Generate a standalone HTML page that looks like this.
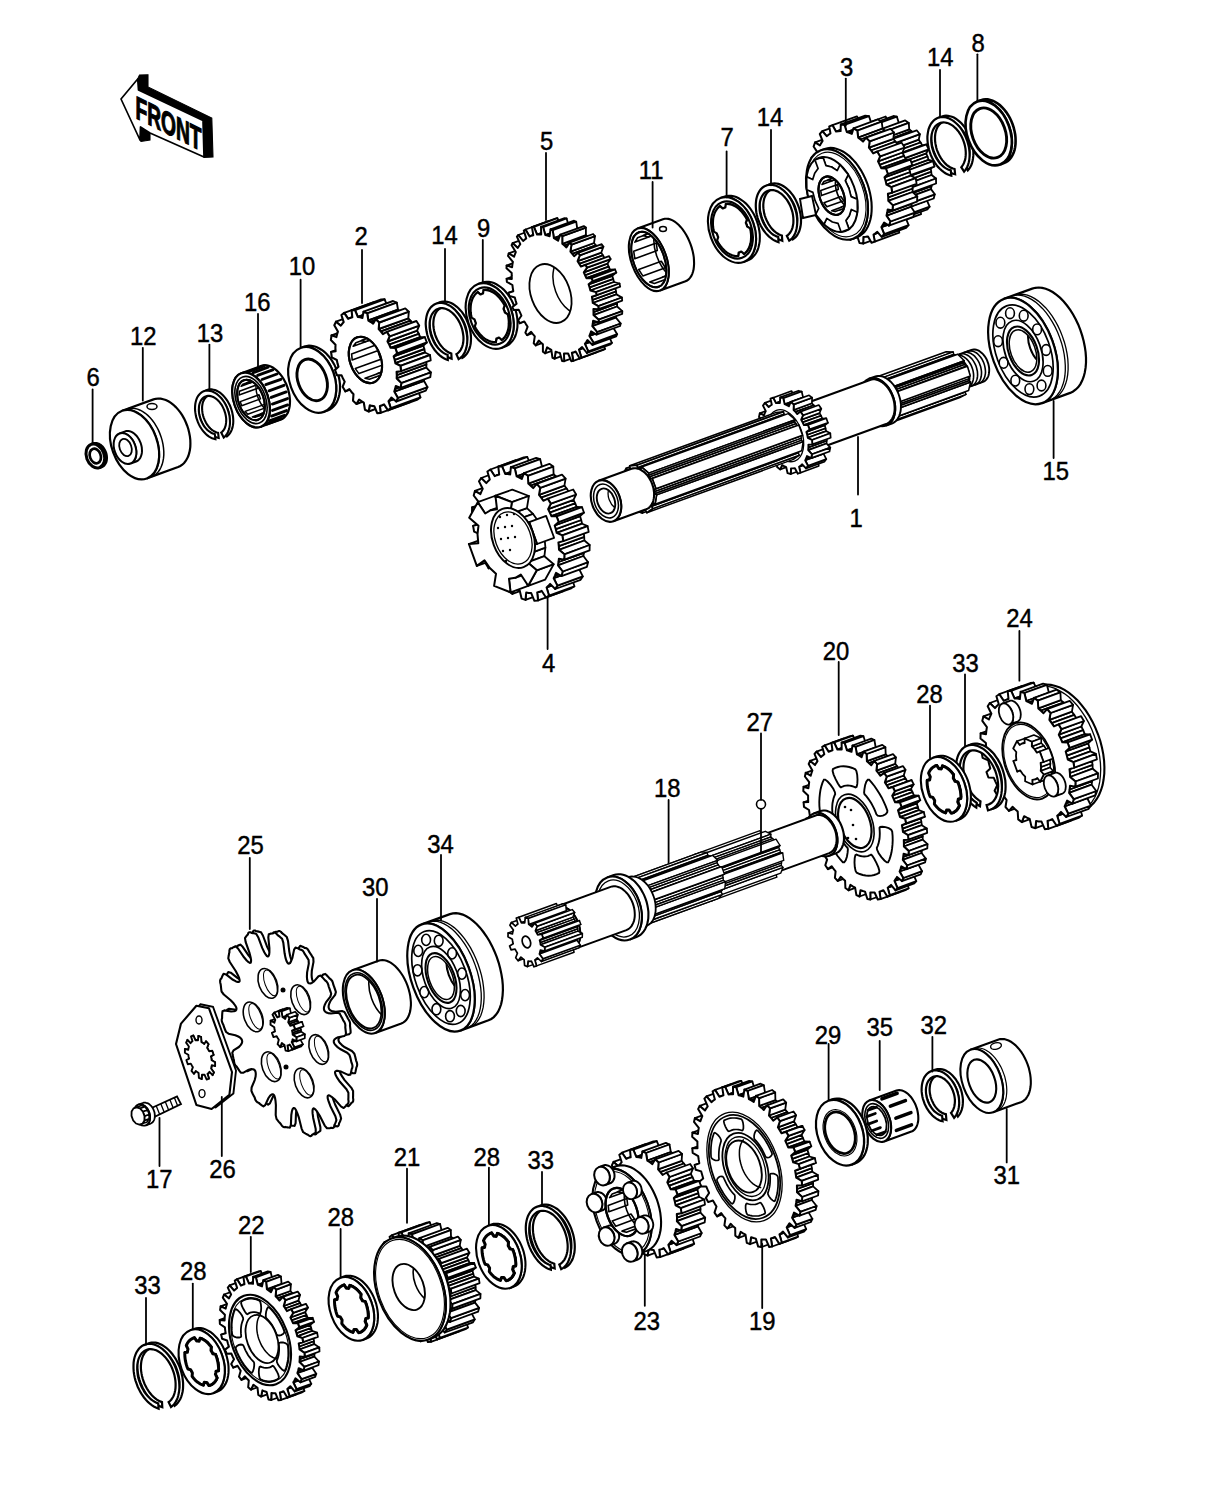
<!DOCTYPE html>
<html><head><meta charset="utf-8"><style>
html,body{margin:0;padding:0;background:#fff;}
svg{display:block;font-family:"Liberation Sans",sans-serif;}
</style></head><body>
<svg width="1224" height="1493" viewBox="0 0 1224 1493" stroke-linecap="round">
<polygon points="137.7,79 139.5,75 148,74.8 148,87 211.8,118 213,157 204,157.5 203,120.5 138.5,90" fill="#000" stroke="#000" stroke-width="1.1" />
<polygon points="140.5,127 150,133 150,140 141,141.5 140,140" fill="#000" stroke="#000" stroke-width="1.1" />
<polygon points="121,99 137.7,79 138.5,90 203,120.5 204,157 150,133 140.5,127 140,140" fill="#fff" stroke="#000" stroke-width="1.7" stroke-linejoin="round"/>
<text transform="translate(135.5,118) skewY(26.6) scale(0.6,1)" font-weight="bold" font-size="32" stroke="#000" stroke-width="1.2">FRONT</text>
<polygon points="91.1,444.4 93,443.8 93.9,443.5 94.8,443.4 95.8,443.4 96.7,443.5 97.7,443.8 98.7,444.2 99.6,444.7 100.5,445.3 101.4,446.1 102.3,446.9 103.1,447.8 103.8,448.9 104.4,450 105,451.1 105.5,452.3 105.9,453.5 106.2,454.8 106.4,456 106.5,457.3 106.5,458.5 106.4,459.7 106.2,460.8 105.9,461.9 105.5,462.9 105,463.8 104.4,464.6 103.8,465.4 103,466 102.2,466.5 101.4,466.9 99.5,467.6 100.4,467.2 101.1,466.7 101.9,466.1 102.5,465.3 103.1,464.5 103.6,463.6 104,462.6 104.3,461.5 104.5,460.3 104.6,459.2 104.6,457.9 104.5,456.7 104.3,455.4 104,454.2 103.6,453 103.1,451.8 102.6,450.6 101.9,449.5 101.2,448.5 100.4,447.6 99.6,446.8 98.7,446 97.7,445.4 96.8,444.9 95.8,444.5 94.8,444.2 93.9,444.1 92.9,444.1 92,444.2 91.1,444.4" fill="#fff" stroke="#000" stroke-width="3" />
<ellipse cx="95.3" cy="456" rx="8.9" ry="12.3" transform="rotate(-20 95.3 456)" fill="#fff" stroke="#000" stroke-width="3"/>
<ellipse cx="95.3" cy="456" rx="5.4" ry="7.5" transform="rotate(-20 95.3 456)" fill="#fff" stroke="#000" stroke-width="2.7"/>
<text transform="translate(93.2,385.6) scale(0.9,1)" text-anchor="middle" font-size="26.5" stroke="#000" stroke-width="0.45">6</text>
<line x1="92.6" y1="389.5" x2="92.6" y2="443.8" stroke="#000" stroke-width="1.8"/>
<polygon points="122.2,410.8 153.5,399.4 155.8,398.8 158.2,398.5 160.7,398.6 163.2,399.2 165.8,400 168.4,401.3 170.9,402.9 173.4,404.8 175.8,407.1 178.1,409.6 180.3,412.4 182.3,415.4 184.1,418.6 185.7,422 187.1,425.5 188.3,429 189.2,432.7 189.9,436.3 190.3,439.9 190.4,443.4 190.3,446.8 189.9,450.1 189.2,453.2 188.3,456 187.1,458.6 185.7,461 184.1,463 182.3,464.7 180.3,466 178.1,467 146.8,478.4 149,477.4 151,476.1 152.8,474.4 154.4,472.3 155.8,470 157,467.4 157.9,464.5 158.6,461.5 159,458.2 159.1,454.8 159,451.3 158.6,447.7 157.9,444 157,440.4 155.8,436.8 154.4,433.3 152.8,430 151,426.8 149,423.8 146.8,421 144.5,418.4 142.1,416.2 139.6,414.3 137.1,412.7 134.5,411.4 131.9,410.5 129.4,410 126.9,409.9 124.5,410.1 122.2,410.8" fill="#fff" stroke="#000" stroke-width="2.2" />
<ellipse cx="134.5" cy="444.6" rx="22.7" ry="36" transform="rotate(-20 134.5 444.6)" fill="#fff" stroke="#000" stroke-width="2.2"/>
<polyline points="127.6,408.8 130,408.3 132.5,408.2 135,408.5 137.6,409.1 140.2,410.2 142.8,411.6 145.3,413.3 147.8,415.4 150.2,417.8 152.5,420.5 154.6,423.4 156.5,426.5 158.3,429.9 159.8,433.4 161.1,436.9 162.2,440.6 163,444.3 163.5,447.9 163.8,451.5 163.8,455 163.5,458.4 162.9,461.6 162.1,464.6 161,467.3 159.7,469.8 158.1,472 156.3,473.8 154.4,475.3 152.2,476.4" fill="none" stroke="#000" stroke-width="1.5" />
<polygon points="119.5,433.5 125.2,431.4 126.2,431.1 127.3,431 128.5,431 129.7,431.2 130.9,431.6 132,432.2 133.2,432.9 134.4,433.7 135.4,434.7 136.5,435.8 137.5,437 138.4,438.4 139.2,439.8 139.9,441.3 140.6,442.8 141.1,444.4 141.5,446 141.8,447.7 141.9,449.3 142,450.8 141.9,452.4 141.7,453.8 141.3,455.2 140.9,456.5 140.3,457.7 139.7,458.7 138.9,459.6 138.1,460.4 137.1,461 136.1,461.5 130.5,463.5 131.5,463.1 132.4,462.5 133.3,461.7 134,460.8 134.7,459.7 135.3,458.5 135.7,457.3 136,455.9 136.2,454.4 136.3,452.9 136.3,451.3 136.1,449.7 135.8,448.1 135.4,446.5 134.9,444.9 134.3,443.3 133.6,441.8 132.7,440.4 131.8,439.1 130.9,437.9 129.8,436.7 128.7,435.8 127.6,434.9 126.4,434.2 125.2,433.7 124,433.3 122.9,433.1 121.7,433 120.6,433.2 119.5,433.5" fill="#fff" stroke="#000" stroke-width="2" />
<ellipse cx="125" cy="448.5" rx="10.6" ry="16" transform="rotate(-20 125 448.5)" fill="#fff" stroke="#000" stroke-width="2"/>
<ellipse cx="125.5" cy="447.5" rx="5.9" ry="9" transform="rotate(-20 125.5 447.5)" fill="#fff" stroke="#000" stroke-width="1.8"/>
<ellipse cx="152" cy="406.6" rx="5" ry="3" fill="#fff" stroke="#000" stroke-width="1.5"/>
<text transform="translate(143.3,344.6) scale(0.9,1)" text-anchor="middle" font-size="26.5" stroke="#000" stroke-width="0.45">12</text>
<line x1="142.8" y1="347.8" x2="142.8" y2="400.5" stroke="#000" stroke-width="1.8"/>
<polygon points="218.7,438 217,437.6 215.4,437 213.7,436.2 212,435.2 210.4,433.9 208.8,432.5 207.3,430.9 205.9,429.2 204.6,427.3 203.3,425.3 202.2,423.2 201.2,421 200.4,418.7 199.6,416.4 199.1,414.1 198.6,411.7 198.4,409.4 198.3,407.1 198.3,404.9 198.6,402.8 199,400.7 199.5,398.8 200.2,397 201,395.4 202,394 203.1,392.7 204.3,391.6 205.6,390.7 207,390.1 208.5,389.6 210.1,389.4 211.7,389.4 213.3,389.7 215,390.1 216.7,390.8 218.3,391.7 220,392.7 221.6,394 223.2,395.5 224.6,397.1 226,398.9 227.4,400.8 228.6,402.9 229.7,405 230.6,407.2 231.4,409.5 232.1,411.8 232.6,414.2 233,416.5 233.2,418.8 233.3,421.1 233.2,423.3 232.9,425.4 232.5,427.4 231.9,429.3 231.2,431 230.3,432.6 229.3,434 228.2,435.2 227,436.3 224.5,431.4 225.5,430.6 226.4,429.6 227.2,428.5 227.8,427.3 228.4,425.9 228.9,424.5 229.2,422.9 229.4,421.2 229.5,419.5 229.4,417.7 229.3,415.9 229,414.1 228.6,412.3 228,410.4 227.4,408.7 226.6,406.9 225.8,405.2 224.8,403.6 223.8,402.1 222.7,400.7 221.6,399.5 220.3,398.3 219.1,397.3 217.8,396.5 216.5,395.8 215.2,395.3 213.9,394.9 212.6,394.7 211.3,394.7 210.1,394.9 208.9,395.2 207.8,395.8 206.8,396.4 205.8,397.3 205,398.3 204.2,399.4 203.6,400.7 203,402.1 202.6,403.6 202.3,405.2 202.1,406.8 202.1,408.6 202.2,410.4 202.4,412.2 202.7,414 203.1,415.8 203.7,417.6 204.4,419.4 205.2,421.1 206,422.8 207,424.4 208.1,425.9 209.2,427.2 210.4,428.5 211.6,429.6 212.9,430.5 214.1,431.3 215.5,432 216.8,432.5 218.1,432.8" fill="#fff" stroke="#000" stroke-width="2.1" />
<polygon points="215.4,439.2 213.8,438.8 212.1,438.2 210.4,437.4 208.7,436.4 207.1,435.1 205.6,433.7 204,432.1 202.6,430.4 201.3,428.5 200,426.5 198.9,424.4 197.9,422.2 197.1,419.9 196.3,417.6 195.8,415.3 195.4,412.9 195.1,410.6 195,408.3 195.1,406.1 195.3,404 195.7,401.9 196.2,400 196.9,398.2 197.7,396.6 198.7,395.2 199.8,393.9 201,392.8 202.3,391.9 203.7,391.3 205.2,390.8 206.8,390.6 208.4,390.6 210,390.9 211.7,391.3 213.4,392 215,392.9 216.7,393.9 218.3,395.2 219.9,396.7 221.4,398.3 222.8,400.1 224.1,402 225.3,404.1 226.4,406.2 227.3,408.4 228.1,410.7 228.8,413 229.4,415.4 229.7,417.7 229.9,420 230,422.3 229.9,424.5 229.6,426.6 229.2,428.6 228.6,430.5 227.9,432.2 227,433.8 226,435.2 224.9,436.4 223.7,437.5 221.2,432.6 222.2,431.8 223.1,430.8 223.9,429.7 224.6,428.5 225.1,427.1 225.6,425.7 225.9,424.1 226.1,422.4 226.2,420.7 226.2,418.9 226,417.1 225.7,415.3 225.3,413.5 224.7,411.6 224.1,409.9 223.3,408.1 222.5,406.4 221.6,404.8 220.5,403.3 219.4,401.9 218.3,400.7 217,399.5 215.8,398.5 214.5,397.7 213.2,397 211.9,396.5 210.6,396.1 209.3,395.9 208,395.9 206.8,396.1 205.6,396.4 204.5,396.9 203.5,397.6 202.5,398.5 201.7,399.5 200.9,400.6 200.3,401.9 199.7,403.3 199.3,404.8 199,406.4 198.9,408 198.8,409.8 198.9,411.6 199.1,413.4 199.4,415.2 199.9,417 200.4,418.8 201.1,420.6 201.9,422.3 202.8,424 203.7,425.6 204.8,427.1 205.9,428.4 207.1,429.7 208.3,430.8 209.6,431.7 210.9,432.5 212.2,433.2 213.5,433.7 214.8,434" fill="#fff" stroke="#000" stroke-width="2.1" />
<text transform="translate(210,341.6) scale(0.9,1)" text-anchor="middle" font-size="26.5" stroke="#000" stroke-width="0.45">13</text>
<line x1="209.4" y1="344.6" x2="209.4" y2="390" stroke="#000" stroke-width="1.8"/>
<polygon points="241.3,373.2 261.5,365.9 263.2,365.4 265,365.2 266.9,365.4 268.8,365.8 270.8,366.5 272.8,367.5 274.7,368.8 276.6,370.4 278.5,372.2 280.2,374.2 281.9,376.4 283.5,378.8 284.9,381.4 286.2,384 287.3,386.8 288.2,389.6 288.9,392.5 289.5,395.4 289.8,398.2 290,401 289.9,403.7 289.7,406.2 289.2,408.6 288.5,410.9 287.7,412.9 286.6,414.7 285.4,416.3 284.1,417.6 282.6,418.7 281,419.4 260.7,426.8 262.4,426 263.9,425 265.2,423.7 266.4,422.1 267.5,420.3 268.3,418.2 269,416 269.5,413.6 269.7,411 269.8,408.3 269.6,405.6 269.3,402.7 268.7,399.8 268,397 267.1,394.2 266,391.4 264.7,388.7 263.3,386.2 261.7,383.8 260,381.5 258.3,379.5 256.4,377.7 254.5,376.2 252.6,374.9 250.6,373.9 248.6,373.2 246.7,372.7 244.8,372.6 243,372.8 241.3,373.2" fill="#fff" stroke="#000" stroke-width="2.2" />
<ellipse cx="251" cy="400" rx="17.1" ry="28.5" transform="rotate(-20 251 400)" fill="#fff" stroke="#000" stroke-width="2.2"/>
<line x1="248.6" y1="371.6" x2="263.6" y2="366.1" stroke="#000" stroke-width="2.9"/>
<line x1="253.1" y1="372.7" x2="268.1" y2="367.2" stroke="#000" stroke-width="2.9"/>
<line x1="257.6" y1="375.4" x2="272.7" y2="369.9" stroke="#000" stroke-width="2.9"/>
<line x1="262" y1="379.5" x2="277" y2="374" stroke="#000" stroke-width="2.9"/>
<line x1="265.8" y1="384.7" x2="280.9" y2="379.3" stroke="#000" stroke-width="2.9"/>
<line x1="269" y1="390.8" x2="284" y2="385.3" stroke="#000" stroke-width="2.9"/>
<line x1="271.2" y1="397.4" x2="286.2" y2="391.9" stroke="#000" stroke-width="2.9"/>
<line x1="272.4" y1="404.1" x2="287.5" y2="398.6" stroke="#000" stroke-width="2.9"/>
<line x1="272.5" y1="410.4" x2="287.6" y2="404.9" stroke="#000" stroke-width="2.9"/>
<line x1="271.5" y1="416.1" x2="286.5" y2="410.6" stroke="#000" stroke-width="2.9"/>
<line x1="269.4" y1="420.8" x2="284.5" y2="415.3" stroke="#000" stroke-width="2.9"/>
<line x1="266.5" y1="424.1" x2="281.5" y2="418.7" stroke="#000" stroke-width="2.9"/>
<ellipse cx="251" cy="400" rx="17.1" ry="28.5" transform="rotate(-20 251 400)" fill="#fff" stroke="#000" stroke-width="2.2"/>
<ellipse cx="251" cy="400" rx="14.7" ry="24.5" transform="rotate(-20 251 400)" fill="#fff" stroke="#000" stroke-width="1.6"/>
<ellipse cx="251" cy="400" rx="12.6" ry="21" transform="rotate(-20 251 400)" fill="#fff" stroke="#000" stroke-width="2"/>
<clipPath id="c1"><ellipse cx="251" cy="400" rx="12.6" ry="21" transform="rotate(-20 251 400)"/></clipPath>
<g clip-path="url(#c1)">
<polygon points="260.9,413.8 259,415.9 277.8,409.1 279.7,406.9" fill="#fff" stroke="#000" stroke-width="1.5" stroke-linejoin="round"/>
<polygon points="255.1,417.3 252.3,416.9 271.1,410.1 273.9,410.5" fill="#fff" stroke="#000" stroke-width="1.5" stroke-linejoin="round"/>
<polygon points="247.8,414.2 245.1,411.4 263.9,404.6 266.6,407.4" fill="#fff" stroke="#000" stroke-width="1.5" stroke-linejoin="round"/>
<polygon points="241.7,405.7 240.2,401.6 259,394.8 260.5,398.9" fill="#fff" stroke="#000" stroke-width="1.5" stroke-linejoin="round"/>
<polygon points="239.1,395 239.4,391.2 258.2,384.3 257.9,388.2" fill="#fff" stroke="#000" stroke-width="1.5" stroke-linejoin="round"/>
<polygon points="241.1,386.2 243,384.1 261.8,377.3 259.9,379.4" fill="#fff" stroke="#000" stroke-width="1.5" stroke-linejoin="round"/>
<polygon points="246.9,382.7 249.7,383.1 268.5,376.3 265.7,375.9" fill="#fff" stroke="#000" stroke-width="1.5" stroke-linejoin="round"/>
<ellipse cx="269.8" cy="393.2" rx="12.6" ry="21" transform="rotate(-20 269.8 393.2)" fill="none" stroke="#000" stroke-width="1.5"/>
</g>
<ellipse cx="251" cy="400" rx="12.6" ry="21" transform="rotate(-20 251 400)" fill="none" stroke="#000" stroke-width="2"/>
<text transform="translate(257.2,310.6) scale(0.9,1)" text-anchor="middle" font-size="26.5" stroke="#000" stroke-width="0.45">16</text>
<line x1="258" y1="314" x2="258" y2="368" stroke="#000" stroke-width="1.8"/>
<polygon points="300.6,348 304.3,346.6 306.6,346 309,345.7 311.4,345.8 313.9,346.2 316.4,347 318.9,348.2 321.4,349.7 323.8,351.4 326.2,353.5 328.4,355.9 330.5,358.5 332.4,361.4 334.2,364.4 335.7,367.6 337,370.9 338.1,374.2 339,377.7 339.6,381.1 340,384.5 340,387.9 339.9,391.1 339.4,394.2 338.7,397.1 337.8,399.9 336.6,402.4 335.2,404.6 333.5,406.5 331.7,408.2 329.7,409.5 327.6,410.5 323.8,411.8 326,410.9 328,409.6 329.8,407.9 331.4,406 332.8,403.7 334,401.2 335,398.5 335.7,395.6 336.1,392.5 336.3,389.2 336.2,385.9 335.8,382.5 335.2,379 334.4,375.6 333.3,372.2 332,368.9 330.4,365.8 328.7,362.7 326.7,359.9 324.6,357.3 322.4,354.9 320.1,352.8 317.7,351 315.2,349.5 312.7,348.4 310.2,347.6 307.7,347.1 305.2,347.1 302.8,347.3 300.6,348" fill="#fff" stroke="#000" stroke-width="2.2" />
<ellipse cx="312.2" cy="379.9" rx="22.4" ry="34" transform="rotate(-20 312.2 379.9)" fill="#fff" stroke="#000" stroke-width="2.2"/>
<ellipse cx="312.2" cy="379.9" rx="14.2" ry="21.5" transform="rotate(-20 312.2 379.9)" fill="#fff" stroke="#000" stroke-width="2.9"/>
<text transform="translate(302,275.4) scale(0.9,1)" text-anchor="middle" font-size="26.5" stroke="#000" stroke-width="0.45">10</text>
<line x1="300.6" y1="279.7" x2="300.6" y2="347" stroke="#000" stroke-width="1.8"/>
<polygon points="349.3,389.1 345.4,391.4 375,380.6 378.9,378.3" fill="#fff" stroke="#000" stroke-width="1.9" stroke-linejoin="round"/>
<polygon points="331.1,352 335.6,351.3 365.2,340.6 360.7,341.3" fill="#fff" stroke="#000" stroke-width="1.9" stroke-linejoin="round"/>
<polygon points="359.1,399.5 356.5,404 386.1,393.2 388.7,388.7" fill="#fff" stroke="#000" stroke-width="1.9" stroke-linejoin="round"/>
<polygon points="331.5,335.3 336.4,337.1 366,326.3 361.1,324.5" fill="#fff" stroke="#000" stroke-width="1.9" stroke-linejoin="round"/>
<polygon points="336,321.7 340.8,325.7 370.4,315 365.6,310.9" fill="#fff" stroke="#000" stroke-width="1.9" stroke-linejoin="round"/>
<polygon points="369.8,405.3 368.7,411.5 398.3,400.7 399.4,394.6" fill="#fff" stroke="#000" stroke-width="1.9" stroke-linejoin="round"/>
<polygon points="379.9,405.9 380.6,412.9 410.2,402.2 409.5,395.1" fill="#fff" stroke="#000" stroke-width="1.9" stroke-linejoin="round"/>
<polygon points="344.2,312.9 348.2,318.8 377.8,308 373.8,302.2" fill="#fff" stroke="#000" stroke-width="1.9" stroke-linejoin="round"/>
<polygon points="350.2,317.9 352.3,317.3 381.9,306.5 379.8,307.1" fill="#fff" stroke="#000" stroke-width="1.9" stroke-linejoin="round"/>
<polygon points="384,404.4 382,405.3 411.6,394.5 413.6,393.7" fill="#fff" stroke="#000" stroke-width="1.9" stroke-linejoin="round"/>
<polygon points="390.8,408.2 388,410.3 417.6,399.5 420.4,397.4" fill="#fff" stroke="#000" stroke-width="1.9" stroke-linejoin="round"/>
<polygon points="351.6,310.3 355,310 384.6,299.3 381.2,299.5" fill="#fff" stroke="#000" stroke-width="1.9" stroke-linejoin="round"/>
<polygon points="388.5,401.1 390.8,408.2 420.4,397.4 418.1,390.3" fill="#fff" stroke="#000" stroke-width="1.9" stroke-linejoin="round"/>
<polygon points="355,310 357.8,316.9 387.4,306.2 384.6,299.3" fill="#fff" stroke="#000" stroke-width="1.9" stroke-linejoin="round"/>
<polygon points="390,399.4 388.5,401.1 418.1,390.3 419.6,388.6" fill="#fff" stroke="#000" stroke-width="1.9" stroke-linejoin="round"/>
<polygon points="357.8,316.9 360.1,317.3 389.7,306.5 387.4,306.2" fill="#fff" stroke="#000" stroke-width="1.9" stroke-linejoin="round"/>
<polygon points="391.4,397.5 390,399.4 419.6,388.6 421,386.7" fill="#fff" stroke="#000" stroke-width="1.9" stroke-linejoin="round"/>
<polygon points="360.1,317.3 362.4,317.9 392,307.1 389.7,306.5" fill="#fff" stroke="#000" stroke-width="1.9" stroke-linejoin="round"/>
<polygon points="363.5,311.7 367.2,313.4 396.8,302.6 393.1,301" fill="#fff" stroke="#000" stroke-width="1.9" stroke-linejoin="round"/>
<polygon points="397.9,397.9 396.2,401.5 425.8,390.7 427.5,387.1" fill="#fff" stroke="#000" stroke-width="1.9" stroke-linejoin="round"/>
<polygon points="367.2,313.4 368.4,320.5 398,309.7 396.8,302.6" fill="#fff" stroke="#000" stroke-width="1.9" stroke-linejoin="round"/>
<polygon points="394.3,391.6 397.9,397.9 427.5,387.1 423.9,380.8" fill="#fff" stroke="#000" stroke-width="1.9" stroke-linejoin="round"/>
<polygon points="395.1,388.9 394.3,391.6 423.9,380.8 424.7,378.2" fill="#fff" stroke="#000" stroke-width="1.9" stroke-linejoin="round"/>
<polygon points="368.4,320.5 370.8,322 400.4,311.2 398,309.7" fill="#fff" stroke="#000" stroke-width="1.9" stroke-linejoin="round"/>
<polygon points="370.8,322 373.1,323.7 402.7,312.9 400.4,311.2" fill="#fff" stroke="#000" stroke-width="1.9" stroke-linejoin="round"/>
<polygon points="395.8,386.1 395.1,388.9 424.7,378.2 425.4,375.4" fill="#fff" stroke="#000" stroke-width="1.9" stroke-linejoin="round"/>
<polygon points="396.8,375.2 396.7,378.4 426.3,367.6 426.4,364.4" fill="#fff" stroke="#000" stroke-width="1.9" stroke-linejoin="round"/>
<polygon points="378.7,329 380.9,331.5 410.5,320.7 408.3,318.3" fill="#fff" stroke="#000" stroke-width="1.9" stroke-linejoin="round"/>
<polygon points="396.7,378.4 401.3,383.1 430.9,372.4 426.3,367.6" fill="#fff" stroke="#000" stroke-width="1.9" stroke-linejoin="round"/>
<polygon points="379.2,322.5 378.7,329 408.3,318.3 408.8,311.7" fill="#fff" stroke="#000" stroke-width="1.9" stroke-linejoin="round"/>
<polygon points="401.3,383.1 400.7,387.9 430.3,377.1 430.9,372.4" fill="#fff" stroke="#000" stroke-width="1.9" stroke-linejoin="round"/>
<polygon points="375.7,319.2 379.2,322.5 408.8,311.7 405.3,308.4" fill="#fff" stroke="#000" stroke-width="1.9" stroke-linejoin="round"/>
<polygon points="380.9,331.5 382.9,334.1 412.5,323.3 410.5,320.7" fill="#fff" stroke="#000" stroke-width="1.9" stroke-linejoin="round"/>
<polygon points="396.6,371.9 396.8,375.2 426.4,364.4 426.2,361.1" fill="#fff" stroke="#000" stroke-width="1.9" stroke-linejoin="round"/>
<polygon points="394.7,359.8 395.4,363.2 425,352.5 424.3,349" fill="#fff" stroke="#000" stroke-width="1.9" stroke-linejoin="round"/>
<polygon points="387.5,341.5 389.2,344.6 418.8,333.8 417.1,330.7" fill="#fff" stroke="#000" stroke-width="1.9" stroke-linejoin="round"/>
<polygon points="393.7,356.4 394.7,359.8 424.3,349 423.3,345.6" fill="#fff" stroke="#000" stroke-width="1.9" stroke-linejoin="round"/>
<polygon points="389.2,344.6 390.6,347.8 420.2,337.1 418.8,333.8" fill="#fff" stroke="#000" stroke-width="1.9" stroke-linejoin="round"/>
<polygon points="395.4,363.2 400.4,365.8 430,355 425,352.5" fill="#fff" stroke="#000" stroke-width="1.9" stroke-linejoin="round"/>
<polygon points="389.6,336.4 387.5,341.5 417.1,330.7 419.2,325.6" fill="#fff" stroke="#000" stroke-width="1.9" stroke-linejoin="round"/>
<polygon points="390.6,347.8 395.3,348 424.9,337.2 420.2,337.1" fill="#fff" stroke="#000" stroke-width="1.9" stroke-linejoin="round"/>
<polygon points="397.2,353.3 393.7,356.4 423.3,345.6 426.8,342.5" fill="#fff" stroke="#000" stroke-width="1.9" stroke-linejoin="round"/>
<polygon points="400.4,365.8 401.1,371.2 430.7,360.4 430,355" fill="#fff" stroke="#000" stroke-width="1.9" stroke-linejoin="round"/>
<polygon points="386.8,331.8 389.6,336.4 419.2,325.6 416.4,321" fill="#fff" stroke="#000" stroke-width="1.9" stroke-linejoin="round"/>
<polygon points="395.3,348 397.2,353.3 426.8,342.5 424.9,337.2" fill="#fff" stroke="#000" stroke-width="1.9" stroke-linejoin="round"/>
<polygon points="390.6,347.8 395.3,348 397.2,353.3 393.7,356.4 394.7,359.8 395.4,363.2 400.4,365.8 401.1,371.2 396.6,371.9 396.8,375.2 396.7,378.4 401.3,383.1 400.7,387.9 395.8,386.1 395.1,388.9 394.3,391.6 397.9,397.9 396.2,401.5 391.4,397.5 390,399.4 388.5,401.1 390.8,408.2 388,410.3 384,404.4 382,405.3 379.9,405.9 380.6,412.9 377.2,413.2 374.4,406.3 372.1,405.9 369.8,405.3 368.7,411.5 365,409.8 363.8,402.7 361.4,401.2 359.1,399.5 356.5,404 353,400.7 353.5,394.2 351.3,391.7 349.3,389.1 345.4,391.4 342.6,386.8 344.7,381.7 343,378.6 341.6,375.4 336.9,375.2 335,369.9 338.5,366.8 337.5,363.4 336.8,360 331.8,357.4 331.1,352 335.6,351.3 335.4,348 335.5,344.8 330.9,340.1 331.5,335.3 336.4,337.1 337.1,334.3 337.9,331.6 334.3,325.3 336,321.7 340.8,325.7 342.2,323.8 343.7,322.1 341.4,315 344.2,312.9 348.2,318.8 350.2,317.9 352.3,317.3 351.6,310.3 355,310 357.8,316.9 360.1,317.3 362.4,317.9 363.5,311.7 367.2,313.4 368.4,320.5 370.8,322 373.1,323.7 375.7,319.2 379.2,322.5 378.7,329 380.9,331.5 382.9,334.1 386.8,331.8 389.6,336.4 387.5,341.5 389.2,344.6" fill="#fff" stroke="#000" stroke-width="2.1" stroke-linejoin="round"/>
<ellipse cx="365.4" cy="359.9" rx="15.4" ry="24" transform="rotate(-20 365.4 359.9)" fill="#fff" stroke="#000" stroke-width="2.1"/>
<clipPath id="c2"><ellipse cx="365.4" cy="359.9" rx="15.4" ry="24" transform="rotate(-20 365.4 359.9)"/></clipPath>
<g clip-path="url(#c2)">
<polygon points="377.6,373.5 374.9,377.1 403.1,366.9 405.8,363.2" fill="#fff" stroke="#000" stroke-width="1.6" stroke-linejoin="round"/>
<polygon points="369.4,379.2 365,378.2 393.2,368 397.6,368.9" fill="#fff" stroke="#000" stroke-width="1.6" stroke-linejoin="round"/>
<polygon points="358.9,373.6 355.3,368.6 383.5,358.4 387.1,363.4" fill="#fff" stroke="#000" stroke-width="1.6" stroke-linejoin="round"/>
<polygon points="352.2,360 351.6,353.9 379.8,343.6 380.3,349.8" fill="#fff" stroke="#000" stroke-width="1.6" stroke-linejoin="round"/>
<polygon points="353.2,346.3 355.9,342.7 384.1,332.4 381.4,336.1" fill="#fff" stroke="#000" stroke-width="1.6" stroke-linejoin="round"/>
<polygon points="361.4,340.6 365.8,341.6 394,331.3 389.6,330.3" fill="#fff" stroke="#000" stroke-width="1.6" stroke-linejoin="round"/>
<ellipse cx="393.6" cy="349.6" rx="15.4" ry="24" transform="rotate(-20 393.6 349.6)" fill="none" stroke="#000" stroke-width="1.6"/>
</g>
<ellipse cx="365.4" cy="359.9" rx="15.4" ry="24" transform="rotate(-20 365.4 359.9)" fill="none" stroke="#000" stroke-width="2.1"/>
<text transform="translate(361.2,244.6) scale(0.9,1)" text-anchor="middle" font-size="26.5" stroke="#000" stroke-width="0.45">2</text>
<line x1="362" y1="250" x2="362" y2="303" stroke="#000" stroke-width="1.8"/>
<polygon points="451.6,358.6 449.6,357.9 447.6,356.9 445.7,355.7 443.8,354.2 441.9,352.5 440.1,350.7 438.5,348.6 436.9,346.4 435.4,344 434.1,341.5 432.9,338.9 431.9,336.2 431.1,333.5 430.4,330.7 429.9,328 429.6,325.2 429.5,322.5 429.6,319.9 429.8,317.4 430.3,315 430.9,312.7 431.7,310.6 432.7,308.7 433.8,307 435.1,305.5 436.5,304.2 438.1,303.1 439.7,302.4 441.5,301.8 443.3,301.5 445.2,301.5 447.1,301.8 449.1,302.3 451.1,303 453,304 455,305.3 456.9,306.8 458.7,308.5 460.5,310.4 462.2,312.4 463.7,314.7 465.2,317.1 466.5,319.6 467.6,322.2 468.6,324.9 469.5,327.6 470.1,330.3 470.6,333.1 470.9,335.8 471,338.5 470.9,341.1 470.7,343.6 470.2,346 469.6,348.3 468.7,350.4 467.8,352.3 466.6,354 465.3,355.5 463.9,356.8 462.3,357.8 460.1,352.8 461.4,351.9 462.6,350.9 463.6,349.7 464.6,348.3 465.4,346.7 466,345 466.5,343.2 466.9,341.2 467.1,339.2 467.2,337 467.1,334.8 466.9,332.6 466.5,330.4 466,328.1 465.3,325.9 464.5,323.7 463.5,321.6 462.4,319.5 461.3,317.6 460,315.7 458.6,314 457.2,312.5 455.7,311.1 454.1,309.9 452.5,308.9 450.9,308 449.3,307.4 447.7,307 446.1,306.8 444.6,306.8 443.1,307.1 441.6,307.5 440.3,308.2 439,309 437.9,310.1 436.8,311.3 435.9,312.7 435.1,314.3 434.5,316 433.9,317.8 433.6,319.8 433.4,321.8 433.3,324 433.4,326.2 433.7,328.4 434.1,330.7 434.6,332.9 435.3,335.1 436.1,337.3 437.1,339.5 438.2,341.5 439.3,343.4 440.6,345.3 442,346.9 443.4,348.5 445,349.9 446.5,351 448.1,352.1 449.7,352.9 451.3,353.5" fill="#fff" stroke="#000" stroke-width="2.2" />
<polygon points="447.8,360 445.8,359.3 443.9,358.3 441.9,357 440,355.6 438.2,353.9 436.4,352 434.7,350 433.1,347.7 431.7,345.4 430.4,342.9 429.2,340.3 428.2,337.6 427.3,334.8 426.7,332.1 426.2,329.3 425.9,326.6 425.7,323.9 425.8,321.3 426.1,318.8 426.5,316.4 427.1,314.1 427.9,312 428.9,310.1 430,308.4 431.3,306.8 432.7,305.6 434.3,304.5 435.9,303.7 437.7,303.2 439.5,302.9 441.4,302.9 443.4,303.1 445.3,303.6 447.3,304.4 449.3,305.4 451.2,306.7 453.1,308.1 455,309.8 456.7,311.7 458.4,313.8 460,316 461.4,318.4 462.7,320.9 463.9,323.5 464.9,326.2 465.7,329 466.4,331.7 466.9,334.5 467.2,337.2 467.3,339.9 467.2,342.5 466.9,345 466.4,347.4 465.8,349.7 465,351.7 464,353.7 462.9,355.4 461.6,356.9 460.1,358.1 458.6,359.1 456.4,354.1 457.6,353.3 458.8,352.3 459.9,351 460.8,349.6 461.6,348.1 462.3,346.4 462.8,344.5 463.2,342.6 463.4,340.5 463.5,338.4 463.4,336.2 463.1,334 462.7,331.7 462.2,329.5 461.5,327.2 460.7,325.1 459.8,322.9 458.7,320.9 457.5,318.9 456.2,317.1 454.9,315.4 453.4,313.9 451.9,312.5 450.4,311.3 448.8,310.2 447.2,309.4 445.5,308.8 443.9,308.4 442.4,308.2 440.8,308.2 439.3,308.4 437.9,308.9 436.5,309.5 435.3,310.4 434.1,311.4 433.1,312.7 432.1,314.1 431.3,315.6 430.7,317.3 430.2,319.2 429.8,321.2 429.6,323.2 429.6,325.4 429.6,327.6 429.9,329.8 430.3,332 430.8,334.3 431.5,336.5 432.4,338.7 433.3,340.8 434.4,342.9 435.6,344.8 436.9,346.6 438.2,348.3 439.7,349.8 441.2,351.2 442.8,352.4 444.3,353.4 446,354.2 447.6,354.8" fill="#fff" stroke="#000" stroke-width="2.2" />
<text transform="translate(444.5,244.2) scale(0.9,1)" text-anchor="middle" font-size="26.5" stroke="#000" stroke-width="0.45">14</text>
<line x1="445" y1="249" x2="445" y2="302" stroke="#000" stroke-width="1.8"/>
<polygon points="478.1,284.1 481.8,282.7 484.1,282.1 486.5,281.8 488.9,281.9 491.4,282.3 493.9,283.1 496.4,284.3 498.9,285.8 501.3,287.5 503.7,289.6 505.9,292 508,294.6 509.9,297.5 511.7,300.5 513.2,303.7 514.5,307 515.6,310.3 516.5,313.8 517.1,317.2 517.5,320.6 517.5,324 517.4,327.2 516.9,330.3 516.2,333.2 515.3,336 514.1,338.5 512.7,340.7 511,342.6 509.2,344.3 507.2,345.6 505.1,346.6 501.3,347.9 503.5,347 505.5,345.7 507.3,344 508.9,342.1 510.3,339.8 511.5,337.3 512.5,334.6 513.2,331.7 513.6,328.6 513.8,325.3 513.7,322 513.3,318.6 512.7,315.1 511.9,311.7 510.8,308.3 509.5,305 507.9,301.9 506.2,298.8 504.2,296 502.1,293.4 499.9,291 497.6,288.9 495.2,287.1 492.7,285.6 490.2,284.5 487.7,283.7 485.2,283.2 482.7,283.2 480.3,283.4 478.1,284.1" fill="#fff" stroke="#000" stroke-width="2.1" />
<ellipse cx="489.7" cy="316" rx="22.4" ry="34" transform="rotate(-20 489.7 316)" fill="#fff" stroke="#000" stroke-width="2.1"/>
<ellipse cx="489.7" cy="316" rx="19.5" ry="29.5" transform="rotate(-20 489.7 316)" fill="#fff" stroke="#000" stroke-width="2.1"/>
<polygon points="477.7,292.1 480.4,294.5 480.4,294.5 477.7,292.1" fill="#fff" stroke="#000" stroke-width="2" stroke-linejoin="round"/>
<polygon points="496.4,338.5 495.9,342 495.9,342 496.4,338.5" fill="#fff" stroke="#000" stroke-width="2" stroke-linejoin="round"/>
<polygon points="481.7,293.9 483,293.5 483,293.5 481.7,293.9" fill="#fff" stroke="#000" stroke-width="2" stroke-linejoin="round"/>
<polygon points="499,337.5 497.7,338.1 497.7,338.1 499,337.5" fill="#fff" stroke="#000" stroke-width="2" stroke-linejoin="round"/>
<polygon points="483.5,290 485.1,289.9 485.1,289.9 483.5,290" fill="#fff" stroke="#000" stroke-width="2" stroke-linejoin="round"/>
<polygon points="503,338.9 501.7,339.9 501.7,339.9 503,338.9" fill="#fff" stroke="#000" stroke-width="2" stroke-linejoin="round"/>
<polygon points="485.1,289.9 486.7,290.1 486.7,290.1 485.1,289.9" fill="#fff" stroke="#000" stroke-width="2" stroke-linejoin="round"/>
<polygon points="504.1,337.8 503,338.9 503,338.9 504.1,337.8" fill="#fff" stroke="#000" stroke-width="2" stroke-linejoin="round"/>
<polygon points="505.1,336.4 504.1,337.8 504.1,337.8 505.1,336.4" fill="#fff" stroke="#000" stroke-width="2" stroke-linejoin="round"/>
<polygon points="486.7,290.1 488.4,290.4 488.4,290.4 486.7,290.1" fill="#fff" stroke="#000" stroke-width="2" stroke-linejoin="round"/>
<polygon points="506.1,334.9 505.1,336.4 505.1,336.4 506.1,334.9" fill="#fff" stroke="#000" stroke-width="2" stroke-linejoin="round"/>
<polygon points="488.4,290.4 490.1,291 490.1,291 488.4,290.4" fill="#fff" stroke="#000" stroke-width="2" stroke-linejoin="round"/>
<polygon points="490.1,291 491.7,291.7 491.7,291.7 490.1,291" fill="#fff" stroke="#000" stroke-width="2" stroke-linejoin="round"/>
<polygon points="506.9,333.3 506.1,334.9 506.1,334.9 506.9,333.3" fill="#fff" stroke="#000" stroke-width="2" stroke-linejoin="round"/>
<polygon points="491.7,291.7 493.4,292.6 493.4,292.6 491.7,291.7" fill="#fff" stroke="#000" stroke-width="2" stroke-linejoin="round"/>
<polygon points="507.5,331.5 506.9,333.3 506.9,333.3 507.5,331.5" fill="#fff" stroke="#000" stroke-width="2" stroke-linejoin="round"/>
<polygon points="508.1,329.6 507.5,331.5 507.5,331.5 508.1,329.6" fill="#fff" stroke="#000" stroke-width="2" stroke-linejoin="round"/>
<polygon points="493.4,292.6 495,293.7 495,293.7 493.4,292.6" fill="#fff" stroke="#000" stroke-width="2" stroke-linejoin="round"/>
<polygon points="495,293.7 496.6,295 496.6,295 495,293.7" fill="#fff" stroke="#000" stroke-width="2" stroke-linejoin="round"/>
<polygon points="508.5,327.6 508.1,329.6 508.1,329.6 508.5,327.6" fill="#fff" stroke="#000" stroke-width="2" stroke-linejoin="round"/>
<polygon points="496.6,295 498.1,296.5 498.1,296.5 496.6,295" fill="#fff" stroke="#000" stroke-width="2" stroke-linejoin="round"/>
<polygon points="508.7,325.6 508.5,327.6 508.5,327.6 508.7,325.6" fill="#fff" stroke="#000" stroke-width="2" stroke-linejoin="round"/>
<polygon points="498.1,296.5 499.6,298 499.6,298 498.1,296.5" fill="#fff" stroke="#000" stroke-width="2" stroke-linejoin="round"/>
<polygon points="508.8,323.4 508.7,325.6 508.7,325.6 508.8,323.4" fill="#fff" stroke="#000" stroke-width="2" stroke-linejoin="round"/>
<polygon points="504.3,310.7 504.9,312.6 504.9,312.6 504.3,310.7" fill="#fff" stroke="#000" stroke-width="2" stroke-linejoin="round"/>
<polygon points="503.5,308.8 504.3,310.7 504.3,310.7 503.5,308.8" fill="#fff" stroke="#000" stroke-width="2" stroke-linejoin="round"/>
<polygon points="499.6,298 501,299.8 501,299.8 499.6,298" fill="#fff" stroke="#000" stroke-width="2" stroke-linejoin="round"/>
<polygon points="508.8,321.2 508.8,323.4 508.8,323.4 508.8,321.2" fill="#fff" stroke="#000" stroke-width="2" stroke-linejoin="round"/>
<polygon points="508.6,319 508.8,321.2 508.8,321.2 508.6,319" fill="#fff" stroke="#000" stroke-width="2" stroke-linejoin="round"/>
<polygon points="501,299.8 502.3,301.6 502.3,301.6 501,299.8" fill="#fff" stroke="#000" stroke-width="2" stroke-linejoin="round"/>
<polygon points="504.9,312.6 507.8,314.4 507.8,314.4 504.9,312.6" fill="#fff" stroke="#000" stroke-width="2" stroke-linejoin="round"/>
<polygon points="504.6,305.6 503.5,308.8 503.5,308.8 504.6,305.6" fill="#fff" stroke="#000" stroke-width="2" stroke-linejoin="round"/>
<polygon points="508.3,316.7 508.6,319 508.6,319 508.3,316.7" fill="#fff" stroke="#000" stroke-width="2" stroke-linejoin="round"/>
<polygon points="502.3,301.6 503.5,303.5 503.5,303.5 502.3,301.6" fill="#fff" stroke="#000" stroke-width="2" stroke-linejoin="round"/>
<polygon points="507.8,314.4 508.3,316.7 508.3,316.7 507.8,314.4" fill="#fff" stroke="#000" stroke-width="2" stroke-linejoin="round"/>
<polygon points="503.5,303.5 504.6,305.6 504.6,305.6 503.5,303.5" fill="#fff" stroke="#000" stroke-width="2" stroke-linejoin="round"/>
<polygon points="504.3,310.7 504.9,312.6 507.8,314.4 508.3,316.7 508.6,319 508.8,321.2 508.8,323.4 508.7,325.6 508.5,327.6 508.1,329.6 507.5,331.5 506.9,333.3 506.1,334.9 505.1,336.4 504.1,337.8 503,338.9 501.7,339.9 499,337.5 497.7,338.1 496.4,338.5 495.9,342 494.3,342.1 492.7,341.9 491,341.6 489.3,341 487.7,340.3 486,339.4 484.4,338.3 482.8,337 481.3,335.5 479.8,334 478.4,332.2 477.1,330.4 475.9,328.5 474.8,326.4 475.9,323.2 475.1,321.3 474.5,319.4 471.6,317.6 471.1,315.3 470.8,313 470.6,310.8 470.6,308.6 470.7,306.4 470.9,304.4 471.3,302.4 471.9,300.5 472.5,298.7 473.3,297.1 474.3,295.6 475.3,294.2 476.4,293.1 477.7,292.1 480.4,294.5 481.7,293.9 483,293.5 483.5,290 485.1,289.9 486.7,290.1 488.4,290.4 490.1,291 491.7,291.7 493.4,292.6 495,293.7 496.6,295 498.1,296.5 499.6,298 501,299.8 502.3,301.6 503.5,303.5 504.6,305.6 503.5,308.8" fill="#fff" stroke="#000" stroke-width="2.2" stroke-linejoin="round"/>
<text transform="translate(483.5,236.6) scale(0.9,1)" text-anchor="middle" font-size="26.5" stroke="#000" stroke-width="0.45">9</text>
<line x1="482.8" y1="240" x2="482.8" y2="282.8" stroke="#000" stroke-width="1.8"/>
<polygon points="508.6,292.8 513.3,291.2 536.9,282.6 532.2,284.2" fill="#fff" stroke="#000" stroke-width="1.8" stroke-linejoin="round"/>
<polygon points="524.3,321.4 519.7,323.2 543.2,314.6 547.9,312.8" fill="#fff" stroke="#000" stroke-width="1.8" stroke-linejoin="round"/>
<polygon points="531.1,331.8 527.1,335.2 550.7,326.6 554.7,323.2" fill="#fff" stroke="#000" stroke-width="1.8" stroke-linejoin="round"/>
<polygon points="506.6,278.8 511.8,278.9 535.4,270.3 530.2,270.2" fill="#fff" stroke="#000" stroke-width="1.8" stroke-linejoin="round"/>
<polygon points="506.6,265.5 512.1,267.2 535.7,258.6 530.2,256.9" fill="#fff" stroke="#000" stroke-width="1.8" stroke-linejoin="round"/>
<polygon points="538.8,340.6 535.7,345.4 559.3,336.8 562.4,332" fill="#fff" stroke="#000" stroke-width="1.8" stroke-linejoin="round"/>
<polygon points="508.7,253.4 514.1,256.7 537.7,248.1 532.2,244.8" fill="#fff" stroke="#000" stroke-width="1.8" stroke-linejoin="round"/>
<polygon points="547.1,347.3 545,353.3 568.6,344.7 570.7,338.7" fill="#fff" stroke="#000" stroke-width="1.8" stroke-linejoin="round"/>
<polygon points="512.6,243.1 517.8,247.9 541.4,239.3 536.2,234.5" fill="#fff" stroke="#000" stroke-width="1.8" stroke-linejoin="round"/>
<polygon points="555.6,351.7 554.7,358.7 578.3,350.1 579.2,343.1" fill="#fff" stroke="#000" stroke-width="1.8" stroke-linejoin="round"/>
<polygon points="564,353.6 564.2,361.2 587.8,352.6 587.6,345" fill="#fff" stroke="#000" stroke-width="1.8" stroke-linejoin="round"/>
<polygon points="518.3,235 523.1,241 546.7,232.4 541.9,226.4" fill="#fff" stroke="#000" stroke-width="1.8" stroke-linejoin="round"/>
<polygon points="525.5,229.5 529.6,236.5 553.2,227.9 549.1,220.9" fill="#fff" stroke="#000" stroke-width="1.8" stroke-linejoin="round"/>
<polygon points="571.9,352.8 573.3,360.8 596.9,352.2 595.5,344.3" fill="#fff" stroke="#000" stroke-width="1.8" stroke-linejoin="round"/>
<polygon points="531.4,235.7 533.3,235.2 556.8,226.6 555,227.2" fill="#fff" stroke="#000" stroke-width="1.8" stroke-linejoin="round"/>
<polygon points="575.6,351.5 573.8,352.3 597.4,343.7 599.2,342.9" fill="#fff" stroke="#000" stroke-width="1.8" stroke-linejoin="round"/>
<polygon points="531.9,227.2 533.9,226.8 557.4,218.2 555.5,218.6" fill="#fff" stroke="#000" stroke-width="1.8" stroke-linejoin="round"/>
<polygon points="581.4,357.5 579.7,358.5 603.3,349.9 605,348.9" fill="#fff" stroke="#000" stroke-width="1.8" stroke-linejoin="round"/>
<polygon points="533.9,226.8 537.1,234.5 560.7,225.9 557.4,218.2" fill="#fff" stroke="#000" stroke-width="1.8" stroke-linejoin="round"/>
<polygon points="579,349.6 581.4,357.5 605,348.9 602.6,341" fill="#fff" stroke="#000" stroke-width="1.8" stroke-linejoin="round"/>
<polygon points="537.1,234.5 539.1,234.4 562.7,225.8 560.7,225.9" fill="#fff" stroke="#000" stroke-width="1.8" stroke-linejoin="round"/>
<polygon points="580.6,348.3 579,349.6 602.6,341 604.2,339.8" fill="#fff" stroke="#000" stroke-width="1.8" stroke-linejoin="round"/>
<polygon points="539.1,234.4 541.2,234.4 564.8,225.8 562.7,225.8" fill="#fff" stroke="#000" stroke-width="1.8" stroke-linejoin="round"/>
<polygon points="582.1,347 580.6,348.3 604.2,339.8 605.7,338.4" fill="#fff" stroke="#000" stroke-width="1.8" stroke-linejoin="round"/>
<polygon points="588.3,351.4 586.9,353 610.5,344.4 611.9,342.8" fill="#fff" stroke="#000" stroke-width="1.8" stroke-linejoin="round"/>
<polygon points="541,226.8 543.1,227.1 566.6,218.5 564.6,218.2" fill="#fff" stroke="#000" stroke-width="1.8" stroke-linejoin="round"/>
<polygon points="584.9,343.8 588.3,351.4 611.9,342.8 608.5,335.2" fill="#fff" stroke="#000" stroke-width="1.8" stroke-linejoin="round"/>
<polygon points="543.1,227.1 545.3,235 568.9,226.5 566.6,218.5" fill="#fff" stroke="#000" stroke-width="1.8" stroke-linejoin="round"/>
<polygon points="545.3,235 547.4,235.6 571,227 568.9,226.5" fill="#fff" stroke="#000" stroke-width="1.8" stroke-linejoin="round"/>
<polygon points="586.2,342 584.9,343.8 608.5,335.2 609.8,333.5" fill="#fff" stroke="#000" stroke-width="1.8" stroke-linejoin="round"/>
<polygon points="547.4,235.6 549.6,236.3 573.2,227.7 571,227" fill="#fff" stroke="#000" stroke-width="1.8" stroke-linejoin="round"/>
<polygon points="587.4,340.1 586.2,342 609.8,333.5 611,331.5" fill="#fff" stroke="#000" stroke-width="1.8" stroke-linejoin="round"/>
<polygon points="550.5,229.3 552.7,230.2 576.2,221.7 574.1,220.7" fill="#fff" stroke="#000" stroke-width="1.8" stroke-linejoin="round"/>
<polygon points="593.6,342.8 592.6,344.9 616.2,336.3 617.2,334.2" fill="#fff" stroke="#000" stroke-width="1.8" stroke-linejoin="round"/>
<polygon points="552.7,230.2 553.9,238.2 577.4,229.6 576.2,221.7" fill="#fff" stroke="#000" stroke-width="1.8" stroke-linejoin="round"/>
<polygon points="589.4,335.9 593.6,342.8 617.2,334.2 613,327.3" fill="#fff" stroke="#000" stroke-width="1.8" stroke-linejoin="round"/>
<polygon points="553.9,238.2 556,239.4 579.6,230.8 577.4,229.6" fill="#fff" stroke="#000" stroke-width="1.8" stroke-linejoin="round"/>
<polygon points="590.3,333.7 589.4,335.9 613,327.3 613.9,325.1" fill="#fff" stroke="#000" stroke-width="1.8" stroke-linejoin="round"/>
<polygon points="556,239.4 558.1,240.7 581.7,232.1 579.6,230.8" fill="#fff" stroke="#000" stroke-width="1.8" stroke-linejoin="round"/>
<polygon points="591.1,331.3 590.3,333.7 613.9,325.1 614.7,322.7" fill="#fff" stroke="#000" stroke-width="1.8" stroke-linejoin="round"/>
<polygon points="562.3,243.8 564.4,245.6 588,237 585.9,235.2" fill="#fff" stroke="#000" stroke-width="1.8" stroke-linejoin="round"/>
<polygon points="592.8,323.5 592.3,326.2 615.9,317.6 616.4,314.9" fill="#fff" stroke="#000" stroke-width="1.8" stroke-linejoin="round"/>
<polygon points="562.3,236.2 562.3,243.8 585.9,235.2 585.9,227.6" fill="#fff" stroke="#000" stroke-width="1.8" stroke-linejoin="round"/>
<polygon points="592.3,326.2 597.2,332.1 620.7,323.5 615.9,317.6" fill="#fff" stroke="#000" stroke-width="1.8" stroke-linejoin="round"/>
<polygon points="560.2,234.7 562.3,236.2 585.9,227.6 583.8,226.1" fill="#fff" stroke="#000" stroke-width="1.8" stroke-linejoin="round"/>
<polygon points="597.2,332.1 596.5,334.6 620.1,326 620.7,323.5" fill="#fff" stroke="#000" stroke-width="1.8" stroke-linejoin="round"/>
<polygon points="564.4,245.6 566.4,247.4 590,238.9 588,237" fill="#fff" stroke="#000" stroke-width="1.8" stroke-linejoin="round"/>
<polygon points="593.1,320.8 592.8,323.5 616.4,314.9 616.7,312.2" fill="#fff" stroke="#000" stroke-width="1.8" stroke-linejoin="round"/>
<polygon points="570.4,251.6 572.3,253.9 595.9,245.3 594,243" fill="#fff" stroke="#000" stroke-width="1.8" stroke-linejoin="round"/>
<polygon points="593.5,312.1 593.5,315.1 617.1,306.5 617.1,303.5" fill="#fff" stroke="#000" stroke-width="1.8" stroke-linejoin="round"/>
<polygon points="572.3,253.9 574.1,256.2 597.7,247.6 595.9,245.3" fill="#fff" stroke="#000" stroke-width="1.8" stroke-linejoin="round"/>
<polygon points="593.4,309.1 593.5,312.1 617.1,303.5 617,300.5" fill="#fff" stroke="#000" stroke-width="1.8" stroke-linejoin="round"/>
<polygon points="593.5,315.1 598.7,319.7 622.3,311.1 617.1,306.5" fill="#fff" stroke="#000" stroke-width="1.8" stroke-linejoin="round"/>
<polygon points="571.5,244.7 570.4,251.6 594,243 595,236.1" fill="#fff" stroke="#000" stroke-width="1.8" stroke-linejoin="round"/>
<polygon points="598.7,319.7 598.6,322.5 622.2,313.9 622.3,311.1" fill="#fff" stroke="#000" stroke-width="1.8" stroke-linejoin="round"/>
<polygon points="569.5,242.6 571.5,244.7 595,236.1 593.1,234" fill="#fff" stroke="#000" stroke-width="1.8" stroke-linejoin="round"/>
<polygon points="577.6,261.2 579.3,263.9 602.9,255.3 601.2,252.7" fill="#fff" stroke="#000" stroke-width="1.8" stroke-linejoin="round"/>
<polygon points="592.4,299.9 592.8,303 616.4,294.4 616,291.3" fill="#fff" stroke="#000" stroke-width="1.8" stroke-linejoin="round"/>
<polygon points="591.9,296.8 592.4,299.9 616,291.3 615.4,288.2" fill="#fff" stroke="#000" stroke-width="1.8" stroke-linejoin="round"/>
<polygon points="579.3,263.9 580.9,266.6 604.5,258 602.9,255.3" fill="#fff" stroke="#000" stroke-width="1.8" stroke-linejoin="round"/>
<polygon points="592.8,303 598.3,306.1 621.9,297.5 616.4,294.4" fill="#fff" stroke="#000" stroke-width="1.8" stroke-linejoin="round"/>
<polygon points="579.8,255.3 577.6,261.2 601.2,252.7 603.4,246.7" fill="#fff" stroke="#000" stroke-width="1.8" stroke-linejoin="round"/>
<polygon points="589.6,287.4 590.4,290.5 614,282 613.2,278.9" fill="#fff" stroke="#000" stroke-width="1.8" stroke-linejoin="round"/>
<polygon points="583.8,272.3 585.1,275.3 608.7,266.7 607.4,263.7" fill="#fff" stroke="#000" stroke-width="1.8" stroke-linejoin="round"/>
<polygon points="588.6,284.3 589.6,287.4 613.2,278.9 612.2,275.8" fill="#fff" stroke="#000" stroke-width="1.8" stroke-linejoin="round"/>
<polygon points="585.1,275.3 586.4,278.2 610,269.7 608.7,266.7" fill="#fff" stroke="#000" stroke-width="1.8" stroke-linejoin="round"/>
<polygon points="598.3,306.1 598.6,309.2 622.2,300.6 621.9,297.5" fill="#fff" stroke="#000" stroke-width="1.8" stroke-linejoin="round"/>
<polygon points="578.1,252.8 579.8,255.3 603.4,246.7 601.7,244.2" fill="#fff" stroke="#000" stroke-width="1.8" stroke-linejoin="round"/>
<polygon points="590.4,290.5 595.9,292.1 619.5,283.5 614,282" fill="#fff" stroke="#000" stroke-width="1.8" stroke-linejoin="round"/>
<polygon points="587,267.7 583.8,272.3 607.4,263.7 610.6,259.1" fill="#fff" stroke="#000" stroke-width="1.8" stroke-linejoin="round"/>
<polygon points="586.4,278.2 591.6,278.1 615.1,269.5 610,269.7" fill="#fff" stroke="#000" stroke-width="1.8" stroke-linejoin="round"/>
<polygon points="592.7,281.1 588.6,284.3 612.2,275.8 616.3,272.6" fill="#fff" stroke="#000" stroke-width="1.8" stroke-linejoin="round"/>
<polygon points="595.9,292.1 596.6,295.2 620.2,286.6 619.5,283.5" fill="#fff" stroke="#000" stroke-width="1.8" stroke-linejoin="round"/>
<polygon points="585.5,264.8 587,267.7 610.6,259.1 609.1,256.2" fill="#fff" stroke="#000" stroke-width="1.8" stroke-linejoin="round"/>
<polygon points="591.6,278.1 592.7,281.1 616.3,272.6 615.1,269.5" fill="#fff" stroke="#000" stroke-width="1.8" stroke-linejoin="round"/>
<polygon points="586.4,278.2 591.6,278.1 592.7,281.1 588.6,284.3 589.6,287.4 590.4,290.5 595.9,292.1 596.6,295.2 591.9,296.8 592.4,299.9 592.8,303 598.3,306.1 598.6,309.2 593.4,309.1 593.5,312.1 593.5,315.1 598.7,319.7 598.6,322.5 593.1,320.8 592.8,323.5 592.3,326.2 597.2,332.1 596.5,334.6 591.1,331.3 590.3,333.7 589.4,335.9 593.6,342.8 592.6,344.9 587.4,340.1 586.2,342 584.9,343.8 588.3,351.4 586.9,353 582.1,347 580.6,348.3 579,349.6 581.4,357.5 579.7,358.5 575.6,351.5 573.8,352.3 571.9,352.8 573.3,360.8 571.3,361.2 568.1,353.5 566.1,353.6 564,353.6 564.2,361.2 562.1,360.9 559.9,353 557.8,352.4 555.6,351.7 554.7,358.7 552.5,357.8 551.3,349.8 549.2,348.6 547.1,347.3 545,353.3 542.9,351.8 542.9,344.2 540.8,342.4 538.8,340.6 535.7,345.4 533.7,343.3 534.8,336.4 532.9,334.1 531.1,331.8 527.1,335.2 525.4,332.7 527.6,326.8 525.9,324.1 524.3,321.4 519.7,323.2 518.2,320.3 521.4,315.7 520.1,312.7 518.8,309.8 513.6,309.9 512.5,306.9 516.6,303.7 515.6,300.6 514.8,297.5 509.3,295.9 508.6,292.8 513.3,291.2 512.8,288.1 512.4,285 506.9,281.9 506.6,278.8 511.8,278.9 511.7,275.9 511.7,272.9 506.5,268.3 506.6,265.5 512.1,267.2 512.4,264.5 512.9,261.8 508,255.9 508.7,253.4 514.1,256.7 514.9,254.3 515.8,252.1 511.6,245.2 512.6,243.1 517.8,247.9 519,246 520.3,244.2 516.9,236.6 518.3,235 523.1,241 524.6,239.7 526.2,238.4 523.8,230.5 525.5,229.5 529.6,236.5 531.4,235.7 533.3,235.2 531.9,227.2 533.9,226.8 537.1,234.5 539.1,234.4 541.2,234.4 541,226.8 543.1,227.1 545.3,235 547.4,235.6 549.6,236.3 550.5,229.3 552.7,230.2 553.9,238.2 556,239.4 558.1,240.7 560.2,234.7 562.3,236.2 562.3,243.8 564.4,245.6 566.4,247.4 569.5,242.6 571.5,244.7 570.4,251.6 572.3,253.9 574.1,256.2 578.1,252.8 579.8,255.3 577.6,261.2 579.3,263.9 580.9,266.6 585.5,264.8 587,267.7 583.8,272.3 585.1,275.3" fill="#fff" stroke="#000" stroke-width="2" stroke-linejoin="round"/>
<ellipse cx="550.5" cy="293.5" rx="19.5" ry="30.5" transform="rotate(-20 550.5 293.5)" fill="#fff" stroke="#000" stroke-width="1.8"/>
<clipPath id="c3"><ellipse cx="550.5" cy="293.5" rx="19.5" ry="30.5" transform="rotate(-20 550.5 293.5)"/></clipPath>
<g clip-path="url(#c3)">
<ellipse cx="574" cy="284.9" rx="19.5" ry="30.5" transform="rotate(-20 574 284.9)" fill="none" stroke="#000" stroke-width="1.5"/>
</g>
<text transform="translate(546.5,149.6) scale(0.9,1)" text-anchor="middle" font-size="26.5" stroke="#000" stroke-width="0.45">5</text>
<line x1="546" y1="153" x2="546" y2="220" stroke="#000" stroke-width="1.8"/>
<polygon points="637.5,228.5 662.9,219.3 664.7,218.8 666.5,218.7 668.5,218.9 670.5,219.5 672.6,220.4 674.7,221.7 676.8,223.2 678.8,225.1 680.8,227.2 682.8,229.6 684.6,232.2 686.3,235 687.9,238 689.3,241.1 690.6,244.3 691.7,247.6 692.6,250.9 693.3,254.2 693.8,257.4 694,260.6 694.1,263.7 693.9,266.6 693.6,269.3 693,271.8 692.2,274.1 691.2,276.2 690,277.9 688.6,279.4 687.1,280.5 685.5,281.3 660.1,290.5 661.7,289.7 663.3,288.6 664.6,287.1 665.8,285.4 666.8,283.4 667.6,281.1 668.2,278.5 668.6,275.8 668.7,272.9 668.7,269.8 668.4,266.6 667.9,263.4 667.2,260.1 666.3,256.8 665.2,253.5 664,250.3 662.5,247.2 660.9,244.2 659.2,241.4 657.4,238.8 655.5,236.4 653.5,234.3 651.4,232.5 649.3,230.9 647.2,229.7 645.2,228.7 643.1,228.2 641.2,227.9 639.3,228 637.5,228.5" fill="#fff" stroke="#000" stroke-width="2.1" />
<ellipse cx="648.8" cy="259.5" rx="17.5" ry="33" transform="rotate(-20 648.8 259.5)" fill="#fff" stroke="#000" stroke-width="2.1"/>
<ellipse cx="648.8" cy="259.5" rx="15.4" ry="29" transform="rotate(-20 648.8 259.5)" fill="#fff" stroke="#000" stroke-width="1.9"/>
<clipPath id="c4"><ellipse cx="648.8" cy="259.5" rx="15.4" ry="29" transform="rotate(-20 648.8 259.5)"/></clipPath>
<g clip-path="url(#c4)">
<polygon points="662.7,276.9 660.1,281.2 682.6,273 685.2,268.7" fill="#fff" stroke="#000" stroke-width="1.6" stroke-linejoin="round"/>
<polygon points="654.4,283.4 649.7,281.9 672.2,273.7 676.9,275.2" fill="#fff" stroke="#000" stroke-width="1.6" stroke-linejoin="round"/>
<polygon points="642.8,275.9 638.7,269.5 661.3,261.3 665.4,267.7" fill="#fff" stroke="#000" stroke-width="1.6" stroke-linejoin="round"/>
<polygon points="634.8,258.7 633.7,251.2 656.3,243 657.3,250.5" fill="#fff" stroke="#000" stroke-width="1.6" stroke-linejoin="round"/>
<polygon points="634.9,242.1 637.5,237.8 660.1,229.5 657.5,233.8" fill="#fff" stroke="#000" stroke-width="1.6" stroke-linejoin="round"/>
<polygon points="643.2,235.6 647.9,237.1 670.5,228.9 665.8,227.4" fill="#fff" stroke="#000" stroke-width="1.6" stroke-linejoin="round"/>
<ellipse cx="671.4" cy="251.3" rx="15.4" ry="29" transform="rotate(-20 671.4 251.3)" fill="none" stroke="#000" stroke-width="1.6"/>
</g>
<ellipse cx="648.8" cy="259.5" rx="15.4" ry="29" transform="rotate(-20 648.8 259.5)" fill="none" stroke="#000" stroke-width="1.9"/>
<ellipse cx="663" cy="229" rx="3.5" ry="2.5" fill="#fff" stroke="#000" stroke-width="1.4"/>
<text transform="translate(651.2,179.2) scale(0.9,1)" text-anchor="middle" font-size="26.5" stroke="#000" stroke-width="0.45">11</text>
<line x1="652.6" y1="182" x2="652.6" y2="227.6" stroke="#000" stroke-width="1.8"/>
<polygon points="720.4,198.1 724.1,196.7 726.4,196.1 728.8,195.8 731.2,195.9 733.7,196.3 736.2,197.1 738.7,198.3 741.2,199.8 743.6,201.5 746,203.6 748.2,206 750.3,208.6 752.2,211.5 754,214.5 755.5,217.7 756.8,221 757.9,224.3 758.8,227.8 759.4,231.2 759.8,234.6 759.8,238 759.7,241.2 759.2,244.3 758.5,247.2 757.6,250 756.4,252.5 755,254.7 753.3,256.6 751.5,258.3 749.5,259.6 747.4,260.6 743.6,261.9 745.8,261 747.8,259.7 749.6,258 751.2,256.1 752.6,253.8 753.8,251.3 754.8,248.6 755.5,245.7 755.9,242.6 756.1,239.3 756,236 755.6,232.6 755,229.1 754.2,225.7 753.1,222.3 751.8,219 750.2,215.9 748.5,212.8 746.5,210 744.4,207.4 742.2,205 739.9,202.9 737.5,201.1 735,199.6 732.5,198.5 730,197.7 727.5,197.2 725,197.2 722.6,197.4 720.4,198.1" fill="#fff" stroke="#000" stroke-width="2.1" />
<ellipse cx="732" cy="230" rx="22.4" ry="34" transform="rotate(-20 732 230)" fill="#fff" stroke="#000" stroke-width="2.1"/>
<ellipse cx="732" cy="230" rx="19.5" ry="29.5" transform="rotate(-20 732 230)" fill="#fff" stroke="#000" stroke-width="2.1"/>
<polygon points="720,206.1 722.7,208.5 722.7,208.5 720,206.1" fill="#fff" stroke="#000" stroke-width="2" stroke-linejoin="round"/>
<polygon points="738.7,252.5 738.2,256 738.2,256 738.7,252.5" fill="#fff" stroke="#000" stroke-width="2" stroke-linejoin="round"/>
<polygon points="724,207.9 725.3,207.5 725.3,207.5 724,207.9" fill="#fff" stroke="#000" stroke-width="2" stroke-linejoin="round"/>
<polygon points="741.3,251.5 740,252.1 740,252.1 741.3,251.5" fill="#fff" stroke="#000" stroke-width="2" stroke-linejoin="round"/>
<polygon points="725.8,204 727.4,203.9 727.4,203.9 725.8,204" fill="#fff" stroke="#000" stroke-width="2" stroke-linejoin="round"/>
<polygon points="745.3,252.9 744,253.9 744,253.9 745.3,252.9" fill="#fff" stroke="#000" stroke-width="2" stroke-linejoin="round"/>
<polygon points="727.4,203.9 729,204.1 729,204.1 727.4,203.9" fill="#fff" stroke="#000" stroke-width="2" stroke-linejoin="round"/>
<polygon points="746.4,251.8 745.3,252.9 745.3,252.9 746.4,251.8" fill="#fff" stroke="#000" stroke-width="2" stroke-linejoin="round"/>
<polygon points="747.4,250.4 746.4,251.8 746.4,251.8 747.4,250.4" fill="#fff" stroke="#000" stroke-width="2" stroke-linejoin="round"/>
<polygon points="729,204.1 730.7,204.4 730.7,204.4 729,204.1" fill="#fff" stroke="#000" stroke-width="2" stroke-linejoin="round"/>
<polygon points="748.4,248.9 747.4,250.4 747.4,250.4 748.4,248.9" fill="#fff" stroke="#000" stroke-width="2" stroke-linejoin="round"/>
<polygon points="730.7,204.4 732.4,205 732.4,205 730.7,204.4" fill="#fff" stroke="#000" stroke-width="2" stroke-linejoin="round"/>
<polygon points="732.4,205 734,205.7 734,205.7 732.4,205" fill="#fff" stroke="#000" stroke-width="2" stroke-linejoin="round"/>
<polygon points="749.2,247.3 748.4,248.9 748.4,248.9 749.2,247.3" fill="#fff" stroke="#000" stroke-width="2" stroke-linejoin="round"/>
<polygon points="734,205.7 735.7,206.6 735.7,206.6 734,205.7" fill="#fff" stroke="#000" stroke-width="2" stroke-linejoin="round"/>
<polygon points="749.8,245.5 749.2,247.3 749.2,247.3 749.8,245.5" fill="#fff" stroke="#000" stroke-width="2" stroke-linejoin="round"/>
<polygon points="750.4,243.6 749.8,245.5 749.8,245.5 750.4,243.6" fill="#fff" stroke="#000" stroke-width="2" stroke-linejoin="round"/>
<polygon points="735.7,206.6 737.3,207.7 737.3,207.7 735.7,206.6" fill="#fff" stroke="#000" stroke-width="2" stroke-linejoin="round"/>
<polygon points="737.3,207.7 738.9,209 738.9,209 737.3,207.7" fill="#fff" stroke="#000" stroke-width="2" stroke-linejoin="round"/>
<polygon points="750.8,241.6 750.4,243.6 750.4,243.6 750.8,241.6" fill="#fff" stroke="#000" stroke-width="2" stroke-linejoin="round"/>
<polygon points="738.9,209 740.4,210.5 740.4,210.5 738.9,209" fill="#fff" stroke="#000" stroke-width="2" stroke-linejoin="round"/>
<polygon points="751,239.6 750.8,241.6 750.8,241.6 751,239.6" fill="#fff" stroke="#000" stroke-width="2" stroke-linejoin="round"/>
<polygon points="740.4,210.5 741.9,212 741.9,212 740.4,210.5" fill="#fff" stroke="#000" stroke-width="2" stroke-linejoin="round"/>
<polygon points="751.1,237.4 751,239.6 751,239.6 751.1,237.4" fill="#fff" stroke="#000" stroke-width="2" stroke-linejoin="round"/>
<polygon points="746.6,224.7 747.2,226.6 747.2,226.6 746.6,224.7" fill="#fff" stroke="#000" stroke-width="2" stroke-linejoin="round"/>
<polygon points="745.8,222.8 746.6,224.7 746.6,224.7 745.8,222.8" fill="#fff" stroke="#000" stroke-width="2" stroke-linejoin="round"/>
<polygon points="741.9,212 743.3,213.8 743.3,213.8 741.9,212" fill="#fff" stroke="#000" stroke-width="2" stroke-linejoin="round"/>
<polygon points="751.1,235.2 751.1,237.4 751.1,237.4 751.1,235.2" fill="#fff" stroke="#000" stroke-width="2" stroke-linejoin="round"/>
<polygon points="750.9,233 751.1,235.2 751.1,235.2 750.9,233" fill="#fff" stroke="#000" stroke-width="2" stroke-linejoin="round"/>
<polygon points="743.3,213.8 744.6,215.6 744.6,215.6 743.3,213.8" fill="#fff" stroke="#000" stroke-width="2" stroke-linejoin="round"/>
<polygon points="747.2,226.6 750.1,228.4 750.1,228.4 747.2,226.6" fill="#fff" stroke="#000" stroke-width="2" stroke-linejoin="round"/>
<polygon points="746.9,219.6 745.8,222.8 745.8,222.8 746.9,219.6" fill="#fff" stroke="#000" stroke-width="2" stroke-linejoin="round"/>
<polygon points="750.6,230.7 750.9,233 750.9,233 750.6,230.7" fill="#fff" stroke="#000" stroke-width="2" stroke-linejoin="round"/>
<polygon points="744.6,215.6 745.8,217.5 745.8,217.5 744.6,215.6" fill="#fff" stroke="#000" stroke-width="2" stroke-linejoin="round"/>
<polygon points="750.1,228.4 750.6,230.7 750.6,230.7 750.1,228.4" fill="#fff" stroke="#000" stroke-width="2" stroke-linejoin="round"/>
<polygon points="745.8,217.5 746.9,219.6 746.9,219.6 745.8,217.5" fill="#fff" stroke="#000" stroke-width="2" stroke-linejoin="round"/>
<polygon points="746.6,224.7 747.2,226.6 750.1,228.4 750.6,230.7 750.9,233 751.1,235.2 751.1,237.4 751,239.6 750.8,241.6 750.4,243.6 749.8,245.5 749.2,247.3 748.4,248.9 747.4,250.4 746.4,251.8 745.3,252.9 744,253.9 741.3,251.5 740,252.1 738.7,252.5 738.2,256 736.6,256.1 735,255.9 733.3,255.6 731.6,255 730,254.3 728.3,253.4 726.7,252.3 725.1,251 723.6,249.5 722.1,248 720.7,246.2 719.4,244.4 718.2,242.5 717.1,240.4 718.2,237.2 717.4,235.3 716.8,233.4 713.9,231.6 713.4,229.3 713.1,227 712.9,224.8 712.9,222.6 713,220.4 713.2,218.4 713.6,216.4 714.2,214.5 714.8,212.7 715.6,211.1 716.6,209.6 717.6,208.2 718.7,207.1 720,206.1 722.7,208.5 724,207.9 725.3,207.5 725.8,204 727.4,203.9 729,204.1 730.7,204.4 732.4,205 734,205.7 735.7,206.6 737.3,207.7 738.9,209 740.4,210.5 741.9,212 743.3,213.8 744.6,215.6 745.8,217.5 746.9,219.6 745.8,222.8" fill="#fff" stroke="#000" stroke-width="2.2" stroke-linejoin="round"/>
<text transform="translate(727.2,146.4) scale(0.9,1)" text-anchor="middle" font-size="26.5" stroke="#000" stroke-width="0.45">7</text>
<line x1="726.6" y1="151.5" x2="726.6" y2="197.3" stroke="#000" stroke-width="1.8"/>
<polygon points="782.3,240.8 780.3,240.1 778.3,239.2 776.4,238.1 774.5,236.7 772.6,235.1 770.8,233.3 769.1,231.3 767.4,229.1 766,226.8 764.6,224.3 763.4,221.7 762.3,219.1 761.4,216.4 760.6,213.6 760.1,210.9 759.7,208.1 759.5,205.4 759.5,202.8 759.7,200.2 760.1,197.8 760.7,195.4 761.4,193.3 762.3,191.3 763.4,189.5 764.6,187.9 766,186.5 767.5,185.4 769.1,184.5 770.8,183.9 772.6,183.5 774.5,183.4 776.4,183.5 778.4,183.9 780.3,184.6 782.3,185.5 784.3,186.7 786.2,188.1 788.1,189.7 789.9,191.5 791.6,193.6 793.2,195.7 794.7,198.1 796,200.5 797.2,203.1 798.3,205.8 799.2,208.5 799.9,211.2 800.5,214 800.8,216.7 801,219.4 801,222.1 800.8,224.6 800.4,227.1 799.8,229.4 799.1,231.5 798.1,233.5 797.1,235.3 795.8,236.9 794.4,238.2 792.9,239.3 790.6,234.4 791.8,233.5 793,232.4 794,231.1 794.9,229.6 795.6,228 796.2,226.3 796.7,224.4 797,222.4 797.2,220.3 797.2,218.1 797.1,215.9 796.8,213.7 796.3,211.4 795.7,209.2 795,207 794.1,204.8 793.1,202.7 792,200.7 790.8,198.8 789.5,197 788.1,195.4 786.6,193.9 785.1,192.5 783.5,191.4 781.9,190.4 780.3,189.7 778.7,189.2 777.1,188.8 775.5,188.7 774,188.8 772.5,189.1 771.1,189.6 769.8,190.3 768.6,191.3 767.5,192.4 766.5,193.7 765.6,195.2 764.9,196.8 764.2,198.5 763.8,200.4 763.5,202.4 763.3,204.5 763.3,206.7 763.5,208.9 763.8,211.1 764.2,213.4 764.8,215.6 765.6,217.9 766.5,220 767.5,222.1 768.6,224.1 769.8,226 771.1,227.8 772.5,229.4 774,230.9 775.5,232.2 777.1,233.3 778.7,234.3 780.3,235 781.9,235.5" fill="#fff" stroke="#000" stroke-width="2.2" />
<polygon points="778.5,242.1 776.6,241.5 774.6,240.6 772.6,239.4 770.7,238 768.8,236.4 767,234.6 765.3,232.6 763.7,230.5 762.2,228.1 760.8,225.7 759.6,223.1 758.5,220.5 757.6,217.8 756.9,215 756.3,212.2 756,209.5 755.8,206.8 755.8,204.1 756,201.6 756.3,199.1 756.9,196.8 757.6,194.7 758.5,192.7 759.6,190.9 760.8,189.3 762.2,187.9 763.7,186.8 765.3,185.9 767,185.2 768.9,184.9 770.7,184.8 772.6,184.9 774.6,185.3 776.6,186 778.6,186.9 780.5,188.1 782.4,189.5 784.3,191.1 786.1,192.9 787.8,194.9 789.4,197.1 790.9,199.4 792.3,201.9 793.5,204.5 794.5,207.1 795.4,209.8 796.2,212.6 796.7,215.4 797.1,218.1 797.2,220.8 797.2,223.5 797,226 796.6,228.4 796.1,230.7 795.3,232.9 794.4,234.9 793.3,236.7 792.1,238.2 790.7,239.6 789.2,240.7 786.8,235.8 788.1,234.8 789.2,233.7 790.2,232.5 791.1,231 791.9,229.4 792.5,227.6 792.9,225.7 793.3,223.7 793.4,221.7 793.4,219.5 793.3,217.3 793,215.1 792.6,212.8 792,210.6 791.2,208.3 790.4,206.2 789.4,204.1 788.3,202.1 787.1,200.1 785.7,198.4 784.3,196.7 782.9,195.2 781.4,193.9 779.8,192.8 778.2,191.8 776.6,191.1 775,190.5 773.4,190.2 771.8,190.1 770.3,190.2 768.8,190.5 767.4,191 766.1,191.7 764.8,192.6 763.7,193.8 762.7,195.1 761.8,196.5 761.1,198.1 760.5,199.9 760,201.8 759.7,203.8 759.6,205.9 759.6,208.1 759.7,210.3 760,212.5 760.5,214.8 761.1,217 761.8,219.2 762.7,221.4 763.7,223.5 764.8,225.5 766,227.4 767.4,229.2 768.8,230.8 770.2,232.3 771.8,233.6 773.3,234.7 774.9,235.6 776.5,236.4 778.2,236.9" fill="#fff" stroke="#000" stroke-width="2.2" />
<text transform="translate(770,126.4) scale(0.9,1)" text-anchor="middle" font-size="26.5" stroke="#000" stroke-width="0.45">14</text>
<line x1="771" y1="130" x2="771" y2="185.3" stroke="#000" stroke-width="1.8"/>
<polygon points="842.2,157.4 846.5,157.8 871.9,148.6 867.5,148.2" fill="#fff" stroke="#000" stroke-width="1.8" stroke-linejoin="round"/>
<polygon points="864.6,207.6 861.5,210.7 886.9,201.4 890,198.4" fill="#fff" stroke="#000" stroke-width="1.8" stroke-linejoin="round"/>
<polygon points="874.8,215.7 873,220.6 898.4,211.3 900.2,206.4" fill="#fff" stroke="#000" stroke-width="1.8" stroke-linejoin="round"/>
<polygon points="844.6,142.5 849.1,145.1 874.5,135.9 870,133.3" fill="#fff" stroke="#000" stroke-width="1.8" stroke-linejoin="round"/>
<polygon points="850.9,131.5 855,136 880.4,126.8 876.2,122.3" fill="#fff" stroke="#000" stroke-width="1.8" stroke-linejoin="round"/>
<polygon points="885.1,218.8 884.9,225 910.2,215.7 910.5,209.6" fill="#fff" stroke="#000" stroke-width="1.8" stroke-linejoin="round"/>
<polygon points="860.2,125.8 863.4,131.6 888.8,122.4 885.6,116.5" fill="#fff" stroke="#000" stroke-width="1.8" stroke-linejoin="round"/>
<polygon points="894.4,216.7 895.7,223.3 921.1,214.1 919.8,207.5" fill="#fff" stroke="#000" stroke-width="1.8" stroke-linejoin="round"/>
<polygon points="863.4,131.6 865.6,131.4 890.9,122.1 888.8,122.4" fill="#fff" stroke="#000" stroke-width="1.8" stroke-linejoin="round"/>
<polygon points="896.2,215.6 894.4,216.7 919.8,207.5 921.6,206.4" fill="#fff" stroke="#000" stroke-width="1.8" stroke-linejoin="round"/>
<polygon points="865.6,131.4 867.7,131.4 893.1,122.1 890.9,122.1" fill="#fff" stroke="#000" stroke-width="1.8" stroke-linejoin="round"/>
<polygon points="897.9,214.2 896.2,215.6 921.6,206.4 923.3,205" fill="#fff" stroke="#000" stroke-width="1.8" stroke-linejoin="round"/>
<polygon points="868,125.3 871.5,126 896.9,116.7 893.4,116" fill="#fff" stroke="#000" stroke-width="1.8" stroke-linejoin="round"/>
<polygon points="904.3,215.9 902,218.7 927.4,209.5 929.6,206.7" fill="#fff" stroke="#000" stroke-width="1.8" stroke-linejoin="round"/>
<polygon points="901.6,209.6 904.3,215.9 929.6,206.7 926.9,200.4" fill="#fff" stroke="#000" stroke-width="1.8" stroke-linejoin="round"/>
<polygon points="871.5,126 873.5,132.5 898.9,123.3 896.9,116.7" fill="#fff" stroke="#000" stroke-width="1.8" stroke-linejoin="round"/>
<polygon points="902.7,207.5 901.6,209.6 926.9,200.4 928.1,198.2" fill="#fff" stroke="#000" stroke-width="1.8" stroke-linejoin="round"/>
<polygon points="873.5,132.5 875.8,133.4 901.2,124.2 898.9,123.3" fill="#fff" stroke="#000" stroke-width="1.8" stroke-linejoin="round"/>
<polygon points="875.8,133.4 878.1,134.6 903.5,125.3 901.2,124.2" fill="#fff" stroke="#000" stroke-width="1.8" stroke-linejoin="round"/>
<polygon points="903.8,205.1 902.7,207.5 928.1,198.2 929.1,195.9" fill="#fff" stroke="#000" stroke-width="1.8" stroke-linejoin="round"/>
<polygon points="879.9,129.7 883.4,132.1 908.8,122.9 905.2,120.4" fill="#fff" stroke="#000" stroke-width="1.8" stroke-linejoin="round"/>
<polygon points="909.4,203.6 908.3,207.7 933.7,198.5 934.8,194.3" fill="#fff" stroke="#000" stroke-width="1.8" stroke-linejoin="round"/>
<polygon points="883.9,138.5 886.1,140.5 911.5,131.2 909.2,129.3" fill="#fff" stroke="#000" stroke-width="1.8" stroke-linejoin="round"/>
<polygon points="906.1,195.4 905.6,198.4 931,189.1 931.5,186.2" fill="#fff" stroke="#000" stroke-width="1.8" stroke-linejoin="round"/>
<polygon points="905.6,198.4 909.4,203.6 934.8,194.3 931,189.1" fill="#fff" stroke="#000" stroke-width="1.8" stroke-linejoin="round"/>
<polygon points="883.4,132.1 883.9,138.5 909.2,129.3 908.8,122.9" fill="#fff" stroke="#000" stroke-width="1.8" stroke-linejoin="round"/>
<polygon points="886.1,140.5 888.2,142.6 913.6,133.4 911.5,131.2" fill="#fff" stroke="#000" stroke-width="1.8" stroke-linejoin="round"/>
<polygon points="906.3,192.4 906.1,195.4 931.5,186.2 931.7,183.2" fill="#fff" stroke="#000" stroke-width="1.8" stroke-linejoin="round"/>
<polygon points="905.9,181 906.2,184.3 931.6,175 931.2,171.7" fill="#fff" stroke="#000" stroke-width="1.8" stroke-linejoin="round"/>
<polygon points="893.4,148.9 895.2,151.7 920.6,142.5 918.7,139.7" fill="#fff" stroke="#000" stroke-width="1.8" stroke-linejoin="round"/>
<polygon points="905.3,177.6 905.9,181 931.2,171.7 930.7,168.4" fill="#fff" stroke="#000" stroke-width="1.8" stroke-linejoin="round"/>
<polygon points="895.2,151.7 897,154.6 922.3,145.4 920.6,142.5" fill="#fff" stroke="#000" stroke-width="1.8" stroke-linejoin="round"/>
<polygon points="906.2,184.3 910.6,187.8 936,178.5 931.6,175" fill="#fff" stroke="#000" stroke-width="1.8" stroke-linejoin="round"/>
<polygon points="894.5,143.4 893.4,148.9 918.7,139.7 919.9,134.2" fill="#fff" stroke="#000" stroke-width="1.8" stroke-linejoin="round"/>
<polygon points="910.6,187.8 910.7,192.8 936.1,183.5 936,178.5" fill="#fff" stroke="#000" stroke-width="1.8" stroke-linejoin="round"/>
<polygon points="891.3,139.5 894.5,143.4 919.9,134.2 916.7,130.3" fill="#fff" stroke="#000" stroke-width="1.8" stroke-linejoin="round"/>
<polygon points="900.8,162.5 902.1,165.8 927.5,156.5 926.2,153.3" fill="#fff" stroke="#000" stroke-width="1.8" stroke-linejoin="round"/>
<polygon points="902.1,165.8 903.2,169.1 928.6,159.8 927.5,156.5" fill="#fff" stroke="#000" stroke-width="1.8" stroke-linejoin="round"/>
<polygon points="897,154.6 901,153.7 926.4,144.5 922.3,145.4" fill="#fff" stroke="#000" stroke-width="1.8" stroke-linejoin="round"/>
<polygon points="909,175.7 905.3,177.6 930.7,168.4 934.4,166.5" fill="#fff" stroke="#000" stroke-width="1.8" stroke-linejoin="round"/>
<polygon points="903.2,169.1 907.7,170.5 933.1,161.2 928.6,159.8" fill="#fff" stroke="#000" stroke-width="1.8" stroke-linejoin="round"/>
<polygon points="903.4,158.6 900.8,162.5 926.2,153.3 928.7,149.3" fill="#fff" stroke="#000" stroke-width="1.8" stroke-linejoin="round"/>
<polygon points="907.7,170.5 909,175.7 934.4,166.5 933.1,161.2" fill="#fff" stroke="#000" stroke-width="1.8" stroke-linejoin="round"/>
<polygon points="901,153.7 903.4,158.6 928.7,149.3 926.4,144.5" fill="#fff" stroke="#000" stroke-width="1.8" stroke-linejoin="round"/>
<polygon points="903.2,169.1 907.7,170.5 909,175.7 905.3,177.6 905.9,181 906.2,184.3 910.6,187.8 910.7,192.8 906.3,192.4 906.1,195.4 905.6,198.4 909.4,203.6 908.3,207.7 903.8,205.1 902.7,207.5 901.6,209.6 904.3,215.9 902,218.7 897.9,214.2 896.2,215.6 894.4,216.7 895.7,223.3 892.7,224.5 889.4,218.6 887.3,218.8 885.1,218.8 884.9,225 881.3,224.3 879.4,217.7 877.1,216.8 874.8,215.7 873,220.6 869.4,218.1 869,211.7 866.8,209.7 864.6,207.6 861.5,210.7 858.4,206.8 859.5,201.3 857.6,198.5 855.9,195.6 851.9,196.5 849.5,191.7 852,187.7 850.8,184.4 849.7,181.1 845.2,179.7 843.9,174.5 847.5,172.6 847,169.3 846.6,165.9 842.2,162.4 842.2,157.4 846.5,157.8 846.8,154.8 847.2,151.9 843.4,146.6 844.6,142.5 849.1,145.1 850.1,142.7 851.3,140.6 848.6,134.3 850.9,131.5 855,136 856.7,134.6 858.4,133.5 857.1,126.9 860.2,125.8 863.4,131.6 865.6,131.4 867.7,131.4 868,125.3 871.5,126 873.5,132.5 875.8,133.4 878.1,134.6 879.9,129.7 883.4,132.1 883.9,138.5 886.1,140.5 888.2,142.6 891.3,139.5 894.5,143.4 893.4,148.9 895.2,151.7 897,154.6 901,153.7 903.4,158.6 900.8,162.5 902.1,165.8" fill="#fff" stroke="#000" stroke-width="2" stroke-linejoin="round"/>
<polygon points="811.8,175.3 816.1,174.2 840.5,165.3 836.2,166.4" fill="#fff" stroke="#000" stroke-width="1.8" stroke-linejoin="round"/>
<polygon points="830.8,214.6 826.8,216.5 851.2,207.6 855.3,205.7" fill="#fff" stroke="#000" stroke-width="1.8" stroke-linejoin="round"/>
<polygon points="841,226.4 838,230.4 862.4,221.5 865.4,217.6" fill="#fff" stroke="#000" stroke-width="1.8" stroke-linejoin="round"/>
<polygon points="811.5,157.5 816.3,158.6 840.7,149.7 835.9,148.6" fill="#fff" stroke="#000" stroke-width="1.8" stroke-linejoin="round"/>
<polygon points="815.1,142.3 819.9,145.5 844.3,136.6 839.5,133.4" fill="#fff" stroke="#000" stroke-width="1.8" stroke-linejoin="round"/>
<polygon points="852.2,234.1 850.5,239.7 875,230.8 876.6,225.2" fill="#fff" stroke="#000" stroke-width="1.8" stroke-linejoin="round"/>
<polygon points="822.3,131.2 826.7,136.2 851.1,127.3 846.8,122.3" fill="#fff" stroke="#000" stroke-width="1.8" stroke-linejoin="round"/>
<polygon points="863.4,236.9 863.2,243.6 887.7,234.7 887.8,228" fill="#fff" stroke="#000" stroke-width="1.8" stroke-linejoin="round"/>
<polygon points="832.5,125.2 836,131.5 860.4,122.6 856.9,116.3" fill="#fff" stroke="#000" stroke-width="1.8" stroke-linejoin="round"/>
<polygon points="873.5,234.5 874.8,241.6 899.3,232.7 897.9,225.6" fill="#fff" stroke="#000" stroke-width="1.8" stroke-linejoin="round"/>
<polygon points="836,131.5 838.3,131.2 862.7,122.3 860.4,122.6" fill="#fff" stroke="#000" stroke-width="1.8" stroke-linejoin="round"/>
<polygon points="875.4,233.3 873.5,234.5 897.9,225.6 899.9,224.4" fill="#fff" stroke="#000" stroke-width="1.8" stroke-linejoin="round"/>
<polygon points="877.3,231.8 875.4,233.3 899.9,224.4 901.7,222.9" fill="#fff" stroke="#000" stroke-width="1.8" stroke-linejoin="round"/>
<polygon points="838.3,131.2 840.6,131.1 865.1,122.2 862.7,122.3" fill="#fff" stroke="#000" stroke-width="1.8" stroke-linejoin="round"/>
<polygon points="840.8,124.4 844.5,125 869,116.1 865.2,115.6" fill="#fff" stroke="#000" stroke-width="1.8" stroke-linejoin="round"/>
<polygon points="884.2,234 881.7,236.8 906.1,227.9 908.6,225.1" fill="#fff" stroke="#000" stroke-width="1.8" stroke-linejoin="round"/>
<polygon points="844.5,125 846.8,132 871.3,123.1 869,116.1" fill="#fff" stroke="#000" stroke-width="1.8" stroke-linejoin="round"/>
<polygon points="881.4,227.1 884.2,234 908.6,225.1 905.9,218.3" fill="#fff" stroke="#000" stroke-width="1.8" stroke-linejoin="round"/>
<polygon points="846.8,132 849.3,132.8 873.7,123.9 871.3,123.1" fill="#fff" stroke="#000" stroke-width="1.8" stroke-linejoin="round"/>
<polygon points="882.8,224.9 881.4,227.1 905.9,218.3 907.3,216" fill="#fff" stroke="#000" stroke-width="1.8" stroke-linejoin="round"/>
<polygon points="884.1,222.5 882.8,224.9 907.3,216 908.5,213.6" fill="#fff" stroke="#000" stroke-width="1.8" stroke-linejoin="round"/>
<polygon points="849.3,132.8 851.8,133.9 876.3,125 873.7,123.9" fill="#fff" stroke="#000" stroke-width="1.8" stroke-linejoin="round"/>
<polygon points="853.5,128.3 857.3,130.6 881.7,121.7 877.9,119.4" fill="#fff" stroke="#000" stroke-width="1.8" stroke-linejoin="round"/>
<polygon points="890.4,221.5 888.9,225.7 913.3,216.8 914.8,212.6" fill="#fff" stroke="#000" stroke-width="1.8" stroke-linejoin="round"/>
<polygon points="857.3,130.6 858.2,137.6 882.6,128.7 881.7,121.7" fill="#fff" stroke="#000" stroke-width="1.8" stroke-linejoin="round"/>
<polygon points="886.5,215.6 890.4,221.5 914.8,212.6 911,206.7" fill="#fff" stroke="#000" stroke-width="1.8" stroke-linejoin="round"/>
<polygon points="858.2,137.6 860.6,139.5 885.1,130.6 882.6,128.7" fill="#fff" stroke="#000" stroke-width="1.8" stroke-linejoin="round"/>
<polygon points="887.2,212.6 886.5,215.6 911,206.7 911.7,203.7" fill="#fff" stroke="#000" stroke-width="1.8" stroke-linejoin="round"/>
<polygon points="887.7,209.4 887.2,212.6 911.7,203.7 912.2,200.5" fill="#fff" stroke="#000" stroke-width="1.8" stroke-linejoin="round"/>
<polygon points="860.6,139.5 863,141.6 887.5,132.7 885.1,130.6" fill="#fff" stroke="#000" stroke-width="1.8" stroke-linejoin="round"/>
<polygon points="868.9,147.7 871.1,150.5 895.5,141.6 893.3,138.8" fill="#fff" stroke="#000" stroke-width="1.8" stroke-linejoin="round"/>
<polygon points="888.2,197.4 888.3,200.9 912.7,192 912.6,188.5" fill="#fff" stroke="#000" stroke-width="1.8" stroke-linejoin="round"/>
<polygon points="869.6,141.4 868.9,147.7 893.3,138.8 894,132.5" fill="#fff" stroke="#000" stroke-width="1.8" stroke-linejoin="round"/>
<polygon points="888.3,200.9 892.9,205.4 917.3,196.5 912.7,192" fill="#fff" stroke="#000" stroke-width="1.8" stroke-linejoin="round"/>
<polygon points="887.9,193.8 888.2,197.4 912.6,188.5 912.3,184.9" fill="#fff" stroke="#000" stroke-width="1.8" stroke-linejoin="round"/>
<polygon points="871.1,150.5 873.2,153.4 897.6,144.5 895.5,141.6" fill="#fff" stroke="#000" stroke-width="1.8" stroke-linejoin="round"/>
<polygon points="866,137.6 869.6,141.4 894,132.5 890.5,128.8" fill="#fff" stroke="#000" stroke-width="1.8" stroke-linejoin="round"/>
<polygon points="892.9,205.4 892.5,210.5 917,201.6 917.3,196.5" fill="#fff" stroke="#000" stroke-width="1.8" stroke-linejoin="round"/>
<polygon points="878,161.4 879.7,164.8 904.1,155.9 902.4,152.5" fill="#fff" stroke="#000" stroke-width="1.8" stroke-linejoin="round"/>
<polygon points="885.6,180.9 886.4,184.6 910.9,175.7 910,172" fill="#fff" stroke="#000" stroke-width="1.8" stroke-linejoin="round"/>
<polygon points="879.7,164.8 881.2,168.2 905.7,159.3 904.1,155.9" fill="#fff" stroke="#000" stroke-width="1.8" stroke-linejoin="round"/>
<polygon points="884.5,177.3 885.6,180.9 910,172 909,168.4" fill="#fff" stroke="#000" stroke-width="1.8" stroke-linejoin="round"/>
<polygon points="880.1,156.4 878,161.4 902.4,152.5 904.6,147.5" fill="#fff" stroke="#000" stroke-width="1.8" stroke-linejoin="round"/>
<polygon points="886.4,184.6 891.3,187.1 915.7,178.2 910.9,175.7" fill="#fff" stroke="#000" stroke-width="1.8" stroke-linejoin="round"/>
<polygon points="881.2,168.2 885.9,168.5 910.4,159.7 905.7,159.3" fill="#fff" stroke="#000" stroke-width="1.8" stroke-linejoin="round"/>
<polygon points="887.9,174 884.5,177.3 909,168.4 912.3,165.1" fill="#fff" stroke="#000" stroke-width="1.8" stroke-linejoin="round"/>
<polygon points="877.2,151.5 880.1,156.4 904.6,147.5 901.6,142.6" fill="#fff" stroke="#000" stroke-width="1.8" stroke-linejoin="round"/>
<polygon points="891.3,187.1 892.2,192.7 916.6,183.8 915.7,178.2" fill="#fff" stroke="#000" stroke-width="1.8" stroke-linejoin="round"/>
<polygon points="885.9,168.5 887.9,174 912.3,165.1 910.4,159.7" fill="#fff" stroke="#000" stroke-width="1.8" stroke-linejoin="round"/>
<polygon points="881.2,168.2 885.9,168.5 887.9,174 884.5,177.3 885.6,180.9 886.4,184.6 891.3,187.1 892.2,192.7 887.9,193.8 888.2,197.4 888.3,200.9 892.9,205.4 892.5,210.5 887.7,209.4 887.2,212.6 886.5,215.6 890.4,221.5 888.9,225.7 884.1,222.5 882.8,224.9 881.4,227.1 884.2,234 881.7,236.8 877.3,231.8 875.4,233.3 873.5,234.5 874.8,241.6 871.5,242.8 868,236.5 865.7,236.8 863.4,236.9 863.2,243.6 859.5,243 857.2,236 854.7,235.2 852.2,234.1 850.5,239.7 846.7,237.4 845.8,230.4 843.4,228.5 841,226.4 838,230.4 834.4,226.6 835.1,220.3 832.9,217.5 830.8,214.6 826.8,216.5 823.9,211.6 826,206.6 824.3,203.2 822.8,199.8 818.1,199.5 816.1,194 819.5,190.7 818.4,187.1 817.6,183.4 812.7,180.9 811.8,175.3 816.1,174.2 815.8,170.6 815.7,167.1 811.1,162.6 811.5,157.5 816.3,158.6 816.8,155.4 817.5,152.4 813.6,146.5 815.1,142.3 819.9,145.5 821.2,143.1 822.6,140.9 819.8,134 822.3,131.2 826.7,136.2 828.6,134.7 830.5,133.5 829.2,126.4 832.5,125.2 836,131.5 838.3,131.2 840.6,131.1 840.8,124.4 844.5,125 846.8,132 849.3,132.8 851.8,133.9 853.5,128.3 857.3,130.6 858.2,137.6 860.6,139.5 863,141.6 866,137.6 869.6,141.4 868.9,147.7 871.1,150.5 873.2,153.4 877.2,151.5 880.1,156.4 878,161.4 879.7,164.8" fill="#fff" stroke="#000" stroke-width="2" stroke-linejoin="round"/>
<polygon points="820.9,150.3 824.7,149 827.5,148.2 830.5,147.9 833.7,148.1 836.9,148.9 840.1,150.1 843.3,151.7 846.5,153.9 849.7,156.4 852.7,159.4 855.7,162.7 858.4,166.4 861,170.3 863.3,174.5 865.4,178.9 867.3,183.5 868.8,188.2 870,192.9 870.9,197.6 871.5,202.3 871.7,206.9 871.6,211.3 871.2,215.5 870.4,219.5 869.3,223.2 867.9,226.6 866.2,229.6 864.2,232.2 862,234.3 859.5,236 856.8,237.3 853.1,238.7 855.8,237.4 858.2,235.7 860.5,233.5 862.5,230.9 864.2,227.9 865.6,224.6 866.7,220.9 867.4,216.9 867.9,212.7 868,208.2 867.7,203.7 867.2,199 866.3,194.2 865,189.5 863.5,184.9 861.7,180.3 859.6,175.9 857.2,171.7 854.7,167.7 851.9,164.1 849,160.7 845.9,157.8 842.8,155.2 839.6,153.1 836.3,151.4 833.1,150.2 829.9,149.5 826.8,149.3 823.8,149.6 820.9,150.3" fill="#fff" stroke="#000" stroke-width="2.1" />
<ellipse cx="837" cy="194.5" rx="28.2" ry="47" transform="rotate(-20 837 194.5)" fill="#fff" stroke="#000" stroke-width="2.1"/>
<ellipse cx="837" cy="194.5" rx="26.4" ry="44" transform="rotate(-20 837 194.5)" fill="none" stroke="#000" stroke-width="1.1"/>
<ellipse cx="832" cy="194.5" rx="23.4" ry="39" transform="rotate(-20 832 194.5)" fill="#fff" stroke="#000" stroke-width="2"/>
<polygon points="826.8,218.4 823.9,224.4 823.9,224.4 826.8,218.4" fill="#fff" stroke="#000" stroke-width="1.5" stroke-linejoin="round"/>
<polygon points="806.6,176.8 812.7,179.6 812.7,179.6 806.6,176.8" fill="#fff" stroke="#000" stroke-width="1.5" stroke-linejoin="round"/>
<polygon points="845.9,220.5 849.1,229.1 849.1,229.1 845.9,220.5" fill="#fff" stroke="#000" stroke-width="1.5" stroke-linejoin="round"/>
<polygon points="822.9,157 826,165.7 826,165.7 822.9,157" fill="#fff" stroke="#000" stroke-width="1.5" stroke-linejoin="round"/>
<polygon points="849.3,215.8 845.9,220.5 845.9,220.5 849.3,215.8" fill="#fff" stroke="#000" stroke-width="1.5" stroke-linejoin="round"/>
<polygon points="826,165.7 831.6,167 831.6,167 826,165.7" fill="#fff" stroke="#000" stroke-width="1.5" stroke-linejoin="round"/>
<polygon points="851.3,209.4 849.3,215.8 849.3,215.8 851.3,209.4" fill="#fff" stroke="#000" stroke-width="1.5" stroke-linejoin="round"/>
<polygon points="831.6,167 837.2,170.6 837.2,170.6 831.6,167" fill="#fff" stroke="#000" stroke-width="1.5" stroke-linejoin="round"/>
<polygon points="845.3,180.6 848.9,188.3 848.9,188.3 845.3,180.6" fill="#fff" stroke="#000" stroke-width="1.5" stroke-linejoin="round"/>
<polygon points="848.9,188.3 851.1,196.6 851.1,196.6 848.9,188.3" fill="#fff" stroke="#000" stroke-width="1.5" stroke-linejoin="round"/>
<polygon points="848.3,174.7 845.3,180.6 845.3,180.6 848.3,174.7" fill="#fff" stroke="#000" stroke-width="1.5" stroke-linejoin="round"/>
<polygon points="851.1,196.6 857.2,199.2 857.2,199.2 851.1,196.6" fill="#fff" stroke="#000" stroke-width="1.5" stroke-linejoin="round"/>
<polygon points="857.2,199.2 857.4,212.2 857.4,212.2 857.2,199.2" fill="#fff" stroke="#000" stroke-width="1.5" stroke-linejoin="round"/>
<polygon points="840.1,164.6 848.3,174.7 848.3,174.7 840.1,164.6" fill="#fff" stroke="#000" stroke-width="1.5" stroke-linejoin="round"/>
<polygon points="851.1,196.6 857.2,199.2 857.4,212.2 851.3,209.4 849.3,215.8 845.9,220.5 849.1,229.1 841.1,232 838,223.3 832.4,222 826.8,218.4 823.9,224.4 815.7,214.3 818.7,208.4 815.1,200.7 812.9,192.4 806.8,189.8 806.6,176.8 812.7,179.6 814.7,173.2 818.1,168.5 814.9,159.9 822.9,157 826,165.7 831.6,167 837.2,170.6 840.1,164.6 848.3,174.7 845.3,180.6 848.9,188.3" fill="#fff" stroke="#000" stroke-width="1.7" stroke-linejoin="round"/>
<ellipse cx="831.7" cy="195.7" rx="12" ry="20" transform="rotate(-20 831.7 195.7)" fill="#fff" stroke="#000" stroke-width="2.1"/>
<clipPath id="c5"><ellipse cx="831.7" cy="195.7" rx="12" ry="20" transform="rotate(-20 831.7 195.7)"/></clipPath>
<g clip-path="url(#c5)">
<polygon points="841.4,207 839.4,210 856.3,203.8 858.4,200.8" fill="#fff" stroke="#000" stroke-width="1.6" stroke-linejoin="round"/>
<polygon points="835.2,211.6 831.7,210.7 848.6,204.6 852.1,205.4" fill="#fff" stroke="#000" stroke-width="1.6" stroke-linejoin="round"/>
<polygon points="826.8,206.8 824,202.7 840.9,196.5 843.8,200.7" fill="#fff" stroke="#000" stroke-width="1.6" stroke-linejoin="round"/>
<polygon points="821.4,195.6 820.8,190.6 837.7,184.4 838.3,189.4" fill="#fff" stroke="#000" stroke-width="1.6" stroke-linejoin="round"/>
<polygon points="822,184.4 824,181.4 840.9,175.3 838.9,178.2" fill="#fff" stroke="#000" stroke-width="1.6" stroke-linejoin="round"/>
<polygon points="828.2,179.8 831.7,180.7 848.6,174.5 845.2,173.7" fill="#fff" stroke="#000" stroke-width="1.6" stroke-linejoin="round"/>
<ellipse cx="848.6" cy="189.5" rx="12" ry="20" transform="rotate(-20 848.6 189.5)" fill="none" stroke="#000" stroke-width="1.6"/>
</g>
<ellipse cx="831.7" cy="195.7" rx="12" ry="20" transform="rotate(-20 831.7 195.7)" fill="none" stroke="#000" stroke-width="2.1"/>
<polygon points="800,199 812,196 816,215 803,218" fill="#fff" stroke="#000" stroke-width="1.9" />
<text transform="translate(846.5,76.4) scale(0.9,1)" text-anchor="middle" font-size="26.5" stroke="#000" stroke-width="0.45">3</text>
<line x1="845.8" y1="78.6" x2="845.8" y2="125.8" stroke="#000" stroke-width="1.8"/>
<polygon points="955.1,174.2 953.1,173.7 951.1,172.9 949.2,171.8 947.3,170.6 945.4,169.1 943.6,167.4 941.8,165.5 940.1,163.4 938.6,161.2 937.2,158.8 935.9,156.4 934.7,153.8 933.7,151.1 932.8,148.4 932.1,145.7 931.6,143 931.3,140.2 931.2,137.6 931.2,135 931.4,132.4 931.8,130 932.4,127.7 933.1,125.6 934.1,123.6 935.1,121.9 936.3,120.3 937.7,118.9 939.2,117.8 940.8,116.9 942.5,116.3 944.3,115.9 946.1,115.7 948,115.8 949.9,116.2 951.9,116.8 953.9,117.6 955.8,118.7 957.7,120.1 959.6,121.6 961.4,123.3 963.1,125.3 964.8,127.4 966.3,129.6 967.7,132 969,134.5 970.1,137.1 971.1,139.8 971.9,142.5 972.5,145.2 973,148 973.3,150.7 973.4,153.4 973.3,155.9 973,158.4 972.6,160.8 972,163.1 971.2,165.2 970.2,167.1 969.1,168.8 967.8,170.3 965,165.8 966.1,164.5 967,163.1 967.8,161.5 968.4,159.8 968.9,158 969.3,156 969.5,154 969.6,151.9 969.5,149.7 969.2,147.5 968.9,145.2 968.3,143 967.7,140.8 966.9,138.6 966,136.4 964.9,134.4 963.8,132.4 962.5,130.6 961.2,128.9 959.8,127.3 958.3,125.8 956.7,124.6 955.2,123.5 953.6,122.6 952,121.9 950.4,121.4 948.8,121.1 947.2,121 945.7,121.1 944.2,121.5 942.8,122 941.5,122.7 940.3,123.7 939.2,124.8 938.2,126.1 937.3,127.5 936.6,129.1 936,130.9 935.5,132.7 935.2,134.7 935,136.8 935,138.9 935.1,141.1 935.4,143.4 935.8,145.6 936.3,147.8 937,150.1 937.9,152.2 938.8,154.3 939.9,156.4 941.1,158.3 942.3,160.1 943.7,161.8 945.1,163.4 946.6,164.8 948.2,166 949.7,167 951.3,167.9 953,168.5 954.6,169" fill="#fff" stroke="#000" stroke-width="2.2" />
<polygon points="951.3,175.6 949.3,175 947.4,174.2 945.4,173.2 943.5,171.9 941.6,170.4 939.8,168.7 938,166.9 936.4,164.8 934.8,162.6 933.4,160.2 932.1,157.7 930.9,155.2 929.9,152.5 929.1,149.8 928.4,147.1 927.9,144.3 927.6,141.6 927.4,138.9 927.4,136.3 927.7,133.8 928.1,131.4 928.6,129.1 929.4,127 930.3,125 931.4,123.2 932.6,121.7 933.9,120.3 935.4,119.2 937,118.3 938.7,117.6 940.5,117.2 942.3,117.1 944.2,117.2 946.2,117.5 948.1,118.1 950.1,119 952.1,120.1 954,121.4 955.8,123 957.7,124.7 959.4,126.6 961,128.7 962.5,131 963.9,133.4 965.2,135.9 966.3,138.5 967.3,141.2 968.1,143.9 968.8,146.6 969.2,149.3 969.5,152.1 969.6,154.7 969.5,157.3 969.3,159.8 968.8,162.2 968.2,164.4 967.4,166.5 966.5,168.4 965.3,170.2 964.1,171.7 961.3,167.2 962.3,165.9 963.2,164.5 964,162.9 964.6,161.2 965.2,159.4 965.5,157.4 965.7,155.4 965.8,153.2 965.7,151.1 965.5,148.8 965.1,146.6 964.6,144.4 963.9,142.1 963.1,139.9 962.2,137.8 961.2,135.8 960,133.8 958.8,131.9 957.4,130.2 956,128.6 954.5,127.2 953,125.9 951.4,124.9 949.8,124 948.2,123.3 946.6,122.8 945,122.5 943.5,122.4 941.9,122.5 940.5,122.8 939.1,123.4 937.8,124.1 936.6,125 935.5,126.1 934.5,127.4 933.6,128.9 932.8,130.5 932.2,132.2 931.7,134.1 931.4,136.1 931.2,138.2 931.2,140.3 931.3,142.5 931.6,144.7 932,147 932.6,149.2 933.3,151.4 934.1,153.6 935.1,155.7 936.1,157.7 937.3,159.7 938.6,161.5 939.9,163.2 941.4,164.7 942.9,166.1 944.4,167.3 946,168.4 947.6,169.2 949.2,169.9 950.8,170.3" fill="#fff" stroke="#000" stroke-width="2.2" />
<text transform="translate(940.2,66.4) scale(0.9,1)" text-anchor="middle" font-size="26.5" stroke="#000" stroke-width="0.45">14</text>
<line x1="940" y1="70" x2="940" y2="117" stroke="#000" stroke-width="1.8"/>
<polygon points="977.2,101.5 981,100.2 983.2,99.6 985.4,99.3 987.8,99.4 990.2,99.9 992.6,100.7 995,101.9 997.4,103.3 999.8,105.1 1002,107.2 1004.2,109.5 1006.2,112.1 1008.1,114.9 1009.8,117.9 1011.3,121 1012.6,124.3 1013.7,127.6 1014.5,131 1015.2,134.4 1015.5,137.7 1015.6,141 1015.5,144.2 1015.1,147.2 1014.5,150.1 1013.6,152.8 1012.5,155.2 1011.1,157.4 1009.6,159.3 1007.9,160.9 1006,162.2 1003.9,163.1 1000.2,164.5 1002.2,163.5 1004.1,162.3 1005.8,160.7 1007.4,158.8 1008.7,156.6 1009.8,154.2 1010.7,151.5 1011.3,148.6 1011.7,145.6 1011.9,142.4 1011.8,139.1 1011.4,135.8 1010.8,132.4 1009.9,129 1008.8,125.7 1007.5,122.4 1006,119.3 1004.3,116.3 1002.4,113.5 1000.4,110.9 998.3,108.6 996,106.5 993.7,104.7 991.3,103.2 988.9,102.1 986.4,101.3 984,100.8 981.7,100.7 979.4,100.9 977.2,101.5" fill="#fff" stroke="#000" stroke-width="2.6" />
<ellipse cx="988.7" cy="133" rx="21.4" ry="33.5" transform="rotate(-20 988.7 133)" fill="#fff" stroke="#000" stroke-width="2.6"/>
<ellipse cx="988.7" cy="133" rx="16.6" ry="26" transform="rotate(-20 988.7 133)" fill="#fff" stroke="#000" stroke-width="2.9"/>
<text transform="translate(978,52.1) scale(0.9,1)" text-anchor="middle" font-size="26.5" stroke="#000" stroke-width="0.45">8</text>
<line x1="977.4" y1="54.3" x2="977.4" y2="101.5" stroke="#000" stroke-width="1.8"/>
<polygon points="1004,298.8 1032.2,288.6 1035.4,287.8 1038.7,287.5 1042.2,287.9 1045.7,288.8 1049.4,290.3 1053,292.3 1056.6,294.9 1060.2,297.9 1063.7,301.5 1067,305.5 1070.2,309.8 1073.1,314.5 1075.8,319.5 1078.3,324.7 1080.4,330.1 1082.2,335.6 1083.7,341.2 1084.8,346.7 1085.6,352.2 1086,357.6 1086,362.8 1085.6,367.7 1084.8,372.4 1083.7,376.7 1082.2,380.6 1080.4,384.1 1078.3,387.1 1075.8,389.5 1073.1,391.5 1070.2,392.9 1042,403.2 1044.9,401.8 1047.6,399.8 1050.1,397.3 1052.2,394.3 1054,390.9 1055.5,386.9 1056.6,382.6 1057.4,378 1057.8,373.1 1057.8,367.9 1057.4,362.5 1056.6,357 1055.5,351.4 1054,345.9 1052.2,340.4 1050.1,335 1047.6,329.8 1044.9,324.8 1042,320.1 1038.8,315.7 1035.5,311.7 1032,308.2 1028.4,305.1 1024.8,302.6 1021.2,300.5 1017.5,299 1014,298.1 1010.5,297.8 1007.2,298 1004,298.8" fill="#fff" stroke="#000" stroke-width="2.2" />
<ellipse cx="1023" cy="351" rx="31.1" ry="55.5" transform="rotate(-20 1023 351)" fill="#fff" stroke="#000" stroke-width="2.2"/>
<polyline points="1014.2,295.4 1017.5,295 1021,295.3 1024.6,296.1 1028.2,297.6 1031.9,299.6 1035.6,302.1 1039.2,305.2 1042.7,308.7 1046.1,312.7 1049.3,317.1 1052.3,321.9 1055.1,326.9 1057.6,332.2 1059.7,337.6 1061.6,343.2 1063.1,348.8 1064.2,354.5 1064.9,360 1065.3,365.4 1065.3,370.7 1064.9,375.7 1064.1,380.3 1062.9,384.6 1061.4,388.6 1059.5,392 1057.3,395 1054.8,397.4 1052,399.3" fill="none" stroke="#000" stroke-width="1.3" />
<polyline points="1017,294.4 1020.3,294 1023.8,294.3 1027.4,295.1 1031.1,296.6 1034.8,298.6 1038.4,301.1 1042,304.2 1045.6,307.7 1048.9,311.7 1052.2,316.1 1055.1,320.8 1057.9,325.9 1060.4,331.2 1062.5,336.6 1064.4,342.2 1065.9,347.8 1067,353.4 1067.8,359 1068.1,364.4 1068.1,369.7 1067.7,374.6 1066.9,379.3 1065.7,383.6 1064.2,387.5 1062.3,391 1060.1,393.9 1057.6,396.4 1054.8,398.3" fill="none" stroke="#000" stroke-width="1.3" />
<ellipse cx="1023" cy="351" rx="26.9" ry="48" transform="rotate(-20 1023 351)" fill="#fff" stroke="#000" stroke-width="1.7"/>
<ellipse cx="1046.1" cy="350" rx="4.4" ry="5.4" fill="#fff" stroke="#000" stroke-width="1.6"/>
<ellipse cx="1047.7" cy="370.9" rx="4.4" ry="5.4" fill="#fff" stroke="#000" stroke-width="1.6"/>
<ellipse cx="1041.5" cy="385.5" rx="4.4" ry="5.4" fill="#fff" stroke="#000" stroke-width="1.6"/>
<ellipse cx="1029.4" cy="389.1" rx="4.4" ry="5.4" fill="#fff" stroke="#000" stroke-width="1.6"/>
<ellipse cx="1015.3" cy="380.6" rx="4.4" ry="5.4" fill="#fff" stroke="#000" stroke-width="1.6"/>
<ellipse cx="1003.6" cy="362.8" rx="4.4" ry="5.4" fill="#fff" stroke="#000" stroke-width="1.6"/>
<ellipse cx="998.1" cy="341.2" rx="4.4" ry="5.4" fill="#fff" stroke="#000" stroke-width="1.6"/>
<ellipse cx="1000.4" cy="322.7" rx="4.4" ry="5.4" fill="#fff" stroke="#000" stroke-width="1.6"/>
<ellipse cx="1010" cy="313.2" rx="4.4" ry="5.4" fill="#fff" stroke="#000" stroke-width="1.6"/>
<ellipse cx="1023.7" cy="315.7" rx="4.4" ry="5.4" fill="#fff" stroke="#000" stroke-width="1.6"/>
<ellipse cx="1037.1" cy="329.4" rx="4.4" ry="5.4" fill="#fff" stroke="#000" stroke-width="1.6"/>
<ellipse cx="1023" cy="351" rx="17.9" ry="32" transform="rotate(-20 1023 351)" fill="none" stroke="#000" stroke-width="1.7"/>
<ellipse cx="1023" cy="351" rx="14.3" ry="25.5" transform="rotate(-20 1023 351)" fill="#fff" stroke="#000" stroke-width="2.1"/>
<ellipse cx="1023" cy="351" rx="12.3" ry="22" transform="rotate(-20 1023 351)" fill="#fff" stroke="#000" stroke-width="1.5"/>
<clipPath id="c6"><ellipse cx="1023" cy="351" rx="12.3" ry="22" transform="rotate(-20 1023 351)"/></clipPath>
<g clip-path="url(#c6)">
<ellipse cx="1041.8" cy="344.2" rx="12.3" ry="22" transform="rotate(-20 1041.8 344.2)" fill="none" stroke="#000" stroke-width="2"/>
</g>
<text transform="translate(1055.7,480.3) scale(0.9,1)" text-anchor="middle" font-size="26.5" stroke="#000" stroke-width="0.45">15</text>
<line x1="1053.6" y1="401" x2="1053.6" y2="458" stroke="#000" stroke-width="1.8"/>
<polygon points="947.9,358.5 971.4,349.9 972.5,349.6 973.7,349.5 974.9,349.5 976.2,349.7 977.4,350.1 978.7,350.7 979.9,351.5 981.1,352.4 982.3,353.4 983.4,354.6 984.4,355.9 985.4,357.3 986.3,358.8 987.1,360.4 987.7,362.1 988.3,363.8 988.7,365.5 989,367.2 989.2,368.9 989.2,370.6 989.1,372.2 988.9,373.7 988.6,375.2 988.1,376.6 987.5,377.8 986.8,378.9 986,379.9 985.1,380.7 984.1,381.4 983,381.9 959.5,390.4 960.6,389.9 961.6,389.3 962.5,388.5 963.3,387.5 964,386.4 964.6,385.1 965.1,383.8 965.4,382.3 965.6,380.7 965.7,379.1 965.7,377.4 965.5,375.7 965.2,374 964.8,372.3 964.2,370.6 963.6,369 962.8,367.4 961.9,365.9 961,364.4 959.9,363.1 958.8,362 957.6,360.9 956.4,360 955.2,359.3 953.9,358.7 952.7,358.3 951.4,358.1 950.2,358 949,358.2 947.9,358.5" fill="#fff" stroke="#000" stroke-width="1.9" />
<ellipse cx="953.7" cy="374.5" rx="11.2" ry="17" transform="rotate(-20 953.7 374.5)" fill="#fff" stroke="#000" stroke-width="1.9"/>
<polyline points="951.8,357 953,356.7 954.1,356.6 955.4,356.6 956.6,356.9 957.9,357.3 959.1,357.8 960.4,358.6 961.6,359.5 962.7,360.5 963.9,361.7 964.9,363 965.9,364.4 966.7,365.9 967.5,367.5 968.2,369.2 968.7,370.9 969.2,372.6 969.5,374.3 969.6,376 969.7,377.7 969.6,379.3 969.4,380.9 969,382.3 968.5,383.7 967.9,384.9 967.2,386 966.4,387 965.5,387.8 964.5,388.5 963.4,389" fill="none" stroke="#000" stroke-width="1.6" />
<polyline points="955.8,355.6 956.9,355.3 958.1,355.2 959.3,355.2 960.6,355.4 961.8,355.8 963.1,356.4 964.3,357.1 965.5,358 966.7,359.1 967.8,360.3 968.8,361.6 969.8,363 970.7,364.5 971.5,366.1 972.1,367.7 972.7,369.4 973.1,371.1 973.4,372.9 973.6,374.6 973.6,376.2 973.5,377.9 973.3,379.4 973,380.9 972.5,382.2 971.9,383.5 971.2,384.6 970.4,385.6 969.5,386.4 968.5,387.1 967.4,387.6" fill="none" stroke="#000" stroke-width="1.6" />
<polyline points="959.7,354.2 960.8,353.9 962,353.7 963.3,353.8 964.5,354 965.8,354.4 967,355 968.3,355.7 969.5,356.6 970.6,357.6 971.8,358.8 972.8,360.1 973.8,361.6 974.6,363.1 975.4,364.7 976.1,366.3 976.6,368 977,369.7 977.4,371.4 977.5,373.1 977.6,374.8 977.5,376.4 977.3,378 976.9,379.4 976.4,380.8 975.8,382.1 975.1,383.2 974.3,384.2 973.4,385 972.4,385.6 971.3,386.1" fill="none" stroke="#000" stroke-width="1.6" />
<polyline points="963.7,352.7 964.8,352.4 966,352.3 967.2,352.3 968.4,352.6 969.7,353 971,353.5 972.2,354.3 973.4,355.2 974.6,356.2 975.7,357.4 976.7,358.7 977.7,360.1 978.6,361.6 979.4,363.2 980,364.9 980.6,366.6 981,368.3 981.3,370 981.5,371.7 981.5,373.4 981.4,375 981.2,376.5 980.8,378 980.4,379.4 979.8,380.6 979.1,381.7 978.3,382.7 977.4,383.5 976.4,384.2 975.3,384.7" fill="none" stroke="#000" stroke-width="1.6" />
<polyline points="967.6,351.3 968.7,351 969.9,350.8 971.1,350.9 972.4,351.1 973.7,351.5 974.9,352.1 976.2,352.8 977.4,353.7 978.5,354.8 979.6,356 980.7,357.3 981.7,358.7 982.5,360.2 983.3,361.8 984,363.4 984.5,365.1 984.9,366.8 985.2,368.6 985.4,370.3 985.5,371.9 985.4,373.6 985.1,375.1 984.8,376.6 984.3,377.9 983.7,379.2 983,380.3 982.2,381.3 981.3,382.1 980.3,382.8 979.2,383.2" fill="none" stroke="#000" stroke-width="1.6" />
<polygon points="875.1,414.1 873.8,415.3 944.2,389.6 945.6,388.5" fill="#fff" stroke="#000" stroke-width="1.5" stroke-linejoin="round"/>
<polygon points="866.4,390.7 868.2,391.2 938.7,365.5 936.9,365.1" fill="#fff" stroke="#000" stroke-width="1.5" stroke-linejoin="round"/>
<polygon points="885.3,420.7 885.1,423 955.5,397.4 955.8,395.1" fill="#fff" stroke="#000" stroke-width="1.5" stroke-linejoin="round"/>
<polygon points="872,379.3 873.4,381.2 943.9,355.5 942.4,353.6" fill="#fff" stroke="#000" stroke-width="1.5" stroke-linejoin="round"/>
<polygon points="895.5,420 889.4,423.2 959.9,397.5 966,394.4" fill="#fff" stroke="#000" stroke-width="1.5" stroke-linejoin="round"/>
<polygon points="875.7,377.3 882.8,377.6 953.2,351.9 946.2,351.7" fill="#fff" stroke="#000" stroke-width="1.5" stroke-linejoin="round"/>
<polygon points="894.5,417.6 895.5,420 966,394.4 965,392" fill="#fff" stroke="#000" stroke-width="1.5" stroke-linejoin="round"/>
<polygon points="895.5,416.4 894.5,417.6 965,392 966,390.7" fill="#fff" stroke="#000" stroke-width="1.5" stroke-linejoin="round"/>
<polygon points="896.4,414.9 895.5,416.4 966,390.7 966.9,389.3" fill="#fff" stroke="#000" stroke-width="1.5" stroke-linejoin="round"/>
<polygon points="882.8,377.6 883.2,380.1 953.7,354.4 953.2,351.9" fill="#fff" stroke="#000" stroke-width="1.5" stroke-linejoin="round"/>
<polygon points="883.2,380.1 884.8,380.8 955.3,355.1 953.7,354.4" fill="#fff" stroke="#000" stroke-width="1.5" stroke-linejoin="round"/>
<polygon points="884.8,380.8 886.4,381.7 956.9,356 955.3,355.1" fill="#fff" stroke="#000" stroke-width="1.5" stroke-linejoin="round"/>
<polygon points="900.2,407.7 898.1,416.2 968.6,390.5 970.6,382" fill="#fff" stroke="#000" stroke-width="1.5" stroke-linejoin="round"/>
<polygon points="898.4,404.2 898.4,406.3 968.9,380.7 968.9,378.6" fill="#fff" stroke="#000" stroke-width="1.5" stroke-linejoin="round"/>
<polygon points="887.2,379.8 893.8,386.4 964.3,360.8 957.7,354.2" fill="#fff" stroke="#000" stroke-width="1.5" stroke-linejoin="round"/>
<polygon points="898.4,406.3 900.2,407.7 970.6,382 968.9,380.7" fill="#fff" stroke="#000" stroke-width="1.5" stroke-linejoin="round"/>
<polygon points="898.2,402.1 898.4,404.2 968.9,378.6 968.7,376.4" fill="#fff" stroke="#000" stroke-width="1.5" stroke-linejoin="round"/>
<polygon points="893,388.3 894.2,390.2 964.7,364.5 963.5,362.7" fill="#fff" stroke="#000" stroke-width="1.5" stroke-linejoin="round"/>
<polygon points="894.2,390.2 895.2,392.2 965.7,366.5 964.7,364.5" fill="#fff" stroke="#000" stroke-width="1.5" stroke-linejoin="round"/>
<polygon points="893.8,386.4 893,388.3 963.5,362.7 964.3,360.8" fill="#fff" stroke="#000" stroke-width="1.5" stroke-linejoin="round"/>
<polygon points="895.2,392.2 896.9,391.8 967.4,366.2 965.7,366.5" fill="#fff" stroke="#000" stroke-width="1.5" stroke-linejoin="round"/>
<polygon points="896.9,391.8 899.9,401.7 970.3,376 967.4,366.2" fill="#fff" stroke="#000" stroke-width="1.5" stroke-linejoin="round"/>
<polygon points="895.2,392.2 896.9,391.8 899.9,401.7 898.2,402.1 898.4,404.2 898.4,406.3 900.2,407.7 898.1,416.2 896.4,414.9 895.5,416.4 894.5,417.6 895.5,420 889.4,423.2 888.4,420.8 886.9,420.9 885.3,420.7 885.1,423 877.8,419.4 878,417 876.5,415.7 875.1,414.1 873.8,415.3 868.7,406.5 870,405.3 869.3,403.2 868.7,401 866.9,400.5 866.4,390.7 868.2,391.2 868.6,389.2 869.1,387.5 867.6,385.5 872,379.3 873.4,381.2 874.7,380.4 876.1,379.8 875.7,377.3 882.8,377.6 883.2,380.1 884.8,380.8 886.4,381.7 887.2,379.8 893.8,386.4 893,388.3 894.2,390.2" fill="#fff" stroke="#000" stroke-width="1.7" stroke-linejoin="round"/>
<polygon points="869,378.7 874.7,376.6 876.3,376.2 878.1,376 879.9,376 881.7,376.3 883.6,376.9 885.4,377.8 887.2,378.9 889,380.2 890.7,381.7 892.4,383.5 893.9,385.4 895.3,387.5 896.6,389.7 897.7,392 898.7,394.5 899.5,396.9 900.2,399.5 900.6,402 900.9,404.5 900.9,407 900.8,409.3 900.5,411.6 899.9,413.8 899.2,415.8 898.4,417.6 897.3,419.3 896.1,420.7 894.8,421.9 893.3,422.9 891.8,423.6 886.1,425.6 887.7,424.9 889.2,424 890.5,422.8 891.7,421.3 892.7,419.7 893.6,417.8 894.3,415.8 894.8,413.7 895.1,411.4 895.3,409 895.2,406.6 895,404 894.5,401.5 893.9,399 893.1,396.5 892.1,394.1 891,391.8 889.7,389.5 888.3,387.4 886.7,385.5 885.1,383.8 883.4,382.2 881.6,380.9 879.8,379.8 877.9,379 876.1,378.4 874.2,378.1 872.4,378 870.7,378.2 869,378.7" fill="#fff" stroke="#000" stroke-width="1.9" />
<ellipse cx="877.6" cy="402.2" rx="16.5" ry="25" transform="rotate(-20 877.6 402.2)" fill="#fff" stroke="#000" stroke-width="1.9"/>
<polygon points="795.8,406.9 870,379.9 871.6,379.5 873.2,379.3 874.9,379.3 876.6,379.7 878.4,380.2 880.1,381 881.8,382 883.5,383.3 885.1,384.7 886.6,386.3 888.1,388.2 889.4,390.1 890.6,392.2 891.7,394.4 892.6,396.7 893.4,399 894,401.4 894.4,403.8 894.6,406.1 894.7,408.4 894.6,410.7 894.3,412.8 893.8,414.8 893.1,416.7 892.3,418.5 891.3,420 890.2,421.3 888.9,422.5 887.6,423.4 886.1,424.1 811.8,451.1 813.3,450.4 814.7,449.5 816,448.4 817.1,447 818.1,445.5 818.9,443.8 819.5,441.9 820,439.8 820.3,437.7 820.4,435.5 820.4,433.1 820.2,430.8 819.7,428.4 819.1,426 818.4,423.7 817.5,421.4 816.4,419.2 815.2,417.1 813.9,415.2 812.4,413.4 810.9,411.7 809.3,410.3 807.6,409 805.9,408 804.1,407.2 802.4,406.7 800.7,406.4 799,406.3 797.3,406.5 795.8,406.9" fill="#fff" stroke="#000" stroke-width="2.1" />
<ellipse cx="803.8" cy="429" rx="15.5" ry="23.5" transform="rotate(-20 803.8 429)" fill="#fff" stroke="#000" stroke-width="2.1"/>
<polygon points="773.6,457.3 770.5,459.7 788.8,453 792,450.6" fill="#fff" stroke="#000" stroke-width="1.7" stroke-linejoin="round"/>
<polygon points="758.5,426.9 762.5,426.7 780.8,420.1 776.9,420.2" fill="#fff" stroke="#000" stroke-width="1.7" stroke-linejoin="round"/>
<polygon points="782.1,465.1 780.2,469.4 798.6,462.7 800.4,458.4" fill="#fff" stroke="#000" stroke-width="1.7" stroke-linejoin="round"/>
<polygon points="759.8,413.2 764,415.3 782.3,408.7 778.1,406.5" fill="#fff" stroke="#000" stroke-width="1.7" stroke-linejoin="round"/>
<polygon points="764.9,402.9 768.7,407.1 787.1,400.4 783.2,396.3" fill="#fff" stroke="#000" stroke-width="1.7" stroke-linejoin="round"/>
<polygon points="791,468.4 790.8,474 809.1,467.3 809.4,461.7" fill="#fff" stroke="#000" stroke-width="1.7" stroke-linejoin="round"/>
<polygon points="773.2,397.7 776,403.1 794.3,396.5 791.5,391" fill="#fff" stroke="#000" stroke-width="1.7" stroke-linejoin="round"/>
<polygon points="799.1,466.7 800.5,472.7 818.8,466 817.5,460" fill="#fff" stroke="#000" stroke-width="1.7" stroke-linejoin="round"/>
<polygon points="776,403.1 777.9,402.9 796.3,396.3 794.3,396.5" fill="#fff" stroke="#000" stroke-width="1.7" stroke-linejoin="round"/>
<polygon points="800.8,465.6 799.1,466.7 817.5,460 819.1,458.9" fill="#fff" stroke="#000" stroke-width="1.7" stroke-linejoin="round"/>
<polygon points="802.2,464.3 800.8,465.6 819.1,458.9 820.6,457.6" fill="#fff" stroke="#000" stroke-width="1.7" stroke-linejoin="round"/>
<polygon points="777.9,402.9 779.9,403 798.3,396.3 796.3,396.3" fill="#fff" stroke="#000" stroke-width="1.7" stroke-linejoin="round"/>
<polygon points="780.2,397.4 783.3,398.2 801.7,391.5 798.5,390.7" fill="#fff" stroke="#000" stroke-width="1.7" stroke-linejoin="round"/>
<polygon points="808,465.8 806,468.4 824.4,461.7 826.3,459.1" fill="#fff" stroke="#000" stroke-width="1.7" stroke-linejoin="round"/>
<polygon points="783.3,398.2 784.7,404.2 803.1,397.5 801.7,391.5" fill="#fff" stroke="#000" stroke-width="1.7" stroke-linejoin="round"/>
<polygon points="805.2,460.3 808,465.8 826.3,459.1 823.5,453.6" fill="#fff" stroke="#000" stroke-width="1.7" stroke-linejoin="round"/>
<polygon points="784.7,404.2 786.8,405.1 805.1,398.4 803.1,397.5" fill="#fff" stroke="#000" stroke-width="1.7" stroke-linejoin="round"/>
<polygon points="806.2,458.2 805.2,460.3 823.5,453.6 824.5,451.6" fill="#fff" stroke="#000" stroke-width="1.7" stroke-linejoin="round"/>
<polygon points="786.8,405.1 788.9,406.3 807.2,399.6 805.1,398.4" fill="#fff" stroke="#000" stroke-width="1.7" stroke-linejoin="round"/>
<polygon points="807,456 806.2,458.2 824.5,451.6 825.3,449.3" fill="#fff" stroke="#000" stroke-width="1.7" stroke-linejoin="round"/>
<polygon points="808.4,447.4 808.2,450.1 826.5,443.5 826.7,440.8" fill="#fff" stroke="#000" stroke-width="1.7" stroke-linejoin="round"/>
<polygon points="793.6,410 795.5,411.9 813.8,405.3 811.9,403.3" fill="#fff" stroke="#000" stroke-width="1.7" stroke-linejoin="round"/>
<polygon points="793.8,404.4 793.6,410 811.9,403.3 812.1,397.7" fill="#fff" stroke="#000" stroke-width="1.7" stroke-linejoin="round"/>
<polygon points="808.2,450.1 812,454.3 830.3,447.6 826.5,443.5" fill="#fff" stroke="#000" stroke-width="1.7" stroke-linejoin="round"/>
<polygon points="812,454.3 811.2,458.1 829.5,451.5 830.3,447.6" fill="#fff" stroke="#000" stroke-width="1.7" stroke-linejoin="round"/>
<polygon points="790.7,401.9 793.8,404.4 812.1,397.7 809.1,395.3" fill="#fff" stroke="#000" stroke-width="1.7" stroke-linejoin="round"/>
<polygon points="808.4,444.6 808.4,447.4 826.7,440.8 826.8,438" fill="#fff" stroke="#000" stroke-width="1.7" stroke-linejoin="round"/>
<polygon points="795.5,411.9 797.3,414.1 815.6,407.4 813.8,405.3" fill="#fff" stroke="#000" stroke-width="1.7" stroke-linejoin="round"/>
<polygon points="807.2,434.8 807.8,437.8 826.1,431.1 825.5,428.2" fill="#fff" stroke="#000" stroke-width="1.7" stroke-linejoin="round"/>
<polygon points="801.2,419.7 802.6,422.4 821,415.7 819.5,413.1" fill="#fff" stroke="#000" stroke-width="1.7" stroke-linejoin="round"/>
<polygon points="802.6,422.4 803.9,425.1 822.3,418.5 821,415.7" fill="#fff" stroke="#000" stroke-width="1.7" stroke-linejoin="round"/>
<polygon points="806.4,431.9 807.2,434.8 825.5,428.2 824.7,425.2" fill="#fff" stroke="#000" stroke-width="1.7" stroke-linejoin="round"/>
<polygon points="807.8,437.8 812,440 830.3,433.3 826.1,431.1" fill="#fff" stroke="#000" stroke-width="1.7" stroke-linejoin="round"/>
<polygon points="803,415.3 801.2,419.7 819.5,413.1 821.3,408.7" fill="#fff" stroke="#000" stroke-width="1.7" stroke-linejoin="round"/>
<polygon points="803.9,425.1 807.9,425 826.3,418.3 822.3,418.5" fill="#fff" stroke="#000" stroke-width="1.7" stroke-linejoin="round"/>
<polygon points="809.6,429.4 806.4,431.9 824.7,425.2 827.9,422.8" fill="#fff" stroke="#000" stroke-width="1.7" stroke-linejoin="round"/>
<polygon points="812,440 812.4,444.4 830.7,437.8 830.3,433.3" fill="#fff" stroke="#000" stroke-width="1.7" stroke-linejoin="round"/>
<polygon points="800.5,411.6 803,415.3 821.3,408.7 818.8,405" fill="#fff" stroke="#000" stroke-width="1.7" stroke-linejoin="round"/>
<polygon points="807.9,425 809.6,429.4 827.9,422.8 826.3,418.3" fill="#fff" stroke="#000" stroke-width="1.7" stroke-linejoin="round"/>
<polygon points="803.9,425.1 807.9,425 809.6,429.4 806.4,431.9 807.2,434.8 807.8,437.8 812,440 812.4,444.4 808.4,444.6 808.4,447.4 808.2,450.1 812,454.3 811.2,458.1 807,456 806.2,458.2 805.2,460.3 808,465.8 806,468.4 802.2,464.3 800.8,465.6 799.1,466.7 800.5,472.7 797.8,473.7 794.9,468.2 793,468.4 791,468.4 790.8,474 787.6,473.2 786.2,467.2 784.1,466.2 782.1,465.1 780.2,469.4 777.1,467 777.4,461.4 775.5,459.4 773.6,457.3 770.5,459.7 767.9,456 769.8,451.6 768.3,449 767,446.2 763,446.4 761.4,441.9 764.6,439.5 763.8,436.5 763.2,433.6 759,431.4 758.5,426.9 762.5,426.7 762.6,423.9 762.8,421.2 759,417 759.8,413.2 764,415.3 764.8,413.1 765.8,411.1 763,405.6 764.9,402.9 768.7,407.1 770.2,405.7 771.8,404.7 770.5,398.7 773.2,397.7 776,403.1 777.9,402.9 779.9,403 780.2,397.4 783.3,398.2 784.7,404.2 786.8,405.1 788.9,406.3 790.7,401.9 793.8,404.4 793.6,410 795.5,411.9 797.3,414.1 800.5,411.6 803,415.3 801.2,419.7 802.6,422.4" fill="#fff" stroke="#000" stroke-width="1.9" stroke-linejoin="round"/>
<ellipse cx="785.5" cy="435.7" rx="16.7" ry="27" transform="rotate(-20 785.5 435.7)" fill="none" stroke="#000" stroke-width="1.3"/>
<polygon points="631.6,505.1 630.4,506.4 777,453 778.2,451.7" fill="#fff" stroke="#000" stroke-width="1.5" stroke-linejoin="round"/>
<polygon points="621.2,481.2 623,481.4 769.6,428.1 767.8,427.9" fill="#fff" stroke="#000" stroke-width="1.5" stroke-linejoin="round"/>
<polygon points="642.4,510.8 642.4,513.1 788.9,459.8 789,457.4" fill="#fff" stroke="#000" stroke-width="1.5" stroke-linejoin="round"/>
<polygon points="626.1,468.3 627.6,470.1 774.2,416.8 772.6,415" fill="#fff" stroke="#000" stroke-width="1.5" stroke-linejoin="round"/>
<polygon points="652.7,508.6 646.8,512.7 793.4,459.4 799.3,455.2" fill="#fff" stroke="#000" stroke-width="1.5" stroke-linejoin="round"/>
<polygon points="629.7,465.8 636.9,465.2 783.5,411.8 776.3,412.4" fill="#fff" stroke="#000" stroke-width="1.5" stroke-linejoin="round"/>
<polygon points="636.9,465.2 637.5,467.6 784.1,414.3 783.5,411.8" fill="#fff" stroke="#000" stroke-width="1.5" stroke-linejoin="round"/>
<polygon points="651.6,506.3 652.7,508.6 799.3,455.2 798.2,452.9" fill="#fff" stroke="#000" stroke-width="1.5" stroke-linejoin="round"/>
<polygon points="637.5,467.6 639.2,468.2 785.8,414.8 784.1,414.3" fill="#fff" stroke="#000" stroke-width="1.5" stroke-linejoin="round"/>
<polygon points="652.5,504.8 651.6,506.3 798.2,452.9 799.1,451.4" fill="#fff" stroke="#000" stroke-width="1.5" stroke-linejoin="round"/>
<polygon points="639.2,468.2 640.9,468.9 787.5,415.6 785.8,414.8" fill="#fff" stroke="#000" stroke-width="1.5" stroke-linejoin="round"/>
<polygon points="653.3,503.1 652.5,504.8 799.1,451.4 799.9,449.8" fill="#fff" stroke="#000" stroke-width="1.5" stroke-linejoin="round"/>
<polygon points="656.6,494.9 655.1,504.2 801.7,450.8 803.2,441.6" fill="#fff" stroke="#000" stroke-width="1.5" stroke-linejoin="round"/>
<polygon points="641.6,467 648.7,473.1 795.3,419.8 788.2,413.6" fill="#fff" stroke="#000" stroke-width="1.5" stroke-linejoin="round"/>
<polygon points="648.1,475.2 649.4,477 796,423.7 794.6,421.8" fill="#fff" stroke="#000" stroke-width="1.5" stroke-linejoin="round"/>
<polygon points="654.6,491.5 654.8,493.7 801.4,440.4 801.2,438.1" fill="#fff" stroke="#000" stroke-width="1.5" stroke-linejoin="round"/>
<polygon points="648.7,473.1 648.1,475.2 794.6,421.8 795.3,419.8" fill="#fff" stroke="#000" stroke-width="1.5" stroke-linejoin="round"/>
<polygon points="654.8,493.7 656.6,494.9 803.2,441.6 801.4,440.4" fill="#fff" stroke="#000" stroke-width="1.5" stroke-linejoin="round"/>
<polygon points="654.3,489.2 654.6,491.5 801.2,438.1 800.9,435.9" fill="#fff" stroke="#000" stroke-width="1.5" stroke-linejoin="round"/>
<polygon points="649.4,477 650.6,479 797.2,425.6 796,423.7" fill="#fff" stroke="#000" stroke-width="1.5" stroke-linejoin="round"/>
<polygon points="650.6,479 652.2,478.5 798.8,425.1 797.2,425.6" fill="#fff" stroke="#000" stroke-width="1.5" stroke-linejoin="round"/>
<polygon points="655.9,488.6 654.3,489.2 800.9,435.9 802.5,435.2" fill="#fff" stroke="#000" stroke-width="1.5" stroke-linejoin="round"/>
<polygon points="652.2,478.5 655.9,488.6 802.5,435.2 798.8,425.1" fill="#fff" stroke="#000" stroke-width="1.5" stroke-linejoin="round"/>
<polygon points="650.6,479 652.2,478.5 655.9,488.6 654.3,489.2 654.6,491.5 654.8,493.7 656.6,494.9 655.1,504.2 653.3,503.1 652.5,504.8 651.6,506.3 652.7,508.6 646.8,512.7 645.6,510.5 644,510.7 642.4,510.8 642.4,513.1 634.7,510.2 634.7,507.8 633.1,506.5 631.6,505.1 630.4,506.4 624.7,497.7 625.8,496.3 624.9,494.1 624.2,491.9 622.4,491.5 621.2,481.2 623,481.4 623.3,479.3 623.7,477.3 622.1,475.5 626.1,468.3 627.6,470.1 628.9,469.1 630.2,468.3 629.7,465.8 636.9,465.2 637.5,467.6 639.2,468.2 640.9,468.9 641.6,467 648.7,473.1 648.1,475.2 649.4,477" fill="#fff" stroke="#000" stroke-width="1.7" stroke-linejoin="round"/>
<polygon points="598.6,480.8 631.5,468.8 633,468.4 634.5,468.3 636,468.3 637.6,468.6 639.2,469.1 640.8,469.8 642.3,470.8 643.9,471.9 645.4,473.2 646.8,474.7 648.1,476.4 649.3,478.2 650.4,480.1 651.4,482.1 652.2,484.2 652.9,486.3 653.5,488.5 653.8,490.7 654.1,492.8 654.1,494.9 654,497 653.7,498.9 653.3,500.8 652.7,502.5 651.9,504.1 651,505.5 650,506.7 648.9,507.8 647.6,508.6 646.2,509.2 613.4,521.2 614.7,520.6 616,519.8 617.1,518.7 618.1,517.5 619,516.1 619.8,514.5 620.4,512.8 620.8,510.9 621.1,508.9 621.2,506.9 621.2,504.8 621,502.6 620.6,500.5 620,498.3 619.3,496.1 618.5,494.1 617.5,492.1 616.4,490.1 615.2,488.3 613.9,486.7 612.5,485.2 611,483.9 609.5,482.7 607.9,481.8 606.3,481.1 604.7,480.6 603.1,480.3 601.6,480.2 600.1,480.4 598.6,480.8" fill="#fff" stroke="#000" stroke-width="2.1" />
<ellipse cx="606" cy="501" rx="14.2" ry="21.5" transform="rotate(-20 606 501)" fill="#fff" stroke="#000" stroke-width="2.1"/>
<ellipse cx="606" cy="501" rx="11.6" ry="17.5" transform="rotate(-20 606 501)" fill="none" stroke="#000" stroke-width="1.5"/>
<ellipse cx="606" cy="501" rx="8.6" ry="13" transform="rotate(-20 606 501)" fill="#fff" stroke="#000" stroke-width="1.9"/>
<clipPath id="c7"><ellipse cx="606" cy="501" rx="8.6" ry="13" transform="rotate(-20 606 501)"/></clipPath>
<g clip-path="url(#c7)">
<ellipse cx="617.3" cy="496.9" rx="8.6" ry="13" transform="rotate(-20 617.3 496.9)" fill="none" stroke="#000" stroke-width="1.3"/>
</g>
<text transform="translate(856,526.6) scale(0.9,1)" text-anchor="middle" font-size="26.5" stroke="#000" stroke-width="0.45">1</text>
<line x1="858" y1="437" x2="858" y2="494.5" stroke="#000" stroke-width="1.8"/>
<polygon points="493.1,566.2 488.6,568.3 513.9,559.1 518.5,557" fill="#fff" stroke="#000" stroke-width="1.8" stroke-linejoin="round"/>
<polygon points="473.1,525.9 478,524.6 503.3,515.3 498.5,516.6" fill="#fff" stroke="#000" stroke-width="1.8" stroke-linejoin="round"/>
<polygon points="503.2,578.9 499.7,583.1 525.1,573.9 528.6,569.7" fill="#fff" stroke="#000" stroke-width="1.8" stroke-linejoin="round"/>
<polygon points="472.1,507.3 477.5,508.3 502.9,499.1 497.5,498.1" fill="#fff" stroke="#000" stroke-width="1.8" stroke-linejoin="round"/>
<polygon points="514.6,588 512.4,593.9 537.8,584.7 539.9,578.7" fill="#fff" stroke="#000" stroke-width="1.8" stroke-linejoin="round"/>
<polygon points="474.9,490.9 480.4,494.1 505.8,484.9 500.3,481.7" fill="#fff" stroke="#000" stroke-width="1.8" stroke-linejoin="round"/>
<polygon points="526.2,592.6 525.5,599.9 550.9,590.6 551.6,583.4" fill="#fff" stroke="#000" stroke-width="1.8" stroke-linejoin="round"/>
<polygon points="481.2,478 486.3,483.1 511.7,473.8 506.5,468.7" fill="#fff" stroke="#000" stroke-width="1.8" stroke-linejoin="round"/>
<polygon points="490.4,469.5 494.8,476.2 520.2,466.9 515.8,460.2" fill="#fff" stroke="#000" stroke-width="1.8" stroke-linejoin="round"/>
<polygon points="537.2,592.4 538.1,600.4 563.5,591.1 562.5,583.2" fill="#fff" stroke="#000" stroke-width="1.8" stroke-linejoin="round"/>
<polygon points="497,475.2 499.2,474.6 524.6,465.3 522.4,466" fill="#fff" stroke="#000" stroke-width="1.8" stroke-linejoin="round"/>
<polygon points="541.6,590.8 539.4,591.8 564.8,582.5 566.9,581.6" fill="#fff" stroke="#000" stroke-width="1.8" stroke-linejoin="round"/>
<polygon points="549,595.5 546,597.5 571.3,588.3 574.4,586.3" fill="#fff" stroke="#000" stroke-width="1.8" stroke-linejoin="round"/>
<polygon points="498.3,466.6 502,466.2 527.3,457 523.7,457.4" fill="#fff" stroke="#000" stroke-width="1.8" stroke-linejoin="round"/>
<polygon points="502,466.2 505.2,473.9 530.6,464.6 527.3,457" fill="#fff" stroke="#000" stroke-width="1.8" stroke-linejoin="round"/>
<polygon points="546.6,587.5 549,595.5 574.4,586.3 572,578.3" fill="#fff" stroke="#000" stroke-width="1.8" stroke-linejoin="round"/>
<polygon points="548.4,585.8 546.6,587.5 572,578.3 573.8,576.6" fill="#fff" stroke="#000" stroke-width="1.8" stroke-linejoin="round"/>
<polygon points="505.2,473.9 507.7,474 533.1,464.8 530.6,464.6" fill="#fff" stroke="#000" stroke-width="1.8" stroke-linejoin="round"/>
<polygon points="550.1,583.9 548.4,585.8 573.8,576.6 575.4,574.7" fill="#fff" stroke="#000" stroke-width="1.8" stroke-linejoin="round"/>
<polygon points="507.7,474 510.2,474.4 535.6,465.2 533.1,464.8" fill="#fff" stroke="#000" stroke-width="1.8" stroke-linejoin="round"/>
<polygon points="557.4,585.6 555.2,589 580.6,579.8 582.8,576.4" fill="#fff" stroke="#000" stroke-width="1.8" stroke-linejoin="round"/>
<polygon points="510.9,467.1 514.8,468.4 540.2,459.1 536.2,457.9" fill="#fff" stroke="#000" stroke-width="1.8" stroke-linejoin="round"/>
<polygon points="514.8,468.4 516.7,476.4 542.1,467.2 540.2,459.1" fill="#fff" stroke="#000" stroke-width="1.8" stroke-linejoin="round"/>
<polygon points="553.7,578.2 557.4,585.6 582.8,576.4 579.1,569" fill="#fff" stroke="#000" stroke-width="1.8" stroke-linejoin="round"/>
<polygon points="554.9,575.6 553.7,578.2 579.1,569 580.3,566.4" fill="#fff" stroke="#000" stroke-width="1.8" stroke-linejoin="round"/>
<polygon points="516.7,476.4 519.3,477.6 544.6,468.4 542.1,467.2" fill="#fff" stroke="#000" stroke-width="1.8" stroke-linejoin="round"/>
<polygon points="556,572.9 554.9,575.6 580.3,566.4 581.4,563.7" fill="#fff" stroke="#000" stroke-width="1.8" stroke-linejoin="round"/>
<polygon points="519.3,477.6 521.8,479 547.2,469.8 544.6,468.4" fill="#fff" stroke="#000" stroke-width="1.8" stroke-linejoin="round"/>
<polygon points="528.3,483.6 530.7,485.7 556.1,476.5 553.6,474.3" fill="#fff" stroke="#000" stroke-width="1.8" stroke-linejoin="round"/>
<polygon points="558.5,562 558,565.3 583.4,556 583.9,552.8" fill="#fff" stroke="#000" stroke-width="1.8" stroke-linejoin="round"/>
<polygon points="524,473.1 527.9,475.8 553.3,466.6 549.4,463.8" fill="#fff" stroke="#000" stroke-width="1.8" stroke-linejoin="round"/>
<polygon points="562.7,571.5 561.5,576.1 586.9,566.8 588.1,562.2" fill="#fff" stroke="#000" stroke-width="1.8" stroke-linejoin="round"/>
<polygon points="527.9,475.8 528.3,483.6 553.6,474.3 553.3,466.6" fill="#fff" stroke="#000" stroke-width="1.8" stroke-linejoin="round"/>
<polygon points="558,565.3 562.7,571.5 588.1,562.2 583.4,556" fill="#fff" stroke="#000" stroke-width="1.8" stroke-linejoin="round"/>
<polygon points="530.7,485.7 533.2,488.1 558.5,478.8 556.1,476.5" fill="#fff" stroke="#000" stroke-width="1.8" stroke-linejoin="round"/>
<polygon points="558.9,558.7 558.5,562 583.9,552.8 584.2,549.5" fill="#fff" stroke="#000" stroke-width="1.8" stroke-linejoin="round"/>
<polygon points="539,494.8 541.2,497.7 566.6,488.5 564.4,485.6" fill="#fff" stroke="#000" stroke-width="1.8" stroke-linejoin="round"/>
<polygon points="558.8,546.1 559,549.8 584.4,540.5 584.2,536.9" fill="#fff" stroke="#000" stroke-width="1.8" stroke-linejoin="round"/>
<polygon points="541.2,497.7 543.3,500.8 568.6,491.6 566.6,488.5" fill="#fff" stroke="#000" stroke-width="1.8" stroke-linejoin="round"/>
<polygon points="558.4,542.4 558.8,546.1 584.2,536.9 583.8,533.2" fill="#fff" stroke="#000" stroke-width="1.8" stroke-linejoin="round"/>
<polygon points="540.2,487.9 539,494.8 564.4,485.6 565.6,478.7" fill="#fff" stroke="#000" stroke-width="1.8" stroke-linejoin="round"/>
<polygon points="559,549.8 564.4,554.3 589.7,545 584.4,540.5" fill="#fff" stroke="#000" stroke-width="1.8" stroke-linejoin="round"/>
<polygon points="536.7,483.9 540.2,487.9 565.6,478.7 562,474.6" fill="#fff" stroke="#000" stroke-width="1.8" stroke-linejoin="round"/>
<polygon points="564.4,554.3 564.3,559.7 589.6,550.4 589.7,545" fill="#fff" stroke="#000" stroke-width="1.8" stroke-linejoin="round"/>
<polygon points="548.1,509.1 549.8,512.6 575.2,503.4 573.5,499.9" fill="#fff" stroke="#000" stroke-width="1.8" stroke-linejoin="round"/>
<polygon points="555.8,529.2 556.7,532.9 582.1,523.7 581.2,520" fill="#fff" stroke="#000" stroke-width="1.8" stroke-linejoin="round"/>
<polygon points="554.7,525.5 555.8,529.2 581.2,520 580.1,516.2" fill="#fff" stroke="#000" stroke-width="1.8" stroke-linejoin="round"/>
<polygon points="549.8,512.6 551.4,516.2 576.7,506.9 575.2,503.4" fill="#fff" stroke="#000" stroke-width="1.8" stroke-linejoin="round"/>
<polygon points="550.8,503.7 548.1,509.1 573.5,499.9 576.1,494.5" fill="#fff" stroke="#000" stroke-width="1.8" stroke-linejoin="round"/>
<polygon points="556.7,532.9 562.3,535.4 587.6,526.1 582.1,523.7" fill="#fff" stroke="#000" stroke-width="1.8" stroke-linejoin="round"/>
<polygon points="551.4,516.2 556.6,516.3 582,507.1 576.7,506.9" fill="#fff" stroke="#000" stroke-width="1.8" stroke-linejoin="round"/>
<polygon points="558.7,522 554.7,525.5 580.1,516.2 584,512.7" fill="#fff" stroke="#000" stroke-width="1.8" stroke-linejoin="round"/>
<polygon points="562.3,535.4 563.3,541.1 588.7,531.9 587.6,526.1" fill="#fff" stroke="#000" stroke-width="1.8" stroke-linejoin="round"/>
<polygon points="547.8,498.7 550.8,503.7 576.1,494.5 573.2,489.5" fill="#fff" stroke="#000" stroke-width="1.8" stroke-linejoin="round"/>
<polygon points="556.6,516.3 558.7,522 584,512.7 582,507.1" fill="#fff" stroke="#000" stroke-width="1.8" stroke-linejoin="round"/>
<polygon points="551.4,516.2 556.6,516.3 558.7,522 554.7,525.5 555.8,529.2 556.7,532.9 562.3,535.4 563.3,541.1 558.4,542.4 558.8,546.1 559,549.8 564.4,554.3 564.3,559.7 558.9,558.7 558.5,562 558,565.3 562.7,571.5 561.5,576.1 556,572.9 554.9,575.6 553.7,578.2 557.4,585.6 555.2,589 550.1,583.9 548.4,585.8 546.6,587.5 549,595.5 546,597.5 541.6,590.8 539.4,591.8 537.2,592.4 538.1,600.4 534.4,600.8 531.2,593.1 528.7,593 526.2,592.6 525.5,599.9 521.6,598.6 519.7,590.6 517.1,589.4 514.6,588 512.4,593.9 508.5,591.2 508.1,583.4 505.7,581.3 503.2,578.9 499.7,583.1 496.2,579.1 497.4,572.2 495.2,569.3 493.1,566.2 488.6,568.3 485.6,563.3 488.3,557.9 486.6,554.4 485,550.8 479.8,550.7 477.7,545 481.7,541.5 480.6,537.8 479.7,534.1 474.1,531.6 473.1,525.9 478,524.6 477.6,520.9 477.4,517.2 472,512.7 472.1,507.3 477.5,508.3 477.9,505 478.4,501.7 473.7,495.5 474.9,490.9 480.4,494.1 481.5,491.4 482.7,488.8 479,481.4 481.2,478 486.3,483.1 488,481.2 489.8,479.5 487.4,471.5 490.4,469.5 494.8,476.2 497,475.2 499.2,474.6 498.3,466.6 502,466.2 505.2,473.9 507.7,474 510.2,474.4 510.9,467.1 514.8,468.4 516.7,476.4 519.3,477.6 521.8,479 524,473.1 527.9,475.8 528.3,483.6 530.7,485.7 533.2,488.1 536.7,483.9 540.2,487.9 539,494.8 541.2,497.7 543.3,500.8 547.8,498.7 550.8,503.7 548.1,509.1 549.8,512.6" fill="#fff" stroke="#000" stroke-width="2" stroke-linejoin="round"/>
<polygon points="468.9,544 478.3,543.3 495.2,537.1 485.8,537.9" fill="#fff" stroke="#000" stroke-width="1.8" stroke-linejoin="round"/>
<polygon points="484.5,560.4 476.8,565.9 493.8,559.8 501.4,554.3" fill="#fff" stroke="#000" stroke-width="1.8" stroke-linejoin="round"/>
<polygon points="477.8,502.2 485.2,513.5 502.1,507.4 494.7,496" fill="#fff" stroke="#000" stroke-width="1.8" stroke-linejoin="round"/>
<polygon points="509,578.8 510.6,592.3 527.5,586.1 525.9,572.6" fill="#fff" stroke="#000" stroke-width="1.8" stroke-linejoin="round"/>
<polygon points="520.8,574.5 515.3,577.8 532.2,571.7 537.7,568.3" fill="#fff" stroke="#000" stroke-width="1.8" stroke-linejoin="round"/>
<polygon points="490.7,510.2 497,509.2 513.9,503.1 507.6,504" fill="#fff" stroke="#000" stroke-width="1.8" stroke-linejoin="round"/>
<polygon points="495.4,495.7 511.9,502.1 528.9,496 512.3,489.6" fill="#fff" stroke="#000" stroke-width="1.8" stroke-linejoin="round"/>
<polygon points="536.8,570.3 528.2,585.8 545.1,579.7 553.7,564.2" fill="#fff" stroke="#000" stroke-width="1.8" stroke-linejoin="round"/>
<polygon points="510,514.2 516.2,520 533.1,513.9 526.9,508.1" fill="#fff" stroke="#000" stroke-width="1.8" stroke-linejoin="round"/>
<polygon points="528.5,553.9 527.5,562.3 544.4,556.2 545.4,547.7" fill="#fff" stroke="#000" stroke-width="1.8" stroke-linejoin="round"/>
<polygon points="511.9,502.1 510,514.2 526.9,508.1 528.9,496" fill="#fff" stroke="#000" stroke-width="1.8" stroke-linejoin="round"/>
<polygon points="527.5,562.3 536.8,570.3 553.7,564.2 544.4,556.2" fill="#fff" stroke="#000" stroke-width="1.8" stroke-linejoin="round"/>
<polygon points="527.7,544.7 528.5,553.9 545.4,547.7 544.6,538.6" fill="#fff" stroke="#000" stroke-width="1.8" stroke-linejoin="round"/>
<polygon points="516.2,520 521.5,527.6 538.4,521.4 533.1,513.9" fill="#fff" stroke="#000" stroke-width="1.8" stroke-linejoin="round"/>
<polygon points="529.2,522.1 537.1,544 554.1,537.8 546.1,515.9" fill="#fff" stroke="#000" stroke-width="1.8" stroke-linejoin="round"/>
<polygon points="521.5,527.6 529.2,522.1 537.1,544 527.7,544.7 528.5,553.9 527.5,562.3 536.8,570.3 528.2,585.8 520.8,574.5 515.3,577.8 509,578.8 510.6,592.3 494.1,585.9 496,573.8 489.8,568 484.5,560.4 476.8,565.9 468.9,544 478.3,543.3 477.5,534.1 478.5,525.7 469.2,517.7 477.8,502.2 485.2,513.5 490.7,510.2 497,509.2 495.4,495.7 511.9,502.1 510,514.2 516.2,520" fill="#fff" stroke="#000" stroke-width="2" stroke-linejoin="round"/>
<ellipse cx="513" cy="538" rx="20.5" ry="31" transform="rotate(-20 513 538)" fill="#fff" stroke="#000" stroke-width="2"/>
<ellipse cx="513" cy="538" rx="17.8" ry="27" transform="rotate(-20 513 538)" fill="none" stroke="#000" stroke-width="1.3"/>
<circle cx="500" cy="517" r="1.2" fill="#000"/>
<circle cx="507" cy="515" r="1.2" fill="#000"/>
<circle cx="514" cy="514" r="1.2" fill="#000"/>
<circle cx="498" cy="528" r="1.2" fill="#000"/>
<circle cx="505" cy="527" r="1.2" fill="#000"/>
<circle cx="512" cy="526" r="1.2" fill="#000"/>
<circle cx="501" cy="539" r="1.2" fill="#000"/>
<circle cx="508" cy="538" r="1.2" fill="#000"/>
<circle cx="515" cy="537" r="1.2" fill="#000"/>
<circle cx="503" cy="551" r="1.2" fill="#000"/>
<circle cx="510" cy="550" r="1.2" fill="#000"/>
<circle cx="506" cy="561" r="1.2" fill="#000"/>
<text transform="translate(548.7,672.1) scale(0.9,1)" text-anchor="middle" font-size="26.5" stroke="#000" stroke-width="0.45">4</text>
<line x1="547.6" y1="596.7" x2="547.6" y2="649" stroke="#000" stroke-width="1.8"/>
<polygon points="1005.4,698 1038.3,686 1042.3,684.9 1046.5,684.5 1050.9,684.9 1055.4,685.9 1059.9,687.5 1064.5,689.9 1069,692.9 1073.4,696.5 1077.7,700.6 1081.8,705.3 1085.7,710.4 1089.3,716 1092.6,721.9 1095.5,728.1 1098.1,734.5 1100.3,741 1102,747.7 1103.3,754.3 1104.1,760.9 1104.4,767.3 1104.3,773.5 1103.6,779.5 1102.6,785.1 1101,790.2 1099,795 1096.6,799.2 1093.9,802.8 1090.7,805.9 1087.2,808.3 1083.5,810 1050.6,822 1054.3,820.3 1057.8,817.8 1061,814.8 1063.8,811.1 1066.2,806.9 1068.1,802.2 1069.7,797 1070.8,791.4 1071.4,785.5 1071.5,779.3 1071.2,772.9 1070.4,766.3 1069.1,759.6 1067.4,753 1065.2,746.5 1062.6,740 1059.7,733.9 1056.4,728 1052.8,722.4 1048.9,717.3 1044.8,712.6 1040.5,708.4 1036.1,704.8 1031.6,701.9 1027.1,699.5 1022.5,697.8 1018,696.8 1013.7,696.5 1009.4,696.9 1005.4,698" fill="#fff" stroke="#000" stroke-width="2.1" />
<polyline points="1041.4,686 1045.8,686.1 1050.4,686.9 1055,688.4 1059.7,690.7 1064.3,693.6 1068.9,697.1 1073.3,701.3 1077.6,706 1081.6,711.3 1085.3,716.9 1088.7,722.9 1091.7,729.3 1094.3,735.9 1096.5,742.6 1098.3,749.4 1099.6,756.2 1100.4,762.9 1100.7,769.5 1100.4,775.8 1099.7,781.9 1098.5,787.5 1096.8,792.7 1094.7,797.5 1092.1,801.6 1089.2,805.2 1085.8,808.1" fill="none" stroke="#000" stroke-width="1.3" />
<polygon points="1002,793.6 997.4,795.6 1020,787.4 1024.6,785.4" fill="#fff" stroke="#000" stroke-width="1.8" stroke-linejoin="round"/>
<polygon points="981.7,752.4 986.5,750.9 1009,742.7 1004.2,744.1" fill="#fff" stroke="#000" stroke-width="1.8" stroke-linejoin="round"/>
<polygon points="1012.5,806.8 1008.9,810.9 1031.4,802.7 1035,798.6" fill="#fff" stroke="#000" stroke-width="1.8" stroke-linejoin="round"/>
<polygon points="980.6,733.3 986,734.2 1008.6,725.9 1003.2,725.1" fill="#fff" stroke="#000" stroke-width="1.8" stroke-linejoin="round"/>
<polygon points="1024.1,816.2 1021.9,822.1 1044.5,813.9 1046.7,808" fill="#fff" stroke="#000" stroke-width="1.8" stroke-linejoin="round"/>
<polygon points="983.4,716.4 988.9,719.5 1011.5,711.3 1006,708.2" fill="#fff" stroke="#000" stroke-width="1.8" stroke-linejoin="round"/>
<polygon points="989.8,703 995,708.1 1017.6,699.8 1012.4,694.8" fill="#fff" stroke="#000" stroke-width="1.8" stroke-linejoin="round"/>
<polygon points="1036.1,821 1035.4,828.2 1058,820 1058.7,812.8" fill="#fff" stroke="#000" stroke-width="1.8" stroke-linejoin="round"/>
<polygon points="1047.5,820.9 1048.3,828.8 1070.9,820.6 1070,812.7" fill="#fff" stroke="#000" stroke-width="1.8" stroke-linejoin="round"/>
<polygon points="999.3,694.2 1003.8,700.9 1026.3,692.6 1021.9,686" fill="#fff" stroke="#000" stroke-width="1.8" stroke-linejoin="round"/>
<polygon points="1006.1,699.9 1008.5,699.1 1031.1,690.9 1028.7,691.7" fill="#fff" stroke="#000" stroke-width="1.8" stroke-linejoin="round"/>
<polygon points="1052.2,819.1 1049.9,820.1 1072.4,811.9 1074.8,810.9" fill="#fff" stroke="#000" stroke-width="1.8" stroke-linejoin="round"/>
<polygon points="1059.6,823.8 1056.7,825.8 1079.2,817.6 1082.1,815.6" fill="#fff" stroke="#000" stroke-width="1.8" stroke-linejoin="round"/>
<polygon points="1007.7,691.2 1011.2,690.8 1033.7,682.6 1030.2,683" fill="#fff" stroke="#000" stroke-width="1.8" stroke-linejoin="round"/>
<polygon points="1057.2,815.8 1059.6,823.8 1082.1,815.6 1079.8,807.6" fill="#fff" stroke="#000" stroke-width="1.8" stroke-linejoin="round"/>
<polygon points="1011.2,690.8 1014.5,698.4 1037.1,690.2 1033.7,682.6" fill="#fff" stroke="#000" stroke-width="1.8" stroke-linejoin="round"/>
<polygon points="1059.2,814 1057.2,815.8 1079.8,807.6 1081.7,805.8" fill="#fff" stroke="#000" stroke-width="1.8" stroke-linejoin="round"/>
<polygon points="1014.5,698.4 1017.2,698.6 1039.7,690.4 1037.1,690.2" fill="#fff" stroke="#000" stroke-width="1.8" stroke-linejoin="round"/>
<polygon points="1061,811.9 1059.2,814 1081.7,805.8 1083.5,803.7" fill="#fff" stroke="#000" stroke-width="1.8" stroke-linejoin="round"/>
<polygon points="1017.2,698.6 1019.9,699 1042.4,690.8 1039.7,690.4" fill="#fff" stroke="#000" stroke-width="1.8" stroke-linejoin="round"/>
<polygon points="1068.3,813.7 1066.2,817 1088.7,808.8 1090.9,805.5" fill="#fff" stroke="#000" stroke-width="1.8" stroke-linejoin="round"/>
<polygon points="1020.6,691.8 1024.4,693 1046.9,684.8 1043.1,683.6" fill="#fff" stroke="#000" stroke-width="1.8" stroke-linejoin="round"/>
<polygon points="1064.6,806.3 1068.3,813.7 1090.9,805.5 1087.2,798" fill="#fff" stroke="#000" stroke-width="1.8" stroke-linejoin="round"/>
<polygon points="1024.4,693 1026.3,701 1048.9,692.8 1046.9,684.8" fill="#fff" stroke="#000" stroke-width="1.8" stroke-linejoin="round"/>
<polygon points="1065.9,803.5 1064.6,806.3 1087.2,798 1088.5,795.3" fill="#fff" stroke="#000" stroke-width="1.8" stroke-linejoin="round"/>
<polygon points="1026.3,701 1029.1,702.3 1051.6,694.1 1048.9,692.8" fill="#fff" stroke="#000" stroke-width="1.8" stroke-linejoin="round"/>
<polygon points="1029.1,702.3 1031.9,703.8 1054.4,695.6 1051.6,694.1" fill="#fff" stroke="#000" stroke-width="1.8" stroke-linejoin="round"/>
<polygon points="1067.1,800.5 1065.9,803.5 1088.5,795.3 1089.6,792.3" fill="#fff" stroke="#000" stroke-width="1.8" stroke-linejoin="round"/>
<polygon points="1038.3,708.4 1040.9,710.7 1063.5,702.5 1060.8,700.2" fill="#fff" stroke="#000" stroke-width="1.8" stroke-linejoin="round"/>
<polygon points="1069.6,789.5 1069.1,792.9 1091.6,784.7 1092.2,781.2" fill="#fff" stroke="#000" stroke-width="1.8" stroke-linejoin="round"/>
<polygon points="1034.1,697.9 1037.8,700.6 1060.4,692.4 1056.6,689.7" fill="#fff" stroke="#000" stroke-width="1.8" stroke-linejoin="round"/>
<polygon points="1073.7,799.2 1072.6,803.6 1095.1,795.4 1096.3,791" fill="#fff" stroke="#000" stroke-width="1.8" stroke-linejoin="round"/>
<polygon points="1069.1,792.9 1073.7,799.2 1096.3,791 1091.6,784.7" fill="#fff" stroke="#000" stroke-width="1.8" stroke-linejoin="round"/>
<polygon points="1037.8,700.6 1038.3,708.4 1060.8,700.2 1060.4,692.4" fill="#fff" stroke="#000" stroke-width="1.8" stroke-linejoin="round"/>
<polygon points="1040.9,710.7 1043.5,713.2 1066.1,705 1063.5,702.5" fill="#fff" stroke="#000" stroke-width="1.8" stroke-linejoin="round"/>
<polygon points="1070,785.8 1069.6,789.5 1092.2,781.2 1092.5,777.6" fill="#fff" stroke="#000" stroke-width="1.8" stroke-linejoin="round"/>
<polygon points="1069.9,773 1070.1,777 1092.7,768.7 1092.5,764.8" fill="#fff" stroke="#000" stroke-width="1.8" stroke-linejoin="round"/>
<polygon points="1049.4,719.9 1051.7,723.1 1074.3,714.9 1071.9,711.7" fill="#fff" stroke="#000" stroke-width="1.8" stroke-linejoin="round"/>
<polygon points="1069.5,769.1 1069.9,773 1092.5,764.8 1092.1,760.9" fill="#fff" stroke="#000" stroke-width="1.8" stroke-linejoin="round"/>
<polygon points="1051.7,723.1 1054,726.4 1076.5,718.2 1074.3,714.9" fill="#fff" stroke="#000" stroke-width="1.8" stroke-linejoin="round"/>
<polygon points="1050.5,713 1049.4,719.9 1071.9,711.7 1073.1,704.8" fill="#fff" stroke="#000" stroke-width="1.8" stroke-linejoin="round"/>
<polygon points="1070.1,777 1075.5,781.5 1098,773.3 1092.7,768.7" fill="#fff" stroke="#000" stroke-width="1.8" stroke-linejoin="round"/>
<polygon points="1047.1,709.1 1050.5,713 1073.1,704.8 1069.7,700.9" fill="#fff" stroke="#000" stroke-width="1.8" stroke-linejoin="round"/>
<polygon points="1075.5,781.5 1075.4,786.7 1097.9,778.5 1098,773.3" fill="#fff" stroke="#000" stroke-width="1.8" stroke-linejoin="round"/>
<polygon points="1058.8,734.7 1060.6,738.4 1083.2,730.2 1081.3,726.5" fill="#fff" stroke="#000" stroke-width="1.8" stroke-linejoin="round"/>
<polygon points="1066.8,755.6 1067.8,759.6 1090.4,751.4 1089.4,747.4" fill="#fff" stroke="#000" stroke-width="1.8" stroke-linejoin="round"/>
<polygon points="1065.7,751.5 1066.8,755.6 1089.4,747.4 1088.2,743.3" fill="#fff" stroke="#000" stroke-width="1.8" stroke-linejoin="round"/>
<polygon points="1060.6,738.4 1062.3,742.3 1084.8,734.1 1083.2,730.2" fill="#fff" stroke="#000" stroke-width="1.8" stroke-linejoin="round"/>
<polygon points="1061.4,729.2 1058.8,734.7 1081.3,726.5 1083.9,721" fill="#fff" stroke="#000" stroke-width="1.8" stroke-linejoin="round"/>
<polygon points="1067.8,759.6 1073.4,762.1 1095.9,753.9 1090.4,751.4" fill="#fff" stroke="#000" stroke-width="1.8" stroke-linejoin="round"/>
<polygon points="1062.3,742.3 1067.6,742.5 1090.1,734.3 1084.8,734.1" fill="#fff" stroke="#000" stroke-width="1.8" stroke-linejoin="round"/>
<polygon points="1069.5,747.9 1065.7,751.5 1088.2,743.3 1092.1,739.7" fill="#fff" stroke="#000" stroke-width="1.8" stroke-linejoin="round"/>
<polygon points="1073.4,762.1 1074.3,767.6 1096.9,759.4 1095.9,753.9" fill="#fff" stroke="#000" stroke-width="1.8" stroke-linejoin="round"/>
<polygon points="1058.6,724.4 1061.4,729.2 1083.9,721 1081.1,716.2" fill="#fff" stroke="#000" stroke-width="1.8" stroke-linejoin="round"/>
<polygon points="1067.6,742.5 1069.5,747.9 1092.1,739.7 1090.1,734.3" fill="#fff" stroke="#000" stroke-width="1.8" stroke-linejoin="round"/>
<polygon points="1062.3,742.3 1067.6,742.5 1069.5,747.9 1065.7,751.5 1066.8,755.6 1067.8,759.6 1073.4,762.1 1074.3,767.6 1069.5,769.1 1069.9,773 1070.1,777 1075.5,781.5 1075.4,786.7 1070,785.8 1069.6,789.5 1069.1,792.9 1073.7,799.2 1072.6,803.6 1067.1,800.5 1065.9,803.5 1064.6,806.3 1068.3,813.7 1066.2,817 1061,811.9 1059.2,814 1057.2,815.8 1059.6,823.8 1056.7,825.8 1052.2,819.1 1049.9,820.1 1047.5,820.9 1048.3,828.8 1044.8,829.2 1041.5,821.6 1038.8,821.4 1036.1,821 1035.4,828.2 1031.6,827 1029.7,819 1026.9,817.7 1024.1,816.2 1021.9,822.1 1018.2,819.4 1017.7,811.6 1015.1,809.3 1012.5,806.8 1008.9,810.9 1005.5,807 1006.6,800.1 1004.3,796.9 1002,793.6 997.4,795.6 994.6,790.8 997.2,785.3 995.4,781.6 993.7,777.7 988.4,777.5 986.5,772.1 990.3,768.5 989.2,764.4 988.2,760.4 982.6,757.9 981.7,752.4 986.5,750.9 986.1,747 985.9,743 980.5,738.5 980.6,733.3 986,734.2 986.4,730.5 986.9,727.1 982.3,720.8 983.4,716.4 988.9,719.5 990.1,716.5 991.4,713.7 987.7,706.3 989.8,703 995,708.1 996.8,706 998.8,704.2 996.4,696.2 999.3,694.2 1003.8,700.9 1006.1,699.9 1008.5,699.1 1007.7,691.2 1011.2,690.8 1014.5,698.4 1017.2,698.6 1019.9,699 1020.6,691.8 1024.4,693 1026.3,701 1029.1,702.3 1031.9,703.8 1034.1,697.9 1037.8,700.6 1038.3,708.4 1040.9,710.7 1043.5,713.2 1047.1,709.1 1050.5,713 1049.4,719.9 1051.7,723.1 1054,726.4 1058.6,724.4 1061.4,729.2 1058.8,734.7 1060.6,738.4" fill="#fff" stroke="#000" stroke-width="2" stroke-linejoin="round"/>
<ellipse cx="1028.7" cy="761" rx="24" ry="40" transform="rotate(-20 1028.7 761)" fill="#fff" stroke="#000" stroke-width="1.9"/>
<ellipse cx="1028.7" cy="761" rx="22.8" ry="38" transform="rotate(-20 1028.7 761)" fill="none" stroke="#000" stroke-width="1.1"/>
<polygon points="1020.1,770.3 1017.3,771.6 1026.7,768.1 1029.5,766.9" fill="#fff" stroke="#000" stroke-width="1.6" stroke-linejoin="round"/>
<polygon points="1013.4,761 1016.4,760.2 1025.8,756.7 1022.8,757.6" fill="#fff" stroke="#000" stroke-width="1.6" stroke-linejoin="round"/>
<polygon points="1032.3,779.8 1032.5,784.5 1041.9,781.1 1041.7,776.4" fill="#fff" stroke="#000" stroke-width="1.6" stroke-linejoin="round"/>
<polygon points="1016.8,741.3 1019.7,745 1029.1,741.6 1026.2,737.9" fill="#fff" stroke="#000" stroke-width="1.6" stroke-linejoin="round"/>
<polygon points="1022,743.6 1024.7,743.2 1034.1,739.8 1031.4,740.2" fill="#fff" stroke="#000" stroke-width="1.6" stroke-linejoin="round"/>
<polygon points="1037.3,778 1035,779.4 1044.4,775.9 1046.7,774.5" fill="#fff" stroke="#000" stroke-width="1.6" stroke-linejoin="round"/>
<polygon points="1024.5,738.5 1031.9,741.8 1041.3,738.3 1033.9,735.1" fill="#fff" stroke="#000" stroke-width="1.6" stroke-linejoin="round"/>
<polygon points="1043.8,774.5 1040.2,781.7 1049.6,778.3 1053.2,771" fill="#fff" stroke="#000" stroke-width="1.6" stroke-linejoin="round"/>
<polygon points="1031.8,746.4 1034.5,749.2 1043.9,745.8 1041.2,743" fill="#fff" stroke="#000" stroke-width="1.6" stroke-linejoin="round"/>
<polygon points="1041,767.1 1040.7,771 1050.1,767.5 1050.4,763.6" fill="#fff" stroke="#000" stroke-width="1.6" stroke-linejoin="round"/>
<polygon points="1031.9,741.8 1031.8,746.4 1041.2,743 1041.3,738.3" fill="#fff" stroke="#000" stroke-width="1.6" stroke-linejoin="round"/>
<polygon points="1040.7,771 1043.8,774.5 1053.2,771 1050.1,767.5" fill="#fff" stroke="#000" stroke-width="1.6" stroke-linejoin="round"/>
<polygon points="1034.5,749.2 1036.9,752.7 1046.3,749.3 1043.9,745.8" fill="#fff" stroke="#000" stroke-width="1.6" stroke-linejoin="round"/>
<polygon points="1040.6,762.8 1041,767.1 1050.4,763.6 1050,759.4" fill="#fff" stroke="#000" stroke-width="1.6" stroke-linejoin="round"/>
<polygon points="1039.7,751.4 1043.6,762 1053,758.6 1049.1,748" fill="#fff" stroke="#000" stroke-width="1.6" stroke-linejoin="round"/>
<polygon points="1036.9,752.7 1039.7,751.4 1043.6,762 1040.6,762.8 1041,767.1 1040.7,771 1043.8,774.5 1040.2,781.7 1037.3,778 1035,779.4 1032.3,779.8 1032.5,784.5 1025.1,781.2 1025.2,776.6 1022.5,773.8 1020.1,770.3 1017.3,771.6 1013.4,761 1016.4,760.2 1016,755.9 1016.3,752 1013.2,748.5 1016.8,741.3 1019.7,745 1022,743.6 1024.7,743.2 1024.5,738.5 1031.9,741.8 1031.8,746.4 1034.5,749.2" fill="#fff" stroke="#000" stroke-width="1.8" stroke-linejoin="round"/>
<polygon points="1002.2,703.7 1009.8,700.9 1010.4,700.7 1011.1,700.7 1011.9,700.7 1012.6,700.9 1013.4,701.2 1014.1,701.6 1014.9,702.1 1015.6,702.7 1016.3,703.4 1017,704.1 1017.7,705 1018.3,705.9 1018.8,706.9 1019.3,707.9 1019.7,709 1020.1,710.1 1020.4,711.2 1020.6,712.3 1020.7,713.4 1020.8,714.5 1020.7,715.5 1020.6,716.5 1020.5,717.4 1020.2,718.3 1019.9,719.1 1019.5,719.8 1019,720.4 1018.5,720.9 1017.9,721.3 1017.3,721.6 1009.8,724.3 1010.4,724 1011,723.6 1011.5,723.1 1012,722.5 1012.4,721.8 1012.7,721 1012.9,720.2 1013.1,719.2 1013.2,718.2 1013.3,717.2 1013.2,716.1 1013.1,715 1012.8,713.9 1012.6,712.8 1012.2,711.7 1011.8,710.7 1011.3,709.6 1010.7,708.7 1010.1,707.7 1009.5,706.9 1008.8,706.1 1008.1,705.4 1007.4,704.8 1006.6,704.3 1005.8,703.9 1005.1,703.6 1004.3,703.5 1003.6,703.4 1002.9,703.5 1002.2,703.7" fill="#fff" stroke="#000" stroke-width="1.8" />
<ellipse cx="1006" cy="714" rx="6.6" ry="11" transform="rotate(-20 1006 714)" fill="#fff" stroke="#000" stroke-width="1.8"/>
<polygon points="1047.2,775.7 1054.8,772.9 1055.4,772.7 1056.1,772.7 1056.9,772.7 1057.6,772.9 1058.4,773.2 1059.1,773.6 1059.9,774.1 1060.6,774.7 1061.3,775.4 1062,776.1 1062.7,777 1063.3,777.9 1063.8,778.9 1064.3,779.9 1064.7,781 1065.1,782.1 1065.4,783.2 1065.6,784.3 1065.7,785.4 1065.8,786.5 1065.7,787.5 1065.6,788.5 1065.5,789.4 1065.2,790.3 1064.9,791.1 1064.5,791.8 1064,792.4 1063.5,792.9 1062.9,793.3 1062.3,793.6 1054.8,796.3 1055.4,796 1056,795.6 1056.5,795.1 1057,794.5 1057.4,793.8 1057.7,793 1057.9,792.2 1058.1,791.2 1058.2,790.2 1058.3,789.2 1058.2,788.1 1058.1,787 1057.8,785.9 1057.6,784.8 1057.2,783.7 1056.8,782.7 1056.3,781.6 1055.7,780.7 1055.1,779.7 1054.5,778.9 1053.8,778.1 1053.1,777.4 1052.4,776.8 1051.6,776.3 1050.8,775.9 1050.1,775.6 1049.3,775.5 1048.6,775.4 1047.9,775.5 1047.2,775.7" fill="#fff" stroke="#000" stroke-width="1.8" />
<ellipse cx="1051" cy="786" rx="6.6" ry="11" transform="rotate(-20 1051 786)" fill="#fff" stroke="#000" stroke-width="1.8"/>
<text transform="translate(1019.4,627) scale(0.9,1)" text-anchor="middle" font-size="26.5" stroke="#000" stroke-width="0.45">24</text>
<line x1="1019.4" y1="631" x2="1019.4" y2="680.7" stroke="#000" stroke-width="1.8"/>
<polygon points="980,806.2 977.8,804.8 975.7,803.1 973.7,801.1 971.7,799 969.8,796.6 968,794 966.4,791.3 964.9,788.5 963.6,785.5 962.5,782.4 961.5,779.3 960.7,776.2 960.2,773 959.8,769.9 959.7,766.9 959.8,763.9 960,761.1 960.5,758.4 961.2,755.8 962.1,753.5 963.2,751.3 964.5,749.4 965.9,747.7 967.5,746.3 969.2,745.2 971,744.4 973,743.8 975,743.6 977.1,743.7 979.3,744 981.5,744.7 983.7,745.6 985.9,746.8 988.1,748.3 990.2,750.1 992.2,752.1 994.2,754.3 996,756.8 997.8,759.4 999.3,762.1 1000.8,765 1002,768 1003.1,771.1 1004,774.2 1004.7,777.4 1005.3,780.5 1005.5,783.6 1005.6,786.6 1005.5,789.5 1005.2,792.4 1004.6,795 1003.9,797.5 1002.9,799.8 1001.8,801.9 1000.5,803.7 999,805.3 997.4,806.7 995.6,807.7 993.8,808.5 991.8,808.9 990.3,803.7 992,803.3 993.5,802.6 995,801.7 996.4,800.6 997.6,799.3 998.7,797.8 999.6,796 1000.4,794.1 1001.1,792 1001.5,789.8 1001.8,787.4 1001.9,784.9 1001.8,782.4 1001.6,779.8 1001.2,777.2 1000.6,774.6 999.8,771.9 998.9,769.4 997.8,766.8 996.6,764.4 995.3,762.1 993.9,759.9 992.3,757.9 990.7,756 989,754.3 987.2,752.9 985.4,751.6 983.5,750.6 981.7,749.8 979.8,749.2 978,748.9 976.3,748.9 974.5,749.1 972.9,749.6 971.4,750.3 969.9,751.2 968.6,752.4 967.4,753.8 966.3,755.4 965.4,757.2 964.7,759.1 964.1,761.3 963.7,763.5 963.5,765.9 963.4,768.4 963.5,771 963.8,773.6 964.3,776.2 964.9,778.8 965.7,781.4 966.7,784 967.8,786.5 969,788.9 970.4,791.2 971.9,793.3 973.4,795.3 975.1,797.1 976.8,798.7 978.6,800.2 980.5,801.4" fill="#fff" stroke="#000" stroke-width="2.2" />
<polygon points="976.3,807.6 974.1,806.1 972,804.4 969.9,802.5 967.9,800.3 966,798 964.3,795.4 962.6,792.7 961.2,789.8 959.8,786.8 958.7,783.8 957.7,780.7 957,777.5 956.4,774.4 956.1,771.3 955.9,768.2 956,765.3 956.3,762.4 956.8,759.7 957.5,757.2 958.4,754.8 959.4,752.7 960.7,750.8 962.1,749.1 963.7,747.7 965.4,746.6 967.3,745.8 969.2,745.2 971.3,745 973.4,745 975.5,745.4 977.7,746 979.9,747 982.1,748.2 984.3,749.7 986.4,751.5 988.5,753.5 990.4,755.7 992.3,758.1 994,760.7 995.6,763.5 997,766.4 998.3,769.4 999.4,772.5 1000.3,775.6 1001,778.7 1001.5,781.9 1001.8,784.9 1001.9,788 1001.7,790.9 1001.4,793.7 1000.9,796.4 1000.1,798.9 999.2,801.2 998,803.3 996.7,805.1 995.3,806.7 993.6,808 991.9,809.1 990,809.8 988,810.3 986.6,805 988.2,804.6 989.8,804 991.3,803.1 992.6,802 993.8,800.7 994.9,799.1 995.9,797.4 996.7,795.5 997.3,793.4 997.8,791.1 998,788.8 998.2,786.3 998.1,783.8 997.8,781.2 997.4,778.6 996.8,775.9 996.1,773.3 995.2,770.7 994.1,768.2 992.9,765.8 991.6,763.5 990.1,761.3 988.6,759.3 986.9,757.4 985.2,755.7 983.4,754.2 981.6,753 979.8,751.9 977.9,751.2 976.1,750.6 974.3,750.3 972.5,750.3 970.8,750.5 969.2,750.9 967.6,751.6 966.2,752.6 964.8,753.7 963.6,755.1 962.6,756.7 961.7,758.5 960.9,760.5 960.4,762.6 959.9,764.9 959.7,767.3 959.6,769.8 959.8,772.3 960.1,774.9 960.5,777.6 961.2,780.2 962,782.8 962.9,785.4 964,787.9 965.3,790.3 966.6,792.5 968.1,794.7 969.7,796.7 971.4,798.5 973.1,800.1 974.9,801.5 976.7,802.7" fill="#fff" stroke="#000" stroke-width="2.2" />
<text transform="translate(965.5,672) scale(0.9,1)" text-anchor="middle" font-size="26.5" stroke="#000" stroke-width="0.45">33</text>
<line x1="965" y1="674.5" x2="965" y2="746" stroke="#000" stroke-width="1.8"/>
<polygon points="932.5,757.9 936.3,756.6 938.5,756 940.7,755.7 943.1,755.8 945.5,756.3 947.9,757.1 950.3,758.3 952.7,759.7 955.1,761.5 957.3,763.6 959.5,765.9 961.5,768.5 963.4,771.3 965.1,774.3 966.6,777.4 967.9,780.7 969,784 969.8,787.4 970.5,790.8 970.8,794.1 970.9,797.4 970.8,800.6 970.4,803.6 969.8,806.5 968.9,809.2 967.8,811.6 966.4,813.8 964.9,815.7 963.2,817.3 961.3,818.6 959.2,819.5 955.5,820.9 957.5,819.9 959.4,818.7 961.1,817.1 962.7,815.2 964,813 965.1,810.6 966,807.9 966.6,805 967,802 967.2,798.8 967.1,795.5 966.7,792.2 966.1,788.8 965.2,785.4 964.1,782.1 962.8,778.8 961.3,775.7 959.6,772.7 957.7,769.9 955.7,767.3 953.6,765 951.3,762.9 949,761.1 946.6,759.6 944.2,758.5 941.7,757.7 939.3,757.2 937,757.1 934.7,757.3 932.5,757.9" fill="#fff" stroke="#000" stroke-width="2.1" />
<ellipse cx="944" cy="789.4" rx="21.4" ry="33.5" transform="rotate(-20 944 789.4)" fill="#fff" stroke="#000" stroke-width="2.1"/>
<polygon points="927.2,780.3 929.7,779.9 929.7,779.9 927.2,780.3" fill="#fff" stroke="#000" stroke-width="2.7" stroke-linejoin="round"/>
<polygon points="946.6,809.9 945.6,812.9 945.6,812.9 946.6,809.9" fill="#fff" stroke="#000" stroke-width="2.7" stroke-linejoin="round"/>
<polygon points="935.4,765.9 936.8,765.5 936.8,765.5 935.4,765.9" fill="#fff" stroke="#000" stroke-width="2.7" stroke-linejoin="round"/>
<polygon points="953.8,812.3 952.6,812.9 952.6,812.9 953.8,812.3" fill="#fff" stroke="#000" stroke-width="2.7" stroke-linejoin="round"/>
<polygon points="936.8,765.5 938.9,768.7 938.9,768.7 936.8,765.5" fill="#fff" stroke="#000" stroke-width="2.7" stroke-linejoin="round"/>
<polygon points="954.9,811.6 953.8,812.3 953.8,812.3 954.9,811.6" fill="#fff" stroke="#000" stroke-width="2.7" stroke-linejoin="round"/>
<polygon points="938.9,768.7 940.1,768.7 940.1,768.7 938.9,768.7" fill="#fff" stroke="#000" stroke-width="2.7" stroke-linejoin="round"/>
<polygon points="956,810.7 954.9,811.6 954.9,811.6 956,810.7" fill="#fff" stroke="#000" stroke-width="2.7" stroke-linejoin="round"/>
<polygon points="940.1,768.7 941.4,768.9 941.4,768.9 940.1,768.7" fill="#fff" stroke="#000" stroke-width="2.7" stroke-linejoin="round"/>
<polygon points="957,809.7 956,810.7 956,810.7 957,809.7" fill="#fff" stroke="#000" stroke-width="2.7" stroke-linejoin="round"/>
<polygon points="957.9,808.5 957,809.7 957,809.7 957.9,808.5" fill="#fff" stroke="#000" stroke-width="2.7" stroke-linejoin="round"/>
<polygon points="958.7,807.1 957.9,808.5 957.9,808.5 958.7,807.1" fill="#fff" stroke="#000" stroke-width="2.7" stroke-linejoin="round"/>
<polygon points="942.4,765.9 943.9,766.4 943.9,766.4 942.4,765.9" fill="#fff" stroke="#000" stroke-width="2.7" stroke-linejoin="round"/>
<polygon points="943.9,766.4 945.4,767.1 945.4,767.1 943.9,766.4" fill="#fff" stroke="#000" stroke-width="2.7" stroke-linejoin="round"/>
<polygon points="959.4,805.6 958.7,807.1 958.7,807.1 959.4,805.6" fill="#fff" stroke="#000" stroke-width="2.7" stroke-linejoin="round"/>
<polygon points="957.7,801.9 959.4,805.6 959.4,805.6 957.7,801.9" fill="#fff" stroke="#000" stroke-width="2.7" stroke-linejoin="round"/>
<polygon points="958.1,800.5 957.7,801.9 957.7,801.9 958.1,800.5" fill="#fff" stroke="#000" stroke-width="2.7" stroke-linejoin="round"/>
<polygon points="945.4,767.1 946.8,768 946.8,768 945.4,767.1" fill="#fff" stroke="#000" stroke-width="2.7" stroke-linejoin="round"/>
<polygon points="958.3,798.9 958.1,800.5 958.1,800.5 958.3,798.9" fill="#fff" stroke="#000" stroke-width="2.7" stroke-linejoin="round"/>
<polygon points="946.8,768 948.3,769 948.3,769 946.8,768" fill="#fff" stroke="#000" stroke-width="2.7" stroke-linejoin="round"/>
<polygon points="948.3,769 949.7,770.2 949.7,770.2 948.3,769" fill="#fff" stroke="#000" stroke-width="2.7" stroke-linejoin="round"/>
<polygon points="949.7,770.2 951,771.6 951,771.6 949.7,770.2" fill="#fff" stroke="#000" stroke-width="2.7" stroke-linejoin="round"/>
<polygon points="953.3,778.2 954.2,779.8 954.2,779.8 953.3,778.2" fill="#fff" stroke="#000" stroke-width="2.7" stroke-linejoin="round"/>
<polygon points="954.2,779.8 955.1,781.4 955.1,781.4 954.2,779.8" fill="#fff" stroke="#000" stroke-width="2.7" stroke-linejoin="round"/>
<polygon points="951,771.6 952.3,773.1 952.3,773.1 951,771.6" fill="#fff" stroke="#000" stroke-width="2.7" stroke-linejoin="round"/>
<polygon points="960.9,796.6 960.8,798.5 960.8,798.5 960.9,796.6" fill="#fff" stroke="#000" stroke-width="2.7" stroke-linejoin="round"/>
<polygon points="953.6,774.7 953.3,778.2 953.3,778.2 953.6,774.7" fill="#fff" stroke="#000" stroke-width="2.7" stroke-linejoin="round"/>
<polygon points="952.3,773.1 953.6,774.7 953.6,774.7 952.3,773.1" fill="#fff" stroke="#000" stroke-width="2.7" stroke-linejoin="round"/>
<polygon points="960.8,794.5 960.9,796.6 960.9,796.6 960.8,794.5" fill="#fff" stroke="#000" stroke-width="2.7" stroke-linejoin="round"/>
<polygon points="955.1,781.4 957.8,782.1 957.8,782.1 955.1,781.4" fill="#fff" stroke="#000" stroke-width="2.7" stroke-linejoin="round"/>
<polygon points="960.6,792.5 960.8,794.5 960.8,794.5 960.6,792.5" fill="#fff" stroke="#000" stroke-width="2.7" stroke-linejoin="round"/>
<polygon points="960.3,790.4 960.6,792.5 960.6,792.5 960.3,790.4" fill="#fff" stroke="#000" stroke-width="2.7" stroke-linejoin="round"/>
<polygon points="959.8,788.3 960.3,790.4 960.3,790.4 959.8,788.3" fill="#fff" stroke="#000" stroke-width="2.7" stroke-linejoin="round"/>
<polygon points="959.3,786.2 959.8,788.3 959.8,788.3 959.3,786.2" fill="#fff" stroke="#000" stroke-width="2.7" stroke-linejoin="round"/>
<polygon points="958.6,784.1 959.3,786.2 959.3,786.2 958.6,784.1" fill="#fff" stroke="#000" stroke-width="2.7" stroke-linejoin="round"/>
<polygon points="957.8,782.1 958.6,784.1 958.6,784.1 957.8,782.1" fill="#fff" stroke="#000" stroke-width="2.7" stroke-linejoin="round"/>
<polygon points="958.6,784.1 959.3,786.2 959.8,788.3 960.3,790.4 960.6,792.5 960.8,794.5 960.9,796.6 960.8,798.5 958.3,798.9 958.1,800.5 957.7,801.9 959.4,805.6 958.7,807.1 957.9,808.5 957,809.7 956,810.7 954.9,811.6 953.8,812.3 952.6,812.9 951.2,813.3 949.1,810.1 947.9,810.1 946.6,809.9 945.6,812.9 944.1,812.4 942.6,811.7 941.2,810.8 939.7,809.8 938.3,808.6 937,807.2 935.7,805.7 934.4,804.1 934.7,800.6 933.8,799 932.9,797.4 930.2,796.7 929.4,794.7 928.7,792.6 928.2,790.5 927.7,788.4 927.4,786.3 927.2,784.3 927.1,782.2 927.2,780.3 929.7,779.9 929.9,778.3 930.3,776.9 928.6,773.2 929.3,771.7 930.1,770.3 931,769.1 932,768.1 933.1,767.2 934.2,766.5 935.4,765.9 936.8,765.5 938.9,768.7 940.1,768.7 941.4,768.9 942.4,765.9 943.9,766.4 945.4,767.1 946.8,768 948.3,769 949.7,770.2 951,771.6 952.3,773.1 953.6,774.7 953.3,778.2 954.2,779.8 955.1,781.4 957.8,782.1" fill="#fff" stroke="#000" stroke-width="3" stroke-linejoin="round"/>
<text transform="translate(929.4,703.1) scale(0.9,1)" text-anchor="middle" font-size="26.5" stroke="#000" stroke-width="0.45">28</text>
<line x1="930" y1="705.6" x2="930" y2="758" stroke="#000" stroke-width="1.8"/>
<polygon points="831.6,866.2 827.9,869.1 846.7,862.2 850.4,859.3" fill="#fff" stroke="#000" stroke-width="1.8" stroke-linejoin="round"/>
<polygon points="803.6,802.3 808.2,802.1 827,795.3 822.4,795.4" fill="#fff" stroke="#000" stroke-width="1.8" stroke-linejoin="round"/>
<polygon points="840.7,876.7 837.8,881 856.6,874.1 859.5,869.9" fill="#fff" stroke="#000" stroke-width="1.8" stroke-linejoin="round"/>
<polygon points="803.5,786.8 808.4,788.2 827.2,781.3 822.3,779.9" fill="#fff" stroke="#000" stroke-width="1.8" stroke-linejoin="round"/>
<polygon points="805.7,772.8 810.7,775.7 829.5,768.8 824.5,765.9" fill="#fff" stroke="#000" stroke-width="1.8" stroke-linejoin="round"/>
<polygon points="850.4,884.8 848.5,890.3 867.3,883.4 869.2,878" fill="#fff" stroke="#000" stroke-width="1.8" stroke-linejoin="round"/>
<polygon points="860.5,890.2 859.5,896.5 878.3,889.7 879.3,883.3" fill="#fff" stroke="#000" stroke-width="1.8" stroke-linejoin="round"/>
<polygon points="810.1,760.9 815,765.1 833.8,758.3 828.9,754" fill="#fff" stroke="#000" stroke-width="1.8" stroke-linejoin="round"/>
<polygon points="816.5,751.6 821,757.1 839.8,750.2 835.3,744.8" fill="#fff" stroke="#000" stroke-width="1.8" stroke-linejoin="round"/>
<polygon points="870.3,892.5 870.4,899.5 889.2,892.7 889.1,885.6" fill="#fff" stroke="#000" stroke-width="1.8" stroke-linejoin="round"/>
<polygon points="824.7,745.4 828.6,751.8 847.4,744.9 843.5,738.5" fill="#fff" stroke="#000" stroke-width="1.8" stroke-linejoin="round"/>
<polygon points="879.5,891.6 880.6,899.1 899.4,892.2 898.3,884.8" fill="#fff" stroke="#000" stroke-width="1.8" stroke-linejoin="round"/>
<polygon points="830.5,751 832.5,750.4 851.3,743.5 849.3,744.2" fill="#fff" stroke="#000" stroke-width="1.8" stroke-linejoin="round"/>
<polygon points="883.4,890.2 881.5,891 900.3,884.2 902.2,883.4" fill="#fff" stroke="#000" stroke-width="1.8" stroke-linejoin="round"/>
<polygon points="831.4,742.9 834.2,742.5 853,735.6 850.2,736.1" fill="#fff" stroke="#000" stroke-width="1.8" stroke-linejoin="round"/>
<polygon points="889.8,895.2 887.3,896.6 906.1,889.8 908.6,888.3" fill="#fff" stroke="#000" stroke-width="1.8" stroke-linejoin="round"/>
<polygon points="887.7,887.7 889.8,895.2 908.6,888.3 906.5,880.9" fill="#fff" stroke="#000" stroke-width="1.8" stroke-linejoin="round"/>
<polygon points="834.2,742.5 837.4,749.5 856.2,742.7 853,735.6" fill="#fff" stroke="#000" stroke-width="1.8" stroke-linejoin="round"/>
<polygon points="889.4,886.4 887.7,887.7 906.5,880.9 908.2,879.6" fill="#fff" stroke="#000" stroke-width="1.8" stroke-linejoin="round"/>
<polygon points="837.4,749.5 839.5,749.5 858.3,742.6 856.2,742.7" fill="#fff" stroke="#000" stroke-width="1.8" stroke-linejoin="round"/>
<polygon points="839.5,749.5 841.7,749.5 860.5,742.7 858.3,742.6" fill="#fff" stroke="#000" stroke-width="1.8" stroke-linejoin="round"/>
<polygon points="891,884.9 889.4,886.4 908.2,879.6 909.8,878.1" fill="#fff" stroke="#000" stroke-width="1.8" stroke-linejoin="round"/>
<polygon points="841.6,742.5 844.6,743 863.4,736.1 860.4,735.6" fill="#fff" stroke="#000" stroke-width="1.8" stroke-linejoin="round"/>
<polygon points="897.5,888.1 895.5,890.4 914.3,883.5 916.3,881.2" fill="#fff" stroke="#000" stroke-width="1.8" stroke-linejoin="round"/>
<polygon points="844.6,743 847,750.4 865.8,743.6 863.4,736.1" fill="#fff" stroke="#000" stroke-width="1.8" stroke-linejoin="round"/>
<polygon points="894.5,880.9 897.5,888.1 916.3,881.2 913.3,874.1" fill="#fff" stroke="#000" stroke-width="1.8" stroke-linejoin="round"/>
<polygon points="847,750.4 849.2,751 868,744.2 865.8,743.6" fill="#fff" stroke="#000" stroke-width="1.8" stroke-linejoin="round"/>
<polygon points="895.8,878.9 894.5,880.9 913.3,874.1 914.6,872.1" fill="#fff" stroke="#000" stroke-width="1.8" stroke-linejoin="round"/>
<polygon points="849.2,751 851.5,751.8 870.3,745 868,744.2" fill="#fff" stroke="#000" stroke-width="1.8" stroke-linejoin="round"/>
<polygon points="897,876.9 895.8,878.9 914.6,872.1 915.8,870" fill="#fff" stroke="#000" stroke-width="1.8" stroke-linejoin="round"/>
<polygon points="903.3,878 901.9,881.1 920.7,874.3 922.1,871.2" fill="#fff" stroke="#000" stroke-width="1.8" stroke-linejoin="round"/>
<polygon points="852.5,745.5 855.6,746.9 874.4,740 871.3,738.6" fill="#fff" stroke="#000" stroke-width="1.8" stroke-linejoin="round"/>
<polygon points="899.6,871.5 903.3,878 922.1,871.2 918.4,864.6" fill="#fff" stroke="#000" stroke-width="1.8" stroke-linejoin="round"/>
<polygon points="855.6,746.9 856.9,754.3 875.7,747.5 874.4,740" fill="#fff" stroke="#000" stroke-width="1.8" stroke-linejoin="round"/>
<polygon points="856.9,754.3 859.3,755.7 878,748.8 875.7,747.5" fill="#fff" stroke="#000" stroke-width="1.8" stroke-linejoin="round"/>
<polygon points="900.5,869 899.6,871.5 918.4,864.6 919.3,862.1" fill="#fff" stroke="#000" stroke-width="1.8" stroke-linejoin="round"/>
<polygon points="859.3,755.7 861.6,757.2 880.3,750.3 878,748.8" fill="#fff" stroke="#000" stroke-width="1.8" stroke-linejoin="round"/>
<polygon points="901.3,866.3 900.5,869 919.3,862.1 920.1,859.5" fill="#fff" stroke="#000" stroke-width="1.8" stroke-linejoin="round"/>
<polygon points="903.2,856.9 902.8,859.8 921.6,853 922,850" fill="#fff" stroke="#000" stroke-width="1.8" stroke-linejoin="round"/>
<polygon points="866.9,761.2 869.1,763.2 887.9,756.3 885.7,754.4" fill="#fff" stroke="#000" stroke-width="1.8" stroke-linejoin="round"/>
<polygon points="902.8,859.8 907.1,865.5 925.9,858.7 921.6,853" fill="#fff" stroke="#000" stroke-width="1.8" stroke-linejoin="round"/>
<polygon points="866.6,754 866.9,761.2 885.7,754.4 885.4,747.2" fill="#fff" stroke="#000" stroke-width="1.8" stroke-linejoin="round"/>
<polygon points="907.1,865.5 906.3,869.2 925.1,862.4 925.9,858.7" fill="#fff" stroke="#000" stroke-width="1.8" stroke-linejoin="round"/>
<polygon points="863.5,751.7 866.6,754 885.4,747.2 882.3,744.9" fill="#fff" stroke="#000" stroke-width="1.8" stroke-linejoin="round"/>
<polygon points="869.1,763.2 871.3,765.3 890.1,758.4 887.9,756.3" fill="#fff" stroke="#000" stroke-width="1.8" stroke-linejoin="round"/>
<polygon points="903.6,853.8 903.2,856.9 922,850 922.4,847" fill="#fff" stroke="#000" stroke-width="1.8" stroke-linejoin="round"/>
<polygon points="876.4,770.7 878.4,773.2 897.2,766.4 895.2,763.8" fill="#fff" stroke="#000" stroke-width="1.8" stroke-linejoin="round"/>
<polygon points="903.9,843.2 903.9,846.5 922.7,839.6 922.7,836.4" fill="#fff" stroke="#000" stroke-width="1.8" stroke-linejoin="round"/>
<polygon points="903.9,846.5 908.7,851 927.5,844.2 922.7,839.6" fill="#fff" stroke="#000" stroke-width="1.8" stroke-linejoin="round"/>
<polygon points="877.1,764.1 876.4,770.7 895.2,763.8 895.9,757.3" fill="#fff" stroke="#000" stroke-width="1.8" stroke-linejoin="round"/>
<polygon points="878.4,773.2 880.4,775.8 899.2,769 897.2,766.4" fill="#fff" stroke="#000" stroke-width="1.8" stroke-linejoin="round"/>
<polygon points="903.8,839.9 903.9,843.2 922.7,836.4 922.6,833.1" fill="#fff" stroke="#000" stroke-width="1.8" stroke-linejoin="round"/>
<polygon points="874.2,761 877.1,764.1 895.9,757.3 893,754.2" fill="#fff" stroke="#000" stroke-width="1.8" stroke-linejoin="round"/>
<polygon points="908.7,851 908.5,855.2 927.3,848.4 927.5,844.2" fill="#fff" stroke="#000" stroke-width="1.8" stroke-linejoin="round"/>
<polygon points="902.5,828.6 903,832 921.8,825.2 921.3,821.7" fill="#fff" stroke="#000" stroke-width="1.8" stroke-linejoin="round"/>
<polygon points="884.9,782.4 886.7,785.3 905.5,778.5 903.7,775.5" fill="#fff" stroke="#000" stroke-width="1.8" stroke-linejoin="round"/>
<polygon points="886.7,785.3 888.5,788.3 907.3,781.5 905.5,778.5" fill="#fff" stroke="#000" stroke-width="1.8" stroke-linejoin="round"/>
<polygon points="901.9,825.1 902.5,828.6 921.3,821.7 920.7,818.3" fill="#fff" stroke="#000" stroke-width="1.8" stroke-linejoin="round"/>
<polygon points="903,832 908,835.2 926.8,828.4 921.8,825.2" fill="#fff" stroke="#000" stroke-width="1.8" stroke-linejoin="round"/>
<polygon points="886.7,776.7 884.9,782.4 903.7,775.5 905.5,769.8" fill="#fff" stroke="#000" stroke-width="1.8" stroke-linejoin="round"/>
<polygon points="899,813.6 900,817.1 918.8,810.2 917.8,806.8" fill="#fff" stroke="#000" stroke-width="1.8" stroke-linejoin="round"/>
<polygon points="892.2,795.7 893.7,799 912.5,792.1 911,788.9" fill="#fff" stroke="#000" stroke-width="1.8" stroke-linejoin="round"/>
<polygon points="898,810.2 899,813.6 917.8,806.8 916.8,803.4" fill="#fff" stroke="#000" stroke-width="1.8" stroke-linejoin="round"/>
<polygon points="893.7,799 895.1,802.3 913.9,795.4 912.5,792.1" fill="#fff" stroke="#000" stroke-width="1.8" stroke-linejoin="round"/>
<polygon points="908,835.2 908.4,839.7 927.2,832.9 926.8,828.4" fill="#fff" stroke="#000" stroke-width="1.8" stroke-linejoin="round"/>
<polygon points="884.1,772.9 886.7,776.7 905.5,769.8 902.9,766.1" fill="#fff" stroke="#000" stroke-width="1.8" stroke-linejoin="round"/>
<polygon points="888.5,788.3 892.8,787 911.6,780.1 907.3,781.5" fill="#fff" stroke="#000" stroke-width="1.8" stroke-linejoin="round"/>
<polygon points="906.1,823.4 901.9,825.1 920.7,818.3 924.9,816.6" fill="#fff" stroke="#000" stroke-width="1.8" stroke-linejoin="round"/>
<polygon points="900,817.1 905,818.8 923.8,812 918.8,810.2" fill="#fff" stroke="#000" stroke-width="1.8" stroke-linejoin="round"/>
<polygon points="894.9,791.2 892.2,795.7 911,788.9 913.7,784.4" fill="#fff" stroke="#000" stroke-width="1.8" stroke-linejoin="round"/>
<polygon points="895.1,802.3 899.9,802.5 918.6,795.6 913.9,795.4" fill="#fff" stroke="#000" stroke-width="1.8" stroke-linejoin="round"/>
<polygon points="901.5,807 898,810.2 916.8,803.4 920.3,800.2" fill="#fff" stroke="#000" stroke-width="1.8" stroke-linejoin="round"/>
<polygon points="892.8,787 894.9,791.2 913.7,784.4 911.6,780.1" fill="#fff" stroke="#000" stroke-width="1.8" stroke-linejoin="round"/>
<polygon points="905,818.8 906.1,823.4 924.9,816.6 923.8,812" fill="#fff" stroke="#000" stroke-width="1.8" stroke-linejoin="round"/>
<polygon points="899.9,802.5 901.5,807 920.3,800.2 918.6,795.6" fill="#fff" stroke="#000" stroke-width="1.8" stroke-linejoin="round"/>
<polygon points="895.1,802.3 899.9,802.5 901.5,807 898,810.2 899,813.6 900,817.1 905,818.8 906.1,823.4 901.9,825.1 902.5,828.6 903,832 908,835.2 908.4,839.7 903.8,839.9 903.9,843.2 903.9,846.5 908.7,851 908.5,855.2 903.6,853.8 903.2,856.9 902.8,859.8 907.1,865.5 906.3,869.2 901.3,866.3 900.5,869 899.6,871.5 903.3,878 901.9,881.1 897,876.9 895.8,878.9 894.5,880.9 897.5,888.1 895.5,890.4 891,884.9 889.4,886.4 887.7,887.7 889.8,895.2 887.3,896.6 883.4,890.2 881.5,891 879.5,891.6 880.6,899.1 877.8,899.5 874.6,892.5 872.5,892.5 870.3,892.5 870.4,899.5 867.4,899 865,891.6 862.8,891 860.5,890.2 859.5,896.5 856.4,895.1 855.1,887.7 852.7,886.3 850.4,884.8 848.5,890.3 845.4,888 845.1,880.8 842.9,878.8 840.7,876.7 837.8,881 834.9,877.9 835.6,871.3 833.6,868.8 831.6,866.2 827.9,869.1 825.3,865.3 827.1,859.6 825.3,856.7 823.5,853.7 819.2,855 817.1,850.8 819.8,846.3 818.3,843 816.9,839.7 812.1,839.5 810.5,835 814,831.8 813,828.4 812,824.9 807,823.2 805.9,818.6 810.1,816.9 809.5,813.4 809,810 804,806.8 803.6,802.3 808.2,802.1 808.1,798.8 808.1,795.5 803.3,791 803.5,786.8 808.4,788.2 808.8,785.1 809.2,782.2 804.9,776.5 805.7,772.8 810.7,775.7 811.5,773 812.4,770.5 808.7,764 810.1,760.9 815,765.1 816.2,763.1 817.5,761.1 814.5,753.9 816.5,751.6 821,757.1 822.6,755.6 824.3,754.3 822.2,746.8 824.7,745.4 828.6,751.8 830.5,751 832.5,750.4 831.4,742.9 834.2,742.5 837.4,749.5 839.5,749.5 841.7,749.5 841.6,742.5 844.6,743 847,750.4 849.2,751 851.5,751.8 852.5,745.5 855.6,746.9 856.9,754.3 859.3,755.7 861.6,757.2 863.5,751.7 866.6,754 866.9,761.2 869.1,763.2 871.3,765.3 874.2,761 877.1,764.1 876.4,770.7 878.4,773.2 880.4,775.8 884.1,772.9 886.7,776.7 884.9,782.4 886.7,785.3 888.5,788.3 892.8,787 894.9,791.2 892.2,795.7 893.7,799" fill="#fff" stroke="#000" stroke-width="2" stroke-linejoin="round"/>
<polygon points="832.9,769.2 835.3,767.9 837.9,767 840.6,766.4 843.4,766.3 846.3,766.5 849.2,767 852.3,768 855.3,769.3 856.4,771 857.2,774.8 857.5,779.5 857.3,783.9 856.6,786.8 855.5,787.4 853.6,786.6 851.6,786 849.7,785.6 847.8,785.5 846,785.6 844.2,785.9 842.6,786.5 841,787.4 839.9,786.5 837.9,783.5 835.6,779.2 833.6,774.6 832.6,771" fill="#fff" stroke="#000" stroke-width="1.9" />
<polygon points="869.1,779.7 871.9,782.9 874.6,786.2 877.1,789.9 879.5,793.7 881.8,797.7 883.8,801.9 885.7,806.2 887.4,810.6 887.2,812.4 885.6,814.3 882.9,815.6 880,816.1 877.7,815.6 876.4,814.3 875.3,811.4 874.1,808.6 872.7,805.9 871.3,803.3 869.7,800.8 868,798.4 866.3,796.2 864.5,794.2 864.1,792.6 864.4,789.3 865.1,785.3 866.3,781.8 867.8,779.7" fill="#fff" stroke="#000" stroke-width="1.9" />
<polygon points="892.2,831.5 892.6,835.9 892.7,840.2 892.5,844.4 892.1,848.4 891.5,852.3 890.6,855.9 889.5,859.3 888.1,862.4 886.8,862.4 884.4,860.5 881.4,857.1 878.7,853.2 877.1,849.8 876.8,847.9 877.7,845.8 878.5,843.6 879,841.3 879.5,838.8 879.7,836.2 879.8,833.5 879.7,830.7 879.5,827.8 880.2,827 882.4,826.8 885.5,827.1 888.7,828.1 891.2,829.7" fill="#fff" stroke="#000" stroke-width="1.9" />
<polygon points="879.1,872.8 876.7,874.1 874.1,875 871.4,875.6 868.6,875.7 865.7,875.5 862.8,875 859.7,874 856.7,872.7 855.6,871 854.8,867.2 854.5,862.5 854.7,858.1 855.4,855.2 856.5,854.6 858.4,855.4 860.4,856 862.3,856.4 864.2,856.5 866,856.4 867.8,856.1 869.4,855.5 871,854.6 872.1,855.5 874.1,858.5 876.4,862.8 878.4,867.4 879.4,871" fill="#fff" stroke="#000" stroke-width="1.9" />
<polygon points="842.9,862.3 840.1,859.1 837.4,855.8 834.9,852.1 832.5,848.3 830.2,844.3 828.2,840.1 826.3,835.8 824.6,831.4 824.8,829.6 826.4,827.7 829.1,826.4 832,825.9 834.3,826.4 835.6,827.7 836.7,830.6 837.9,833.4 839.3,836.1 840.7,838.7 842.3,841.2 844,843.6 845.7,845.8 847.5,847.8 847.9,849.4 847.6,852.7 846.9,856.7 845.7,860.2 844.2,862.3" fill="#fff" stroke="#000" stroke-width="1.9" />
<polygon points="819.8,810.5 819.4,806.1 819.3,801.8 819.5,797.6 819.9,793.6 820.5,789.7 821.4,786.1 822.5,782.7 823.9,779.6 825.2,779.6 827.6,781.5 830.6,784.9 833.3,788.8 834.9,792.2 835.2,794.1 834.3,796.2 833.5,798.4 833,800.7 832.5,803.2 832.3,805.8 832.2,808.5 832.3,811.3 832.5,814.2 831.8,815 829.6,815.2 826.5,814.9 823.3,813.9 820.8,812.3" fill="#fff" stroke="#000" stroke-width="1.9" />
<ellipse cx="854.8" cy="823" rx="17.4" ry="30" transform="rotate(-20 854.8 823)" fill="#fff" stroke="#000" stroke-width="1.6"/>
<ellipse cx="854.8" cy="823" rx="15.1" ry="26" transform="rotate(-20 854.8 823)" fill="#fff" stroke="#000" stroke-width="2.2"/>
<circle cx="845" cy="807" r="1.3" fill="#000"/>
<circle cx="851" cy="810" r="1.3" fill="#000"/>
<circle cx="853" cy="825" r="1.3" fill="#000"/>
<circle cx="848" cy="838" r="1.3" fill="#000"/>
<circle cx="856" cy="839" r="1.3" fill="#000"/>
<text transform="translate(836,659.6) scale(0.9,1)" text-anchor="middle" font-size="26.5" stroke="#000" stroke-width="0.45">20</text>
<line x1="838.7" y1="662" x2="838.7" y2="735" stroke="#000" stroke-width="1.8"/>
<polygon points="813.8,813.5 820.3,811.1 821.8,810.7 823.4,810.5 825,810.5 826.7,810.8 828.4,811.4 830,812.1 831.7,813.1 833.3,814.3 834.8,815.7 836.3,817.2 837.7,819 838.9,820.8 840.1,822.8 841.1,825 842,827.1 842.7,829.4 843.3,831.6 843.7,833.9 843.9,836.2 844,838.4 843.9,840.5 843.6,842.6 843.1,844.5 842.5,846.3 841.7,848 840.7,849.5 839.7,850.8 838.5,851.8 837.2,852.7 835.7,853.4 829.2,855.7 830.6,855.1 831.9,854.2 833.1,853.1 834.2,851.9 835.1,850.4 835.9,848.7 836.5,846.9 837,845 837.3,842.9 837.4,840.8 837.3,838.6 837.1,836.3 836.7,834 836.1,831.8 835.4,829.5 834.5,827.3 833.5,825.2 832.4,823.2 831.1,821.4 829.7,819.6 828.2,818.1 826.7,816.7 825.1,815.5 823.4,814.5 821.8,813.8 820.1,813.2 818.5,812.9 816.8,812.9 815.3,813 813.8,813.5" fill="#fff" stroke="#000" stroke-width="2.1" />
<ellipse cx="821.5" cy="834.6" rx="14.9" ry="22.5" transform="rotate(-20 821.5 834.6)" fill="#fff" stroke="#000" stroke-width="2.1"/>
<polygon points="759.2,836 815.6,815.5 816.9,815.1 818.3,814.9 819.7,815 821.2,815.3 822.7,815.7 824.2,816.4 825.6,817.3 827,818.3 828.4,819.6 829.7,821 831,822.5 832.1,824.2 833.1,825.9 834,827.8 834.8,829.7 835.5,831.7 836,833.8 836.3,835.8 836.5,837.8 836.6,839.8 836.5,841.7 836.2,843.5 835.8,845.2 835.2,846.8 834.5,848.3 833.7,849.6 832.7,850.7 831.7,851.7 830.5,852.5 829.2,853.1 772.9,873.6 774.1,873 775.3,872.2 776.4,871.3 777.3,870.1 778.1,868.8 778.8,867.3 779.4,865.7 779.8,864 780.1,862.2 780.2,860.3 780.1,858.3 779.9,856.3 779.6,854.3 779.1,852.3 778.4,850.3 777.6,848.3 776.7,846.5 775.7,844.7 774.6,843 773.3,841.5 772,840.1 770.7,838.9 769.2,837.8 767.8,836.9 766.3,836.3 764.8,835.8 763.3,835.5 761.9,835.5 760.5,835.6 759.2,836" fill="#fff" stroke="#000" stroke-width="2" />
<ellipse cx="766" cy="854.8" rx="13.2" ry="20" transform="rotate(-20 766 854.8)" fill="#fff" stroke="#000" stroke-width="2"/>
<polygon points="696.6,891.3 695,892.7 756.1,870.5 757.7,869.1" fill="#fff" stroke="#000" stroke-width="1.4" stroke-linejoin="round"/>
<polygon points="687.2,871.4 689.4,871.4 750.4,849.2 748.3,849.1" fill="#fff" stroke="#000" stroke-width="1.4" stroke-linejoin="round"/>
<polygon points="705.9,897.8 705.5,900.5 766.6,878.3 767,875.6" fill="#fff" stroke="#000" stroke-width="1.4" stroke-linejoin="round"/>
<polygon points="690.3,858.6 692.3,860.4 753.4,838.2 751.4,836.4" fill="#fff" stroke="#000" stroke-width="1.4" stroke-linejoin="round"/>
<polygon points="714.9,896.4 715.8,899.3 776.9,877.1 776,874.2" fill="#fff" stroke="#000" stroke-width="1.4" stroke-linejoin="round"/>
<polygon points="698.9,852.9 700.1,855.8 761.2,833.5 760,830.7" fill="#fff" stroke="#000" stroke-width="1.4" stroke-linejoin="round"/>
<polygon points="716.3,895.1 714.9,896.4 776,874.2 777.4,872.9" fill="#fff" stroke="#000" stroke-width="1.4" stroke-linejoin="round"/>
<polygon points="700.1,855.8 702,855.8 763.1,833.6 761.2,833.5" fill="#fff" stroke="#000" stroke-width="1.4" stroke-linejoin="round"/>
<polygon points="702,855.8 703.9,856.2 765,834 763.1,833.6" fill="#fff" stroke="#000" stroke-width="1.4" stroke-linejoin="round"/>
<polygon points="717.6,893.6 716.3,895.1 777.4,872.9 778.6,871.4" fill="#fff" stroke="#000" stroke-width="1.4" stroke-linejoin="round"/>
<polygon points="704.4,853.5 709.9,856.4 770.9,834.2 765.4,831.3" fill="#fff" stroke="#000" stroke-width="1.4" stroke-linejoin="round"/>
<polygon points="722,889.6 719.6,895.4 780.7,873.2 783,867.4" fill="#fff" stroke="#000" stroke-width="1.4" stroke-linejoin="round"/>
<polygon points="720,887.5 722,889.6 783,867.4 781.1,865.3" fill="#fff" stroke="#000" stroke-width="1.4" stroke-linejoin="round"/>
<polygon points="709.9,856.4 709.7,859.2 770.8,837 770.9,834.2" fill="#fff" stroke="#000" stroke-width="1.4" stroke-linejoin="round"/>
<polygon points="720.4,885.1 720,887.5 781.1,865.3 781.5,862.9" fill="#fff" stroke="#000" stroke-width="1.4" stroke-linejoin="round"/>
<polygon points="709.7,859.2 711.6,860.8 772.6,838.6 770.8,837" fill="#fff" stroke="#000" stroke-width="1.4" stroke-linejoin="round"/>
<polygon points="720.5,882.6 720.4,885.1 781.5,862.9 781.6,860.4" fill="#fff" stroke="#000" stroke-width="1.4" stroke-linejoin="round"/>
<polygon points="711.6,860.8 713.3,862.7 774.4,840.5 772.6,838.6" fill="#fff" stroke="#000" stroke-width="1.4" stroke-linejoin="round"/>
<polygon points="717.5,869.5 718.6,872.1 779.7,849.8 778.6,847.3" fill="#fff" stroke="#000" stroke-width="1.4" stroke-linejoin="round"/>
<polygon points="718.6,872.1 719.4,874.7 780.5,852.4 779.7,849.8" fill="#fff" stroke="#000" stroke-width="1.4" stroke-linejoin="round"/>
<polygon points="718.9,867.8 717.5,869.5 778.6,847.3 780,845.5" fill="#fff" stroke="#000" stroke-width="1.4" stroke-linejoin="round"/>
<polygon points="719.4,874.7 721.6,875.1 782.7,852.9 780.5,852.4" fill="#fff" stroke="#000" stroke-width="1.4" stroke-linejoin="round"/>
<polygon points="721.6,875.1 722.6,882.7 783.7,860.4 782.7,852.9" fill="#fff" stroke="#000" stroke-width="1.4" stroke-linejoin="round"/>
<polygon points="714.9,861.3 718.9,867.8 780,845.5 776,839.1" fill="#fff" stroke="#000" stroke-width="1.4" stroke-linejoin="round"/>
<polygon points="719.4,874.7 721.6,875.1 722.6,882.7 720.5,882.6 720.4,885.1 720,887.5 722,889.6 719.6,895.4 717.6,893.6 716.3,895.1 714.9,896.4 715.8,899.3 711,901.1 709.8,898.3 707.9,898.2 705.9,897.8 705.5,900.5 700,897.6 700.1,894.8 698.3,893.2 696.6,891.3 695,892.7 691,886.3 692.3,884.5 691.3,882 690.5,879.4 688.3,878.9 687.2,871.4 689.4,871.4 689.5,868.9 689.8,866.5 687.9,864.4 690.3,858.6 692.3,860.4 693.6,858.9 695,857.6 694.1,854.7 698.9,852.9 700.1,855.8 702,855.8 703.9,856.2 704.4,853.5 709.9,856.4 709.7,859.2 711.6,860.8 713.3,862.7 714.9,861.3 718.9,867.8 717.5,869.5 718.6,872.1" fill="#fff" stroke="#000" stroke-width="1.6" stroke-linejoin="round"/>
<polygon points="620.3,889 622.5,890 692.9,864.3 690.8,863.4" fill="#fff" stroke="#000" stroke-width="1.4" stroke-linejoin="round"/>
<polygon points="633.4,920.1 632.4,922.2 702.8,896.6 703.9,894.5" fill="#fff" stroke="#000" stroke-width="1.4" stroke-linejoin="round"/>
<polygon points="643,922.8 643.3,925.7 713.8,900.1 713.5,897.1" fill="#fff" stroke="#000" stroke-width="1.4" stroke-linejoin="round"/>
<polygon points="626.4,879.3 628.1,881.8 698.6,856.1 696.9,853.7" fill="#fff" stroke="#000" stroke-width="1.4" stroke-linejoin="round"/>
<polygon points="629.8,881 631.5,880.5 702,854.9 700.2,855.3" fill="#fff" stroke="#000" stroke-width="1.4" stroke-linejoin="round"/>
<polygon points="646.5,921.5 644.8,922.3 715.3,896.7 716.9,895.9" fill="#fff" stroke="#000" stroke-width="1.4" stroke-linejoin="round"/>
<polygon points="631.3,877.6 636.7,878.1 707.2,852.5 701.7,851.9" fill="#fff" stroke="#000" stroke-width="1.4" stroke-linejoin="round"/>
<polygon points="651.9,920 648.2,924 718.6,898.3 722.4,894.4" fill="#fff" stroke="#000" stroke-width="1.4" stroke-linejoin="round"/>
<polygon points="650.5,917.4 651.9,920 722.4,894.4 720.9,891.7" fill="#fff" stroke="#000" stroke-width="1.4" stroke-linejoin="round"/>
<polygon points="636.7,878.1 637.3,881.1 707.7,855.5 707.2,852.5" fill="#fff" stroke="#000" stroke-width="1.4" stroke-linejoin="round"/>
<polygon points="651.4,915.4 650.5,917.4 720.9,891.7 721.9,889.8" fill="#fff" stroke="#000" stroke-width="1.4" stroke-linejoin="round"/>
<polygon points="637.3,881.1 639.2,882 709.7,856.3 707.7,855.5" fill="#fff" stroke="#000" stroke-width="1.4" stroke-linejoin="round"/>
<polygon points="639.2,882 641.1,883.2 711.6,857.5 709.7,856.3" fill="#fff" stroke="#000" stroke-width="1.4" stroke-linejoin="round"/>
<polygon points="652.1,913.3 651.4,915.4 721.9,889.8 722.6,887.7" fill="#fff" stroke="#000" stroke-width="1.4" stroke-linejoin="round"/>
<polygon points="655,907.3 654.3,914.3 724.8,888.6 725.5,881.6" fill="#fff" stroke="#000" stroke-width="1.4" stroke-linejoin="round"/>
<polygon points="642.2,881 647.2,885.9 717.7,860.3 712.7,855.4" fill="#fff" stroke="#000" stroke-width="1.4" stroke-linejoin="round"/>
<polygon points="652.6,903.3 652.8,906 723.3,880.3 723.1,877.7" fill="#fff" stroke="#000" stroke-width="1.4" stroke-linejoin="round"/>
<polygon points="646.4,888.3 647.9,890.5 718.4,864.9 716.9,862.7" fill="#fff" stroke="#000" stroke-width="1.4" stroke-linejoin="round"/>
<polygon points="652.8,906 655,907.3 725.5,881.6 723.3,880.3" fill="#fff" stroke="#000" stroke-width="1.4" stroke-linejoin="round"/>
<polygon points="647.2,885.9 646.4,888.3 716.9,862.7 717.7,860.3" fill="#fff" stroke="#000" stroke-width="1.4" stroke-linejoin="round"/>
<polygon points="652.1,900.6 652.6,903.3 723.1,877.7 722.6,875" fill="#fff" stroke="#000" stroke-width="1.4" stroke-linejoin="round"/>
<polygon points="647.9,890.5 649.3,892.9 719.8,867.2 718.4,864.9" fill="#fff" stroke="#000" stroke-width="1.4" stroke-linejoin="round"/>
<polygon points="649.3,892.9 651.3,892.4 721.7,866.7 719.8,867.2" fill="#fff" stroke="#000" stroke-width="1.4" stroke-linejoin="round"/>
<polygon points="653.9,899.7 652.1,900.6 722.6,875 724.4,874.1" fill="#fff" stroke="#000" stroke-width="1.4" stroke-linejoin="round"/>
<polygon points="651.3,892.4 653.9,899.7 724.4,874.1 721.7,866.7" fill="#fff" stroke="#000" stroke-width="1.4" stroke-linejoin="round"/>
<polygon points="649.3,892.9 651.3,892.4 653.9,899.7 652.1,900.6 652.6,903.3 652.8,906 655,907.3 654.3,914.3 652.1,913.3 651.4,915.4 650.5,917.4 651.9,920 648.2,924 646.5,921.5 644.8,922.3 643,922.8 643.3,925.7 637.9,925.1 637.3,922.2 635.4,921.3 633.4,920.1 632.4,922.2 627.4,917.3 628.1,914.9 626.6,912.8 625.3,910.4 623.3,910.9 620.6,903.5 622.5,902.6 622,900 621.7,897.3 619.6,896 620.3,889 622.5,890 623.2,887.8 624.1,885.9 622.6,883.3 626.4,879.3 628.1,881.8 629.8,881 631.5,880.5 631.3,877.6 636.7,878.1 637.3,881.1 639.2,882 641.1,883.2 642.2,881 647.2,885.9 646.4,888.3 647.9,890.5" fill="#fff" stroke="#000" stroke-width="1.6" stroke-linejoin="round"/>
<polygon points="615.2,882 628.4,877.2 630.1,876.7 631.9,876.5 633.8,876.6 635.7,876.9 637.6,877.5 639.6,878.4 641.5,879.6 643.3,880.9 645.1,882.5 646.8,884.3 648.4,886.3 649.9,888.5 651.2,890.8 652.4,893.3 653.4,895.8 654.3,898.4 654.9,901 655.4,903.6 655.6,906.2 655.7,908.8 655.6,911.3 655.2,913.6 654.7,915.9 654,918 653,919.9 652,921.6 650.7,923.1 649.3,924.3 647.8,925.3 646.2,926.1 633,930.9 634.7,930.1 636.2,929.1 637.6,927.9 638.8,926.4 639.9,924.7 640.8,922.7 641.5,920.7 642.1,918.4 642.4,916 642.5,913.6 642.5,911 642.2,908.4 641.7,905.8 641.1,903.1 640.3,900.6 639.2,898 638.1,895.6 636.7,893.3 635.2,891.1 633.6,889.1 631.9,887.3 630.2,885.7 628.3,884.3 626.4,883.2 624.5,882.3 622.6,881.7 620.7,881.4 618.8,881.3 617,881.5 615.2,882" fill="#fff" stroke="#000" stroke-width="1.8" />
<ellipse cx="624.1" cy="906.4" rx="17.2" ry="26" transform="rotate(-20 624.1 906.4)" fill="#fff" stroke="#000" stroke-width="1.8"/>
<polygon points="607.2,877.5 613.8,875.1 616,874.5 618.3,874.2 620.7,874.3 623.1,874.7 625.5,875.5 628,876.6 630.4,878.1 632.7,879.8 635,881.8 637.1,884.1 639.2,886.7 641,889.4 642.7,892.4 644.2,895.4 645.5,898.6 646.6,901.9 647.4,905.2 648,908.6 648.4,911.9 648.4,915.1 648.3,918.3 647.8,921.3 647.2,924.1 646.2,926.8 645.1,929.2 643.7,931.4 642.1,933.3 640.4,934.9 638.4,936.1 636.4,937.1 629.8,939.5 631.9,938.5 633.8,937.3 635.5,935.7 637.1,933.8 638.5,931.6 639.7,929.2 640.6,926.5 641.3,923.7 641.7,920.7 641.9,917.5 641.8,914.3 641.4,911 640.9,907.6 640,904.3 639,901 637.7,897.8 636.2,894.7 634.5,891.8 632.6,889.1 630.6,886.5 628.4,884.2 626.1,882.2 623.8,880.5 621.4,879 618.9,877.9 616.5,877.1 614.1,876.7 611.7,876.6 609.4,876.9 607.2,877.5" fill="#fff" stroke="#000" stroke-width="2.1" />
<ellipse cx="618.5" cy="908.5" rx="21.8" ry="33" transform="rotate(-20 618.5 908.5)" fill="#fff" stroke="#000" stroke-width="2.1"/>
<ellipse cx="618.5" cy="908.5" rx="19.5" ry="29.5" transform="rotate(-20 618.5 908.5)" fill="none" stroke="#000" stroke-width="1.3"/>
<polygon points="556.1,906.7 610.6,886.9 612.2,886.4 613.8,886.3 615.4,886.3 617.1,886.6 618.8,887.2 620.5,887.9 622.2,888.9 623.8,890.2 625.4,891.6 626.9,893.2 628.3,894.9 629.6,896.9 630.8,898.9 631.9,901.1 632.8,903.3 633.5,905.6 634.1,907.9 634.5,910.2 634.7,912.5 634.8,914.8 634.7,917 634.4,919.1 633.9,921.1 633.2,922.9 632.4,924.6 631.5,926.1 630.4,927.4 629.2,928.5 627.8,929.4 626.4,930.1 571.9,949.9 573.3,949.3 574.6,948.4 575.9,947.3 577,946 577.9,944.4 578.7,942.8 579.4,940.9 579.9,938.9 580.2,936.8 580.3,934.6 580.2,932.4 580,930.1 579.6,927.7 579,925.4 578.3,923.1 577.4,920.9 576.3,918.7 575.1,916.7 573.8,914.8 572.4,913 570.9,911.4 569.3,910 567.7,908.8 566,907.8 564.3,907 562.6,906.5 560.9,906.2 559.3,906.1 557.7,906.3 556.1,906.7" fill="#fff" stroke="#000" stroke-width="2" />
<ellipse cx="564" cy="928.3" rx="15.2" ry="23" transform="rotate(-20 564 928.3)" fill="#fff" stroke="#000" stroke-width="2"/>
<polygon points="520.9,957.1 518.1,960.7 555.7,947 558.4,943.5" fill="#fff" stroke="#000" stroke-width="1.5" stroke-linejoin="round"/>
<polygon points="508.1,933 512.4,934 550,920.3 545.7,919.3" fill="#fff" stroke="#000" stroke-width="1.5" stroke-linejoin="round"/>
<polygon points="511.4,922.5 515.4,926.2 553,912.6 549,908.8" fill="#fff" stroke="#000" stroke-width="1.5" stroke-linejoin="round"/>
<polygon points="528.1,961.1 527.5,966.6 565.1,952.9 565.7,947.4" fill="#fff" stroke="#000" stroke-width="1.5" stroke-linejoin="round"/>
<polygon points="534.9,960 536.5,965.9 574.1,952.2 572.5,946.3" fill="#fff" stroke="#000" stroke-width="1.5" stroke-linejoin="round"/>
<polygon points="518.8,917.2 521.4,922.8 559,909.1 556.4,903.5" fill="#fff" stroke="#000" stroke-width="1.5" stroke-linejoin="round"/>
<polygon points="521.4,922.8 523,922.7 560.6,909 559,909.1" fill="#fff" stroke="#000" stroke-width="1.5" stroke-linejoin="round"/>
<polygon points="536.2,959 534.9,960 572.5,946.3 573.8,945.3" fill="#fff" stroke="#000" stroke-width="1.5" stroke-linejoin="round"/>
<polygon points="523,922.7 524.7,922.9 562.3,909.2 560.6,909" fill="#fff" stroke="#000" stroke-width="1.5" stroke-linejoin="round"/>
<polygon points="537.4,957.8 536.2,959 573.8,945.3 575,944.1" fill="#fff" stroke="#000" stroke-width="1.5" stroke-linejoin="round"/>
<polygon points="525.3,917.4 528.2,918.5 565.8,904.9 562.9,903.7" fill="#fff" stroke="#000" stroke-width="1.5" stroke-linejoin="round"/>
<polygon points="542.9,958.8 541.4,961.5 579,947.8 580.4,945.1" fill="#fff" stroke="#000" stroke-width="1.5" stroke-linejoin="round"/>
<polygon points="528.7,924.4 530.3,925.5 567.9,911.8 566.3,910.7" fill="#fff" stroke="#000" stroke-width="1.5" stroke-linejoin="round"/>
<polygon points="540,952.1 539.4,954 577,940.3 577.6,938.4" fill="#fff" stroke="#000" stroke-width="1.5" stroke-linejoin="round"/>
<polygon points="528.2,918.5 528.7,924.4 566.3,910.7 565.8,904.9" fill="#fff" stroke="#000" stroke-width="1.5" stroke-linejoin="round"/>
<polygon points="539.4,954 542.9,958.8 580.4,945.1 577,940.3" fill="#fff" stroke="#000" stroke-width="1.5" stroke-linejoin="round"/>
<polygon points="530.3,925.5 531.9,926.9 569.5,913.2 567.9,911.8" fill="#fff" stroke="#000" stroke-width="1.5" stroke-linejoin="round"/>
<polygon points="540.4,950 540,952.1 577.6,938.4 578,936.4" fill="#fff" stroke="#000" stroke-width="1.5" stroke-linejoin="round"/>
<polygon points="540.2,942.5 540.5,944.8 578,931.1 577.7,928.8" fill="#fff" stroke="#000" stroke-width="1.5" stroke-linejoin="round"/>
<polygon points="535.4,930.8 536.6,932.8 574.2,919.1 572.9,917.1" fill="#fff" stroke="#000" stroke-width="1.5" stroke-linejoin="round"/>
<polygon points="539.6,940.2 540.2,942.5 577.7,928.8 577.2,926.5" fill="#fff" stroke="#000" stroke-width="1.5" stroke-linejoin="round"/>
<polygon points="536.6,932.8 537.7,934.9 575.3,921.2 574.2,919.1" fill="#fff" stroke="#000" stroke-width="1.5" stroke-linejoin="round"/>
<polygon points="540.5,944.8 544.8,947.2 582.4,933.5 578,931.1" fill="#fff" stroke="#000" stroke-width="1.5" stroke-linejoin="round"/>
<polygon points="537.1,926.2 535.4,930.8 572.9,917.1 574.7,912.5" fill="#fff" stroke="#000" stroke-width="1.5" stroke-linejoin="round"/>
<polygon points="544.8,947.2 544.7,951 582.3,937.3 582.4,933.5" fill="#fff" stroke="#000" stroke-width="1.5" stroke-linejoin="round"/>
<polygon points="534.7,923.3 537.1,926.2 574.7,912.5 572.2,909.6" fill="#fff" stroke="#000" stroke-width="1.5" stroke-linejoin="round"/>
<polygon points="537.7,934.9 541.8,934.2 579.4,920.6 575.3,921.2" fill="#fff" stroke="#000" stroke-width="1.5" stroke-linejoin="round"/>
<polygon points="543.2,938.1 539.6,940.2 577.2,926.5 580.8,924.4" fill="#fff" stroke="#000" stroke-width="1.5" stroke-linejoin="round"/>
<polygon points="541.8,934.2 543.2,938.1 580.8,924.4 579.4,920.6" fill="#fff" stroke="#000" stroke-width="1.5" stroke-linejoin="round"/>
<polygon points="537.7,934.9 541.8,934.2 543.2,938.1 539.6,940.2 540.2,942.5 540.5,944.8 544.8,947.2 544.7,951 540.4,950 540,952.1 539.4,954 542.9,958.8 541.4,961.5 537.4,957.8 536.2,959 534.9,960 536.5,965.9 534,966.8 531.4,961.2 529.8,961.3 528.1,961.1 527.5,966.6 524.6,965.5 524.1,959.6 522.5,958.5 520.9,957.1 518.1,960.7 515.7,957.8 517.4,953.2 516.2,951.2 515.1,949.1 511,949.8 509.6,945.9 513.2,943.8 512.6,941.5 512.3,939.2 508,936.8 508.1,933 512.4,934 512.8,931.9 513.4,930 509.9,925.2 511.4,922.5 515.4,926.2 516.6,925 517.9,924 516.3,918.1 518.8,917.2 521.4,922.8 523,922.7 524.7,922.9 525.3,917.4 528.2,918.5 528.7,924.4 530.3,925.5 531.9,926.9 534.7,923.3 537.1,926.2 535.4,930.8 536.6,932.8" fill="#fff" stroke="#000" stroke-width="1.7" stroke-linejoin="round"/>
<ellipse cx="526.4" cy="942" rx="4" ry="6" transform="rotate(-20 526.4 942)" fill="#fff" stroke="#000" stroke-width="1.7"/>
<text transform="translate(667.3,796.6) scale(0.9,1)" text-anchor="middle" font-size="26.5" stroke="#000" stroke-width="0.45">18</text>
<line x1="668.6" y1="800" x2="668.6" y2="862.8" stroke="#000" stroke-width="1.8"/>
<circle cx="761" cy="804.3" r="4.5" fill="#fff" stroke="#000" stroke-width="1.6"/>
<text transform="translate(759.7,731) scale(0.9,1)" text-anchor="middle" font-size="26.5" stroke="#000" stroke-width="0.45">27</text>
<line x1="761" y1="733.5" x2="761" y2="799.8" stroke="#000" stroke-width="1.8"/>
<line x1="761" y1="808.8" x2="761" y2="851.7" stroke="#000" stroke-width="1.8"/>
<polygon points="421.7,924.4 449.9,914.1 452.9,913.4 456,913.2 459.3,913.6 462.8,914.6 466.3,916.2 469.8,918.4 473.3,921.1 476.8,924.2 480.2,927.9 483.4,932 486.6,936.5 489.5,941.3 492.2,946.4 494.6,951.7 496.8,957.2 498.7,962.8 500.2,968.4 501.4,974.1 502.3,979.7 502.8,985.1 502.9,990.3 502.6,995.3 502,1000 501.1,1004.3 499.7,1008.2 498.1,1011.7 496.1,1014.6 493.8,1017.1 491.3,1019 488.5,1020.3 460.3,1030.6 463.1,1029.3 465.6,1027.3 467.9,1024.9 469.9,1021.9 471.5,1018.5 472.9,1014.5 473.8,1010.2 474.4,1005.6 474.7,1000.6 474.6,995.3 474.1,989.9 473.2,984.3 472,978.7 470.5,973.1 468.6,967.5 466.4,962 464,956.6 461.3,951.5 458.4,946.7 455.2,942.3 452,938.2 448.6,934.5 445.1,931.3 441.6,928.6 438.1,926.5 434.6,924.9 431.2,923.9 427.8,923.5 424.7,923.6 421.7,924.4" fill="#fff" stroke="#000" stroke-width="2.2" />
<ellipse cx="441" cy="977.5" rx="29.4" ry="56.5" transform="rotate(-20 441 977.5)" fill="#fff" stroke="#000" stroke-width="2.2"/>
<polyline points="430.7,921.3 433.9,921.1 437.2,921.4 440.7,922.4 444.2,923.9 447.8,926 451.4,928.6 454.9,931.8 458.3,935.5 461.6,939.6 464.8,944.1 467.8,949 470.5,954.1 473,959.5 475.2,965.1 477.1,970.7 478.6,976.5 479.8,982.2 480.7,987.8 481.2,993.3 481.3,998.5 481,1003.6 480.3,1008.3 479.3,1012.6 477.9,1016.5 476.2,1019.9 474.2,1022.9 471.8,1025.3 469.2,1027.1" fill="none" stroke="#000" stroke-width="1.3" />
<polyline points="433.6,920.3 436.7,920 440.1,920.4 443.5,921.3 447,922.9 450.6,925 454.2,927.6 457.7,930.8 461.1,934.5 464.5,938.6 467.6,943.1 470.6,947.9 473.3,953.1 475.8,958.5 478,964 479.9,969.7 481.5,975.4 482.7,981.1 483.5,986.8 484,992.2 484.1,997.5 483.8,1002.5 483.2,1007.2 482.1,1011.6 480.8,1015.5 479,1018.9 477,1021.9 474.7,1024.3 472.1,1026.1" fill="none" stroke="#000" stroke-width="1.3" />
<ellipse cx="441" cy="977.5" rx="25.5" ry="49" transform="rotate(-20 441 977.5)" fill="#fff" stroke="#000" stroke-width="1.7"/>
<ellipse cx="461.9" cy="973.6" rx="4.4" ry="5.6" fill="#fff" stroke="#000" stroke-width="1.6"/>
<ellipse cx="465.1" cy="995.1" rx="4.4" ry="5.6" fill="#fff" stroke="#000" stroke-width="1.6"/>
<ellipse cx="460.7" cy="1011" rx="4.4" ry="5.6" fill="#fff" stroke="#000" stroke-width="1.6"/>
<ellipse cx="450" cy="1016.2" rx="4.4" ry="5.6" fill="#fff" stroke="#000" stroke-width="1.6"/>
<ellipse cx="436.4" cy="1009.2" rx="4.4" ry="5.6" fill="#fff" stroke="#000" stroke-width="1.6"/>
<ellipse cx="424.3" cy="992.1" rx="4.4" ry="5.6" fill="#fff" stroke="#000" stroke-width="1.6"/>
<ellipse cx="417.5" cy="970.3" rx="4.4" ry="5.6" fill="#fff" stroke="#000" stroke-width="1.6"/>
<ellipse cx="418.2" cy="950.9" rx="4.4" ry="5.6" fill="#fff" stroke="#000" stroke-width="1.6"/>
<ellipse cx="426.1" cy="939.9" rx="4.4" ry="5.6" fill="#fff" stroke="#000" stroke-width="1.6"/>
<ellipse cx="438.7" cy="940.8" rx="4.4" ry="5.6" fill="#fff" stroke="#000" stroke-width="1.6"/>
<ellipse cx="452.1" cy="953.4" rx="4.4" ry="5.6" fill="#fff" stroke="#000" stroke-width="1.6"/>
<ellipse cx="441" cy="977.5" rx="16.9" ry="32.5" transform="rotate(-20 441 977.5)" fill="none" stroke="#000" stroke-width="1.7"/>
<ellipse cx="441" cy="978" rx="13.5" ry="26" transform="rotate(-20 441 978)" fill="#fff" stroke="#000" stroke-width="2.1"/>
<ellipse cx="441" cy="978" rx="11.7" ry="22.5" transform="rotate(-20 441 978)" fill="#fff" stroke="#000" stroke-width="1.5"/>
<clipPath id="c8"><ellipse cx="441" cy="978" rx="11.7" ry="22.5" transform="rotate(-20 441 978)"/></clipPath>
<g clip-path="url(#c8)">
<ellipse cx="459.8" cy="971.2" rx="11.7" ry="22.5" transform="rotate(-20 459.8 971.2)" fill="none" stroke="#000" stroke-width="2"/>
</g>
<text transform="translate(440.5,852.6) scale(0.9,1)" text-anchor="middle" font-size="26.5" stroke="#000" stroke-width="0.45">34</text>
<line x1="441" y1="855" x2="441" y2="920.5" stroke="#000" stroke-width="1.8"/>
<polygon points="352.4,970.2 378.5,960.7 380.4,960.2 382.4,960.1 384.5,960.3 386.6,960.8 388.8,961.7 391,962.9 393.2,964.5 395.3,966.3 397.4,968.5 399.4,970.9 401.3,973.5 403.1,976.3 404.7,979.3 406.2,982.4 407.5,985.7 408.6,989 409.5,992.4 410.2,995.7 410.6,999 410.9,1002.2 410.9,1005.4 410.6,1008.3 410.2,1011.1 409.5,1013.7 408.6,1016.1 407.5,1018.2 406.2,1020 404.8,1021.5 403.1,1022.6 401.3,1023.5 375.2,1033 377,1032.1 378.6,1031 380.1,1029.5 381.4,1027.7 382.5,1025.6 383.4,1023.2 384,1020.6 384.5,1017.8 384.7,1014.9 384.7,1011.8 384.5,1008.5 384,1005.2 383.4,1001.9 382.5,998.5 381.4,995.2 380.1,992 378.6,988.8 377,985.8 375.2,983 373.3,980.4 371.3,978 369.2,975.8 367.1,974 364.9,972.4 362.7,971.2 360.5,970.3 358.4,969.8 356.3,969.6 354.3,969.7 352.4,970.2" fill="#fff" stroke="#000" stroke-width="2.1" />
<ellipse cx="363.8" cy="1001.6" rx="18.7" ry="33.4" transform="rotate(-20 363.8 1001.6)" fill="#fff" stroke="#000" stroke-width="2.1"/>
<ellipse cx="363.8" cy="1001.6" rx="16.8" ry="30" transform="rotate(-20 363.8 1001.6)" fill="#fff" stroke="#000" stroke-width="1.6"/>
<ellipse cx="363.8" cy="1001.6" rx="15.7" ry="28" transform="rotate(-20 363.8 1001.6)" fill="#fff" stroke="#000" stroke-width="1.8"/>
<clipPath id="c9"><ellipse cx="363.8" cy="1001.6" rx="15.7" ry="28" transform="rotate(-20 363.8 1001.6)"/></clipPath>
<g clip-path="url(#c9)">
<ellipse cx="386.4" cy="993.4" rx="15.7" ry="28" transform="rotate(-20 386.4 993.4)" fill="none" stroke="#000" stroke-width="1.6"/>
</g>
<text transform="translate(375.3,896.2) scale(0.9,1)" text-anchor="middle" font-size="26.5" stroke="#000" stroke-width="0.45">30</text>
<line x1="377" y1="898.8" x2="377" y2="961.5" stroke="#000" stroke-width="1.8"/>
<polygon points="255.3,961.1 255.7,960.2 255.8,958.4 255.3,955.5 254.1,950.9 250.3,940.1 249.7,936.4 250.4,935.3 251.1,934.4 251.8,933.4 252.6,932.7 253.1,931.2 253.9,930.5 255,930.5 256.4,931.3 257.5,931.4 258.6,931.6 259.8,931.9 261,932.3 262.9,935.5 266.9,946.2 269,950.5 270.5,953 271.6,954.4 272.5,954.8 273.2,954.4 273.8,953.1 274.1,950.6 274.1,946.3 273,935.7 273.5,932.5 274.5,932.2 275.5,931.9 276.5,931.7 277.6,931.7 278.6,931 279.7,931 280.9,931.8 282.1,933.2 283.3,934.1 284.5,935 285.6,936 286.8,937.1 288,940.9 289.3,951.6 290.2,956.2 291.1,959.1 292,960.9 292.9,961.8 293.7,962 294.7,961.3 295.7,959.7 297,956.5 298.8,947.9 300.2,945.8 301.4,946.2 302.6,946.7 303.8,947.3 304.9,948 306.2,948.1 307.4,948.9 308.4,950.3 309.4,952.2 310.4,953.6 311.4,955.1 312.3,956.7 313.3,958.2 313.5,961.9 311.8,970.7 311.6,974.9 311.8,977.6 312.2,979.6 312.8,980.9 313.7,981.6 314.9,981.7 316.5,981.2 318.7,979.7 323.2,974.5 325.3,973.9 326.5,975 327.6,976.2 328.7,977.4 329.8,978.7 331.1,979.7 332.2,981 332.9,982.8 333.4,984.9 334.1,986.6 334.7,988.4 335.3,990.2 335.9,992 335.1,994.9 330.8,1000.4 329.4,1003.3 328.7,1005.5 328.6,1007.3 329,1008.7 329.7,1009.8 331,1010.7 332.8,1011.4 335.7,1011.8 342,1011 344.4,1011.9 345.3,1013.5 346.2,1015.2 347.1,1016.8 347.9,1018.5 349,1020.2 349.8,1021.9 350.1,1023.8 350,1025.6 350.2,1027.4 350.4,1029.2 350.6,1030.9 350.6,1032.7 349,1034.3 342.8,1035.5 340.4,1036.7 339.1,1037.9 338.5,1039.1 338.5,1040.4 339,1041.8 340.1,1043.3 341.9,1045.1 344.8,1047.3 351.9,1051 354.2,1053.4 354.8,1055.2 355.3,1057 355.7,1058.8 356.1,1060.6 356.9,1062.7 357.2,1064.5 357,1066.1 356.4,1067.4 356.1,1068.9 355.8,1070.3 355.5,1071.7 355.1,1073.1 352.8,1073.2 345.8,1069.9 342.9,1069.1 341.1,1069.2 340.1,1069.7 339.7,1070.6 339.9,1072 340.6,1073.9 342.1,1076.4 344.6,1080.1 351.2,1087.6 353.1,1091 353.1,1092.7 353.1,1094.4 353.1,1096.1 353,1097.7 353.3,1099.7 353.1,1101.3 352.4,1102.4 351.4,1102.9 350.7,1103.9 350,1104.8 349.2,1105.6 348.4,1106.3 345.9,1104.9 339.3,1097.6 336.3,1095.1 334.4,1093.9 333.2,1093.6 332.5,1094 332.3,1095.2 332.5,1097.1 333.4,1100 335.1,1104.5 340.1,1114.6 341.1,1118.4 340.7,1119.7 340.2,1121 339.7,1122.2 339.1,1123.3 338.8,1125 338.2,1126.1 337.2,1126.4 335.9,1126.1 334.9,1126.4 333.9,1126.5 332.8,1126.6 331.7,1126.6 329.4,1123.9 324.3,1113.9 321.9,1110 320.2,1107.9 318.9,1106.8 318.1,1106.7 317.5,1107.4 317.2,1109 317.3,1111.7 317.9,1116.2 320.4,1127.2 320.4,1130.7 319.6,1131.4 318.7,1132 317.8,1132.6 316.9,1133 316.1,1134.1 315.1,1134.5 313.9,1134.1 312.6,1132.9 311.5,1132.5 310.3,1131.9 309.1,1131.2 307.9,1130.4 306.3,1126.9 303.6,1116 302,1111.4 300.8,1108.6 299.8,1107 298.9,1106.3 298.1,1106.4 297.3,1107.4 296.6,1109.5 296,1113.3 295.6,1123.2 294.6,1125.9 293.5,1125.8 292.4,1125.7 291.3,1125.5 290.1,1125.2 289,1125.5 287.8,1125.1 286.6,1124 285.5,1122.2 284.4,1121.1 283.3,1119.8 282.2,1118.5 281.2,1117.2 280.4,1113.4 280.6,1103.4 280.2,1099 279.7,1096 279.1,1094.1 278.3,1093 277.4,1092.5 276.3,1092.8 274.9,1093.9 273.2,1096.3 269.9,1103.4 268.1,1104.7 266.9,1103.9 265.8,1103.1 264.6,1102.2 263.5,1101.2 262.1,1100.6 261,1099.5 260,1097.9 259.4,1095.8 258.5,1094.2 257.6,1092.5 256.8,1090.8 256.1,1089.1 256.3,1085.8 259.4,1078.4 260.3,1074.8 260.5,1072.3 260.3,1070.4 259.8,1069 259,1068.1 257.7,1067.5 256,1067.4 253.4,1068 247.8,1071.1 245.5,1070.9 244.5,1069.5 243.5,1068.1 242.4,1066.6 241.5,1065.1 240.2,1063.7 239.3,1062.2 238.8,1060.3 238.6,1058.3 238.1,1056.5 237.7,1054.7 237.3,1052.9 237,1051 238.2,1048.7 243.6,1045.3 245.5,1043.2 246.5,1041.5 246.9,1040 246.7,1038.6 246.1,1037.3 244.9,1036 243,1034.8 240,1033.5 233.2,1032 230.7,1030.3 230,1028.6 229.3,1026.8 228.6,1025 228.1,1023.2 227.1,1021.3 226.5,1019.5 226.4,1017.8 226.8,1016.2 226.8,1014.5 226.9,1012.8 227,1011.2 227.2,1009.6 229.1,1008.7 235.9,1009.8 238.6,1009.6 240.2,1009 241,1008.1 241.2,1006.9 240.9,1005.5 239.9,1003.8 238.3,1001.5 235.4,998.5 228.5,992.8 226.3,989.9 226,988.1 225.8,986.3 225.6,984.5 225.4,982.7 224.9,980.7 224.8,978.9 225.2,977.6 226.1,976.6 226.6,975.4 227.1,974.2 227.7,973.1 228.3,972 230.7,972.7 237.7,978.1 240.7,979.7 242.6,980.3 243.7,980.2 244.3,979.5 244.3,978.2 243.8,976.3 242.6,973.5 240.4,969.3 234.5,960.3 233,956.7 233.2,955.1 233.5,953.6 233.7,952.1 234.1,950.7 234.1,948.8 234.5,947.4 235.4,946.7 236.6,946.6 237.4,946 238.3,945.5 239.3,945 240.3,944.6 242.7,946.8 248.7,955.6 251.4,958.8 253.3,960.5 254.5,961.2" fill="#fff" stroke="#000" stroke-width="2.1" stroke-linejoin="round"/>
<polygon points="250.6,962.8 251,961.9 251.1,960.1 250.6,957.2 249.4,952.6 245.6,941.8 245,938.1 245.7,937 246.4,936.1 247.1,935.2 247.9,934.4 248.4,932.9 249.2,932.2 250.3,932.2 251.7,933 252.8,933.1 253.9,933.3 255.1,933.6 256.3,934 258.2,937.2 262.2,947.9 264.3,952.2 265.8,954.7 266.9,956.1 267.8,956.5 268.5,956.1 269.1,954.8 269.4,952.3 269.4,948 268.3,937.4 268.8,934.2 269.8,933.9 270.8,933.6 271.8,933.5 272.9,933.4 273.9,932.7 275,932.7 276.2,933.5 277.4,934.9 278.6,935.8 279.8,936.7 280.9,937.7 282.1,938.8 283.3,942.6 284.6,953.3 285.5,957.9 286.4,960.8 287.3,962.6 288.2,963.5 289,963.7 290,963.1 291,961.4 292.3,958.2 294.1,949.6 295.5,947.5 296.7,947.9 297.9,948.4 299.1,949 300.2,949.7 301.5,949.8 302.7,950.6 303.7,952 304.7,953.9 305.7,955.3 306.7,956.8 307.6,958.4 308.6,960 308.8,963.6 307.1,972.4 306.9,976.6 307.1,979.3 307.5,981.3 308.1,982.6 309,983.3 310.2,983.5 311.8,982.9 314,981.4 318.5,976.2 320.6,975.6 321.8,976.7 322.9,977.9 324,979.1 325.1,980.4 326.4,981.4 327.5,982.8 328.2,984.5 328.7,986.6 329.4,988.3 330,990.1 330.6,991.9 331.2,993.8 330.4,996.6 326.1,1002.1 324.7,1005 324,1007.2 323.9,1009 324.3,1010.4 325,1011.5 326.3,1012.5 328.1,1013.1 331,1013.5 337.3,1012.7 339.7,1013.6 340.6,1015.3 341.5,1016.9 342.4,1018.6 343.2,1020.3 344.3,1021.9 345.1,1023.6 345.4,1025.5 345.3,1027.3 345.5,1029.1 345.7,1030.9 345.9,1032.6 345.9,1034.4 344.3,1036 338.1,1037.2 335.7,1038.4 334.4,1039.6 333.8,1040.8 333.8,1042.1 334.3,1043.5 335.4,1045 337.2,1046.8 340.1,1049 347.2,1052.7 349.5,1055.1 350.1,1056.9 350.6,1058.7 351,1060.5 351.4,1062.4 352.2,1064.4 352.5,1066.2 352.3,1067.8 351.7,1069.1 351.4,1070.6 351.1,1072 350.8,1073.4 350.4,1074.8 348.1,1074.9 341.1,1071.6 338.2,1070.9 336.4,1070.9 335.4,1071.4 335,1072.3 335.2,1073.7 335.9,1075.6 337.4,1078.2 339.9,1081.8 346.5,1089.3 348.4,1092.7 348.4,1094.4 348.4,1096.1 348.4,1097.8 348.3,1099.4 348.6,1101.4 348.4,1103 347.8,1104.1 346.7,1104.6 346,1105.6 345.3,1106.5 344.5,1107.3 343.7,1108 341.2,1106.6 334.6,1099.3 331.6,1096.8 329.7,1095.6 328.5,1095.3 327.8,1095.8 327.6,1096.9 327.8,1098.8 328.7,1101.7 330.4,1106.2 335.4,1116.3 336.4,1120.1 336,1121.4 335.5,1122.7 335,1123.9 334.4,1125 334.1,1126.7 333.5,1127.8 332.5,1128.1 331.2,1127.8 330.2,1128.1 329.2,1128.2 328.1,1128.3 327,1128.3 324.7,1125.6 319.6,1115.6 317.2,1111.7 315.5,1109.6 314.2,1108.5 313.4,1108.4 312.8,1109.1 312.5,1110.7 312.6,1113.4 313.2,1117.9 315.7,1128.9 315.7,1132.4 314.9,1133.1 314,1133.7 313.1,1134.3 312.2,1134.7 311.4,1135.8 310.4,1136.2 309.2,1135.8 307.9,1134.7 306.8,1134.2 305.6,1133.6 304.4,1132.9 303.2,1132.2 301.6,1128.6 298.9,1117.7 297.3,1113.1 296.1,1110.3 295.1,1108.7 294.2,1108 293.4,1108.1 292.6,1109.1 291.9,1111.3 291.3,1115 290.9,1124.9 289.9,1127.6 288.8,1127.5 287.7,1127.4 286.6,1127.2 285.4,1126.9 284.3,1127.2 283.1,1126.8 281.9,1125.7 280.8,1124 279.7,1122.8 278.6,1121.6 277.5,1120.2 276.5,1118.9 275.7,1115.1 275.9,1105.1 275.5,1100.7 275,1097.8 274.4,1095.8 273.6,1094.7 272.7,1094.2 271.6,1094.5 270.2,1095.6 268.5,1098 265.2,1105.1 263.4,1106.4 262.2,1105.7 261.1,1104.8 259.9,1103.9 258.8,1102.9 257.4,1102.3 256.3,1101.2 255.3,1099.6 254.7,1097.6 253.8,1095.9 252.9,1094.3 252.1,1092.5 251.4,1090.8 251.6,1087.5 254.7,1080.1 255.6,1076.5 255.8,1074 255.6,1072.1 255.1,1070.7 254.3,1069.8 253,1069.2 251.3,1069.1 248.7,1069.7 243.1,1072.8 240.8,1072.6 239.8,1071.3 238.8,1069.8 237.8,1068.3 236.8,1066.8 235.5,1065.5 234.6,1063.9 234.1,1062 233.9,1060 233.4,1058.2 233,1056.4 232.6,1054.6 232.3,1052.8 233.5,1050.4 238.9,1047 240.8,1044.9 241.8,1043.2 242.2,1041.7 242,1040.3 241.4,1039 240.2,1037.7 238.3,1036.5 235.3,1035.2 228.5,1033.7 226.1,1032 225.3,1030.3 224.6,1028.5 223.9,1026.7 223.4,1024.9 222.4,1023 221.8,1021.2 221.7,1019.5 222.1,1017.9 222.1,1016.2 222.2,1014.5 222.3,1012.9 222.5,1011.3 224.4,1010.4 231.2,1011.5 233.9,1011.3 235.5,1010.7 236.3,1009.8 236.5,1008.6 236.2,1007.2 235.2,1005.5 233.6,1003.3 230.7,1000.3 223.8,994.5 221.6,991.6 221.3,989.8 221.1,988 220.9,986.2 220.7,984.5 220.2,982.4 220.1,980.6 220.5,979.3 221.4,978.4 221.9,977.1 222.4,975.9 223,974.8 223.6,973.7 226,974.4 233,979.8 236,981.4 237.9,982 239,981.9 239.6,981.2 239.6,979.9 239.1,978 237.9,975.2 235.7,971 229.8,962 228.3,958.4 228.5,956.8 228.8,955.3 229,953.8 229.4,952.4 229.4,950.5 229.8,949.1 230.7,948.4 231.9,948.3 232.7,947.7 233.6,947.2 234.6,946.7 235.6,946.3 238,948.5 244,957.3 246.7,960.5 248.6,962.2 249.8,962.9" fill="#fff" stroke="#000" stroke-width="2.1" stroke-linejoin="round"/>
<ellipse cx="267.9" cy="983.4" rx="9" ry="15.5" transform="rotate(-20 267.9 983.4)" fill="#fff" stroke="#000" stroke-width="1.6"/>
<ellipse cx="270.4" cy="982.9" rx="5.5" ry="13.5" transform="rotate(-20 270.4 982.9)" fill="none" stroke="#000" stroke-width="1.0"/>
<ellipse cx="300.7" cy="999.7" rx="9" ry="15.5" transform="rotate(-20 300.7 999.7)" fill="#fff" stroke="#000" stroke-width="1.6"/>
<ellipse cx="303.2" cy="999.2" rx="5.5" ry="13.5" transform="rotate(-20 303.2 999.2)" fill="none" stroke="#000" stroke-width="1.0"/>
<ellipse cx="318.8" cy="1049.5" rx="9" ry="15.5" transform="rotate(-20 318.8 1049.5)" fill="#fff" stroke="#000" stroke-width="1.6"/>
<ellipse cx="321.3" cy="1049" rx="5.5" ry="13.5" transform="rotate(-20 321.3 1049)" fill="none" stroke="#000" stroke-width="1.0"/>
<ellipse cx="304.1" cy="1083" rx="9" ry="15.5" transform="rotate(-20 304.1 1083)" fill="#fff" stroke="#000" stroke-width="1.6"/>
<ellipse cx="306.6" cy="1082.5" rx="5.5" ry="13.5" transform="rotate(-20 306.6 1082.5)" fill="none" stroke="#000" stroke-width="1.0"/>
<ellipse cx="271.3" cy="1066.7" rx="9" ry="15.5" transform="rotate(-20 271.3 1066.7)" fill="#fff" stroke="#000" stroke-width="1.6"/>
<ellipse cx="273.8" cy="1066.2" rx="5.5" ry="13.5" transform="rotate(-20 273.8 1066.2)" fill="none" stroke="#000" stroke-width="1.0"/>
<ellipse cx="253.2" cy="1016.9" rx="9" ry="15.5" transform="rotate(-20 253.2 1016.9)" fill="#fff" stroke="#000" stroke-width="1.6"/>
<ellipse cx="255.7" cy="1016.4" rx="5.5" ry="13.5" transform="rotate(-20 255.7 1016.4)" fill="none" stroke="#000" stroke-width="1.0"/>
<polygon points="281.8,1043.1 280.3,1047.2 288.8,1044.1 290.2,1040" fill="#fff" stroke="#000" stroke-width="1.7" stroke-linejoin="round"/>
<polygon points="270.6,1020.6 274.4,1022.8 282.9,1019.8 279.1,1017.6" fill="#fff" stroke="#000" stroke-width="1.7" stroke-linejoin="round"/>
<polygon points="287.5,1045.4 288.3,1051.1 296.8,1048 295.9,1042.3" fill="#fff" stroke="#000" stroke-width="1.7" stroke-linejoin="round"/>
<polygon points="274.3,1012.5 277.3,1017.4 285.8,1014.4 282.7,1009.4" fill="#fff" stroke="#000" stroke-width="1.7" stroke-linejoin="round"/>
<polygon points="278.4,1016.9 279.5,1016.6 288,1013.6 286.8,1013.8" fill="#fff" stroke="#000" stroke-width="1.7" stroke-linejoin="round"/>
<polygon points="289.7,1044.6 288.6,1045.1 297.1,1042 298.1,1041.5" fill="#fff" stroke="#000" stroke-width="1.7" stroke-linejoin="round"/>
<polygon points="278.7,1010.9 281.4,1011.4 289.9,1008.3 287.1,1007.8" fill="#fff" stroke="#000" stroke-width="1.7" stroke-linejoin="round"/>
<polygon points="294.5,1047.4 292.7,1049.5 301.2,1046.4 303,1044.3" fill="#fff" stroke="#000" stroke-width="1.7" stroke-linejoin="round"/>
<polygon points="291.7,1042.1 294.5,1047.4 303,1044.3 300.1,1039.1" fill="#fff" stroke="#000" stroke-width="1.7" stroke-linejoin="round"/>
<polygon points="281.4,1011.4 282.6,1017.2 291.1,1014.1 289.9,1008.3" fill="#fff" stroke="#000" stroke-width="1.7" stroke-linejoin="round"/>
<polygon points="292.2,1040.7 291.7,1042.1 300.1,1039.1 300.7,1037.7" fill="#fff" stroke="#000" stroke-width="1.7" stroke-linejoin="round"/>
<polygon points="282.6,1017.2 283.9,1017.9 292.4,1014.9 291.1,1014.1" fill="#fff" stroke="#000" stroke-width="1.7" stroke-linejoin="round"/>
<polygon points="283.9,1017.9 285.2,1018.9 293.7,1015.8 292.4,1014.9" fill="#fff" stroke="#000" stroke-width="1.7" stroke-linejoin="round"/>
<polygon points="292.6,1039.2 292.2,1040.7 300.7,1037.7 301,1036.1" fill="#fff" stroke="#000" stroke-width="1.7" stroke-linejoin="round"/>
<polygon points="292.5,1032.7 292.7,1034.7 301.2,1031.6 300.9,1029.6" fill="#fff" stroke="#000" stroke-width="1.7" stroke-linejoin="round"/>
<polygon points="288.2,1022.3 289.3,1024 297.7,1020.9 296.7,1019.2" fill="#fff" stroke="#000" stroke-width="1.7" stroke-linejoin="round"/>
<polygon points="292,1030.6 292.5,1032.7 300.9,1029.6 300.5,1027.6" fill="#fff" stroke="#000" stroke-width="1.7" stroke-linejoin="round"/>
<polygon points="289.3,1024 290.3,1025.8 298.7,1022.7 297.7,1020.9" fill="#fff" stroke="#000" stroke-width="1.7" stroke-linejoin="round"/>
<polygon points="292.7,1034.7 296.5,1037.3 304.9,1034.3 301.2,1031.6" fill="#fff" stroke="#000" stroke-width="1.7" stroke-linejoin="round"/>
<polygon points="289.4,1017.8 288.2,1022.3 296.7,1019.2 297.8,1014.7" fill="#fff" stroke="#000" stroke-width="1.7" stroke-linejoin="round"/>
<polygon points="286.7,1014.8 289.4,1017.8 297.8,1014.7 295.2,1011.7" fill="#fff" stroke="#000" stroke-width="1.7" stroke-linejoin="round"/>
<polygon points="296.5,1037.3 296.4,1041.4 304.8,1038.3 304.9,1034.3" fill="#fff" stroke="#000" stroke-width="1.7" stroke-linejoin="round"/>
<polygon points="290.3,1025.8 293.5,1024.9 302,1021.8 298.7,1022.7" fill="#fff" stroke="#000" stroke-width="1.7" stroke-linejoin="round"/>
<polygon points="295.1,1029.2 292,1030.6 300.5,1027.6 303.5,1026.2" fill="#fff" stroke="#000" stroke-width="1.7" stroke-linejoin="round"/>
<polygon points="293.5,1024.9 295.1,1029.2 303.5,1026.2 302,1021.8" fill="#fff" stroke="#000" stroke-width="1.7" stroke-linejoin="round"/>
<polygon points="290.3,1025.8 293.5,1024.9 295.1,1029.2 292,1030.6 292.5,1032.7 292.7,1034.7 296.5,1037.3 296.4,1041.4 292.6,1039.2 292.2,1040.7 291.7,1042.1 294.5,1047.4 292.7,1049.5 289.7,1044.6 288.6,1045.1 287.5,1045.4 288.3,1051.1 285.6,1050.6 284.4,1044.8 283.1,1044.1 281.8,1043.1 280.3,1047.2 277.6,1044.2 278.8,1039.7 277.7,1038 276.7,1036.2 273.5,1037.1 271.9,1032.8 275,1031.4 274.5,1029.3 274.3,1027.3 270.5,1024.7 270.6,1020.6 274.4,1022.8 274.8,1021.3 275.3,1019.9 272.5,1014.6 274.3,1012.5 277.3,1017.4 278.4,1016.9 279.5,1016.6 278.7,1010.9 281.4,1011.4 282.6,1017.2 283.9,1017.9 285.2,1018.9 286.7,1014.8 289.4,1017.8 288.2,1022.3 289.3,1024" fill="#fff" stroke="#000" stroke-width="1.9" stroke-linejoin="round"/>
<circle cx="283" cy="990" r="2.5" fill="#000"/><circle cx="286" cy="1067" r="2.5" fill="#000"/>
<text transform="translate(250.4,853.6) scale(0.9,1)" text-anchor="middle" font-size="26.5" stroke="#000" stroke-width="0.45">25</text>
<line x1="249.8" y1="858" x2="249.8" y2="929" stroke="#000" stroke-width="1.8"/>
<polygon points="200.4,1004.3 213,1006.8 236,1070.5 233.4,1093.4 215.6,1107.5 200.4,1103.5 180,1042.5 185,1022.1" fill="#fff" stroke="#000" stroke-width="1.9" />
<polygon points="196.4,1005.8 209,1008.3 232,1072 229.4,1094.9 211.6,1109 196.4,1105 176,1044 181,1023.6" fill="#fff" stroke="#000" stroke-width="2.1" stroke-linejoin="round"/>
<polygon points="195.8,1070.9 194,1073.8 194,1073.8 195.8,1070.9" fill="#fff" stroke="#000" stroke-width="1.7" stroke-linejoin="round"/>
<polygon points="184.9,1048.9 188.2,1049.9 188.2,1049.9 184.9,1048.9" fill="#fff" stroke="#000" stroke-width="1.7" stroke-linejoin="round"/>
<polygon points="202,1074.6 201.7,1079.1 201.7,1079.1 202,1074.6" fill="#fff" stroke="#000" stroke-width="1.7" stroke-linejoin="round"/>
<polygon points="187.4,1039.8 190.5,1043.2 190.5,1043.2 187.4,1039.8" fill="#fff" stroke="#000" stroke-width="1.7" stroke-linejoin="round"/>
<polygon points="207.5,1073.7 209,1078.6 209,1078.6 207.5,1073.7" fill="#fff" stroke="#000" stroke-width="1.7" stroke-linejoin="round"/>
<polygon points="193.4,1035.5 195.4,1040.2 195.4,1040.2 193.4,1035.5" fill="#fff" stroke="#000" stroke-width="1.7" stroke-linejoin="round"/>
<polygon points="195.4,1040.2 196.7,1040.2 196.7,1040.2 195.4,1040.2" fill="#fff" stroke="#000" stroke-width="1.7" stroke-linejoin="round"/>
<polygon points="208.6,1072.9 207.5,1073.7 207.5,1073.7 208.6,1072.9" fill="#fff" stroke="#000" stroke-width="1.7" stroke-linejoin="round"/>
<polygon points="196.7,1040.2 198,1040.4 198,1040.4 196.7,1040.2" fill="#fff" stroke="#000" stroke-width="1.7" stroke-linejoin="round"/>
<polygon points="209.5,1071.8 208.6,1072.9 208.6,1072.9 209.5,1071.8" fill="#fff" stroke="#000" stroke-width="1.7" stroke-linejoin="round"/>
<polygon points="198.3,1035.9 201.1,1037.1 201.1,1037.1 198.3,1035.9" fill="#fff" stroke="#000" stroke-width="1.7" stroke-linejoin="round"/>
<polygon points="213.9,1072.4 212.6,1075.2 212.6,1075.2 213.9,1072.4" fill="#fff" stroke="#000" stroke-width="1.7" stroke-linejoin="round"/>
<polygon points="201.4,1041.9 202.8,1042.9 202.8,1042.9 201.4,1041.9" fill="#fff" stroke="#000" stroke-width="1.7" stroke-linejoin="round"/>
<polygon points="211.5,1066.8 211.1,1068.5 211.1,1068.5 211.5,1066.8" fill="#fff" stroke="#000" stroke-width="1.7" stroke-linejoin="round"/>
<polygon points="201.1,1037.1 201.4,1041.9 201.4,1041.9 201.1,1037.1" fill="#fff" stroke="#000" stroke-width="1.7" stroke-linejoin="round"/>
<polygon points="211.1,1068.5 213.9,1072.4 213.9,1072.4 211.1,1068.5" fill="#fff" stroke="#000" stroke-width="1.7" stroke-linejoin="round"/>
<polygon points="202.8,1042.9 204.2,1044.1 204.2,1044.1 202.8,1042.9" fill="#fff" stroke="#000" stroke-width="1.7" stroke-linejoin="round"/>
<polygon points="211.8,1065.1 211.5,1066.8 211.5,1066.8 211.8,1065.1" fill="#fff" stroke="#000" stroke-width="1.7" stroke-linejoin="round"/>
<polygon points="211.4,1058.3 211.7,1060.3 211.7,1060.3 211.4,1058.3" fill="#fff" stroke="#000" stroke-width="1.7" stroke-linejoin="round"/>
<polygon points="207.1,1047.8 208.2,1049.6 208.2,1049.6 207.1,1047.8" fill="#fff" stroke="#000" stroke-width="1.7" stroke-linejoin="round"/>
<polygon points="210.9,1056.3 211.4,1058.3 211.4,1058.3 210.9,1056.3" fill="#fff" stroke="#000" stroke-width="1.7" stroke-linejoin="round"/>
<polygon points="208.2,1049.6 209.2,1051.4 209.2,1051.4 208.2,1049.6" fill="#fff" stroke="#000" stroke-width="1.7" stroke-linejoin="round"/>
<polygon points="211.7,1060.3 215.1,1062.3 215.1,1062.3 211.7,1060.3" fill="#fff" stroke="#000" stroke-width="1.7" stroke-linejoin="round"/>
<polygon points="208.5,1044.2 207.1,1047.8 207.1,1047.8 208.5,1044.2" fill="#fff" stroke="#000" stroke-width="1.7" stroke-linejoin="round"/>
<polygon points="206,1041.2 208.5,1044.2 208.5,1044.2 206,1041.2" fill="#fff" stroke="#000" stroke-width="1.7" stroke-linejoin="round"/>
<polygon points="215.1,1062.3 215.1,1066.1 215.1,1066.1 215.1,1062.3" fill="#fff" stroke="#000" stroke-width="1.7" stroke-linejoin="round"/>
<polygon points="209.2,1051.4 212.2,1050.8 212.2,1050.8 209.2,1051.4" fill="#fff" stroke="#000" stroke-width="1.7" stroke-linejoin="round"/>
<polygon points="213.6,1054.8 210.9,1056.3 210.9,1056.3 213.6,1054.8" fill="#fff" stroke="#000" stroke-width="1.7" stroke-linejoin="round"/>
<polygon points="212.2,1050.8 213.6,1054.8 213.6,1054.8 212.2,1050.8" fill="#fff" stroke="#000" stroke-width="1.7" stroke-linejoin="round"/>
<polygon points="209.2,1051.4 212.2,1050.8 213.6,1054.8 210.9,1056.3 211.4,1058.3 211.7,1060.3 215.1,1062.3 215.1,1066.1 211.8,1065.1 211.5,1066.8 211.1,1068.5 213.9,1072.4 212.6,1075.2 209.5,1071.8 208.6,1072.9 207.5,1073.7 209,1078.6 206.6,1079.5 204.6,1074.8 203.3,1074.8 202,1074.6 201.7,1079.1 198.9,1077.9 198.6,1073.1 197.2,1072.1 195.8,1070.9 194,1073.8 191.5,1070.8 192.9,1067.2 191.8,1065.4 190.8,1063.6 187.8,1064.2 186.4,1060.2 189.1,1058.7 188.6,1056.7 188.3,1054.7 184.9,1052.7 184.9,1048.9 188.2,1049.9 188.5,1048.2 188.9,1046.5 186.1,1042.6 187.4,1039.8 190.5,1043.2 191.4,1042.1 192.5,1041.3 191,1036.4 193.4,1035.5 195.4,1040.2 196.7,1040.2 198,1040.4 198.3,1035.9 201.1,1037.1 201.4,1041.9 202.8,1042.9 204.2,1044.1 206,1041.2 208.5,1044.2 207.1,1047.8 208.2,1049.6" fill="#fff" stroke="#000" stroke-width="1.9" stroke-linejoin="round"/>
<ellipse cx="199" cy="1020" rx="3" ry="4" fill="#fff" stroke="#000" stroke-width="1.4"/><ellipse cx="202" cy="1093.6" rx="3" ry="4" fill="#fff" stroke="#000" stroke-width="1.4"/>
<text transform="translate(222.4,1178.2) scale(0.9,1)" text-anchor="middle" font-size="26.5" stroke="#000" stroke-width="0.45">26</text>
<line x1="221.8" y1="1097" x2="221.8" y2="1156" stroke="#000" stroke-width="1.8"/>
<polygon points="146,1110.5 177,1096.5 181,1104 150,1119" fill="#fff" stroke="#000" stroke-width="1.8" />
<line x1="152" y1="1108.5" x2="155" y2="1116" stroke="#000" stroke-width="1.3"/>
<line x1="156.5" y1="1106.4" x2="159.5" y2="1113.9" stroke="#000" stroke-width="1.3"/>
<line x1="161" y1="1104.3" x2="164" y2="1111.8" stroke="#000" stroke-width="1.3"/>
<line x1="165.5" y1="1102.2" x2="168.5" y2="1109.7" stroke="#000" stroke-width="1.3"/>
<line x1="170" y1="1100.1" x2="173" y2="1107.6" stroke="#000" stroke-width="1.3"/>
<line x1="174.5" y1="1098" x2="177.5" y2="1105.5" stroke="#000" stroke-width="1.3"/>
<polygon points="138.2,1104.7 142.9,1103 143.7,1102.7 144.5,1102.6 145.4,1102.6 146.2,1102.8 147.1,1103 147.9,1103.4 148.7,1103.8 149.6,1104.4 150.3,1105.1 151.1,1105.8 151.8,1106.7 152.4,1107.6 153,1108.6 153.5,1109.6 153.9,1110.7 154.3,1111.8 154.6,1112.9 154.7,1114 154.8,1115.1 154.8,1116.2 154.8,1117.2 154.6,1118.2 154.3,1119.2 154,1120.1 153.6,1120.9 153.1,1121.7 152.5,1122.3 151.9,1122.9 151.2,1123.3 150.5,1123.6 145.8,1125.3 146.5,1125 147.2,1124.6 147.8,1124 148.4,1123.4 148.9,1122.6 149.3,1121.8 149.6,1120.9 149.9,1120 150.1,1118.9 150.1,1117.9 150.1,1116.8 150,1115.7 149.9,1114.6 149.6,1113.5 149.2,1112.4 148.8,1111.3 148.3,1110.3 147.7,1109.3 147.1,1108.4 146.4,1107.6 145.6,1106.8 144.9,1106.1 144,1105.6 143.2,1105.1 142.4,1104.7 141.5,1104.5 140.7,1104.4 139.8,1104.3 139,1104.4 138.2,1104.7" fill="#fff" stroke="#000" stroke-width="1.8" />
<ellipse cx="142" cy="1115" rx="7.7" ry="11" transform="rotate(-20 142 1115)" fill="#fff" stroke="#000" stroke-width="1.8"/>
<polygon points="136.6,1107.3 140,1108.5 144.7,1106.8 141.3,1105.6" fill="#fff" stroke="#000" stroke-width="1.6" stroke-linejoin="round"/>
<polygon points="144.4,1120.5 142.5,1123.6 147.2,1121.9 149.1,1118.7" fill="#fff" stroke="#000" stroke-width="1.6" stroke-linejoin="round"/>
<polygon points="140,1108.5 142.9,1111.7 147.6,1110 144.7,1106.8" fill="#fff" stroke="#000" stroke-width="1.6" stroke-linejoin="round"/>
<polygon points="144.5,1116.1 144.4,1120.5 149.1,1118.7 149.2,1114.4" fill="#fff" stroke="#000" stroke-width="1.6" stroke-linejoin="round"/>
<polygon points="142.9,1111.7 144.5,1116.1 149.2,1114.4 147.6,1110" fill="#fff" stroke="#000" stroke-width="1.6" stroke-linejoin="round"/>
<polygon points="142.9,1111.7 142.9,1111.7 144.5,1116.1 144.5,1116.1 144.4,1120.5 144.4,1120.5 142.5,1123.6 142.5,1123.6 139.4,1124.7 139.4,1124.7 136,1123.5 136,1123.5 133.1,1120.3 133.1,1120.3 131.5,1115.9 131.5,1115.9 131.6,1111.5 131.6,1111.5 133.5,1108.4 133.5,1108.4 136.6,1107.3 136.6,1107.3 140,1108.5 140,1108.5" fill="#fff" stroke="#000" stroke-width="1.8" stroke-linejoin="round"/>
<text transform="translate(159.3,1188.4) scale(0.9,1)" text-anchor="middle" font-size="26.5" stroke="#000" stroke-width="0.45">17</text>
<line x1="159.5" y1="1117.8" x2="159.5" y2="1166" stroke="#000" stroke-width="1.8"/>
<polygon points="970.4,1049.7 998,1039.7 1000,1039.1 1002.1,1039 1004.2,1039.1 1006.4,1039.7 1008.6,1040.5 1010.9,1041.7 1013.1,1043.3 1015.3,1045.1 1017.4,1047.2 1019.5,1049.6 1021.4,1052.2 1023.2,1055 1024.8,1058 1026.3,1061.1 1027.6,1064.3 1028.7,1067.6 1029.5,1071 1030.2,1074.3 1030.6,1077.6 1030.8,1080.9 1030.8,1084 1030.5,1087 1030,1089.8 1029.3,1092.4 1028.4,1094.7 1027.2,1096.8 1025.9,1098.7 1024.3,1100.2 1022.7,1101.4 1020.8,1102.2 993.2,1112.3 995,1111.4 996.7,1110.2 998.2,1108.7 999.6,1106.9 1000.7,1104.8 1001.7,1102.4 1002.4,1099.8 1002.9,1097 1003.2,1094 1003.2,1090.9 1003,1087.7 1002.6,1084.4 1001.9,1081 1001,1077.7 999.9,1074.4 998.7,1071.2 997.2,1068 995.5,1065 993.7,1062.2 991.8,1059.6 989.8,1057.3 987.7,1055.2 985.5,1053.3 983.3,1051.8 981,1050.6 978.8,1049.7 976.6,1049.2 974.4,1049 972.4,1049.2 970.4,1049.7" fill="#fff" stroke="#000" stroke-width="2.1" />
<ellipse cx="981.8" cy="1081" rx="19.3" ry="33.3" transform="rotate(-20 981.8 1081)" fill="#fff" stroke="#000" stroke-width="2.1"/>
<polyline points="977.6,1048 979.7,1048 981.9,1048.5 984.2,1049.3 986.5,1050.4 988.8,1051.9 991,1053.7 993.2,1055.8 995.2,1058.1 997.2,1060.8 999,1063.6 1000.7,1066.6 1002.2,1069.8 1003.5,1073.1 1004.7,1076.4 1005.5,1079.8 1006.2,1083.2 1006.6,1086.6 1006.8,1089.9 1006.7,1093 1006.4,1096 1005.9,1098.8 1005.1,1101.4 1004.1,1103.8 1002.8,1105.8 1001.4,1107.6 999.8,1109" fill="none" stroke="#000" stroke-width="1.2" />
<ellipse cx="981.8" cy="1081" rx="13" ry="22.5" transform="rotate(-20 981.8 1081)" fill="#fff" stroke="#000" stroke-width="2.1"/>
<clipPath id="c10"><ellipse cx="981.8" cy="1081" rx="13" ry="22.5" transform="rotate(-20 981.8 1081)"/></clipPath>
<g clip-path="url(#c10)">
<ellipse cx="1006.2" cy="1072.1" rx="13" ry="22.5" transform="rotate(-20 1006.2 1072.1)" fill="none" stroke="#000" stroke-width="1.5"/>
</g>
<ellipse cx="996" cy="1046" rx="5.5" ry="3.2" transform="rotate(-15 996 1046)" fill="#fff" stroke="#000" stroke-width="1.4"/>
<text transform="translate(1006.8,1184.4) scale(0.9,1)" text-anchor="middle" font-size="26.5" stroke="#000" stroke-width="0.45">31</text>
<line x1="1006.7" y1="1109" x2="1006.7" y2="1162.4" stroke="#000" stroke-width="1.8"/>
<polygon points="946.4,1120 944.7,1119.5 942.9,1118.8 941.2,1117.9 939.5,1116.8 937.8,1115.6 936.2,1114.1 934.6,1112.5 933.2,1110.7 931.8,1108.8 930.6,1106.7 929.4,1104.6 928.4,1102.3 927.5,1100 926.8,1097.7 926.2,1095.3 925.8,1092.9 925.5,1090.6 925.4,1088.2 925.4,1085.9 925.7,1083.7 926,1081.6 926.6,1079.6 927.3,1077.8 928.1,1076.1 929.1,1074.5 930.2,1073.1 931.4,1071.9 932.7,1070.9 934.2,1070.1 935.7,1069.5 937.3,1069.2 938.9,1069 940.6,1069.1 942.3,1069.4 944.1,1069.9 945.8,1070.6 947.6,1071.6 949.3,1072.7 950.9,1074 952.5,1075.5 954,1077.2 955.5,1079 956.8,1081 958.1,1083.1 959.2,1085.2 960.2,1087.5 961,1089.8 961.7,1092.2 962.2,1094.6 962.6,1096.9 962.9,1099.3 962.9,1101.6 962.8,1103.9 962.6,1106.1 962.2,1108.1 961.6,1110.1 960.9,1111.9 960,1113.6 959,1115.1 957.9,1116.5 954.8,1111.5 955.6,1110.5 956.4,1109.3 957.1,1108 957.6,1106.6 958.1,1105.1 958.4,1103.5 958.6,1101.8 958.7,1100 958.6,1098.2 958.4,1096.4 958.1,1094.6 957.7,1092.7 957.2,1090.9 956.5,1089.1 955.8,1087.4 954.9,1085.7 954,1084.1 952.9,1082.6 951.8,1081.2 950.6,1079.9 949.4,1078.7 948.1,1077.7 946.8,1076.8 945.5,1076.1 944.1,1075.5 942.8,1075.1 941.4,1074.9 940.1,1074.8 938.8,1074.9 937.6,1075.2 936.4,1075.7 935.3,1076.3 934.3,1077.1 933.3,1078 932.5,1079.1 931.7,1080.3 931.1,1081.6 930.6,1083 930.1,1084.6 929.9,1086.2 929.7,1087.9 929.6,1089.7 929.7,1091.5 929.9,1093.3 930.3,1095.2 930.7,1097 931.3,1098.8 932,1100.6 932.8,1102.3 933.6,1104 934.6,1105.6 935.7,1107.1 936.8,1108.4 938,1109.7 939.2,1110.8 940.5,1111.8 941.9,1112.7 943.2,1113.3 944.5,1113.9 945.9,1114.2" fill="#fff" stroke="#000" stroke-width="2.2" />
<polygon points="942.6,1121.3 940.9,1120.9 939.2,1120.2 937.4,1119.3 935.7,1118.2 934,1116.9 932.4,1115.5 930.9,1113.8 929.4,1112.1 928.1,1110.1 926.8,1108.1 925.7,1105.9 924.6,1103.7 923.8,1101.4 923,1099.1 922.4,1096.7 922,1094.3 921.7,1091.9 921.6,1089.6 921.7,1087.3 921.9,1085.1 922.3,1083 922.8,1081 923.5,1079.1 924.3,1077.4 925.3,1075.9 926.4,1074.5 927.6,1073.3 929,1072.3 930.4,1071.5 931.9,1070.9 933.5,1070.5 935.2,1070.4 936.9,1070.5 938.6,1070.8 940.3,1071.3 942.1,1072 943.8,1072.9 945.5,1074.1 947.2,1075.4 948.8,1076.9 950.3,1078.6 951.7,1080.4 953.1,1082.4 954.3,1084.4 955.4,1086.6 956.4,1088.9 957.2,1091.2 957.9,1093.5 958.5,1095.9 958.9,1098.3 959.1,1100.7 959.2,1103 959.1,1105.2 958.8,1107.4 958.4,1109.5 957.8,1111.5 957.1,1113.3 956.2,1115 955.2,1116.5 954.1,1117.8 951,1112.9 951.9,1111.9 952.7,1110.7 953.3,1109.4 953.9,1108 954.3,1106.4 954.6,1104.8 954.8,1103.2 954.9,1101.4 954.9,1099.6 954.7,1097.8 954.4,1095.9 954,1094.1 953.4,1092.3 952.8,1090.5 952,1088.7 951.2,1087.1 950.2,1085.5 949.2,1083.9 948,1082.5 946.9,1081.2 945.6,1080.1 944.4,1079 943,1078.2 941.7,1077.4 940.3,1076.9 939,1076.5 937.7,1076.2 936.3,1076.2 935.1,1076.3 933.8,1076.6 932.7,1077 931.6,1077.7 930.5,1078.4 929.6,1079.4 928.7,1080.4 928,1081.6 927.3,1083 926.8,1084.4 926.4,1085.9 926.1,1087.6 925.9,1089.3 925.9,1091 926,1092.8 926.2,1094.7 926.5,1096.5 927,1098.4 927.5,1100.2 928.2,1102 929,1103.7 929.9,1105.4 930.9,1106.9 931.9,1108.4 933,1109.8 934.2,1111.1 935.5,1112.2 936.8,1113.2 938.1,1114 939.4,1114.7 940.8,1115.2 942.1,1115.6" fill="#fff" stroke="#000" stroke-width="2.2" />
<text transform="translate(933.8,1034.3) scale(0.9,1)" text-anchor="middle" font-size="26.5" stroke="#000" stroke-width="0.45">32</text>
<line x1="932.4" y1="1036.8" x2="932.4" y2="1071.5" stroke="#000" stroke-width="1.8"/>
<polygon points="869.2,1100.5 896.5,1090.6 897.8,1090.2 899.2,1090.1 900.7,1090.2 902.1,1090.5 903.6,1091.1 905.1,1091.9 906.6,1092.9 908.1,1094 909.5,1095.4 910.9,1097 912.1,1098.7 913.3,1100.5 914.4,1102.4 915.4,1104.5 916.2,1106.6 917,1108.8 917.5,1111 917.9,1113.2 918.2,1115.3 918.3,1117.4 918.3,1119.5 918.1,1121.5 917.7,1123.3 917.2,1125 916.6,1126.6 915.8,1128 914.8,1129.2 913.8,1130.2 912.7,1131 911.4,1131.6 884.2,1141.5 885.4,1140.9 886.5,1140.1 887.6,1139.1 888.5,1137.9 889.3,1136.5 890,1134.9 890.5,1133.2 890.8,1131.4 891,1129.4 891.1,1127.4 891,1125.2 890.7,1123.1 890.3,1120.9 889.7,1118.7 889,1116.5 888.1,1114.4 887.2,1112.4 886.1,1110.4 884.9,1108.6 883.6,1106.9 882.3,1105.3 880.8,1104 879.4,1102.8 877.9,1101.8 876.4,1101 874.9,1100.5 873.4,1100.1 872,1100 870.6,1100.2 869.2,1100.5" fill="#fff" stroke="#000" stroke-width="2.1" />
<ellipse cx="876.7" cy="1121" rx="13.1" ry="21.8" transform="rotate(-20 876.7 1121)" fill="#fff" stroke="#000" stroke-width="2.1"/>
<line x1="882" y1="1098.8" x2="897.1" y2="1093.3" stroke="#000" stroke-width="3.6"/>
<line x1="882" y1="1098.8" x2="897.1" y2="1093.3" stroke="#000" stroke-width="1.1"/>
<line x1="890.4" y1="1106.1" x2="905.4" y2="1100.6" stroke="#000" stroke-width="3.6"/>
<line x1="890.4" y1="1106.1" x2="905.4" y2="1100.6" stroke="#000" stroke-width="1.1"/>
<line x1="895.9" y1="1118.1" x2="910.9" y2="1112.6" stroke="#000" stroke-width="3.6"/>
<line x1="895.9" y1="1118.1" x2="910.9" y2="1112.6" stroke="#000" stroke-width="1.1"/>
<line x1="896.4" y1="1130.4" x2="911.5" y2="1124.9" stroke="#000" stroke-width="3.6"/>
<line x1="896.4" y1="1130.4" x2="911.5" y2="1124.9" stroke="#000" stroke-width="1.1"/>
<ellipse cx="876.7" cy="1121" rx="10.8" ry="18" transform="rotate(-20 876.7 1121)" fill="#fff" stroke="#000" stroke-width="1.6"/>
<ellipse cx="876.7" cy="1121" rx="9" ry="15" transform="rotate(-20 876.7 1121)" fill="#fff" stroke="#000" stroke-width="1.8"/>
<line x1="876.9" y1="1134.7" x2="885.4" y2="1131.7" stroke="#000" stroke-width="2.8"/>
<line x1="871.9" y1="1130.7" x2="880.4" y2="1127.6" stroke="#000" stroke-width="2.8"/>
<line x1="868.2" y1="1124.1" x2="876.7" y2="1121" stroke="#000" stroke-width="2.8"/>
<line x1="866.8" y1="1116.6" x2="875.3" y2="1113.5" stroke="#000" stroke-width="2.8"/>
<line x1="868" y1="1110.3" x2="876.5" y2="1107.3" stroke="#000" stroke-width="2.8"/>
<text transform="translate(879.7,1036.3) scale(0.9,1)" text-anchor="middle" font-size="26.5" stroke="#000" stroke-width="0.45">35</text>
<line x1="879.7" y1="1040.8" x2="879.7" y2="1090" stroke="#000" stroke-width="1.8"/>
<polygon points="828.4,1100.8 832.1,1099.4 834.4,1098.8 836.8,1098.5 839.2,1098.6 841.7,1099 844.2,1099.8 846.7,1101 849.2,1102.5 851.6,1104.2 854,1106.3 856.2,1108.7 858.3,1111.3 860.2,1114.2 862,1117.2 863.5,1120.4 864.8,1123.7 865.9,1127 866.8,1130.5 867.4,1133.9 867.8,1137.3 867.8,1140.7 867.7,1143.9 867.2,1147 866.5,1149.9 865.6,1152.7 864.4,1155.2 863,1157.4 861.3,1159.3 859.5,1161 857.5,1162.3 855.4,1163.3 851.6,1164.6 853.8,1163.7 855.8,1162.4 857.6,1160.7 859.2,1158.8 860.6,1156.5 861.8,1154 862.8,1151.3 863.5,1148.4 863.9,1145.3 864.1,1142 864,1138.7 863.6,1135.3 863,1131.8 862.2,1128.4 861.1,1125 859.8,1121.7 858.2,1118.6 856.5,1115.5 854.5,1112.7 852.4,1110.1 850.2,1107.7 847.9,1105.6 845.5,1103.8 843,1102.3 840.5,1101.2 838,1100.4 835.5,1099.9 833,1099.9 830.6,1100.1 828.4,1100.8" fill="#fff" stroke="#000" stroke-width="2.2" />
<ellipse cx="840" cy="1132.7" rx="22.4" ry="34" transform="rotate(-20 840 1132.7)" fill="#fff" stroke="#000" stroke-width="2.2"/>
<ellipse cx="840" cy="1132.7" rx="14.2" ry="21.5" transform="rotate(-20 840 1132.7)" fill="#fff" stroke="#000" stroke-width="2.7"/>
<ellipse cx="840" cy="1132.7" rx="15.8" ry="24" transform="rotate(-20 840 1132.7)" fill="none" stroke="#000" stroke-width="1.1"/>
<text transform="translate(828,1043.6) scale(0.9,1)" text-anchor="middle" font-size="26.5" stroke="#000" stroke-width="0.45">29</text>
<line x1="828.6" y1="1044" x2="828.6" y2="1100" stroke="#000" stroke-width="1.8"/>
<polygon points="721.2,1213.1 717.1,1216.4 733.3,1210.5 737.3,1207.3" fill="#fff" stroke="#000" stroke-width="1.8" stroke-linejoin="round"/>
<polygon points="692.3,1148.3 697.5,1148.2 713.7,1142.3 708.5,1142.4" fill="#fff" stroke="#000" stroke-width="1.8" stroke-linejoin="round"/>
<polygon points="692.4,1132.5 697.9,1134 714.1,1128.1 708.6,1126.6" fill="#fff" stroke="#000" stroke-width="1.8" stroke-linejoin="round"/>
<polygon points="730.6,1223.8 727.4,1228.5 743.5,1222.6 746.7,1217.9" fill="#fff" stroke="#000" stroke-width="1.8" stroke-linejoin="round"/>
<polygon points="694.9,1118.1 700.4,1121.3 716.6,1115.4 711.1,1112.2" fill="#fff" stroke="#000" stroke-width="1.8" stroke-linejoin="round"/>
<polygon points="740.7,1231.9 738.5,1237.9 754.7,1232 756.8,1226" fill="#fff" stroke="#000" stroke-width="1.8" stroke-linejoin="round"/>
<polygon points="751.1,1237.2 750,1244.2 766.2,1238.3 767.3,1231.3" fill="#fff" stroke="#000" stroke-width="1.8" stroke-linejoin="round"/>
<polygon points="699.7,1105.9 705,1110.5 721.1,1104.6 715.8,1100" fill="#fff" stroke="#000" stroke-width="1.8" stroke-linejoin="round"/>
<polygon points="706.5,1096.3 711.4,1102.2 727.5,1096.4 722.7,1090.4" fill="#fff" stroke="#000" stroke-width="1.8" stroke-linejoin="round"/>
<polygon points="761.3,1239.5 761.4,1247.1 777.6,1241.2 777.5,1233.6" fill="#fff" stroke="#000" stroke-width="1.8" stroke-linejoin="round"/>
<polygon points="715.1,1089.9 719.4,1096.8 735.5,1090.9 731.3,1084" fill="#fff" stroke="#000" stroke-width="1.8" stroke-linejoin="round"/>
<polygon points="770.9,1238.5 772.2,1246.5 788.3,1240.6 787.1,1232.6" fill="#fff" stroke="#000" stroke-width="1.8" stroke-linejoin="round"/>
<polygon points="721.4,1096 723.5,1095.3 739.6,1089.4 737.5,1090.1" fill="#fff" stroke="#000" stroke-width="1.8" stroke-linejoin="round"/>
<polygon points="775,1237 773,1237.8 789.2,1232 791.2,1231.1" fill="#fff" stroke="#000" stroke-width="1.8" stroke-linejoin="round"/>
<polygon points="722.2,1087.3 725.2,1086.8 741.3,1080.9 738.4,1081.4" fill="#fff" stroke="#000" stroke-width="1.8" stroke-linejoin="round"/>
<polygon points="781.8,1242.5 779.3,1243.9 795.4,1238.1 798,1236.6" fill="#fff" stroke="#000" stroke-width="1.8" stroke-linejoin="round"/>
<polygon points="779.5,1234.4 781.8,1242.5 798,1236.6 795.7,1228.6" fill="#fff" stroke="#000" stroke-width="1.8" stroke-linejoin="round"/>
<polygon points="725.2,1086.8 728.5,1094.4 744.7,1088.5 741.3,1080.9" fill="#fff" stroke="#000" stroke-width="1.8" stroke-linejoin="round"/>
<polygon points="781.3,1233.1 779.5,1234.4 795.7,1228.6 797.5,1227.2" fill="#fff" stroke="#000" stroke-width="1.8" stroke-linejoin="round"/>
<polygon points="728.5,1094.4 730.8,1094.3 747,1088.4 744.7,1088.5" fill="#fff" stroke="#000" stroke-width="1.8" stroke-linejoin="round"/>
<polygon points="730.8,1094.3 733.1,1094.3 749.2,1088.5 747,1088.4" fill="#fff" stroke="#000" stroke-width="1.8" stroke-linejoin="round"/>
<polygon points="783,1231.6 781.3,1233.1 797.5,1227.2 799.2,1225.7" fill="#fff" stroke="#000" stroke-width="1.8" stroke-linejoin="round"/>
<polygon points="733,1086.7 736.2,1087.2 752.3,1081.3 749.2,1080.8" fill="#fff" stroke="#000" stroke-width="1.8" stroke-linejoin="round"/>
<polygon points="790,1235.1 787.9,1237.5 804,1231.6 806.2,1229.2" fill="#fff" stroke="#000" stroke-width="1.8" stroke-linejoin="round"/>
<polygon points="736.2,1087.2 738.6,1095.2 754.7,1089.3 752.3,1081.3" fill="#fff" stroke="#000" stroke-width="1.8" stroke-linejoin="round"/>
<polygon points="786.7,1227.4 790,1235.1 806.2,1229.2 802.9,1221.5" fill="#fff" stroke="#000" stroke-width="1.8" stroke-linejoin="round"/>
<polygon points="738.6,1095.2 740.9,1095.8 757.1,1089.9 754.7,1089.3" fill="#fff" stroke="#000" stroke-width="1.8" stroke-linejoin="round"/>
<polygon points="788.1,1225.4 786.7,1227.4 802.9,1221.5 804.3,1219.5" fill="#fff" stroke="#000" stroke-width="1.8" stroke-linejoin="round"/>
<polygon points="740.9,1095.8 743.3,1096.6 759.5,1090.7 757.1,1089.9" fill="#fff" stroke="#000" stroke-width="1.8" stroke-linejoin="round"/>
<polygon points="789.4,1223.3 788.1,1225.4 804.3,1219.5 805.6,1217.4" fill="#fff" stroke="#000" stroke-width="1.8" stroke-linejoin="round"/>
<polygon points="796.3,1224.7 794.7,1227.9 810.9,1222 812.4,1218.9" fill="#fff" stroke="#000" stroke-width="1.8" stroke-linejoin="round"/>
<polygon points="744.4,1089.6 747.6,1091 763.8,1085.2 760.6,1083.7" fill="#fff" stroke="#000" stroke-width="1.8" stroke-linejoin="round"/>
<polygon points="792.1,1217.7 796.3,1224.7 812.4,1218.9 808.3,1211.9" fill="#fff" stroke="#000" stroke-width="1.8" stroke-linejoin="round"/>
<polygon points="747.6,1091 748.9,1099.1 765.1,1093.2 763.8,1085.2" fill="#fff" stroke="#000" stroke-width="1.8" stroke-linejoin="round"/>
<polygon points="748.9,1099.1 751.3,1100.4 767.5,1094.5 765.1,1093.2" fill="#fff" stroke="#000" stroke-width="1.8" stroke-linejoin="round"/>
<polygon points="793.1,1215.2 792.1,1217.7 808.3,1211.9 809.3,1209.3" fill="#fff" stroke="#000" stroke-width="1.8" stroke-linejoin="round"/>
<polygon points="751.3,1100.4 753.7,1101.9 769.9,1096 767.5,1094.5" fill="#fff" stroke="#000" stroke-width="1.8" stroke-linejoin="round"/>
<polygon points="794,1212.5 793.1,1215.2 809.3,1209.3 810.1,1206.6" fill="#fff" stroke="#000" stroke-width="1.8" stroke-linejoin="round"/>
<polygon points="796.1,1202.9 795.6,1205.9 811.8,1200 812.3,1197" fill="#fff" stroke="#000" stroke-width="1.8" stroke-linejoin="round"/>
<polygon points="759.2,1105.9 761.6,1107.9 777.7,1102 775.4,1100.1" fill="#fff" stroke="#000" stroke-width="1.8" stroke-linejoin="round"/>
<polygon points="795.6,1205.9 800.4,1211.9 816.6,1206 811.8,1200" fill="#fff" stroke="#000" stroke-width="1.8" stroke-linejoin="round"/>
<polygon points="759.1,1098.2 759.2,1105.9 775.4,1100.1 775.2,1092.4" fill="#fff" stroke="#000" stroke-width="1.8" stroke-linejoin="round"/>
<polygon points="800.4,1211.9 799.5,1215.7 815.7,1209.8 816.6,1206" fill="#fff" stroke="#000" stroke-width="1.8" stroke-linejoin="round"/>
<polygon points="755.9,1095.9 759.1,1098.2 775.2,1092.4 772.1,1090" fill="#fff" stroke="#000" stroke-width="1.8" stroke-linejoin="round"/>
<polygon points="761.6,1107.9 763.8,1110 780,1104.1 777.7,1102" fill="#fff" stroke="#000" stroke-width="1.8" stroke-linejoin="round"/>
<polygon points="796.5,1199.8 796.1,1202.9 812.3,1197 812.7,1193.9" fill="#fff" stroke="#000" stroke-width="1.8" stroke-linejoin="round"/>
<polygon points="769,1115.5 771.2,1118 787.3,1112.1 785.2,1109.6" fill="#fff" stroke="#000" stroke-width="1.8" stroke-linejoin="round"/>
<polygon points="797,1189 797,1192.3 813.1,1186.4 813.1,1183.1" fill="#fff" stroke="#000" stroke-width="1.8" stroke-linejoin="round"/>
<polygon points="796.9,1185.6 797,1189 813.1,1183.1 813,1179.7" fill="#fff" stroke="#000" stroke-width="1.8" stroke-linejoin="round"/>
<polygon points="771.2,1118 773.2,1120.7 789.4,1114.8 787.3,1112.1" fill="#fff" stroke="#000" stroke-width="1.8" stroke-linejoin="round"/>
<polygon points="770,1108.4 769,1115.5 785.2,1109.6 786.2,1102.6" fill="#fff" stroke="#000" stroke-width="1.8" stroke-linejoin="round"/>
<polygon points="797,1192.3 802.2,1197 818.4,1191.1 813.1,1186.4" fill="#fff" stroke="#000" stroke-width="1.8" stroke-linejoin="round"/>
<polygon points="802.2,1197 802,1201.3 818.1,1195.5 818.4,1191.1" fill="#fff" stroke="#000" stroke-width="1.8" stroke-linejoin="round"/>
<polygon points="767,1105.3 770,1108.4 786.2,1102.6 783.2,1099.4" fill="#fff" stroke="#000" stroke-width="1.8" stroke-linejoin="round"/>
<polygon points="795.7,1174.1 796.2,1177.6 812.3,1171.7 811.8,1168.2" fill="#fff" stroke="#000" stroke-width="1.8" stroke-linejoin="round"/>
<polygon points="777.9,1127.3 779.7,1130.2 795.9,1124.4 794,1121.4" fill="#fff" stroke="#000" stroke-width="1.8" stroke-linejoin="round"/>
<polygon points="779.7,1130.2 781.5,1133.3 797.6,1127.4 795.9,1124.4" fill="#fff" stroke="#000" stroke-width="1.8" stroke-linejoin="round"/>
<polygon points="795.1,1170.6 795.7,1174.1 811.8,1168.2 811.2,1164.7" fill="#fff" stroke="#000" stroke-width="1.8" stroke-linejoin="round"/>
<polygon points="796.2,1177.6 801.7,1180.9 817.8,1175 812.3,1171.7" fill="#fff" stroke="#000" stroke-width="1.8" stroke-linejoin="round"/>
<polygon points="779.9,1121.2 777.9,1127.3 794,1121.4 796.1,1115.3" fill="#fff" stroke="#000" stroke-width="1.8" stroke-linejoin="round"/>
<polygon points="792.2,1158.9 793.2,1162.4 809.4,1156.5 808.4,1153" fill="#fff" stroke="#000" stroke-width="1.8" stroke-linejoin="round"/>
<polygon points="785.3,1140.8 786.8,1144.1 803,1138.2 801.5,1134.9" fill="#fff" stroke="#000" stroke-width="1.8" stroke-linejoin="round"/>
<polygon points="791.2,1155.4 792.2,1158.9 808.4,1153 807.3,1149.6" fill="#fff" stroke="#000" stroke-width="1.8" stroke-linejoin="round"/>
<polygon points="786.8,1144.1 788.2,1147.4 804.4,1141.5 803,1138.2" fill="#fff" stroke="#000" stroke-width="1.8" stroke-linejoin="round"/>
<polygon points="801.7,1180.9 802.1,1185.5 818.2,1179.6 817.8,1175" fill="#fff" stroke="#000" stroke-width="1.8" stroke-linejoin="round"/>
<polygon points="777.3,1117.4 779.9,1121.2 796.1,1115.3 793.5,1111.5" fill="#fff" stroke="#000" stroke-width="1.8" stroke-linejoin="round"/>
<polygon points="781.5,1133.3 786.2,1131.7 802.4,1125.8 797.6,1127.4" fill="#fff" stroke="#000" stroke-width="1.8" stroke-linejoin="round"/>
<polygon points="799.8,1168.8 795.1,1170.6 811.2,1164.7 815.9,1162.9" fill="#fff" stroke="#000" stroke-width="1.8" stroke-linejoin="round"/>
<polygon points="793.2,1162.4 798.7,1164.1 814.9,1158.2 809.4,1156.5" fill="#fff" stroke="#000" stroke-width="1.8" stroke-linejoin="round"/>
<polygon points="788.5,1135.9 785.3,1140.8 801.5,1134.9 804.6,1130.1" fill="#fff" stroke="#000" stroke-width="1.8" stroke-linejoin="round"/>
<polygon points="788.2,1147.4 793.5,1147.4 809.6,1141.6 804.4,1141.5" fill="#fff" stroke="#000" stroke-width="1.8" stroke-linejoin="round"/>
<polygon points="795.2,1152.1 791.2,1155.4 807.3,1149.6 811.3,1146.2" fill="#fff" stroke="#000" stroke-width="1.8" stroke-linejoin="round"/>
<polygon points="798.7,1164.1 799.8,1168.8 815.9,1162.9 814.9,1158.2" fill="#fff" stroke="#000" stroke-width="1.8" stroke-linejoin="round"/>
<polygon points="786.2,1131.7 788.5,1135.9 804.6,1130.1 802.4,1125.8" fill="#fff" stroke="#000" stroke-width="1.8" stroke-linejoin="round"/>
<polygon points="793.5,1147.4 795.2,1152.1 811.3,1146.2 809.6,1141.6" fill="#fff" stroke="#000" stroke-width="1.8" stroke-linejoin="round"/>
<polygon points="788.2,1147.4 793.5,1147.4 795.2,1152.1 791.2,1155.4 792.2,1158.9 793.2,1162.4 798.7,1164.1 799.8,1168.8 795.1,1170.6 795.7,1174.1 796.2,1177.6 801.7,1180.9 802.1,1185.5 796.9,1185.6 797,1189 797,1192.3 802.2,1197 802,1201.3 796.5,1199.8 796.1,1202.9 795.6,1205.9 800.4,1211.9 799.5,1215.7 794,1212.5 793.1,1215.2 792.1,1217.7 796.3,1224.7 794.7,1227.9 789.4,1223.3 788.1,1225.4 786.7,1227.4 790,1235.1 787.9,1237.5 783,1231.6 781.3,1233.1 779.5,1234.4 781.8,1242.5 779.3,1243.9 775,1237 773,1237.8 770.9,1238.5 772.2,1246.5 769.2,1247 765.9,1239.4 763.6,1239.5 761.3,1239.5 761.4,1247.1 758.2,1246.6 755.8,1238.6 753.5,1238 751.1,1237.2 750,1244.2 746.8,1242.8 745.5,1234.7 743.1,1233.4 740.7,1231.9 738.5,1237.9 735.3,1235.6 735.2,1227.9 732.8,1225.9 730.6,1223.8 727.4,1228.5 724.4,1225.4 725.4,1218.3 723.2,1215.8 721.2,1213.1 717.1,1216.4 714.5,1212.6 716.5,1206.5 714.7,1203.6 712.9,1200.5 708.2,1202.1 705.9,1197.9 709.1,1193 707.6,1189.7 706.2,1186.4 700.9,1186.4 699.2,1181.7 703.2,1178.4 702.2,1174.9 701.2,1171.4 695.7,1169.7 694.6,1165 699.3,1163.2 698.7,1159.7 698.2,1156.2 692.7,1152.9 692.3,1148.3 697.5,1148.2 697.4,1144.8 697.4,1141.5 692.2,1136.8 692.4,1132.5 697.9,1134 698.3,1130.9 698.8,1127.9 694,1121.9 694.9,1118.1 700.4,1121.3 701.3,1118.6 702.3,1116.1 698.1,1109.1 699.7,1105.9 705,1110.5 706.3,1108.4 707.7,1106.4 704.4,1098.7 706.5,1096.3 711.4,1102.2 713.1,1100.7 714.9,1099.4 712.6,1091.3 715.1,1089.9 719.4,1096.8 721.4,1096 723.5,1095.3 722.2,1087.3 725.2,1086.8 728.5,1094.4 730.8,1094.3 733.1,1094.3 733,1086.7 736.2,1087.2 738.6,1095.2 740.9,1095.8 743.3,1096.6 744.4,1089.6 747.6,1091 748.9,1099.1 751.3,1100.4 753.7,1101.9 755.9,1095.9 759.1,1098.2 759.2,1105.9 761.6,1107.9 763.8,1110 767,1105.3 770,1108.4 769,1115.5 771.2,1118 773.2,1120.7 777.3,1117.4 779.9,1121.2 777.9,1127.3 779.7,1130.2 781.5,1133.3 786.2,1131.7 788.5,1135.9 785.3,1140.8 786.8,1144.1" fill="#fff" stroke="#000" stroke-width="2" stroke-linejoin="round"/>
<ellipse cx="744.5" cy="1167" rx="34.2" ry="57" transform="rotate(-20 744.5 1167)" fill="none" stroke="#000" stroke-width="1.3"/>
<ellipse cx="744.5" cy="1167" rx="32.4" ry="54" transform="rotate(-20 744.5 1167)" fill="none" stroke="#000" stroke-width="1.8"/>
<polygon points="724.1,1120.4 726.1,1119.5 728.1,1118.7 730.2,1118.2 732.3,1118 734.5,1118 736.8,1118.2 739.1,1118.6 741.4,1119.3 742.3,1120.4 743,1122.7 743.4,1125.6 743.4,1128.3 742.9,1130.1 742.2,1130.6 740.4,1130 738.6,1129.7 736.9,1129.5 735.2,1129.5 733.5,1129.7 731.9,1130.1 730.4,1130.7 728.9,1131.4 728.1,1131 726.8,1129.2 725.4,1126.6 724.3,1123.8 723.8,1121.6" fill="#fff" stroke="#000" stroke-width="1.7" />
<polygon points="757.5,1130.4 759.6,1132.7 761.7,1135.3 763.7,1137.9 765.6,1140.8 767.3,1143.7 769,1146.8 770.5,1150 772,1153.2 772,1154.6 771.1,1156 769.6,1157.2 767.9,1157.7 766.4,1157.4 765.5,1156.5 764.4,1154 763.2,1151.6 762,1149.2 760.6,1146.9 759.2,1144.8 757.7,1142.7 756.1,1140.8 754.4,1139 754.1,1137.8 754.1,1135.7 754.6,1133.3 755.5,1131.3 756.6,1130.2" fill="#fff" stroke="#000" stroke-width="1.7" />
<polygon points="777.9,1176.9 778.1,1180.3 778.1,1183.5 778,1186.7 777.7,1189.8 777.3,1192.8 776.7,1195.6 775.9,1198.3 775,1200.9 774.2,1201.2 772.6,1200.4 770.7,1198.6 769,1196.4 768,1194.3 767.9,1192.9 768.5,1191 769.1,1188.9 769.6,1186.7 769.9,1184.4 770.1,1182.1 770.2,1179.6 770.2,1177.1 770,1174.6 770.5,1173.8 771.8,1173.5 773.7,1173.7 775.7,1174.4 777.2,1175.6" fill="#fff" stroke="#000" stroke-width="1.7" />
<polygon points="764.9,1213.6 762.9,1214.5 760.9,1215.3 758.8,1215.8 756.7,1216 754.5,1216 752.2,1215.8 749.9,1215.4 747.6,1214.7 746.7,1213.6 746,1211.3 745.6,1208.4 745.6,1205.7 746.1,1203.9 746.8,1203.4 748.6,1204 750.4,1204.3 752.1,1204.5 753.8,1204.5 755.5,1204.3 757.1,1203.9 758.6,1203.3 760.1,1202.6 760.9,1203 762.2,1204.8 763.6,1207.4 764.7,1210.2 765.2,1212.4" fill="#fff" stroke="#000" stroke-width="1.7" />
<polygon points="731.5,1203.6 729.4,1201.3 727.3,1198.7 725.3,1196.1 723.4,1193.2 721.7,1190.3 720,1187.2 718.5,1184 717,1180.8 717,1179.4 717.9,1178 719.4,1176.8 721.1,1176.3 722.6,1176.6 723.5,1177.5 724.6,1180 725.8,1182.4 727,1184.8 728.4,1187.1 729.8,1189.2 731.3,1191.3 732.9,1193.2 734.6,1195 734.9,1196.2 734.9,1198.3 734.4,1200.7 733.5,1202.7 732.4,1203.8" fill="#fff" stroke="#000" stroke-width="1.7" />
<polygon points="711.1,1157.1 710.9,1153.7 710.9,1150.5 711,1147.3 711.3,1144.2 711.7,1141.2 712.3,1138.4 713.1,1135.7 714,1133.1 714.8,1132.8 716.4,1133.6 718.3,1135.4 720,1137.6 721,1139.7 721.1,1141.1 720.5,1143 719.9,1145.1 719.4,1147.3 719.1,1149.6 718.9,1151.9 718.8,1154.4 718.8,1156.9 719,1159.4 718.5,1160.2 717.2,1160.5 715.3,1160.3 713.3,1159.6 711.8,1158.4" fill="#fff" stroke="#000" stroke-width="1.7" />
<ellipse cx="745.5" cy="1166.6" rx="21" ry="35" transform="rotate(-20 745.5 1166.6)" fill="#fff" stroke="#000" stroke-width="1.8"/>
<ellipse cx="745.5" cy="1166.6" rx="18.6" ry="31" transform="rotate(-20 745.5 1166.6)" fill="none" stroke="#000" stroke-width="1.3"/>
<ellipse cx="744" cy="1166.6" rx="16.2" ry="27" transform="rotate(-20 744 1166.6)" fill="#fff" stroke="#000" stroke-width="1.9"/>
<polyline points="760.6,1187.5 758.8,1187 756.9,1186.2 755,1185.2 753.1,1183.8 751.3,1182.2 749.6,1180.4 747.9,1178.4 746.3,1176.2 744.9,1173.8 743.6,1171.3 742.4,1168.7 741.5,1166 740.7,1163.3 740,1160.5 739.6,1157.8 739.4,1155.1 739.4,1152.4 739.5,1149.9 739.9,1147.5 740.5,1145.3 741.2,1143.3 742.2,1141.5 743.3,1139.9" fill="none" stroke="#000" stroke-width="1.5" />
<text transform="translate(762.2,1329.6) scale(0.9,1)" text-anchor="middle" font-size="26.5" stroke="#000" stroke-width="0.45">19</text>
<line x1="762.2" y1="1244" x2="762.2" y2="1308" stroke="#000" stroke-width="1.8"/>
<polygon points="608.5,1193.7 613.2,1192.9 636.7,1184.4 632,1185.2" fill="#fff" stroke="#000" stroke-width="1.8" stroke-linejoin="round"/>
<polygon points="627.4,1232 623.3,1234.5 646.8,1225.9 650.9,1223.5" fill="#fff" stroke="#000" stroke-width="1.8" stroke-linejoin="round"/>
<polygon points="637.6,1242.9 634.8,1247.7 658.3,1239.1 661.1,1234.4" fill="#fff" stroke="#000" stroke-width="1.8" stroke-linejoin="round"/>
<polygon points="608.8,1176.2 614,1178 637.5,1169.5 632.3,1167.6" fill="#fff" stroke="#000" stroke-width="1.8" stroke-linejoin="round"/>
<polygon points="648.7,1249.1 647.6,1255.6 671.1,1247 672.2,1240.5" fill="#fff" stroke="#000" stroke-width="1.8" stroke-linejoin="round"/>
<polygon points="613.5,1161.9 618.5,1166.2 642,1157.7 637,1153.4" fill="#fff" stroke="#000" stroke-width="1.8" stroke-linejoin="round"/>
<polygon points="659.3,1249.7 660,1257.1 683.5,1248.6 682.8,1241.2" fill="#fff" stroke="#000" stroke-width="1.8" stroke-linejoin="round"/>
<polygon points="622,1152.7 626.3,1158.9 649.8,1150.3 645.5,1144.2" fill="#fff" stroke="#000" stroke-width="1.8" stroke-linejoin="round"/>
<polygon points="628.4,1157.9 630.7,1157.3 654.2,1148.7 651.9,1149.4" fill="#fff" stroke="#000" stroke-width="1.8" stroke-linejoin="round"/>
<polygon points="663.7,1248.1 661.6,1249.1 685.1,1240.5 687.2,1239.6" fill="#fff" stroke="#000" stroke-width="1.8" stroke-linejoin="round"/>
<polygon points="670.7,1252.3 668,1254.3 691.5,1245.7 694.2,1243.7" fill="#fff" stroke="#000" stroke-width="1.8" stroke-linejoin="round"/>
<polygon points="630,1149.9 633.3,1149.6 656.8,1141.1 653.4,1141.3" fill="#fff" stroke="#000" stroke-width="1.8" stroke-linejoin="round"/>
<polygon points="668.3,1244.8 670.7,1252.3 694.2,1243.7 691.7,1236.2" fill="#fff" stroke="#000" stroke-width="1.8" stroke-linejoin="round"/>
<polygon points="633.3,1149.6 636.3,1156.9 659.8,1148.4 656.8,1141.1" fill="#fff" stroke="#000" stroke-width="1.8" stroke-linejoin="round"/>
<polygon points="669.9,1242.9 668.3,1244.8 691.7,1236.2 693.4,1234.4" fill="#fff" stroke="#000" stroke-width="1.8" stroke-linejoin="round"/>
<polygon points="636.3,1156.9 638.8,1157.3 662.3,1148.7 659.8,1148.4" fill="#fff" stroke="#000" stroke-width="1.8" stroke-linejoin="round"/>
<polygon points="638.8,1157.3 641.3,1157.9 664.8,1149.4 662.3,1148.7" fill="#fff" stroke="#000" stroke-width="1.8" stroke-linejoin="round"/>
<polygon points="671.5,1240.8 669.9,1242.9 693.4,1234.4 695,1232.2" fill="#fff" stroke="#000" stroke-width="1.8" stroke-linejoin="round"/>
<polygon points="642.4,1151.4 646,1153 669.5,1144.5 665.9,1142.9" fill="#fff" stroke="#000" stroke-width="1.8" stroke-linejoin="round"/>
<polygon points="678.2,1241.5 676.5,1245.1 700,1236.5 701.7,1233" fill="#fff" stroke="#000" stroke-width="1.8" stroke-linejoin="round"/>
<polygon points="674.4,1234.9 678.2,1241.5 701.7,1233 697.9,1226.3" fill="#fff" stroke="#000" stroke-width="1.8" stroke-linejoin="round"/>
<polygon points="646,1153 647.3,1160.6 670.8,1152 669.5,1144.5" fill="#fff" stroke="#000" stroke-width="1.8" stroke-linejoin="round"/>
<polygon points="675.3,1232 674.4,1234.9 697.9,1226.3 698.8,1223.5" fill="#fff" stroke="#000" stroke-width="1.8" stroke-linejoin="round"/>
<polygon points="647.3,1160.6 649.9,1162.2 673.4,1153.6 670.8,1152" fill="#fff" stroke="#000" stroke-width="1.8" stroke-linejoin="round"/>
<polygon points="649.9,1162.2 652.4,1164.1 675.9,1155.5 673.4,1153.6" fill="#fff" stroke="#000" stroke-width="1.8" stroke-linejoin="round"/>
<polygon points="676,1229 675.3,1232 698.8,1223.5 699.5,1220.4" fill="#fff" stroke="#000" stroke-width="1.8" stroke-linejoin="round"/>
<polygon points="677,1217.7 676.9,1221.2 700.4,1212.6 700.5,1209.1" fill="#fff" stroke="#000" stroke-width="1.8" stroke-linejoin="round"/>
<polygon points="658.1,1169.4 660.4,1172.1 683.9,1163.5 681.6,1160.9" fill="#fff" stroke="#000" stroke-width="1.8" stroke-linejoin="round"/>
<polygon points="676.9,1221.2 681.7,1226.2 705.2,1217.6 700.4,1212.6" fill="#fff" stroke="#000" stroke-width="1.8" stroke-linejoin="round"/>
<polygon points="658.6,1162.5 658.1,1169.4 681.6,1160.9 682.1,1154" fill="#fff" stroke="#000" stroke-width="1.8" stroke-linejoin="round"/>
<polygon points="681.7,1226.2 681.2,1230.8 704.7,1222.3 705.2,1217.6" fill="#fff" stroke="#000" stroke-width="1.8" stroke-linejoin="round"/>
<polygon points="655.2,1159.3 658.6,1162.5 682.1,1154 678.6,1150.8" fill="#fff" stroke="#000" stroke-width="1.8" stroke-linejoin="round"/>
<polygon points="660.4,1172.1 662.6,1175 686.1,1166.4 683.9,1163.5" fill="#fff" stroke="#000" stroke-width="1.8" stroke-linejoin="round"/>
<polygon points="676.8,1214.1 677,1217.7 700.5,1209.1 700.3,1205.5" fill="#fff" stroke="#000" stroke-width="1.8" stroke-linejoin="round"/>
<polygon points="674.8,1201.6 675.6,1205.4 699.1,1196.8 698.3,1193.1" fill="#fff" stroke="#000" stroke-width="1.8" stroke-linejoin="round"/>
<polygon points="667.3,1182.4 669,1185.8 692.5,1177.2 690.8,1173.8" fill="#fff" stroke="#000" stroke-width="1.8" stroke-linejoin="round"/>
<polygon points="673.8,1197.9 674.8,1201.6 698.3,1193.1 697.3,1189.3" fill="#fff" stroke="#000" stroke-width="1.8" stroke-linejoin="round"/>
<polygon points="669,1185.8 670.7,1189.3 694.2,1180.8 692.5,1177.2" fill="#fff" stroke="#000" stroke-width="1.8" stroke-linejoin="round"/>
<polygon points="675.6,1205.4 680.8,1208.1 704.3,1199.5 699.1,1196.8" fill="#fff" stroke="#000" stroke-width="1.8" stroke-linejoin="round"/>
<polygon points="669.5,1177 667.3,1182.4 690.8,1173.8 693,1168.4" fill="#fff" stroke="#000" stroke-width="1.8" stroke-linejoin="round"/>
<polygon points="670.7,1189.3 675.6,1189.5 699.1,1180.9 694.2,1180.8" fill="#fff" stroke="#000" stroke-width="1.8" stroke-linejoin="round"/>
<polygon points="677.5,1194.6 673.8,1197.9 697.3,1189.3 701,1186" fill="#fff" stroke="#000" stroke-width="1.8" stroke-linejoin="round"/>
<polygon points="680.8,1208.1 681.5,1213.3 705,1204.7 704.3,1199.5" fill="#fff" stroke="#000" stroke-width="1.8" stroke-linejoin="round"/>
<polygon points="666.7,1172.5 669.5,1177 693,1168.4 690.2,1164" fill="#fff" stroke="#000" stroke-width="1.8" stroke-linejoin="round"/>
<polygon points="675.6,1189.5 677.5,1194.6 701,1186 699.1,1180.9" fill="#fff" stroke="#000" stroke-width="1.8" stroke-linejoin="round"/>
<polygon points="670.7,1189.3 675.6,1189.5 677.5,1194.6 673.8,1197.9 674.8,1201.6 675.6,1205.4 680.8,1208.1 681.5,1213.3 676.8,1214.1 677,1217.7 676.9,1221.2 681.7,1226.2 681.2,1230.8 676,1229 675.3,1232 674.4,1234.9 678.2,1241.5 676.5,1245.1 671.5,1240.8 669.9,1242.9 668.3,1244.8 670.7,1252.3 668,1254.3 663.7,1248.1 661.6,1249.1 659.3,1249.7 660,1257.1 656.7,1257.4 653.7,1250.1 651.2,1249.7 648.7,1249.1 647.6,1255.6 644,1254 642.7,1246.4 640.1,1244.8 637.6,1242.9 634.8,1247.7 631.4,1244.5 631.9,1237.6 629.6,1234.9 627.4,1232 623.3,1234.5 620.5,1230 622.7,1224.6 621,1221.2 619.3,1217.7 614.4,1217.5 612.5,1212.4 616.2,1209.1 615.2,1205.4 614.4,1201.6 609.2,1198.9 608.5,1193.7 613.2,1192.9 613,1189.3 613.1,1185.8 608.3,1180.8 608.8,1176.2 614,1178 614.7,1175 615.6,1172.1 611.8,1165.5 613.5,1161.9 618.5,1166.2 620.1,1164.1 621.7,1162.2 619.3,1154.7 622,1152.7 626.3,1158.9 628.4,1157.9 630.7,1157.3 630,1149.9 633.3,1149.6 636.3,1156.9 638.8,1157.3 641.3,1157.9 642.4,1151.4 646,1153 647.3,1160.6 649.9,1162.2 652.4,1164.1 655.2,1159.3 658.6,1162.5 658.1,1169.4 660.4,1172.1 662.6,1175 666.7,1172.5 669.5,1177 667.3,1182.4 669,1185.8" fill="#fff" stroke="#000" stroke-width="2" stroke-linejoin="round"/>
<polygon points="606.6,1169.7 616,1166.3 618.7,1165.6 621.6,1165.3 624.6,1165.5 627.7,1166.2 630.8,1167.3 633.9,1168.9 636.9,1171 640,1173.4 642.9,1176.3 645.7,1179.4 648.3,1182.9 650.8,1186.7 653,1190.8 655,1195 656.8,1199.3 658.2,1203.8 659.4,1208.3 660.3,1212.9 660.8,1217.3 661.1,1221.7 661,1226 660.6,1230 659.8,1233.8 658.8,1237.4 657.4,1240.6 655.8,1243.5 653.9,1245.9 651.7,1248 649.4,1249.7 646.8,1250.9 637.4,1254.3 640,1253.1 642.3,1251.4 644.5,1249.4 646.4,1246.9 648,1244 649.4,1240.8 650.4,1237.2 651.2,1233.4 651.6,1229.4 651.7,1225.1 651.4,1220.8 650.9,1216.3 650,1211.8 648.8,1207.2 647.4,1202.8 645.6,1198.4 643.6,1194.2 641.4,1190.2 638.9,1186.4 636.3,1182.9 633.5,1179.7 630.6,1176.8 627.5,1174.4 624.5,1172.4 621.4,1170.8 618.3,1169.6 615.2,1168.9 612.2,1168.7 609.3,1169 606.6,1169.7" fill="#fff" stroke="#000" stroke-width="2.1" />
<ellipse cx="622" cy="1212" rx="27" ry="45" transform="rotate(-20 622 1212)" fill="#fff" stroke="#000" stroke-width="2.1"/>
<ellipse cx="622" cy="1212" rx="25.2" ry="42" transform="rotate(-20 622 1212)" fill="none" stroke="#000" stroke-width="1.1"/>
<polygon points="598.7,1167.2 603.4,1165.5 604.2,1165.2 605,1165.1 605.8,1165.1 606.6,1165.2 607.5,1165.4 608.3,1165.6 609.1,1166 609.8,1166.5 610.6,1167 611.3,1167.7 611.9,1168.4 612.5,1169.2 613,1170 613.5,1170.9 613.8,1171.8 614.1,1172.7 614.4,1173.7 614.5,1174.7 614.5,1175.7 614.5,1176.6 614.4,1177.5 614.2,1178.4 613.9,1179.3 613.5,1180.1 613.1,1180.8 612.6,1181.5 612,1182.1 611.4,1182.6 610.7,1183 609.9,1183.3 605.2,1185 606,1184.7 606.7,1184.3 607.3,1183.8 607.9,1183.2 608.4,1182.5 608.8,1181.8 609.2,1181 609.5,1180.2 609.7,1179.3 609.8,1178.3 609.8,1177.4 609.8,1176.4 609.7,1175.4 609.4,1174.5 609.1,1173.5 608.8,1172.6 608.3,1171.7 607.8,1170.9 607.2,1170.1 606.6,1169.4 605.9,1168.8 605.1,1168.2 604.4,1167.7 603.6,1167.4 602.8,1167.1 601.9,1166.9 601.1,1166.8 600.3,1166.8 599.5,1167 598.7,1167.2" fill="#fff" stroke="#000" stroke-width="2" />
<ellipse cx="602" cy="1176.1" rx="7.6" ry="9.5" transform="rotate(-20 602 1176.1)" fill="#fff" stroke="#000" stroke-width="2"/>
<polygon points="591.2,1194.2 595.9,1192.5 596.7,1192.3 597.5,1192.1 598.3,1192.1 599.1,1192.2 599.9,1192.4 600.7,1192.7 601.5,1193 602.3,1193.5 603,1194.1 603.7,1194.7 604.4,1195.4 605,1196.2 605.5,1197 605.9,1197.9 606.3,1198.8 606.6,1199.8 606.8,1200.7 607,1201.7 607,1202.7 607,1203.6 606.9,1204.6 606.6,1205.5 606.4,1206.3 606,1207.1 605.6,1207.9 605,1208.5 604.5,1209.1 603.8,1209.6 603.1,1210 602.4,1210.3 597.7,1212.1 598.4,1211.7 599.1,1211.3 599.8,1210.8 600.3,1210.2 600.9,1209.6 601.3,1208.8 601.7,1208 601.9,1207.2 602.2,1206.3 602.3,1205.3 602.3,1204.4 602.3,1203.4 602.1,1202.4 601.9,1201.5 601.6,1200.5 601.2,1199.6 600.8,1198.7 600.3,1197.9 599.7,1197.1 599,1196.4 598.3,1195.8 597.6,1195.2 596.8,1194.8 596,1194.4 595.2,1194.1 594.4,1193.9 593.6,1193.8 592.8,1193.9 592,1194 591.2,1194.2" fill="#fff" stroke="#000" stroke-width="2" />
<ellipse cx="594.5" cy="1203.1" rx="7.6" ry="9.5" transform="rotate(-20 594.5 1203.1)" fill="#fff" stroke="#000" stroke-width="2"/>
<polygon points="603.4,1227.6 608.1,1225.9 608.8,1225.6 609.6,1225.5 610.4,1225.5 611.2,1225.6 612.1,1225.8 612.9,1226 613.7,1226.4 614.4,1226.9 615.2,1227.4 615.9,1228.1 616.5,1228.8 617.1,1229.6 617.6,1230.4 618.1,1231.3 618.4,1232.2 618.7,1233.1 619,1234.1 619.1,1235.1 619.2,1236 619.1,1237 619,1237.9 618.8,1238.8 618.5,1239.7 618.1,1240.5 617.7,1241.2 617.2,1241.9 616.6,1242.5 616,1243 615.3,1243.4 614.6,1243.7 609.9,1245.4 610.6,1245.1 611.3,1244.7 611.9,1244.2 612.5,1243.6 613,1242.9 613.4,1242.2 613.8,1241.4 614.1,1240.5 614.3,1239.6 614.4,1238.7 614.5,1237.7 614.4,1236.8 614.3,1235.8 614.1,1234.8 613.8,1233.9 613.4,1233 612.9,1232.1 612.4,1231.3 611.8,1230.5 611.2,1229.8 610.5,1229.1 609.7,1228.6 609,1228.1 608.2,1227.7 607.4,1227.5 606.5,1227.3 605.7,1227.2 604.9,1227.2 604.1,1227.3 603.4,1227.6" fill="#fff" stroke="#000" stroke-width="2" />
<ellipse cx="606.6" cy="1236.5" rx="7.6" ry="9.5" transform="rotate(-20 606.6 1236.5)" fill="#fff" stroke="#000" stroke-width="2"/>
<polygon points="626.5,1243.4 631.2,1241.7 632,1241.5 632.8,1241.4 633.6,1241.3 634.4,1241.4 635.2,1241.6 636,1241.9 636.8,1242.3 637.6,1242.7 638.3,1243.3 639,1243.9 639.6,1244.6 640.2,1245.4 640.8,1246.2 641.2,1247.1 641.6,1248 641.9,1249 642.1,1250 642.2,1250.9 642.3,1251.9 642.3,1252.9 642.1,1253.8 641.9,1254.7 641.6,1255.5 641.3,1256.3 640.8,1257.1 640.3,1257.7 639.7,1258.3 639.1,1258.8 638.4,1259.2 637.7,1259.6 633,1261.3 633.7,1261 634.4,1260.5 635,1260 635.6,1259.5 636.1,1258.8 636.6,1258 636.9,1257.2 637.2,1256.4 637.4,1255.5 637.6,1254.6 637.6,1253.6 637.5,1252.6 637.4,1251.7 637.2,1250.7 636.9,1249.8 636.5,1248.8 636.1,1248 635.5,1247.1 634.9,1246.3 634.3,1245.6 633.6,1245 632.9,1244.4 632.1,1244 631.3,1243.6 630.5,1243.3 629.7,1243.1 628.9,1243.1 628.1,1243.1 627.3,1243.2 626.5,1243.4" fill="#fff" stroke="#000" stroke-width="2" />
<ellipse cx="629.7" cy="1252.4" rx="7.6" ry="9.5" transform="rotate(-20 629.7 1252.4)" fill="#fff" stroke="#000" stroke-width="2"/>
<ellipse cx="622" cy="1212" rx="15" ry="25" transform="rotate(-20 622 1212)" fill="#fff" stroke="#000" stroke-width="2.2"/>
<clipPath id="c11"><ellipse cx="622" cy="1212" rx="15" ry="25" transform="rotate(-20 622 1212)"/></clipPath>
<g clip-path="url(#c11)">
<polygon points="634.4,1226.4 631.8,1230.1 650.6,1223.3 653.2,1219.5" fill="#fff" stroke="#000" stroke-width="1.6" stroke-linejoin="round"/>
<polygon points="626.4,1232.2 622,1231.1 640.8,1224.3 645.2,1225.4" fill="#fff" stroke="#000" stroke-width="1.6" stroke-linejoin="round"/>
<polygon points="615.8,1226.2 612.2,1220.9 631,1214 634.6,1219.3" fill="#fff" stroke="#000" stroke-width="1.6" stroke-linejoin="round"/>
<polygon points="608.9,1211.8 608.2,1205.4 626.9,1198.6 627.7,1205" fill="#fff" stroke="#000" stroke-width="1.6" stroke-linejoin="round"/>
<polygon points="609.6,1197.6 612.2,1193.9 631,1187 628.4,1190.8" fill="#fff" stroke="#000" stroke-width="1.6" stroke-linejoin="round"/>
<polygon points="617.6,1191.8 622,1192.9 640.8,1186.1 636.4,1185" fill="#fff" stroke="#000" stroke-width="1.6" stroke-linejoin="round"/>
<ellipse cx="640.8" cy="1205.2" rx="15" ry="25" transform="rotate(-20 640.8 1205.2)" fill="none" stroke="#000" stroke-width="1.6"/>
</g>
<ellipse cx="622" cy="1212" rx="15" ry="25" transform="rotate(-20 622 1212)" fill="none" stroke="#000" stroke-width="2.2"/>
<polygon points="627.1,1182.8 631.8,1181.1 632.4,1180.9 633.2,1180.8 633.9,1180.8 634.6,1180.8 635.3,1181 636.1,1181.2 636.8,1181.6 637.5,1182 638.1,1182.5 638.7,1183.1 639.3,1183.7 639.8,1184.4 640.3,1185.1 640.7,1185.9 641.1,1186.8 641.3,1187.6 641.5,1188.5 641.6,1189.3 641.7,1190.2 641.7,1191.1 641.5,1191.9 641.4,1192.7 641.1,1193.5 640.8,1194.2 640.4,1194.8 639.9,1195.4 639.4,1196 638.8,1196.4 638.2,1196.8 637.6,1197.1 632.9,1198.8 633.5,1198.5 634.1,1198.1 634.7,1197.7 635.2,1197.1 635.7,1196.5 636.1,1195.9 636.4,1195.2 636.7,1194.4 636.8,1193.6 637,1192.8 637,1191.9 636.9,1191 636.8,1190.2 636.6,1189.3 636.4,1188.5 636,1187.6 635.6,1186.9 635.1,1186.1 634.6,1185.4 634.1,1184.8 633.4,1184.2 632.8,1183.7 632.1,1183.3 631.4,1183 630.6,1182.7 629.9,1182.5 629.2,1182.5 628.5,1182.5 627.7,1182.6 627.1,1182.8" fill="#fff" stroke="#000" stroke-width="1.9" />
<ellipse cx="630" cy="1190.8" rx="6.8" ry="8.5" transform="rotate(-20 630 1190.8)" fill="#fff" stroke="#000" stroke-width="1.9"/>
<polygon points="638.6,1217.4 643.3,1215.7 644,1215.5 644.7,1215.4 645.5,1215.4 646.2,1215.5 646.9,1215.6 647.7,1215.9 648.4,1216.2 649.1,1216.6 649.7,1217.1 650.3,1217.7 650.9,1218.3 651.4,1219 651.9,1219.8 652.3,1220.5 652.6,1221.4 652.9,1222.2 653.1,1223.1 653.2,1224 653.3,1224.8 653.2,1225.7 653.1,1226.5 652.9,1227.3 652.7,1228.1 652.4,1228.8 652,1229.4 651.5,1230 651,1230.6 650.4,1231 649.8,1231.4 649.2,1231.7 644.5,1233.4 645.1,1233.1 645.7,1232.7 646.3,1232.3 646.8,1231.8 647.3,1231.2 647.7,1230.5 648,1229.8 648.2,1229 648.4,1228.2 648.5,1227.4 648.6,1226.5 648.5,1225.7 648.4,1224.8 648.2,1223.9 647.9,1223.1 647.6,1222.3 647.2,1221.5 646.7,1220.7 646.2,1220 645.6,1219.4 645,1218.8 644.4,1218.3 643.7,1217.9 643,1217.6 642.2,1217.3 641.5,1217.2 640.8,1217.1 640,1217.1 639.3,1217.2 638.6,1217.4" fill="#fff" stroke="#000" stroke-width="1.9" />
<ellipse cx="641.6" cy="1225.4" rx="6.8" ry="8.5" transform="rotate(-20 641.6 1225.4)" fill="#fff" stroke="#000" stroke-width="1.9"/>
<text transform="translate(646.8,1329.6) scale(0.9,1)" text-anchor="middle" font-size="26.5" stroke="#000" stroke-width="0.45">23</text>
<line x1="644.8" y1="1254.8" x2="644.8" y2="1305.8" stroke="#000" stroke-width="1.8"/>
<polygon points="554.7,1268.5 552.5,1267.7 550.3,1266.7 548.2,1265.4 546,1263.8 544,1261.9 542,1259.9 540.1,1257.6 538.3,1255.1 536.6,1252.4 535.1,1249.6 533.7,1246.7 532.6,1243.7 531.6,1240.6 530.8,1237.5 530.1,1234.4 529.7,1231.3 529.5,1228.3 529.6,1225.3 529.8,1222.5 530.2,1219.8 530.9,1217.2 531.7,1214.8 532.7,1212.6 533.9,1210.7 535.3,1209 536.9,1207.5 538.5,1206.4 540.3,1205.5 542.3,1204.9 544.3,1204.6 546.3,1204.6 548.5,1204.9 550.7,1205.5 552.8,1206.4 555,1207.6 557.2,1209 559.3,1210.7 561.3,1212.7 563.3,1214.9 565.1,1217.2 566.8,1219.8 568.4,1222.5 569.9,1225.4 571.2,1228.3 572.2,1231.4 573.2,1234.5 573.9,1237.6 574.4,1240.7 574.7,1243.8 574.8,1246.8 574.7,1249.7 574.4,1252.5 573.8,1255.1 573.1,1257.6 572.2,1259.9 571,1262 569.8,1263.8 568.3,1265.4 566.7,1266.7 565,1267.7 563,1263.1 564.5,1262.2 565.9,1261.1 567.1,1259.8 568.2,1258.2 569.2,1256.5 570,1254.5 570.6,1252.4 571,1250.1 571.3,1247.8 571.4,1245.3 571.3,1242.7 571.1,1240.1 570.6,1237.5 570,1234.8 569.3,1232.2 568.3,1229.6 567.2,1227.1 566,1224.7 564.7,1222.3 563.2,1220.2 561.6,1218.1 559.9,1216.3 558.2,1214.6 556.4,1213.2 554.6,1211.9 552.7,1210.9 550.9,1210.2 549,1209.7 547.2,1209.4 545.4,1209.4 543.7,1209.7 542.1,1210.2 540.6,1210.9 539.1,1211.9 537.8,1213.1 536.7,1214.6 535.6,1216.3 534.8,1218.1 534,1220.1 533.5,1222.3 533.1,1224.6 532.9,1227 532.9,1229.6 533.1,1232.2 533.4,1234.8 533.9,1237.4 534.6,1240.1 535.5,1242.7 536.5,1245.2 537.6,1247.7 538.9,1250.1 540.3,1252.4 541.9,1254.5 543.5,1256.4 545.2,1258.2 546.9,1259.7 548.8,1261.1 550.6,1262.2 552.5,1263.1 554.3,1263.8" fill="#fff" stroke="#000" stroke-width="2.2" />
<polygon points="550.9,1269.8 548.7,1269.1 546.6,1268 544.4,1266.7 542.3,1265.1 540.2,1263.3 538.2,1261.2 536.3,1258.9 534.5,1256.5 532.9,1253.8 531.3,1251 530,1248.1 528.8,1245.1 527.8,1242 527,1238.9 526.4,1235.8 526,1232.7 525.8,1229.7 525.8,1226.7 526,1223.8 526.5,1221.1 527.1,1218.6 527.9,1216.2 529,1214 530.2,1212.1 531.6,1210.4 533.1,1208.9 534.8,1207.7 536.6,1206.9 538.5,1206.3 540.5,1206 542.6,1206 544.7,1206.3 546.9,1206.9 549.1,1207.8 551.3,1208.9 553.4,1210.4 555.5,1212.1 557.6,1214 559.5,1216.2 561.4,1218.6 563.1,1221.2 564.7,1223.9 566.1,1226.7 567.4,1229.7 568.5,1232.8 569.4,1235.8 570.1,1239 570.6,1242.1 570.9,1245.1 571,1248.1 570.9,1251.1 570.6,1253.9 570.1,1256.5 569.3,1259 568.4,1261.3 567.3,1263.3 566,1265.2 564.5,1266.8 562.9,1268.1 561.2,1269.1 559.3,1264.5 560.8,1263.6 562.1,1262.5 563.4,1261.1 564.5,1259.6 565.4,1257.8 566.2,1255.9 566.8,1253.8 567.3,1251.5 567.6,1249.1 567.7,1246.7 567.6,1244.1 567.3,1241.5 566.9,1238.8 566.3,1236.2 565.5,1233.6 564.6,1231 563.5,1228.5 562.2,1226 560.9,1223.7 559.4,1221.5 557.8,1219.5 556.2,1217.7 554.5,1216 552.7,1214.5 550.8,1213.3 549,1212.3 547.1,1211.5 545.3,1211 543.5,1210.8 541.7,1210.8 540,1211 538.3,1211.5 536.8,1212.3 535.4,1213.3 534.1,1214.5 532.9,1216 531.9,1217.6 531,1219.5 530.3,1221.5 529.7,1223.7 529.4,1226 529.2,1228.4 529.2,1230.9 529.3,1233.5 529.7,1236.1 530.2,1238.8 530.9,1241.4 531.7,1244.1 532.7,1246.6 533.9,1249.1 535.2,1251.5 536.6,1253.7 538.1,1255.8 539.7,1257.8 541.4,1259.6 543.2,1261.1 545,1262.5 546.8,1263.6 548.7,1264.5 550.6,1265.1" fill="#fff" stroke="#000" stroke-width="2.2" />
<text transform="translate(540.8,1169.3) scale(0.9,1)" text-anchor="middle" font-size="26.5" stroke="#000" stroke-width="0.45">33</text>
<line x1="542" y1="1172" x2="542" y2="1205.8" stroke="#000" stroke-width="1.8"/>
<polygon points="487.6,1225.9 491.4,1224.5 493.5,1223.9 495.7,1223.7 498.1,1223.8 500.4,1224.3 502.8,1225.1 505.2,1226.2 507.6,1227.7 509.9,1229.4 512.1,1231.5 514.2,1233.8 516.2,1236.3 518,1239.1 519.7,1242 521.2,1245.1 522.5,1248.3 523.6,1251.6 524.4,1254.9 525,1258.2 525.4,1261.5 525.5,1264.8 525.3,1267.9 525,1270.9 524.3,1273.7 523.5,1276.4 522.4,1278.8 521,1280.9 519.5,1282.8 517.8,1284.4 516,1285.6 513.9,1286.5 510.2,1287.9 512.2,1287 514.1,1285.7 515.8,1284.2 517.3,1282.3 518.6,1280.1 519.7,1277.7 520.6,1275.1 521.2,1272.3 521.6,1269.3 521.7,1266.1 521.6,1262.9 521.3,1259.6 520.7,1256.3 519.8,1253 518.7,1249.7 517.5,1246.5 516,1243.4 514.3,1240.4 512.4,1237.7 510.4,1235.1 508.3,1232.8 506.1,1230.8 503.8,1229 501.4,1227.6 499,1226.4 496.7,1225.6 494.3,1225.2 492,1225.1 489.7,1225.3 487.6,1225.9" fill="#fff" stroke="#000" stroke-width="2.1" />
<ellipse cx="498.9" cy="1256.9" rx="21.1" ry="33" transform="rotate(-20 498.9 1256.9)" fill="#fff" stroke="#000" stroke-width="2.1"/>
<polygon points="482.1,1247.8 484.6,1247.4 484.6,1247.4 482.1,1247.8" fill="#fff" stroke="#000" stroke-width="2.7" stroke-linejoin="round"/>
<polygon points="501.5,1277.4 500.5,1280.4 500.5,1280.4 501.5,1277.4" fill="#fff" stroke="#000" stroke-width="2.7" stroke-linejoin="round"/>
<polygon points="490.3,1233.4 491.7,1233 491.7,1233 490.3,1233.4" fill="#fff" stroke="#000" stroke-width="2.7" stroke-linejoin="round"/>
<polygon points="508.7,1279.8 507.5,1280.4 507.5,1280.4 508.7,1279.8" fill="#fff" stroke="#000" stroke-width="2.7" stroke-linejoin="round"/>
<polygon points="491.7,1233 493.8,1236.2 493.8,1236.2 491.7,1233" fill="#fff" stroke="#000" stroke-width="2.7" stroke-linejoin="round"/>
<polygon points="509.8,1279.1 508.7,1279.8 508.7,1279.8 509.8,1279.1" fill="#fff" stroke="#000" stroke-width="2.7" stroke-linejoin="round"/>
<polygon points="493.8,1236.2 495,1236.2 495,1236.2 493.8,1236.2" fill="#fff" stroke="#000" stroke-width="2.7" stroke-linejoin="round"/>
<polygon points="510.9,1278.2 509.8,1279.1 509.8,1279.1 510.9,1278.2" fill="#fff" stroke="#000" stroke-width="2.7" stroke-linejoin="round"/>
<polygon points="495,1236.2 496.3,1236.4 496.3,1236.4 495,1236.2" fill="#fff" stroke="#000" stroke-width="2.7" stroke-linejoin="round"/>
<polygon points="511.9,1277.2 510.9,1278.2 510.9,1278.2 511.9,1277.2" fill="#fff" stroke="#000" stroke-width="2.7" stroke-linejoin="round"/>
<polygon points="512.8,1276 511.9,1277.2 511.9,1277.2 512.8,1276" fill="#fff" stroke="#000" stroke-width="2.7" stroke-linejoin="round"/>
<polygon points="513.6,1274.6 512.8,1276 512.8,1276 513.6,1274.6" fill="#fff" stroke="#000" stroke-width="2.7" stroke-linejoin="round"/>
<polygon points="497.3,1233.4 498.8,1233.9 498.8,1233.9 497.3,1233.4" fill="#fff" stroke="#000" stroke-width="2.7" stroke-linejoin="round"/>
<polygon points="498.8,1233.9 500.3,1234.6 500.3,1234.6 498.8,1233.9" fill="#fff" stroke="#000" stroke-width="2.7" stroke-linejoin="round"/>
<polygon points="514.3,1273.1 513.6,1274.6 513.6,1274.6 514.3,1273.1" fill="#fff" stroke="#000" stroke-width="2.7" stroke-linejoin="round"/>
<polygon points="512.6,1269.4 514.3,1273.1 514.3,1273.1 512.6,1269.4" fill="#fff" stroke="#000" stroke-width="2.7" stroke-linejoin="round"/>
<polygon points="513,1268 512.6,1269.4 512.6,1269.4 513,1268" fill="#fff" stroke="#000" stroke-width="2.7" stroke-linejoin="round"/>
<polygon points="500.3,1234.6 501.7,1235.5 501.7,1235.5 500.3,1234.6" fill="#fff" stroke="#000" stroke-width="2.7" stroke-linejoin="round"/>
<polygon points="513.2,1266.4 513,1268 513,1268 513.2,1266.4" fill="#fff" stroke="#000" stroke-width="2.7" stroke-linejoin="round"/>
<polygon points="501.7,1235.5 503.2,1236.5 503.2,1236.5 501.7,1235.5" fill="#fff" stroke="#000" stroke-width="2.7" stroke-linejoin="round"/>
<polygon points="503.2,1236.5 504.6,1237.7 504.6,1237.7 503.2,1236.5" fill="#fff" stroke="#000" stroke-width="2.7" stroke-linejoin="round"/>
<polygon points="504.6,1237.7 505.9,1239.1 505.9,1239.1 504.6,1237.7" fill="#fff" stroke="#000" stroke-width="2.7" stroke-linejoin="round"/>
<polygon points="508.2,1245.7 509.1,1247.3 509.1,1247.3 508.2,1245.7" fill="#fff" stroke="#000" stroke-width="2.7" stroke-linejoin="round"/>
<polygon points="509.1,1247.3 510,1248.9 510,1248.9 509.1,1247.3" fill="#fff" stroke="#000" stroke-width="2.7" stroke-linejoin="round"/>
<polygon points="505.9,1239.1 507.2,1240.6 507.2,1240.6 505.9,1239.1" fill="#fff" stroke="#000" stroke-width="2.7" stroke-linejoin="round"/>
<polygon points="515.8,1264.1 515.7,1266 515.7,1266 515.8,1264.1" fill="#fff" stroke="#000" stroke-width="2.7" stroke-linejoin="round"/>
<polygon points="508.5,1242.2 508.2,1245.7 508.2,1245.7 508.5,1242.2" fill="#fff" stroke="#000" stroke-width="2.7" stroke-linejoin="round"/>
<polygon points="507.2,1240.6 508.5,1242.2 508.5,1242.2 507.2,1240.6" fill="#fff" stroke="#000" stroke-width="2.7" stroke-linejoin="round"/>
<polygon points="515.7,1262 515.8,1264.1 515.8,1264.1 515.7,1262" fill="#fff" stroke="#000" stroke-width="2.7" stroke-linejoin="round"/>
<polygon points="510,1248.9 512.7,1249.6 512.7,1249.6 510,1248.9" fill="#fff" stroke="#000" stroke-width="2.7" stroke-linejoin="round"/>
<polygon points="515.5,1260 515.7,1262 515.7,1262 515.5,1260" fill="#fff" stroke="#000" stroke-width="2.7" stroke-linejoin="round"/>
<polygon points="515.2,1257.9 515.5,1260 515.5,1260 515.2,1257.9" fill="#fff" stroke="#000" stroke-width="2.7" stroke-linejoin="round"/>
<polygon points="514.7,1255.8 515.2,1257.9 515.2,1257.9 514.7,1255.8" fill="#fff" stroke="#000" stroke-width="2.7" stroke-linejoin="round"/>
<polygon points="514.2,1253.7 514.7,1255.8 514.7,1255.8 514.2,1253.7" fill="#fff" stroke="#000" stroke-width="2.7" stroke-linejoin="round"/>
<polygon points="513.5,1251.6 514.2,1253.7 514.2,1253.7 513.5,1251.6" fill="#fff" stroke="#000" stroke-width="2.7" stroke-linejoin="round"/>
<polygon points="512.7,1249.6 513.5,1251.6 513.5,1251.6 512.7,1249.6" fill="#fff" stroke="#000" stroke-width="2.7" stroke-linejoin="round"/>
<polygon points="513.5,1251.6 514.2,1253.7 514.7,1255.8 515.2,1257.9 515.5,1260 515.7,1262 515.8,1264.1 515.7,1266 513.2,1266.4 513,1268 512.6,1269.4 514.3,1273.1 513.6,1274.6 512.8,1276 511.9,1277.2 510.9,1278.2 509.8,1279.1 508.7,1279.8 507.5,1280.4 506.1,1280.8 504,1277.6 502.8,1277.6 501.5,1277.4 500.5,1280.4 499,1279.9 497.5,1279.2 496.1,1278.3 494.6,1277.3 493.2,1276.1 491.9,1274.7 490.6,1273.2 489.3,1271.6 489.6,1268.1 488.7,1266.5 487.8,1264.9 485.1,1264.2 484.3,1262.2 483.6,1260.1 483.1,1258 482.6,1255.9 482.3,1253.8 482.1,1251.8 482,1249.7 482.1,1247.8 484.6,1247.4 484.8,1245.8 485.2,1244.4 483.5,1240.7 484.2,1239.2 485,1237.8 485.9,1236.6 486.9,1235.6 488,1234.7 489.1,1234 490.3,1233.4 491.7,1233 493.8,1236.2 495,1236.2 496.3,1236.4 497.3,1233.4 498.8,1233.9 500.3,1234.6 501.7,1235.5 503.2,1236.5 504.6,1237.7 505.9,1239.1 507.2,1240.6 508.5,1242.2 508.2,1245.7 509.1,1247.3 510,1248.9 512.7,1249.6" fill="#fff" stroke="#000" stroke-width="3" stroke-linejoin="round"/>
<text transform="translate(486.7,1166.1) scale(0.9,1)" text-anchor="middle" font-size="26.5" stroke="#000" stroke-width="0.45">28</text>
<line x1="488.9" y1="1167.6" x2="488.9" y2="1225" stroke="#000" stroke-width="1.8"/>
<polygon points="394.5,1313.7 390.6,1315.6 418.8,1305.4 422.7,1303.4" fill="#fff" stroke="#000" stroke-width="1.8" stroke-linejoin="round"/>
<polygon points="378,1281.1 382.3,1280.1 410.4,1269.8 406.2,1270.8" fill="#fff" stroke="#000" stroke-width="1.8" stroke-linejoin="round"/>
<polygon points="402.6,1323.9 399.7,1327.7 427.9,1317.5 430.8,1313.7" fill="#fff" stroke="#000" stroke-width="1.8" stroke-linejoin="round"/>
<polygon points="377.2,1266 381.9,1267 410.1,1256.7 405.4,1255.7" fill="#fff" stroke="#000" stroke-width="1.8" stroke-linejoin="round"/>
<polygon points="411.8,1331.2 410,1336.5 438.2,1326.2 440,1321" fill="#fff" stroke="#000" stroke-width="1.8" stroke-linejoin="round"/>
<polygon points="379.4,1252.6 384.2,1255.5 412.4,1245.3 407.6,1242.4" fill="#fff" stroke="#000" stroke-width="1.8" stroke-linejoin="round"/>
<polygon points="421.1,1335 420.7,1341.3 448.9,1331.1 449.3,1324.7" fill="#fff" stroke="#000" stroke-width="1.8" stroke-linejoin="round"/>
<polygon points="384.5,1242.1 389,1246.6 417.2,1236.4 412.7,1231.8" fill="#fff" stroke="#000" stroke-width="1.8" stroke-linejoin="round"/>
<polygon points="392.1,1235.2 395.9,1241 424.1,1230.8 420.3,1224.9" fill="#fff" stroke="#000" stroke-width="1.8" stroke-linejoin="round"/>
<polygon points="430,1334.8 430.9,1341.8 459.1,1331.5 458.2,1324.6" fill="#fff" stroke="#000" stroke-width="1.8" stroke-linejoin="round"/>
<polygon points="397.6,1240.3 399.4,1239.8 427.6,1229.5 425.8,1230" fill="#fff" stroke="#000" stroke-width="1.8" stroke-linejoin="round"/>
<polygon points="433.5,1333.5 431.8,1334.3 460,1324 461.7,1323.3" fill="#fff" stroke="#000" stroke-width="1.8" stroke-linejoin="round"/>
<polygon points="439.8,1337.8 437.3,1339.4 465.5,1329.2 468,1327.5" fill="#fff" stroke="#000" stroke-width="1.8" stroke-linejoin="round"/>
<polygon points="398.5,1232.8 401.5,1232.5 429.7,1222.2 426.7,1222.6" fill="#fff" stroke="#000" stroke-width="1.8" stroke-linejoin="round"/>
<polygon points="437.6,1330.8 439.8,1337.8 468,1327.5 465.8,1320.6" fill="#fff" stroke="#000" stroke-width="1.8" stroke-linejoin="round"/>
<polygon points="401.5,1232.5 404.2,1239.2 432.4,1228.9 429.7,1222.2" fill="#fff" stroke="#000" stroke-width="1.8" stroke-linejoin="round"/>
<polygon points="439,1329.5 437.6,1330.8 465.8,1320.6 467.2,1319.2" fill="#fff" stroke="#000" stroke-width="1.8" stroke-linejoin="round"/>
<polygon points="404.2,1239.2 406.2,1239.3 434.4,1229.1 432.4,1228.9" fill="#fff" stroke="#000" stroke-width="1.8" stroke-linejoin="round"/>
<polygon points="440.4,1327.9 439,1329.5 467.2,1319.2 468.6,1317.7" fill="#fff" stroke="#000" stroke-width="1.8" stroke-linejoin="round"/>
<polygon points="406.2,1239.3 408.3,1239.6 436.4,1229.4 434.4,1229.1" fill="#fff" stroke="#000" stroke-width="1.8" stroke-linejoin="round"/>
<polygon points="446.7,1329.7 444.8,1332.5 473,1322.3 474.8,1319.4" fill="#fff" stroke="#000" stroke-width="1.8" stroke-linejoin="round"/>
<polygon points="408.7,1233.3 411.9,1234.3 440.1,1224 436.9,1223" fill="#fff" stroke="#000" stroke-width="1.8" stroke-linejoin="round"/>
<polygon points="411.9,1234.3 413.5,1241.3 441.7,1231 440.1,1224" fill="#fff" stroke="#000" stroke-width="1.8" stroke-linejoin="round"/>
<polygon points="443.4,1323.3 446.7,1329.7 474.8,1319.4 471.5,1313.1" fill="#fff" stroke="#000" stroke-width="1.8" stroke-linejoin="round"/>
<polygon points="444.3,1321.3 443.4,1323.3 471.5,1313.1 472.5,1311" fill="#fff" stroke="#000" stroke-width="1.8" stroke-linejoin="round"/>
<polygon points="413.5,1241.3 415.6,1242.2 443.7,1232 441.7,1231" fill="#fff" stroke="#000" stroke-width="1.8" stroke-linejoin="round"/>
<polygon points="445.2,1319.1 444.3,1321.3 472.5,1311 473.4,1308.8" fill="#fff" stroke="#000" stroke-width="1.8" stroke-linejoin="round"/>
<polygon points="415.6,1242.2 417.6,1243.4 445.8,1233.1 443.7,1232" fill="#fff" stroke="#000" stroke-width="1.8" stroke-linejoin="round"/>
<polygon points="422.8,1247 424.8,1248.8 453,1238.5 451,1236.8" fill="#fff" stroke="#000" stroke-width="1.8" stroke-linejoin="round"/>
<polygon points="447.2,1310.3 446.8,1312.9 475,1302.6 475.4,1300" fill="#fff" stroke="#000" stroke-width="1.8" stroke-linejoin="round"/>
<polygon points="419.4,1238.1 422.6,1240.3 450.8,1230.1 447.6,1227.8" fill="#fff" stroke="#000" stroke-width="1.8" stroke-linejoin="round"/>
<polygon points="450.9,1318.2 450,1322 478.1,1311.7 479.1,1307.9" fill="#fff" stroke="#000" stroke-width="1.8" stroke-linejoin="round"/>
<polygon points="422.6,1240.3 422.8,1247 451,1236.8 450.8,1230.1" fill="#fff" stroke="#000" stroke-width="1.8" stroke-linejoin="round"/>
<polygon points="446.8,1312.9 450.9,1318.2 479.1,1307.9 475,1302.6" fill="#fff" stroke="#000" stroke-width="1.8" stroke-linejoin="round"/>
<polygon points="424.8,1248.8 426.8,1250.7 454.9,1240.4 453,1238.5" fill="#fff" stroke="#000" stroke-width="1.8" stroke-linejoin="round"/>
<polygon points="447.5,1307.6 447.2,1310.3 475.4,1300 475.7,1297.3" fill="#fff" stroke="#000" stroke-width="1.8" stroke-linejoin="round"/>
<polygon points="447.4,1297.5 447.6,1300.4 475.8,1290.1 475.6,1287.2" fill="#fff" stroke="#000" stroke-width="1.8" stroke-linejoin="round"/>
<polygon points="431.5,1256.1 433.2,1258.4 461.4,1248.2 459.7,1245.8" fill="#fff" stroke="#000" stroke-width="1.8" stroke-linejoin="round"/>
<polygon points="433.2,1258.4 434.9,1260.9 463.1,1250.7 461.4,1248.2" fill="#fff" stroke="#000" stroke-width="1.8" stroke-linejoin="round"/>
<polygon points="447.1,1294.5 447.4,1297.5 475.6,1287.2 475.3,1284.2" fill="#fff" stroke="#000" stroke-width="1.8" stroke-linejoin="round"/>
<polygon points="432.6,1250.2 431.5,1256.1 459.7,1245.8 460.8,1239.9" fill="#fff" stroke="#000" stroke-width="1.8" stroke-linejoin="round"/>
<polygon points="447.6,1300.4 452.3,1304.2 480.5,1293.9 475.8,1290.1" fill="#fff" stroke="#000" stroke-width="1.8" stroke-linejoin="round"/>
<polygon points="429.7,1246.9 432.6,1250.2 460.8,1239.9 457.9,1236.6" fill="#fff" stroke="#000" stroke-width="1.8" stroke-linejoin="round"/>
<polygon points="452.3,1304.2 452.2,1308.6 480.4,1298.3 480.5,1293.9" fill="#fff" stroke="#000" stroke-width="1.8" stroke-linejoin="round"/>
<polygon points="438.8,1267.7 440.2,1270.4 468.4,1260.2 467,1257.4" fill="#fff" stroke="#000" stroke-width="1.8" stroke-linejoin="round"/>
<polygon points="445,1283.8 445.8,1286.8 474,1276.6 473.2,1273.6" fill="#fff" stroke="#000" stroke-width="1.8" stroke-linejoin="round"/>
<polygon points="444.2,1280.8 445,1283.8 473.2,1273.6 472.4,1270.6" fill="#fff" stroke="#000" stroke-width="1.8" stroke-linejoin="round"/>
<polygon points="440.2,1270.4 441.4,1273.3 469.6,1263 468.4,1260.2" fill="#fff" stroke="#000" stroke-width="1.8" stroke-linejoin="round"/>
<polygon points="441.2,1263.1 438.8,1267.7 467,1257.4 469.4,1252.8" fill="#fff" stroke="#000" stroke-width="1.8" stroke-linejoin="round"/>
<polygon points="445.8,1286.8 450.6,1288.8 478.8,1278.6 474,1276.6" fill="#fff" stroke="#000" stroke-width="1.8" stroke-linejoin="round"/>
<polygon points="441.4,1273.3 446,1273.3 474.2,1263 469.6,1263" fill="#fff" stroke="#000" stroke-width="1.8" stroke-linejoin="round"/>
<polygon points="447.6,1277.9 444.2,1280.8 472.4,1270.6 475.8,1267.6" fill="#fff" stroke="#000" stroke-width="1.8" stroke-linejoin="round"/>
<polygon points="438.8,1258.9 441.2,1263.1 469.4,1252.8 467,1248.7" fill="#fff" stroke="#000" stroke-width="1.8" stroke-linejoin="round"/>
<polygon points="450.6,1288.8 451.4,1293.5 479.6,1283.2 478.8,1278.6" fill="#fff" stroke="#000" stroke-width="1.8" stroke-linejoin="round"/>
<polygon points="446,1273.3 447.6,1277.9 475.8,1267.6 474.2,1263" fill="#fff" stroke="#000" stroke-width="1.8" stroke-linejoin="round"/>
<polygon points="441.4,1273.3 446,1273.3 447.6,1277.9 444.2,1280.8 445,1283.8 445.8,1286.8 450.6,1288.8 451.4,1293.5 447.1,1294.5 447.4,1297.5 447.6,1300.4 452.3,1304.2 452.2,1308.6 447.5,1307.6 447.2,1310.3 446.8,1312.9 450.9,1318.2 450,1322 445.2,1319.1 444.3,1321.3 443.4,1323.3 446.7,1329.7 444.8,1332.5 440.4,1327.9 439,1329.5 437.6,1330.8 439.8,1337.8 437.3,1339.4 433.5,1333.5 431.8,1334.3 430,1334.8 430.9,1341.8 427.9,1342.1 425.1,1335.4 423.2,1335.3 421.1,1335 420.7,1341.3 417.5,1340.3 415.9,1333.3 413.8,1332.4 411.8,1331.2 410,1336.5 406.8,1334.3 406.6,1327.5 404.6,1325.8 402.6,1323.9 399.7,1327.7 396.8,1324.4 397.9,1318.5 396.2,1316.1 394.5,1313.7 390.6,1315.6 388.2,1311.5 390.6,1306.9 389.2,1304.1 388,1301.3 383.4,1301.3 381.8,1296.7 385.2,1293.8 384.4,1290.8 383.6,1287.7 378.8,1285.8 378,1281.1 382.3,1280.1 382,1277.1 381.8,1274.2 377.1,1270.4 377.2,1266 381.9,1267 382.2,1264.3 382.6,1261.7 378.5,1256.4 379.4,1252.6 384.2,1255.5 385.1,1253.3 386,1251.2 382.7,1244.9 384.5,1242.1 389,1246.6 390.3,1245.1 391.8,1243.7 389.6,1236.8 392.1,1235.2 395.9,1241 397.6,1240.3 399.4,1239.8 398.5,1232.8 401.5,1232.5 404.2,1239.2 406.2,1239.3 408.3,1239.6 408.7,1233.3 411.9,1234.3 413.5,1241.3 415.6,1242.2 417.6,1243.4 419.4,1238.1 422.6,1240.3 422.8,1247 424.8,1248.8 426.8,1250.7 429.7,1246.9 432.6,1250.2 431.5,1256.1 433.2,1258.4 434.9,1260.9 438.8,1258.9 441.2,1263.1 438.8,1267.7 440.2,1270.4" fill="#fff" stroke="#000" stroke-width="2" stroke-linejoin="round"/>
<polygon points="391.6,1238.5 396.3,1236.8 399.7,1235.9 403.1,1235.6 406.7,1235.8 410.4,1236.6 414.2,1238 417.9,1239.9 421.6,1242.3 425.3,1245.2 428.8,1248.6 432.2,1252.4 435.3,1256.5 438.3,1261 441,1265.8 443.4,1270.9 445.5,1276.1 447.2,1281.4 448.6,1286.8 449.6,1292.2 450.3,1297.6 450.5,1302.8 450.4,1307.9 449.9,1312.7 448.9,1317.3 447.7,1321.5 446,1325.4 444,1328.8 441.7,1331.8 439.1,1334.3 436.2,1336.3 433.1,1337.8 428.4,1339.5 431.5,1338 434.4,1336 437,1333.5 439.3,1330.5 441.3,1327.1 443,1323.2 444.2,1319 445.2,1314.4 445.7,1309.6 445.8,1304.5 445.6,1299.3 445,1293.9 443.9,1288.5 442.5,1283.1 440.8,1277.8 438.7,1272.6 436.3,1267.5 433.6,1262.8 430.6,1258.2 427.5,1254.1 424.1,1250.3 420.6,1246.9 416.9,1244 413.2,1241.6 409.5,1239.7 405.7,1238.3 402,1237.5 398.4,1237.3 395,1237.6 391.6,1238.5" fill="#fff" stroke="#000" stroke-width="2.1" />
<ellipse cx="410" cy="1289" rx="32.8" ry="53.7" transform="rotate(-20 410 1289)" fill="#fff" stroke="#000" stroke-width="2.1"/>
<ellipse cx="410" cy="1289" rx="31.4" ry="51.5" transform="rotate(-20 410 1289)" fill="none" stroke="#000" stroke-width="1.1"/>
<ellipse cx="408.7" cy="1287" rx="14.9" ry="24" transform="rotate(-20 408.7 1287)" fill="#fff" stroke="#000" stroke-width="1.9"/>
<clipPath id="c12"><ellipse cx="408.7" cy="1287" rx="14.9" ry="24" transform="rotate(-20 408.7 1287)"/></clipPath>
<g clip-path="url(#c12)">
<ellipse cx="429.4" cy="1279.5" rx="14.9" ry="24" transform="rotate(-20 429.4 1279.5)" fill="none" stroke="#000" stroke-width="1.6"/>
</g>
<text transform="translate(407.1,1166.1) scale(0.9,1)" text-anchor="middle" font-size="26.5" stroke="#000" stroke-width="0.45">21</text>
<line x1="407" y1="1168.7" x2="407" y2="1222.8" stroke="#000" stroke-width="1.8"/>
<polygon points="340.1,1277.9 343.9,1276.5 346,1275.9 348.2,1275.7 350.6,1275.8 352.9,1276.3 355.3,1277.1 357.7,1278.2 360.1,1279.7 362.4,1281.4 364.6,1283.5 366.7,1285.8 368.7,1288.3 370.5,1291.1 372.2,1294 373.7,1297.1 375,1300.3 376.1,1303.6 376.9,1306.9 377.5,1310.2 377.9,1313.5 378,1316.8 377.8,1319.9 377.5,1322.9 376.8,1325.7 376,1328.4 374.9,1330.8 373.5,1332.9 372,1334.8 370.3,1336.4 368.5,1337.6 366.4,1338.5 362.7,1339.9 364.7,1339 366.6,1337.7 368.3,1336.2 369.8,1334.3 371.1,1332.1 372.2,1329.7 373.1,1327.1 373.7,1324.3 374.1,1321.3 374.2,1318.1 374.1,1314.9 373.8,1311.6 373.2,1308.3 372.3,1305 371.2,1301.7 370,1298.5 368.5,1295.4 366.8,1292.4 364.9,1289.7 362.9,1287.1 360.8,1284.8 358.6,1282.8 356.3,1281 353.9,1279.6 351.5,1278.4 349.2,1277.6 346.8,1277.2 344.5,1277.1 342.2,1277.3 340.1,1277.9" fill="#fff" stroke="#000" stroke-width="2.1" />
<ellipse cx="351.4" cy="1308.9" rx="21.1" ry="33" transform="rotate(-20 351.4 1308.9)" fill="#fff" stroke="#000" stroke-width="2.1"/>
<polygon points="334.6,1299.8 337.1,1299.4 337.1,1299.4 334.6,1299.8" fill="#fff" stroke="#000" stroke-width="2.7" stroke-linejoin="round"/>
<polygon points="354,1329.4 353,1332.4 353,1332.4 354,1329.4" fill="#fff" stroke="#000" stroke-width="2.7" stroke-linejoin="round"/>
<polygon points="342.8,1285.4 344.2,1285 344.2,1285 342.8,1285.4" fill="#fff" stroke="#000" stroke-width="2.7" stroke-linejoin="round"/>
<polygon points="361.2,1331.8 360,1332.4 360,1332.4 361.2,1331.8" fill="#fff" stroke="#000" stroke-width="2.7" stroke-linejoin="round"/>
<polygon points="344.2,1285 346.3,1288.2 346.3,1288.2 344.2,1285" fill="#fff" stroke="#000" stroke-width="2.7" stroke-linejoin="round"/>
<polygon points="362.3,1331.1 361.2,1331.8 361.2,1331.8 362.3,1331.1" fill="#fff" stroke="#000" stroke-width="2.7" stroke-linejoin="round"/>
<polygon points="346.3,1288.2 347.5,1288.2 347.5,1288.2 346.3,1288.2" fill="#fff" stroke="#000" stroke-width="2.7" stroke-linejoin="round"/>
<polygon points="363.4,1330.2 362.3,1331.1 362.3,1331.1 363.4,1330.2" fill="#fff" stroke="#000" stroke-width="2.7" stroke-linejoin="round"/>
<polygon points="347.5,1288.2 348.8,1288.4 348.8,1288.4 347.5,1288.2" fill="#fff" stroke="#000" stroke-width="2.7" stroke-linejoin="round"/>
<polygon points="364.4,1329.2 363.4,1330.2 363.4,1330.2 364.4,1329.2" fill="#fff" stroke="#000" stroke-width="2.7" stroke-linejoin="round"/>
<polygon points="365.3,1328 364.4,1329.2 364.4,1329.2 365.3,1328" fill="#fff" stroke="#000" stroke-width="2.7" stroke-linejoin="round"/>
<polygon points="366.1,1326.6 365.3,1328 365.3,1328 366.1,1326.6" fill="#fff" stroke="#000" stroke-width="2.7" stroke-linejoin="round"/>
<polygon points="349.8,1285.4 351.3,1285.9 351.3,1285.9 349.8,1285.4" fill="#fff" stroke="#000" stroke-width="2.7" stroke-linejoin="round"/>
<polygon points="351.3,1285.9 352.8,1286.6 352.8,1286.6 351.3,1285.9" fill="#fff" stroke="#000" stroke-width="2.7" stroke-linejoin="round"/>
<polygon points="366.8,1325.1 366.1,1326.6 366.1,1326.6 366.8,1325.1" fill="#fff" stroke="#000" stroke-width="2.7" stroke-linejoin="round"/>
<polygon points="365.1,1321.4 366.8,1325.1 366.8,1325.1 365.1,1321.4" fill="#fff" stroke="#000" stroke-width="2.7" stroke-linejoin="round"/>
<polygon points="365.5,1320 365.1,1321.4 365.1,1321.4 365.5,1320" fill="#fff" stroke="#000" stroke-width="2.7" stroke-linejoin="round"/>
<polygon points="352.8,1286.6 354.2,1287.5 354.2,1287.5 352.8,1286.6" fill="#fff" stroke="#000" stroke-width="2.7" stroke-linejoin="round"/>
<polygon points="365.7,1318.4 365.5,1320 365.5,1320 365.7,1318.4" fill="#fff" stroke="#000" stroke-width="2.7" stroke-linejoin="round"/>
<polygon points="354.2,1287.5 355.7,1288.5 355.7,1288.5 354.2,1287.5" fill="#fff" stroke="#000" stroke-width="2.7" stroke-linejoin="round"/>
<polygon points="355.7,1288.5 357.1,1289.7 357.1,1289.7 355.7,1288.5" fill="#fff" stroke="#000" stroke-width="2.7" stroke-linejoin="round"/>
<polygon points="357.1,1289.7 358.4,1291.1 358.4,1291.1 357.1,1289.7" fill="#fff" stroke="#000" stroke-width="2.7" stroke-linejoin="round"/>
<polygon points="360.7,1297.7 361.6,1299.3 361.6,1299.3 360.7,1297.7" fill="#fff" stroke="#000" stroke-width="2.7" stroke-linejoin="round"/>
<polygon points="361.6,1299.3 362.5,1300.9 362.5,1300.9 361.6,1299.3" fill="#fff" stroke="#000" stroke-width="2.7" stroke-linejoin="round"/>
<polygon points="358.4,1291.1 359.7,1292.6 359.7,1292.6 358.4,1291.1" fill="#fff" stroke="#000" stroke-width="2.7" stroke-linejoin="round"/>
<polygon points="368.3,1316.1 368.2,1318 368.2,1318 368.3,1316.1" fill="#fff" stroke="#000" stroke-width="2.7" stroke-linejoin="round"/>
<polygon points="361,1294.2 360.7,1297.7 360.7,1297.7 361,1294.2" fill="#fff" stroke="#000" stroke-width="2.7" stroke-linejoin="round"/>
<polygon points="359.7,1292.6 361,1294.2 361,1294.2 359.7,1292.6" fill="#fff" stroke="#000" stroke-width="2.7" stroke-linejoin="round"/>
<polygon points="368.2,1314 368.3,1316.1 368.3,1316.1 368.2,1314" fill="#fff" stroke="#000" stroke-width="2.7" stroke-linejoin="round"/>
<polygon points="362.5,1300.9 365.2,1301.6 365.2,1301.6 362.5,1300.9" fill="#fff" stroke="#000" stroke-width="2.7" stroke-linejoin="round"/>
<polygon points="368,1312 368.2,1314 368.2,1314 368,1312" fill="#fff" stroke="#000" stroke-width="2.7" stroke-linejoin="round"/>
<polygon points="367.7,1309.9 368,1312 368,1312 367.7,1309.9" fill="#fff" stroke="#000" stroke-width="2.7" stroke-linejoin="round"/>
<polygon points="367.2,1307.8 367.7,1309.9 367.7,1309.9 367.2,1307.8" fill="#fff" stroke="#000" stroke-width="2.7" stroke-linejoin="round"/>
<polygon points="366.7,1305.7 367.2,1307.8 367.2,1307.8 366.7,1305.7" fill="#fff" stroke="#000" stroke-width="2.7" stroke-linejoin="round"/>
<polygon points="366,1303.6 366.7,1305.7 366.7,1305.7 366,1303.6" fill="#fff" stroke="#000" stroke-width="2.7" stroke-linejoin="round"/>
<polygon points="365.2,1301.6 366,1303.6 366,1303.6 365.2,1301.6" fill="#fff" stroke="#000" stroke-width="2.7" stroke-linejoin="round"/>
<polygon points="366,1303.6 366.7,1305.7 367.2,1307.8 367.7,1309.9 368,1312 368.2,1314 368.3,1316.1 368.2,1318 365.7,1318.4 365.5,1320 365.1,1321.4 366.8,1325.1 366.1,1326.6 365.3,1328 364.4,1329.2 363.4,1330.2 362.3,1331.1 361.2,1331.8 360,1332.4 358.6,1332.8 356.5,1329.6 355.3,1329.6 354,1329.4 353,1332.4 351.5,1331.9 350,1331.2 348.6,1330.3 347.1,1329.3 345.7,1328.1 344.4,1326.7 343.1,1325.2 341.8,1323.6 342.1,1320.1 341.2,1318.5 340.3,1316.9 337.6,1316.2 336.8,1314.2 336.1,1312.1 335.6,1310 335.1,1307.9 334.8,1305.8 334.6,1303.8 334.5,1301.7 334.6,1299.8 337.1,1299.4 337.3,1297.8 337.7,1296.4 336,1292.7 336.7,1291.2 337.5,1289.8 338.4,1288.6 339.4,1287.6 340.5,1286.7 341.6,1286 342.8,1285.4 344.2,1285 346.3,1288.2 347.5,1288.2 348.8,1288.4 349.8,1285.4 351.3,1285.9 352.8,1286.6 354.2,1287.5 355.7,1288.5 357.1,1289.7 358.4,1291.1 359.7,1292.6 361,1294.2 360.7,1297.7 361.6,1299.3 362.5,1300.9 365.2,1301.6" fill="#fff" stroke="#000" stroke-width="3" stroke-linejoin="round"/>
<text transform="translate(340.7,1225.6) scale(0.9,1)" text-anchor="middle" font-size="26.5" stroke="#000" stroke-width="0.45">28</text>
<line x1="340.6" y1="1229" x2="340.6" y2="1277" stroke="#000" stroke-width="1.8"/>
<polygon points="237.5,1365.7 233.2,1367.6 248,1362.3 252.2,1360.4" fill="#fff" stroke="#000" stroke-width="1.8" stroke-linejoin="round"/>
<polygon points="221.2,1334.6 225.7,1333.4 240.4,1328 236,1329.3" fill="#fff" stroke="#000" stroke-width="1.8" stroke-linejoin="round"/>
<polygon points="244.9,1376.3 241.5,1379.9 256.2,1374.5 259.7,1370.9" fill="#fff" stroke="#000" stroke-width="1.8" stroke-linejoin="round"/>
<polygon points="219.7,1319.9 224.6,1320.4 239.4,1315.1 234.4,1314.6" fill="#fff" stroke="#000" stroke-width="1.8" stroke-linejoin="round"/>
<polygon points="253.4,1384.7 251,1389.7 265.7,1384.3 268.2,1379.3" fill="#fff" stroke="#000" stroke-width="1.8" stroke-linejoin="round"/>
<polygon points="220.6,1306.3 225.7,1308.6 240.5,1303.2 235.4,1300.9" fill="#fff" stroke="#000" stroke-width="1.8" stroke-linejoin="round"/>
<polygon points="262.4,1390.4 261.1,1396.6 275.9,1391.2 277.2,1385" fill="#fff" stroke="#000" stroke-width="1.8" stroke-linejoin="round"/>
<polygon points="224,1294.5 229,1298.4 243.7,1293.1 238.8,1289.2" fill="#fff" stroke="#000" stroke-width="1.8" stroke-linejoin="round"/>
<polygon points="229.6,1285.3 234.1,1290.6 248.9,1285.2 244.3,1279.9" fill="#fff" stroke="#000" stroke-width="1.8" stroke-linejoin="round"/>
<polygon points="271.4,1393 271.3,1400 286.1,1394.7 286.2,1387.7" fill="#fff" stroke="#000" stroke-width="1.8" stroke-linejoin="round"/>
<polygon points="279.9,1392.5 281,1399.9 295.8,1394.6 294.6,1387.2" fill="#fff" stroke="#000" stroke-width="1.8" stroke-linejoin="round"/>
<polygon points="237.1,1279.2 240.9,1285.6 255.7,1280.2 251.8,1273.8" fill="#fff" stroke="#000" stroke-width="1.8" stroke-linejoin="round"/>
<polygon points="242.7,1284.8 244.5,1284.3 259.3,1278.9 257.5,1279.5" fill="#fff" stroke="#000" stroke-width="1.8" stroke-linejoin="round"/>
<polygon points="283.5,1391.2 281.7,1392 296.4,1386.6 298.2,1385.9" fill="#fff" stroke="#000" stroke-width="1.8" stroke-linejoin="round"/>
<polygon points="243.4,1276.9 246,1276.5 260.8,1271.1 258.1,1271.5" fill="#fff" stroke="#000" stroke-width="1.8" stroke-linejoin="round"/>
<polygon points="289.6,1396.2 287.3,1397.6 302.1,1392.3 304.4,1390.9" fill="#fff" stroke="#000" stroke-width="1.8" stroke-linejoin="round"/>
<polygon points="246,1276.5 249,1283.6 263.7,1278.2 260.8,1271.1" fill="#fff" stroke="#000" stroke-width="1.8" stroke-linejoin="round"/>
<polygon points="287.3,1388.9 289.6,1396.2 304.4,1390.9 302.1,1383.5" fill="#fff" stroke="#000" stroke-width="1.8" stroke-linejoin="round"/>
<polygon points="249,1283.6 251,1283.6 265.7,1278.2 263.7,1278.2" fill="#fff" stroke="#000" stroke-width="1.8" stroke-linejoin="round"/>
<polygon points="288.8,1387.6 287.3,1388.9 302.1,1383.5 303.6,1382.2" fill="#fff" stroke="#000" stroke-width="1.8" stroke-linejoin="round"/>
<polygon points="251,1283.6 253,1283.8 267.7,1278.4 265.7,1278.2" fill="#fff" stroke="#000" stroke-width="1.8" stroke-linejoin="round"/>
<polygon points="290.3,1386.2 288.8,1387.6 303.6,1382.2 305,1380.8" fill="#fff" stroke="#000" stroke-width="1.8" stroke-linejoin="round"/>
<polygon points="253.1,1276.8 255.9,1277.4 270.6,1272 267.8,1271.4" fill="#fff" stroke="#000" stroke-width="1.8" stroke-linejoin="round"/>
<polygon points="296.6,1389.2 294.8,1391.5 309.6,1386.1 311.3,1383.8" fill="#fff" stroke="#000" stroke-width="1.8" stroke-linejoin="round"/>
<polygon points="293.3,1382.3 296.6,1389.2 311.3,1383.8 308,1376.9" fill="#fff" stroke="#000" stroke-width="1.8" stroke-linejoin="round"/>
<polygon points="255.9,1277.4 257.8,1284.8 272.5,1279.4 270.6,1272" fill="#fff" stroke="#000" stroke-width="1.8" stroke-linejoin="round"/>
<polygon points="294.4,1380.4 293.3,1382.3 308,1376.9 309.2,1375" fill="#fff" stroke="#000" stroke-width="1.8" stroke-linejoin="round"/>
<polygon points="257.8,1284.8 259.9,1285.5 274.6,1280.2 272.5,1279.4" fill="#fff" stroke="#000" stroke-width="1.8" stroke-linejoin="round"/>
<polygon points="295.4,1378.4 294.4,1380.4 309.2,1375 310.2,1373" fill="#fff" stroke="#000" stroke-width="1.8" stroke-linejoin="round"/>
<polygon points="259.9,1285.5 262,1286.4 276.7,1281.1 274.6,1280.2" fill="#fff" stroke="#000" stroke-width="1.8" stroke-linejoin="round"/>
<polygon points="298.1,1370.7 297.4,1373.1 312.2,1367.8 312.9,1365.4" fill="#fff" stroke="#000" stroke-width="1.8" stroke-linejoin="round"/>
<polygon points="266.9,1289.1 268.9,1290.6 283.7,1285.2 281.6,1283.8" fill="#fff" stroke="#000" stroke-width="1.8" stroke-linejoin="round"/>
<polygon points="301.6,1379.2 300.4,1382.3 315.2,1376.9 316.3,1373.8" fill="#fff" stroke="#000" stroke-width="1.8" stroke-linejoin="round"/>
<polygon points="263.3,1280.2 266.1,1281.8 280.9,1276.5 278,1274.9" fill="#fff" stroke="#000" stroke-width="1.8" stroke-linejoin="round"/>
<polygon points="297.4,1373.1 301.6,1379.2 316.3,1373.8 312.2,1367.8" fill="#fff" stroke="#000" stroke-width="1.8" stroke-linejoin="round"/>
<polygon points="266.1,1281.8 266.9,1289.1 281.6,1283.8 280.9,1276.5" fill="#fff" stroke="#000" stroke-width="1.8" stroke-linejoin="round"/>
<polygon points="268.9,1290.6 271,1292.1 285.7,1286.7 283.7,1285.2" fill="#fff" stroke="#000" stroke-width="1.8" stroke-linejoin="round"/>
<polygon points="298.7,1368.2 298.1,1370.7 312.9,1365.4 313.4,1362.9" fill="#fff" stroke="#000" stroke-width="1.8" stroke-linejoin="round"/>
<polygon points="299.7,1359.2 299.5,1362 314.3,1356.6 314.5,1353.8" fill="#fff" stroke="#000" stroke-width="1.8" stroke-linejoin="round"/>
<polygon points="275.6,1296.3 277.6,1298.3 292.3,1293 290.4,1291" fill="#fff" stroke="#000" stroke-width="1.8" stroke-linejoin="round"/>
<polygon points="276.2,1289.6 275.6,1296.3 290.4,1291 290.9,1284.2" fill="#fff" stroke="#000" stroke-width="1.8" stroke-linejoin="round"/>
<polygon points="299.5,1362 304.3,1366.8 319,1361.5 314.3,1356.6" fill="#fff" stroke="#000" stroke-width="1.8" stroke-linejoin="round"/>
<polygon points="299.8,1356.4 299.7,1359.2 314.5,1353.8 314.5,1351" fill="#fff" stroke="#000" stroke-width="1.8" stroke-linejoin="round"/>
<polygon points="277.6,1298.3 279.5,1300.5 294.2,1295.1 292.3,1293" fill="#fff" stroke="#000" stroke-width="1.8" stroke-linejoin="round"/>
<polygon points="273.4,1287.1 276.2,1289.6 290.9,1284.2 288.2,1281.7" fill="#fff" stroke="#000" stroke-width="1.8" stroke-linejoin="round"/>
<polygon points="304.3,1366.8 303.8,1370.5 318.5,1365.1 319,1361.5" fill="#fff" stroke="#000" stroke-width="1.8" stroke-linejoin="round"/>
<polygon points="299.2,1346.5 299.5,1349.5 314.2,1344.1 313.9,1341.1" fill="#fff" stroke="#000" stroke-width="1.8" stroke-linejoin="round"/>
<polygon points="283.7,1306 285.3,1308.5 300.1,1303.1 298.4,1300.6" fill="#fff" stroke="#000" stroke-width="1.8" stroke-linejoin="round"/>
<polygon points="298.7,1343.4 299.2,1346.5 313.9,1341.1 313.5,1338.1" fill="#fff" stroke="#000" stroke-width="1.8" stroke-linejoin="round"/>
<polygon points="285.3,1308.5 286.9,1311.1 301.7,1305.7 300.1,1303.1" fill="#fff" stroke="#000" stroke-width="1.8" stroke-linejoin="round"/>
<polygon points="285.4,1300.1 283.7,1306 298.4,1300.6 300.1,1294.8" fill="#fff" stroke="#000" stroke-width="1.8" stroke-linejoin="round"/>
<polygon points="299.5,1349.5 304.5,1352.8 319.3,1347.4 314.2,1344.1" fill="#fff" stroke="#000" stroke-width="1.8" stroke-linejoin="round"/>
<polygon points="296.5,1333.2 297.3,1336.3 312,1330.9 311.2,1327.9" fill="#fff" stroke="#000" stroke-width="1.8" stroke-linejoin="round"/>
<polygon points="290.4,1317.5 291.8,1320.3 306.5,1315 305.2,1312.1" fill="#fff" stroke="#000" stroke-width="1.8" stroke-linejoin="round"/>
<polygon points="295.5,1330.2 296.5,1333.2 311.2,1327.9 310.3,1324.9" fill="#fff" stroke="#000" stroke-width="1.8" stroke-linejoin="round"/>
<polygon points="291.8,1320.3 293,1323.2 307.8,1317.9 306.5,1315" fill="#fff" stroke="#000" stroke-width="1.8" stroke-linejoin="round"/>
<polygon points="304.5,1352.8 304.7,1356.9 319.5,1351.5 319.3,1347.4" fill="#fff" stroke="#000" stroke-width="1.8" stroke-linejoin="round"/>
<polygon points="282.9,1296.9 285.4,1300.1 300.1,1294.8 297.7,1291.6" fill="#fff" stroke="#000" stroke-width="1.8" stroke-linejoin="round"/>
<polygon points="297.3,1336.3 302.3,1338 317.1,1332.6 312,1330.9" fill="#fff" stroke="#000" stroke-width="1.8" stroke-linejoin="round"/>
<polygon points="293.2,1312.9 290.4,1317.5 305.2,1312.1 308,1307.6" fill="#fff" stroke="#000" stroke-width="1.8" stroke-linejoin="round"/>
<polygon points="293,1323.2 297.8,1323.1 312.6,1317.8 307.8,1317.9" fill="#fff" stroke="#000" stroke-width="1.8" stroke-linejoin="round"/>
<polygon points="299.3,1327.2 295.5,1330.2 310.3,1324.9 314,1321.9" fill="#fff" stroke="#000" stroke-width="1.8" stroke-linejoin="round"/>
<polygon points="302.3,1338 303.2,1342.2 317.9,1336.8 317.1,1332.6" fill="#fff" stroke="#000" stroke-width="1.8" stroke-linejoin="round"/>
<polygon points="291.2,1309.2 293.2,1312.9 308,1307.6 305.9,1303.8" fill="#fff" stroke="#000" stroke-width="1.8" stroke-linejoin="round"/>
<polygon points="297.8,1323.1 299.3,1327.2 314,1321.9 312.6,1317.8" fill="#fff" stroke="#000" stroke-width="1.8" stroke-linejoin="round"/>
<polygon points="293,1323.2 297.8,1323.1 299.3,1327.2 295.5,1330.2 296.5,1333.2 297.3,1336.3 302.3,1338 303.2,1342.2 298.7,1343.4 299.2,1346.5 299.5,1349.5 304.5,1352.8 304.7,1356.9 299.8,1356.4 299.7,1359.2 299.5,1362 304.3,1366.8 303.8,1370.5 298.7,1368.2 298.1,1370.7 297.4,1373.1 301.6,1379.2 300.4,1382.3 295.4,1378.4 294.4,1380.4 293.3,1382.3 296.6,1389.2 294.8,1391.5 290.3,1386.2 288.8,1387.6 287.3,1388.9 289.6,1396.2 287.3,1397.6 283.5,1391.2 281.7,1392 279.9,1392.5 281,1399.9 278.4,1400.3 275.4,1393.2 273.4,1393.2 271.4,1393 271.3,1400 268.5,1399.4 266.6,1392 264.5,1391.3 262.4,1390.4 261.1,1396.6 258.3,1395 257.5,1387.7 255.5,1386.2 253.4,1384.7 251,1389.7 248.2,1387.2 248.8,1380.5 246.8,1378.5 244.9,1376.3 241.5,1379.9 239,1376.7 240.7,1370.8 239.1,1368.3 237.5,1365.7 233.2,1367.6 231.2,1363.9 234,1359.3 232.6,1356.5 231.4,1353.6 226.6,1353.7 225.1,1349.6 228.9,1346.6 227.9,1343.6 227.1,1340.5 222.1,1338.8 221.2,1334.6 225.7,1333.4 225.2,1330.3 224.9,1327.3 219.9,1324 219.7,1319.9 224.6,1320.4 224.7,1317.6 224.9,1314.8 220.1,1310 220.6,1306.3 225.7,1308.6 226.3,1306.1 227,1303.7 222.8,1297.6 224,1294.5 229,1298.4 230,1296.4 231.1,1294.5 227.8,1287.6 229.6,1285.3 234.1,1290.6 235.6,1289.2 237.1,1287.9 234.8,1280.6 237.1,1279.2 240.9,1285.6 242.7,1284.8 244.5,1284.3 243.4,1276.9 246,1276.5 249,1283.6 251,1283.6 253,1283.8 253.1,1276.8 255.9,1277.4 257.8,1284.8 259.9,1285.5 262,1286.4 263.3,1280.2 266.1,1281.8 266.9,1289.1 268.9,1290.6 271,1292.1 273.4,1287.1 276.2,1289.6 275.6,1296.3 277.6,1298.3 279.5,1300.5 282.9,1296.9 285.4,1300.1 283.7,1306 285.3,1308.5 286.9,1311.1 291.2,1309.2 293.2,1312.9 290.4,1317.5 291.8,1320.3" fill="#fff" stroke="#000" stroke-width="2" stroke-linejoin="round"/>
<ellipse cx="260" cy="1340" rx="28.2" ry="47" transform="rotate(-20 260 1340)" fill="#fff" stroke="#000" stroke-width="2.1"/>
<ellipse cx="260" cy="1340" rx="26.4" ry="44" transform="rotate(-20 260 1340)" fill="none" stroke="#000" stroke-width="1.1"/>
<polygon points="241.3,1301.7 243.2,1300.5 245.3,1299.6 247.5,1299 249.7,1298.7 252.1,1298.7 254.5,1299 256.9,1299.6 259.4,1300.6 260.3,1301.9 260.9,1304.5 261.2,1307.9 261,1311 260.4,1313 259.6,1313.4 257.9,1312.8 256.3,1312.4 254.7,1312.1 253.1,1312.1 251.5,1312.3 250.1,1312.7 248.7,1313.4 247.4,1314.2 246.5,1313.7 245,1311.8 243.3,1308.8 241.8,1305.7 241.1,1303.1" fill="#fff" stroke="#000" stroke-width="1.8" />
<polygon points="269.1,1307.3 271.4,1309.6 273.6,1312.2 275.8,1314.9 277.8,1317.9 279.6,1321 281.3,1324.3 282.9,1327.7 284.2,1331.2 284.2,1332.6 283,1334 281.1,1335.1 279.1,1335.5 277.3,1335.1 276.4,1334 275.4,1331.7 274.4,1329.4 273.2,1327.2 272,1325.1 270.6,1323.1 269.2,1321.2 267.7,1319.5 266.1,1317.9 265.8,1316.7 265.8,1314.3 266.2,1311.4 267.1,1308.7 268.1,1307.2" fill="#fff" stroke="#000" stroke-width="1.8" />
<polygon points="287.8,1345.5 288.2,1349.1 288.3,1352.6 288.3,1355.9 288,1359.2 287.5,1362.3 286.8,1365.3 286,1368 284.9,1370.6 283.9,1370.8 282.1,1369.5 279.9,1367.2 278,1364.5 276.9,1362.1 276.8,1360.6 277.5,1358.9 278.1,1357.1 278.6,1355.1 278.9,1353 279.1,1350.8 279.1,1348.5 279,1346.1 278.8,1343.7 279.2,1343 280.8,1342.5 283,1342.5 285.2,1343.1 287,1344.2" fill="#fff" stroke="#000" stroke-width="1.8" />
<polygon points="278.7,1378.3 276.8,1379.5 274.7,1380.4 272.5,1381 270.3,1381.3 267.9,1381.3 265.5,1381 263.1,1380.4 260.6,1379.4 259.7,1378.1 259.1,1375.5 258.8,1372.1 259,1369 259.6,1367 260.4,1366.6 262.1,1367.2 263.7,1367.6 265.3,1367.9 266.9,1367.9 268.5,1367.7 269.9,1367.3 271.3,1366.6 272.6,1365.8 273.5,1366.3 275,1368.2 276.7,1371.2 278.2,1374.3 278.9,1376.9" fill="#fff" stroke="#000" stroke-width="1.8" />
<polygon points="250.9,1372.7 248.6,1370.4 246.4,1367.8 244.2,1365.1 242.2,1362.1 240.4,1359 238.7,1355.7 237.1,1352.3 235.8,1348.8 235.8,1347.4 237,1346 238.9,1344.9 240.9,1344.5 242.7,1344.9 243.6,1346 244.6,1348.3 245.6,1350.6 246.8,1352.8 248,1354.9 249.4,1356.9 250.8,1358.8 252.3,1360.5 253.9,1362.1 254.2,1363.3 254.2,1365.7 253.8,1368.6 252.9,1371.3 251.9,1372.8" fill="#fff" stroke="#000" stroke-width="1.8" />
<polygon points="232.2,1334.5 231.8,1330.9 231.7,1327.4 231.7,1324.1 232,1320.8 232.5,1317.7 233.2,1314.7 234,1312 235.1,1309.4 236.1,1309.2 237.9,1310.5 240.1,1312.8 242,1315.5 243.1,1317.9 243.2,1319.4 242.5,1321.1 241.9,1322.9 241.4,1324.9 241.1,1327 240.9,1329.2 240.9,1331.5 241,1333.9 241.2,1336.3 240.8,1337 239.2,1337.5 237,1337.5 234.8,1336.9 233,1335.8" fill="#fff" stroke="#000" stroke-width="1.8" />
<ellipse cx="262" cy="1339" rx="15" ry="25" transform="rotate(-20 262 1339)" fill="#fff" stroke="#000" stroke-width="1.8"/>
<polyline points="276.5,1358.7 274.8,1358.3 273,1357.5 271.3,1356.5 269.5,1355.3 267.9,1353.8 266.2,1352.1 264.7,1350.3 263.3,1348.2 261.9,1346 260.7,1343.7 259.7,1341.3 258.7,1338.8 258,1336.2 257.4,1333.7 257,1331.1 256.8,1328.6 256.8,1326.2 257,1323.9 257.3,1321.7 257.8,1319.6 258.5,1317.7 259.4,1316.1 260.4,1314.6" fill="none" stroke="#000" stroke-width="1.5" />
<text transform="translate(251.2,1233.8) scale(0.9,1)" text-anchor="middle" font-size="26.5" stroke="#000" stroke-width="0.45">22</text>
<line x1="250.8" y1="1236.8" x2="250.8" y2="1272" stroke="#000" stroke-width="1.8"/>
<polygon points="190.2,1330.2 194,1328.9 196.2,1328.3 198.4,1328 200.8,1328.1 203.2,1328.6 205.6,1329.4 208,1330.6 210.4,1332 212.8,1333.8 215,1335.9 217.2,1338.2 219.2,1340.8 221.1,1343.6 222.8,1346.6 224.3,1349.7 225.6,1353 226.7,1356.3 227.5,1359.7 228.2,1363.1 228.5,1366.4 228.6,1369.7 228.5,1372.9 228.1,1375.9 227.5,1378.8 226.6,1381.5 225.5,1383.9 224.1,1386.1 222.6,1388 220.9,1389.6 219,1390.9 216.9,1391.8 213.2,1393.2 215.2,1392.2 217.1,1391 218.8,1389.4 220.4,1387.5 221.7,1385.3 222.8,1382.9 223.7,1380.2 224.3,1377.3 224.7,1374.3 224.9,1371.1 224.8,1367.8 224.4,1364.5 223.8,1361.1 222.9,1357.7 221.8,1354.4 220.5,1351.1 219,1348 217.3,1345 215.4,1342.2 213.4,1339.6 211.3,1337.3 209,1335.2 206.7,1333.4 204.3,1331.9 201.9,1330.8 199.4,1330 197,1329.5 194.7,1329.4 192.4,1329.6 190.2,1330.2" fill="#fff" stroke="#000" stroke-width="2.1" />
<ellipse cx="201.7" cy="1361.7" rx="21.4" ry="33.5" transform="rotate(-20 201.7 1361.7)" fill="#fff" stroke="#000" stroke-width="2.1"/>
<polygon points="184.9,1352.6 187.4,1352.2 187.4,1352.2 184.9,1352.6" fill="#fff" stroke="#000" stroke-width="2.7" stroke-linejoin="round"/>
<polygon points="204.3,1382.2 203.3,1385.2 203.3,1385.2 204.3,1382.2" fill="#fff" stroke="#000" stroke-width="2.7" stroke-linejoin="round"/>
<polygon points="193.1,1338.2 194.5,1337.8 194.5,1337.8 193.1,1338.2" fill="#fff" stroke="#000" stroke-width="2.7" stroke-linejoin="round"/>
<polygon points="211.5,1384.6 210.3,1385.2 210.3,1385.2 211.5,1384.6" fill="#fff" stroke="#000" stroke-width="2.7" stroke-linejoin="round"/>
<polygon points="194.5,1337.8 196.6,1341 196.6,1341 194.5,1337.8" fill="#fff" stroke="#000" stroke-width="2.7" stroke-linejoin="round"/>
<polygon points="212.6,1383.9 211.5,1384.6 211.5,1384.6 212.6,1383.9" fill="#fff" stroke="#000" stroke-width="2.7" stroke-linejoin="round"/>
<polygon points="196.6,1341 197.8,1341 197.8,1341 196.6,1341" fill="#fff" stroke="#000" stroke-width="2.7" stroke-linejoin="round"/>
<polygon points="213.7,1383 212.6,1383.9 212.6,1383.9 213.7,1383" fill="#fff" stroke="#000" stroke-width="2.7" stroke-linejoin="round"/>
<polygon points="197.8,1341 199.1,1341.2 199.1,1341.2 197.8,1341" fill="#fff" stroke="#000" stroke-width="2.7" stroke-linejoin="round"/>
<polygon points="214.7,1382 213.7,1383 213.7,1383 214.7,1382" fill="#fff" stroke="#000" stroke-width="2.7" stroke-linejoin="round"/>
<polygon points="215.6,1380.8 214.7,1382 214.7,1382 215.6,1380.8" fill="#fff" stroke="#000" stroke-width="2.7" stroke-linejoin="round"/>
<polygon points="216.4,1379.4 215.6,1380.8 215.6,1380.8 216.4,1379.4" fill="#fff" stroke="#000" stroke-width="2.7" stroke-linejoin="round"/>
<polygon points="200.1,1338.2 201.6,1338.7 201.6,1338.7 200.1,1338.2" fill="#fff" stroke="#000" stroke-width="2.7" stroke-linejoin="round"/>
<polygon points="201.6,1338.7 203.1,1339.4 203.1,1339.4 201.6,1338.7" fill="#fff" stroke="#000" stroke-width="2.7" stroke-linejoin="round"/>
<polygon points="217.1,1377.9 216.4,1379.4 216.4,1379.4 217.1,1377.9" fill="#fff" stroke="#000" stroke-width="2.7" stroke-linejoin="round"/>
<polygon points="215.4,1374.2 217.1,1377.9 217.1,1377.9 215.4,1374.2" fill="#fff" stroke="#000" stroke-width="2.7" stroke-linejoin="round"/>
<polygon points="215.8,1372.8 215.4,1374.2 215.4,1374.2 215.8,1372.8" fill="#fff" stroke="#000" stroke-width="2.7" stroke-linejoin="round"/>
<polygon points="203.1,1339.4 204.5,1340.3 204.5,1340.3 203.1,1339.4" fill="#fff" stroke="#000" stroke-width="2.7" stroke-linejoin="round"/>
<polygon points="216,1371.2 215.8,1372.8 215.8,1372.8 216,1371.2" fill="#fff" stroke="#000" stroke-width="2.7" stroke-linejoin="round"/>
<polygon points="204.5,1340.3 206,1341.3 206,1341.3 204.5,1340.3" fill="#fff" stroke="#000" stroke-width="2.7" stroke-linejoin="round"/>
<polygon points="206,1341.3 207.4,1342.5 207.4,1342.5 206,1341.3" fill="#fff" stroke="#000" stroke-width="2.7" stroke-linejoin="round"/>
<polygon points="207.4,1342.5 208.7,1343.9 208.7,1343.9 207.4,1342.5" fill="#fff" stroke="#000" stroke-width="2.7" stroke-linejoin="round"/>
<polygon points="211,1350.5 211.9,1352.1 211.9,1352.1 211,1350.5" fill="#fff" stroke="#000" stroke-width="2.7" stroke-linejoin="round"/>
<polygon points="211.9,1352.1 212.8,1353.7 212.8,1353.7 211.9,1352.1" fill="#fff" stroke="#000" stroke-width="2.7" stroke-linejoin="round"/>
<polygon points="208.7,1343.9 210,1345.4 210,1345.4 208.7,1343.9" fill="#fff" stroke="#000" stroke-width="2.7" stroke-linejoin="round"/>
<polygon points="218.6,1368.9 218.5,1370.8 218.5,1370.8 218.6,1368.9" fill="#fff" stroke="#000" stroke-width="2.7" stroke-linejoin="round"/>
<polygon points="211.3,1347 211,1350.5 211,1350.5 211.3,1347" fill="#fff" stroke="#000" stroke-width="2.7" stroke-linejoin="round"/>
<polygon points="210,1345.4 211.3,1347 211.3,1347 210,1345.4" fill="#fff" stroke="#000" stroke-width="2.7" stroke-linejoin="round"/>
<polygon points="218.5,1366.8 218.6,1368.9 218.6,1368.9 218.5,1366.8" fill="#fff" stroke="#000" stroke-width="2.7" stroke-linejoin="round"/>
<polygon points="212.8,1353.7 215.5,1354.4 215.5,1354.4 212.8,1353.7" fill="#fff" stroke="#000" stroke-width="2.7" stroke-linejoin="round"/>
<polygon points="218.3,1364.8 218.5,1366.8 218.5,1366.8 218.3,1364.8" fill="#fff" stroke="#000" stroke-width="2.7" stroke-linejoin="round"/>
<polygon points="218,1362.7 218.3,1364.8 218.3,1364.8 218,1362.7" fill="#fff" stroke="#000" stroke-width="2.7" stroke-linejoin="round"/>
<polygon points="217.5,1360.6 218,1362.7 218,1362.7 217.5,1360.6" fill="#fff" stroke="#000" stroke-width="2.7" stroke-linejoin="round"/>
<polygon points="217,1358.5 217.5,1360.6 217.5,1360.6 217,1358.5" fill="#fff" stroke="#000" stroke-width="2.7" stroke-linejoin="round"/>
<polygon points="216.3,1356.4 217,1358.5 217,1358.5 216.3,1356.4" fill="#fff" stroke="#000" stroke-width="2.7" stroke-linejoin="round"/>
<polygon points="215.5,1354.4 216.3,1356.4 216.3,1356.4 215.5,1354.4" fill="#fff" stroke="#000" stroke-width="2.7" stroke-linejoin="round"/>
<polygon points="216.3,1356.4 217,1358.5 217.5,1360.6 218,1362.7 218.3,1364.8 218.5,1366.8 218.6,1368.9 218.5,1370.8 216,1371.2 215.8,1372.8 215.4,1374.2 217.1,1377.9 216.4,1379.4 215.6,1380.8 214.7,1382 213.7,1383 212.6,1383.9 211.5,1384.6 210.3,1385.2 208.9,1385.6 206.8,1382.4 205.6,1382.4 204.3,1382.2 203.3,1385.2 201.8,1384.7 200.3,1384 198.9,1383.1 197.4,1382.1 196,1380.9 194.7,1379.5 193.4,1378 192.1,1376.4 192.4,1372.9 191.5,1371.3 190.6,1369.7 187.9,1369 187.1,1367 186.4,1364.9 185.9,1362.8 185.4,1360.7 185.1,1358.6 184.9,1356.6 184.8,1354.5 184.9,1352.6 187.4,1352.2 187.6,1350.6 188,1349.2 186.3,1345.5 187,1344 187.8,1342.6 188.7,1341.4 189.7,1340.4 190.8,1339.5 191.9,1338.8 193.1,1338.2 194.5,1337.8 196.6,1341 197.8,1341 199.1,1341.2 200.1,1338.2 201.6,1338.7 203.1,1339.4 204.5,1340.3 206,1341.3 207.4,1342.5 208.7,1343.9 210,1345.4 211.3,1347 211,1350.5 211.9,1352.1 212.8,1353.7 215.5,1354.4" fill="#fff" stroke="#000" stroke-width="3" stroke-linejoin="round"/>
<text transform="translate(193.2,1279.6) scale(0.9,1)" text-anchor="middle" font-size="26.5" stroke="#000" stroke-width="0.45">28</text>
<line x1="192.8" y1="1283.6" x2="192.8" y2="1329.4" stroke="#000" stroke-width="1.8"/>
<polygon points="162.3,1407.2 160.2,1406.4 158,1405.3 155.8,1404 153.7,1402.4 151.6,1400.5 149.7,1398.4 147.8,1396.1 146,1393.7 144.4,1391 142.8,1388.2 141.5,1385.3 140.3,1382.3 139.3,1379.3 138.5,1376.2 137.9,1373.1 137.4,1370 137.2,1366.9 137.2,1364 137.4,1361.1 137.8,1358.4 138.4,1355.8 139.2,1353.4 140.2,1351.2 141.3,1349.2 142.7,1347.4 144.2,1345.9 145.8,1344.7 147.6,1343.7 149.4,1343 151.4,1342.6 153.5,1342.5 155.6,1342.7 157.7,1343.1 159.9,1343.9 162.1,1345 164.2,1346.3 166.3,1347.9 168.4,1349.7 170.4,1351.7 172.3,1354 174.1,1356.5 175.8,1359.1 177.3,1361.9 178.7,1364.8 179.9,1367.7 180.9,1370.8 181.7,1373.9 182.4,1377 182.8,1380.1 183.1,1383.1 183.1,1386.1 183,1389 182.6,1391.7 182,1394.3 181.2,1396.8 180.3,1399 179.1,1401 177.8,1402.8 176.4,1404.4 174.7,1405.7 172.4,1400.7 173.7,1399.7 175,1398.4 176.1,1396.9 177,1395.2 177.8,1393.3 178.5,1391.2 179,1389.1 179.3,1386.8 179.4,1384.3 179.4,1381.9 179.2,1379.3 178.8,1376.7 178.2,1374.1 177.5,1371.5 176.7,1369 175.7,1366.5 174.5,1364 173.2,1361.7 171.8,1359.5 170.3,1357.4 168.7,1355.5 167.1,1353.8 165.3,1352.3 163.6,1351 161.8,1349.9 159.9,1349 158.1,1348.3 156.3,1347.9 154.5,1347.8 152.8,1347.9 151.2,1348.2 149.6,1348.8 148.1,1349.6 146.7,1350.7 145.5,1351.9 144.4,1353.4 143.4,1355.1 142.6,1356.9 141.9,1358.9 141.4,1361.1 141.1,1363.4 140.9,1365.8 140.9,1368.3 141.1,1370.8 141.5,1373.4 142,1376 142.7,1378.6 143.5,1381.2 144.5,1383.7 145.6,1386.1 146.9,1388.5 148.3,1390.7 149.8,1392.8 151.4,1394.7 153,1396.4 154.7,1398 156.5,1399.3 158.3,1400.5 160.2,1401.4 162,1402.1" fill="#fff" stroke="#000" stroke-width="2.2" />
<polygon points="158.6,1408.6 156.4,1407.8 154.2,1406.7 152.1,1405.4 149.9,1403.7 147.9,1401.9 145.9,1399.8 144,1397.5 142.2,1395 140.6,1392.4 139.1,1389.6 137.7,1386.7 136.6,1383.7 135.5,1380.6 134.7,1377.5 134.1,1374.4 133.7,1371.4 133.5,1368.3 133.5,1365.4 133.6,1362.5 134,1359.8 134.6,1357.2 135.4,1354.8 136.4,1352.5 137.6,1350.6 138.9,1348.8 140.4,1347.3 142,1346 143.8,1345.1 145.7,1344.4 147.6,1344 149.7,1343.8 151.8,1344 154,1344.5 156.1,1345.3 158.3,1346.3 160.5,1347.6 162.6,1349.2 164.7,1351.1 166.6,1353.1 168.5,1355.4 170.3,1357.8 172,1360.5 173.5,1363.2 174.9,1366.1 176.1,1369.1 177.1,1372.2 178,1375.3 178.6,1378.4 179.1,1381.5 179.3,1384.5 179.4,1387.5 179.2,1390.3 178.8,1393.1 178.2,1395.7 177.5,1398.1 176.5,1400.4 175.4,1402.4 174.1,1404.2 172.6,1405.7 171,1407 168.6,1402.1 170,1401 171.2,1399.7 172.3,1398.2 173.3,1396.5 174.1,1394.7 174.7,1392.6 175.2,1390.4 175.5,1388.1 175.6,1385.7 175.6,1383.2 175.4,1380.7 175,1378.1 174.5,1375.5 173.8,1372.9 172.9,1370.3 171.9,1367.8 170.8,1365.4 169.5,1363.1 168.1,1360.9 166.6,1358.8 165,1356.9 163.3,1355.2 161.6,1353.7 159.8,1352.3 158,1351.2 156.2,1350.3 154.3,1349.7 152.5,1349.3 150.8,1349.1 149.1,1349.2 147.4,1349.6 145.8,1350.2 144.4,1351 143,1352 141.7,1353.3 140.6,1354.8 139.7,1356.4 138.8,1358.3 138.2,1360.3 137.7,1362.5 137.3,1364.8 137.2,1367.2 137.2,1369.7 137.4,1372.2 137.7,1374.8 138.2,1377.4 138.9,1380 139.8,1382.5 140.8,1385.1 141.9,1387.5 143.2,1389.8 144.5,1392.1 146,1394.1 147.6,1396.1 149.3,1397.8 151,1399.4 152.8,1400.7 154.6,1401.8 156.4,1402.8 158.2,1403.4" fill="#fff" stroke="#000" stroke-width="2.2" />
<text transform="translate(147.4,1294.1) scale(0.9,1)" text-anchor="middle" font-size="26.5" stroke="#000" stroke-width="0.45">33</text>
<line x1="146" y1="1298" x2="146" y2="1344.7" stroke="#000" stroke-width="1.8"/>
</svg>
</body></html>
